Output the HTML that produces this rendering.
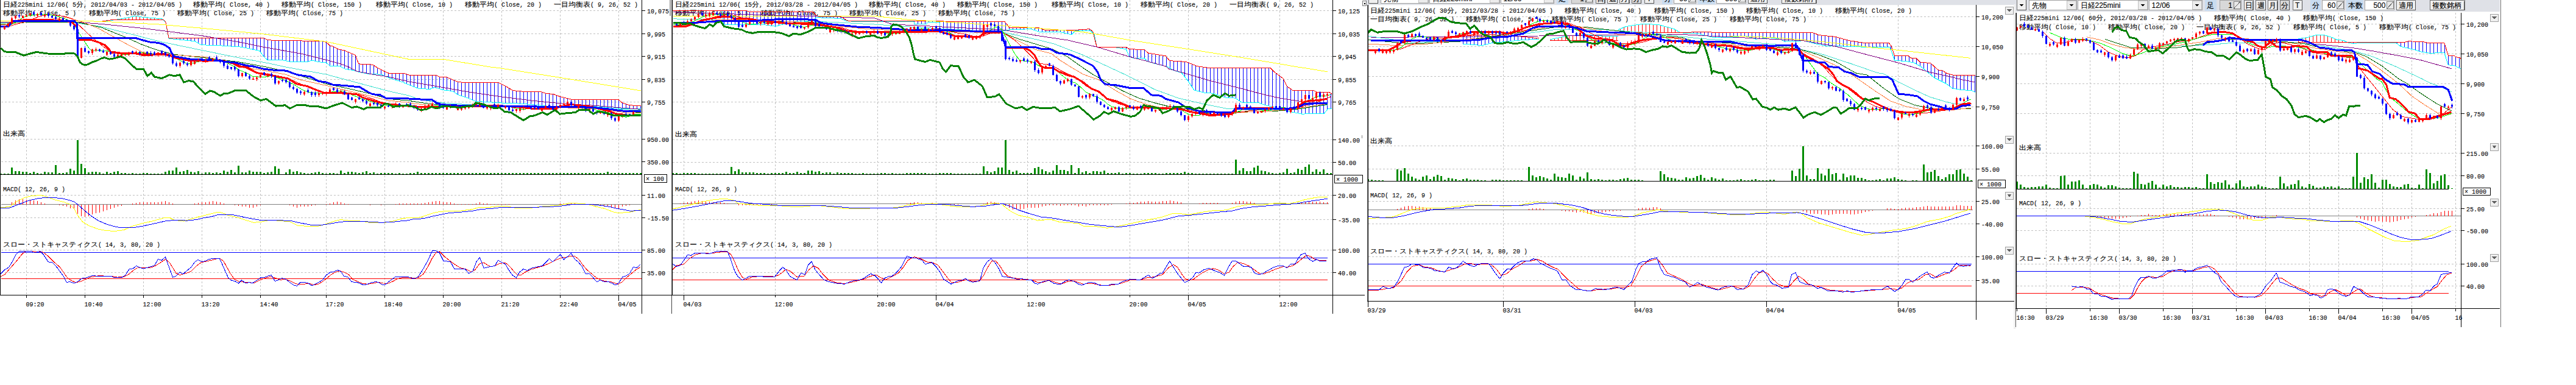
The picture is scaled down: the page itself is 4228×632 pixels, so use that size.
<!DOCTYPE html>
<html><head><meta charset="utf-8"><title>chart</title>
<style>
html,body{margin:0;padding:0;background:#fff;}
body{width:4228px;height:632px;overflow:hidden;font-family:"Liberation Mono",monospace;}
svg{display:block;position:absolute;left:0;top:0}
text{font-family:"Liberation Mono",monospace;font-size:11px;stroke:#000;stroke-width:0.12px;}
text.w{font-family:"Liberation Mono",monospace;font-size:11px;}
</style></head><body>
<svg width="4228" height="632" viewBox="0 0 4228 632" shape-rendering="crispEdges">
<rect x="2241" y="-11" width="1065" height="20" fill="#dfe1e7" />
<line x1="2241" y1="8.5" x2="3306" y2="8.5" stroke="#f8f8f8" stroke-width="1" />
<rect x="2246.5" y="-12" width="15" height="17.5" fill="#f0f0f0" stroke="#707070" stroke-width="1"/>
<line x1="2247.5" y1="5" x2="2261.5" y2="5" stroke="#505050" stroke-width="1" />
<line x1="2261" y1="-11" x2="2261" y2="5.5" stroke="#505050" stroke-width="1" />
<path d="M2250.5 -4.5 h7 l-3.5 4 z" fill="#000"/>
<rect x="2266.5" y="-10.5" width="78" height="16" fill="#fff" stroke="#a0a0a0" stroke-width="1"/>
<rect x="2328.5" y="-9.5" width="15" height="14" fill="#ececec" stroke="#c0c0c0" stroke-width="1"/>
<path d="M2332.5 -4 h7 l-3.5 4 z" fill="#000"/>
<text x="2270.5" y="2" style="font-family:'Liberation Sans',sans-serif;font-size:12px" fill="#000">先物</text>
<rect x="2346.5" y="-10.5" width="115" height="16" fill="#fff" stroke="#a0a0a0" stroke-width="1"/>
<rect x="2445.5" y="-9.5" width="15" height="14" fill="#ececec" stroke="#c0c0c0" stroke-width="1"/>
<path d="M2449.5 -4 h7 l-3.5 4 z" fill="#000"/>
<text x="2350.5" y="2" style="font-family:'Liberation Sans',sans-serif;font-size:12px" fill="#000">日経225mini</text>
<rect x="2463.5" y="-10.5" width="87" height="16" fill="#fff" stroke="#a0a0a0" stroke-width="1"/>
<rect x="2534.5" y="-9.5" width="15" height="14" fill="#ececec" stroke="#c0c0c0" stroke-width="1"/>
<path d="M2538.5 -4 h7 l-3.5 4 z" fill="#000"/>
<text x="2467.5" y="2" style="font-family:'Liberation Sans',sans-serif;font-size:12px" fill="#000">12/06</text>
<rect x="2555" y="-11" width="19" height="18" fill="#c9dcf0" />
<text x="2558" y="1.5" style="font-family:'Liberation Sans',sans-serif;font-size:12px" fill="#000">足</text>
<rect x="2579" y="-10.5" width="35" height="16" fill="#d8d8d8" stroke="#a0a0a0" stroke-width="1"/>
<rect x="2602" y="-8.5" width="11" height="12" fill="#e8e8e8" stroke="#808080" stroke-width="1"/>
<line x1="2602" y1="3.5" x2="2613" y2="-8.5" stroke="#606060" stroke-width="1" />
<text x="2593.3" y="2" style="font-family:'Liberation Sans',sans-serif;font-size:12px" fill="#000">1</text>
<rect x="2619.5" y="-10.5" width="14.5" height="16" fill="#f0f0f0" stroke="#707070" stroke-width="1"/>
<line x1="2620.5" y1="5" x2="2634" y2="5" stroke="#505050" stroke-width="1" />
<line x1="2633.5" y1="-9.5" x2="2633.5" y2="5.5" stroke="#505050" stroke-width="1" />
<text x="2621" y="2" style="font-family:'Liberation Sans',sans-serif;font-size:12px" fill="#000">日</text>
<rect x="2638.5" y="-10.5" width="16" height="16" fill="#f0f0f0" stroke="#707070" stroke-width="1"/>
<line x1="2639.5" y1="5" x2="2654.5" y2="5" stroke="#505050" stroke-width="1" />
<line x1="2654" y1="-9.5" x2="2654" y2="5.5" stroke="#505050" stroke-width="1" />
<text x="2640.5" y="2" style="font-family:'Liberation Sans',sans-serif;font-size:12px" fill="#000">週</text>
<rect x="2658.5" y="-10.5" width="15.5" height="16" fill="#f0f0f0" stroke="#707070" stroke-width="1"/>
<line x1="2659.5" y1="5" x2="2674" y2="5" stroke="#505050" stroke-width="1" />
<line x1="2673.5" y1="-9.5" x2="2673.5" y2="5.5" stroke="#505050" stroke-width="1" />
<text x="2660" y="2" style="font-family:'Liberation Sans',sans-serif;font-size:12px" fill="#000">月</text>
<rect x="2678.5" y="-10.5" width="15" height="16" fill="#d8d8d8" stroke="#707070" stroke-width="1"/>
<line x1="2679.5" y1="5" x2="2693.5" y2="5" stroke="#505050" stroke-width="1" />
<line x1="2693" y1="-9.5" x2="2693" y2="5.5" stroke="#505050" stroke-width="1" />
<text x="2680" y="2" style="font-family:'Liberation Sans',sans-serif;font-size:12px" fill="#000">分</text>
<rect x="2699.5" y="-10.5" width="15" height="16" fill="#f0f0f0" stroke="#707070" stroke-width="1"/>
<line x1="2700.5" y1="5" x2="2714.5" y2="5" stroke="#505050" stroke-width="1" />
<line x1="2714" y1="-9.5" x2="2714" y2="5.5" stroke="#505050" stroke-width="1" />
<text x="2703" y="2" style="font-family:'Liberation Sans',sans-serif;font-size:12px" fill="#000">T</text>
<rect x="2727.5" y="-11" width="17" height="18" fill="#c9dcf0" />
<text x="2730.5" y="1.5" style="font-family:'Liberation Sans',sans-serif;font-size:12px" fill="#000">分</text>
<rect x="2747" y="-10.5" width="36.5" height="16" fill="#fff" stroke="#a0a0a0" stroke-width="1"/>
<rect x="2771.5" y="-8.5" width="11" height="12" fill="#e8e8e8" stroke="#808080" stroke-width="1"/>
<line x1="2771.5" y1="3.5" x2="2782.5" y2="-8.5" stroke="#606060" stroke-width="1" />
<text x="2756.1" y="2" style="font-family:'Liberation Sans',sans-serif;font-size:12px" fill="#000">60</text>
<rect x="2787" y="-11" width="27.5" height="18" fill="#c9dcf0" />
<text x="2790" y="1.5" style="font-family:'Liberation Sans',sans-serif;font-size:12px" fill="#000">本数</text>
<rect x="2817" y="-10.5" width="48.5" height="16" fill="#fff" stroke="#a0a0a0" stroke-width="1"/>
<rect x="2853.5" y="-8.5" width="11" height="12" fill="#e8e8e8" stroke="#808080" stroke-width="1"/>
<line x1="2853.5" y1="3.5" x2="2864.5" y2="-8.5" stroke="#606060" stroke-width="1" />
<text x="2831.4" y="2" style="font-family:'Liberation Sans',sans-serif;font-size:12px" fill="#000">500</text>
<rect x="2869" y="-10.5" width="31.5" height="16" fill="#f0f0f0" stroke="#707070" stroke-width="1"/>
<line x1="2870" y1="5" x2="2900.5" y2="5" stroke="#505050" stroke-width="1" />
<line x1="2900" y1="-9.5" x2="2900" y2="5.5" stroke="#505050" stroke-width="1" />
<text x="2873" y="2" style="font-family:'Liberation Sans',sans-serif;font-size:12px" fill="#000">適用</text>
<rect x="2924" y="-10.5" width="57" height="16" fill="#f0f0f0" stroke="#707070" stroke-width="1"/>
<line x1="2925" y1="5" x2="2981" y2="5" stroke="#505050" stroke-width="1" />
<line x1="2980.5" y1="-9.5" x2="2980.5" y2="5.5" stroke="#505050" stroke-width="1" />
<text x="2928" y="2" style="font-family:'Liberation Sans',sans-serif;font-size:12px" fill="#000">複数銘柄</text>
<rect x="3306" y="0" width="797" height="20" fill="#dfe1e7" />
<line x1="3306" y1="19.5" x2="4103" y2="19.5" stroke="#f8f8f8" stroke-width="1" />
<rect x="3310.5" y="-1" width="15" height="17.5" fill="#f0f0f0" stroke="#707070" stroke-width="1"/>
<line x1="3311.5" y1="16" x2="3325.5" y2="16" stroke="#505050" stroke-width="1" />
<line x1="3325" y1="0" x2="3325" y2="16.5" stroke="#505050" stroke-width="1" />
<path d="M3314.5 6.5 h7 l-3.5 4 z" fill="#000"/>
<rect x="3330.5" y="0.5" width="78" height="16" fill="#fff" stroke="#a0a0a0" stroke-width="1"/>
<rect x="3392.5" y="1.5" width="15" height="14" fill="#ececec" stroke="#c0c0c0" stroke-width="1"/>
<path d="M3396.5 7 h7 l-3.5 4 z" fill="#000"/>
<text x="3334.5" y="13" style="font-family:'Liberation Sans',sans-serif;font-size:12px" fill="#000">先物</text>
<rect x="3410.5" y="0.5" width="115" height="16" fill="#fff" stroke="#a0a0a0" stroke-width="1"/>
<rect x="3509.5" y="1.5" width="15" height="14" fill="#ececec" stroke="#c0c0c0" stroke-width="1"/>
<path d="M3513.5 7 h7 l-3.5 4 z" fill="#000"/>
<text x="3414.5" y="13" style="font-family:'Liberation Sans',sans-serif;font-size:12px" fill="#000">日経225mini</text>
<rect x="3527.5" y="0.5" width="87" height="16" fill="#fff" stroke="#a0a0a0" stroke-width="1"/>
<rect x="3598.5" y="1.5" width="15" height="14" fill="#ececec" stroke="#c0c0c0" stroke-width="1"/>
<path d="M3602.5 7 h7 l-3.5 4 z" fill="#000"/>
<text x="3531.5" y="13" style="font-family:'Liberation Sans',sans-serif;font-size:12px" fill="#000">12/06</text>
<rect x="3619" y="0" width="19" height="18" fill="#c9dcf0" />
<text x="3622" y="12.5" style="font-family:'Liberation Sans',sans-serif;font-size:12px" fill="#000">足</text>
<rect x="3643" y="0.5" width="35" height="16" fill="#d8d8d8" stroke="#a0a0a0" stroke-width="1"/>
<rect x="3666" y="2.5" width="11" height="12" fill="#e8e8e8" stroke="#808080" stroke-width="1"/>
<line x1="3666" y1="14.5" x2="3677" y2="2.5" stroke="#606060" stroke-width="1" />
<text x="3657.3" y="13" style="font-family:'Liberation Sans',sans-serif;font-size:12px" fill="#000">1</text>
<rect x="3683.5" y="0.5" width="14.5" height="16" fill="#f0f0f0" stroke="#707070" stroke-width="1"/>
<line x1="3684.5" y1="16" x2="3698" y2="16" stroke="#505050" stroke-width="1" />
<line x1="3697.5" y1="1.5" x2="3697.5" y2="16.5" stroke="#505050" stroke-width="1" />
<text x="3685" y="13" style="font-family:'Liberation Sans',sans-serif;font-size:12px" fill="#000">日</text>
<rect x="3702.5" y="0.5" width="16" height="16" fill="#f0f0f0" stroke="#707070" stroke-width="1"/>
<line x1="3703.5" y1="16" x2="3718.5" y2="16" stroke="#505050" stroke-width="1" />
<line x1="3718" y1="1.5" x2="3718" y2="16.5" stroke="#505050" stroke-width="1" />
<text x="3704.5" y="13" style="font-family:'Liberation Sans',sans-serif;font-size:12px" fill="#000">週</text>
<rect x="3722.5" y="0.5" width="15.5" height="16" fill="#f0f0f0" stroke="#707070" stroke-width="1"/>
<line x1="3723.5" y1="16" x2="3738" y2="16" stroke="#505050" stroke-width="1" />
<line x1="3737.5" y1="1.5" x2="3737.5" y2="16.5" stroke="#505050" stroke-width="1" />
<text x="3724" y="13" style="font-family:'Liberation Sans',sans-serif;font-size:12px" fill="#000">月</text>
<rect x="3742.5" y="0.5" width="15" height="16" fill="#d8d8d8" stroke="#707070" stroke-width="1"/>
<line x1="3743.5" y1="16" x2="3757.5" y2="16" stroke="#505050" stroke-width="1" />
<line x1="3757" y1="1.5" x2="3757" y2="16.5" stroke="#505050" stroke-width="1" />
<text x="3744" y="13" style="font-family:'Liberation Sans',sans-serif;font-size:12px" fill="#000">分</text>
<rect x="3763.5" y="0.5" width="15" height="16" fill="#f0f0f0" stroke="#707070" stroke-width="1"/>
<line x1="3764.5" y1="16" x2="3778.5" y2="16" stroke="#505050" stroke-width="1" />
<line x1="3778" y1="1.5" x2="3778" y2="16.5" stroke="#505050" stroke-width="1" />
<text x="3767" y="13" style="font-family:'Liberation Sans',sans-serif;font-size:12px" fill="#000">T</text>
<rect x="3791.5" y="0" width="17" height="18" fill="#c9dcf0" />
<text x="3794.5" y="12.5" style="font-family:'Liberation Sans',sans-serif;font-size:12px" fill="#000">分</text>
<rect x="3811" y="0.5" width="36.5" height="16" fill="#fff" stroke="#a0a0a0" stroke-width="1"/>
<rect x="3835.5" y="2.5" width="11" height="12" fill="#e8e8e8" stroke="#808080" stroke-width="1"/>
<line x1="3835.5" y1="14.5" x2="3846.5" y2="2.5" stroke="#606060" stroke-width="1" />
<text x="3820.1" y="13" style="font-family:'Liberation Sans',sans-serif;font-size:12px" fill="#000">60</text>
<rect x="3851" y="0" width="27.5" height="18" fill="#c9dcf0" />
<text x="3854" y="12.5" style="font-family:'Liberation Sans',sans-serif;font-size:12px" fill="#000">本数</text>
<rect x="3881" y="0.5" width="48.5" height="16" fill="#fff" stroke="#a0a0a0" stroke-width="1"/>
<rect x="3917.5" y="2.5" width="11" height="12" fill="#e8e8e8" stroke="#808080" stroke-width="1"/>
<line x1="3917.5" y1="14.5" x2="3928.5" y2="2.5" stroke="#606060" stroke-width="1" />
<text x="3895.4" y="13" style="font-family:'Liberation Sans',sans-serif;font-size:12px" fill="#000">500</text>
<rect x="3933" y="0.5" width="31.5" height="16" fill="#f0f0f0" stroke="#707070" stroke-width="1"/>
<line x1="3934" y1="16" x2="3964.5" y2="16" stroke="#505050" stroke-width="1" />
<line x1="3964" y1="1.5" x2="3964" y2="16.5" stroke="#505050" stroke-width="1" />
<text x="3937" y="13" style="font-family:'Liberation Sans',sans-serif;font-size:12px" fill="#000">適用</text>
<rect x="3988" y="0.5" width="57" height="16" fill="#f0f0f0" stroke="#707070" stroke-width="1"/>
<line x1="3989" y1="16" x2="4045" y2="16" stroke="#505050" stroke-width="1" />
<line x1="4044.5" y1="1.5" x2="4044.5" y2="16.5" stroke="#505050" stroke-width="1" />
<text x="3992" y="13" style="font-family:'Liberation Sans',sans-serif;font-size:12px" fill="#000">複数銘柄</text>
<rect x="3305" y="7" width="3" height="533" fill="#f0f0f0" />
<rect x="2236.5" y="1.5" width="6" height="8" fill="#f0f0f0" stroke="#808080" stroke-width="1"/>
<path d="M2238 4.5 h4 l-2 3 z" fill="#000"/>
<rect x="2234" y="222" width="3" height="5" fill="#d0d0d0" />
<line x1="43.5" y1="0" x2="43.5" y2="484" stroke="#c0c0c0" stroke-width="1" stroke-dasharray="3 3"/>
<line x1="139.5" y1="0" x2="139.5" y2="484" stroke="#c0c0c0" stroke-width="1" stroke-dasharray="3 3"/>
<line x1="235.5" y1="0" x2="235.5" y2="484" stroke="#c0c0c0" stroke-width="1" stroke-dasharray="3 3"/>
<line x1="331.5" y1="0" x2="331.5" y2="484" stroke="#c0c0c0" stroke-width="1" stroke-dasharray="3 3"/>
<line x1="427.5" y1="0" x2="427.5" y2="484" stroke="#c0c0c0" stroke-width="1" stroke-dasharray="3 3"/>
<line x1="535.5" y1="0" x2="535.5" y2="484" stroke="#c0c0c0" stroke-width="1" stroke-dasharray="3 3"/>
<line x1="631.5" y1="0" x2="631.5" y2="484" stroke="#c0c0c0" stroke-width="1" stroke-dasharray="3 3"/>
<line x1="727.5" y1="0" x2="727.5" y2="484" stroke="#c0c0c0" stroke-width="1" stroke-dasharray="3 3"/>
<line x1="823.5" y1="0" x2="823.5" y2="484" stroke="#c0c0c0" stroke-width="1" stroke-dasharray="3 3"/>
<line x1="919.5" y1="0" x2="919.5" y2="484" stroke="#c0c0c0" stroke-width="1" stroke-dasharray="3 3"/>
<line x1="1015.5" y1="0" x2="1015.5" y2="484" stroke="#c0c0c0" stroke-width="1" stroke-dasharray="3 3"/>
<line x1="2" y1="17.5" x2="1053" y2="17.5" stroke="#c0c0c0" stroke-width="1" stroke-dasharray="3 3"/>
<line x1="2" y1="55.5" x2="1053" y2="55.5" stroke="#c0c0c0" stroke-width="1" stroke-dasharray="3 3"/>
<line x1="2" y1="92.5" x2="1053" y2="92.5" stroke="#c0c0c0" stroke-width="1" stroke-dasharray="3 3"/>
<line x1="2" y1="130.5" x2="1053" y2="130.5" stroke="#c0c0c0" stroke-width="1" stroke-dasharray="3 3"/>
<line x1="2" y1="167.5" x2="1053" y2="167.5" stroke="#c0c0c0" stroke-width="1" stroke-dasharray="3 3"/>
<line x1="2" y1="228.5" x2="1053" y2="228.5" stroke="#c0c0c0" stroke-width="1" stroke-dasharray="3 3"/>
<line x1="2" y1="265.5" x2="1053" y2="265.5" stroke="#c0c0c0" stroke-width="1" stroke-dasharray="3 3"/>
<line x1="2" y1="320.5" x2="1053" y2="320.5" stroke="#c0c0c0" stroke-width="1" stroke-dasharray="3 3"/>
<line x1="2" y1="357.5" x2="1053" y2="357.5" stroke="#c0c0c0" stroke-width="1" stroke-dasharray="3 3"/>
<line x1="2" y1="410.5" x2="1053" y2="410.5" stroke="#c0c0c0" stroke-width="1" stroke-dasharray="3 3"/>
<line x1="2" y1="447.5" x2="1053" y2="447.5" stroke="#c0c0c0" stroke-width="1" stroke-dasharray="3 3"/>
<text x="5" y="11.1" textLength="24" lengthAdjust="spacingAndGlyphs" class="w" fill="#000">日経</text>
<text x="29" y="11.1" textLength="96" lengthAdjust="spacingAndGlyphs" class="n" fill="#000" xml:space="preserve">225mini 12/06( 5</text>
<text x="125" y="11.1" textLength="12" lengthAdjust="spacingAndGlyphs" class="w" fill="#000">分</text>
<text x="137" y="11.1" textLength="162" lengthAdjust="spacingAndGlyphs" class="n" fill="#000" xml:space="preserve">, 2012/04/03 - 2012/04/05 )</text>
<text x="317" y="11.1" textLength="48" lengthAdjust="spacingAndGlyphs" class="w" fill="#000">移動平均</text>
<text x="365" y="11.1" textLength="78" lengthAdjust="spacingAndGlyphs" class="n" fill="#000" xml:space="preserve">( Close, 40 )</text>
<text x="462" y="11.1" textLength="48" lengthAdjust="spacingAndGlyphs" class="w" fill="#000">移動平均</text>
<text x="510" y="11.1" textLength="84" lengthAdjust="spacingAndGlyphs" class="n" fill="#000" xml:space="preserve">( Close, 150 )</text>
<text x="617" y="11.1" textLength="48" lengthAdjust="spacingAndGlyphs" class="w" fill="#000">移動平均</text>
<text x="665" y="11.1" textLength="78" lengthAdjust="spacingAndGlyphs" class="n" fill="#000" xml:space="preserve">( Close, 10 )</text>
<text x="763" y="11.1" textLength="48" lengthAdjust="spacingAndGlyphs" class="w" fill="#000">移動平均</text>
<text x="811" y="11.1" textLength="78" lengthAdjust="spacingAndGlyphs" class="n" fill="#000" xml:space="preserve">( Close, 20 )</text>
<text x="909" y="11.1" textLength="60" lengthAdjust="spacingAndGlyphs" class="w" fill="#000">一目均衡表</text>
<text x="969" y="11.1" textLength="78" lengthAdjust="spacingAndGlyphs" class="n" fill="#000" xml:space="preserve">( 9, 26, 52 )</text>
<text x="5" y="24.6" textLength="48" lengthAdjust="spacingAndGlyphs" class="w" fill="#000">移動平均</text>
<text x="53" y="24.6" textLength="72" lengthAdjust="spacingAndGlyphs" class="n" fill="#000" xml:space="preserve">( Close, 5 )</text>
<text x="146" y="24.6" textLength="48" lengthAdjust="spacingAndGlyphs" class="w" fill="#000">移動平均</text>
<text x="194" y="24.6" textLength="78" lengthAdjust="spacingAndGlyphs" class="n" fill="#000" xml:space="preserve">( Close, 75 )</text>
<text x="291" y="24.6" textLength="48" lengthAdjust="spacingAndGlyphs" class="w" fill="#000">移動平均</text>
<text x="339" y="24.6" textLength="78" lengthAdjust="spacingAndGlyphs" class="n" fill="#000" xml:space="preserve">( Close, 25 )</text>
<text x="437" y="24.6" textLength="48" lengthAdjust="spacingAndGlyphs" class="w" fill="#000">移動平均</text>
<text x="485" y="24.6" textLength="78" lengthAdjust="spacingAndGlyphs" class="n" fill="#000" xml:space="preserve">( Close, 75 )</text>
<text x="5" y="223.1" textLength="36" lengthAdjust="spacingAndGlyphs" class="w" fill="#000">出来高</text>
<text x="5" y="314.1" textLength="102" lengthAdjust="spacingAndGlyphs" class="n" fill="#000" xml:space="preserve">MACD( 12, 26, 9 )</text>
<text x="5" y="405.1" textLength="156" lengthAdjust="spacingAndGlyphs" class="w" fill="#000">スロー・ストキャスティクス</text>
<text x="161" y="405.1" textLength="102" lengthAdjust="spacingAndGlyphs" class="n" fill="#000" xml:space="preserve">( 14, 3, 80, 20 )</text>
<line x1="199.5" y1="32.1" x2="199.5" y2="30.7" stroke="#ff0000" stroke-width="1" />
<line x1="205.5" y1="32.1" x2="205.5" y2="29.6" stroke="#ff0000" stroke-width="1" />
<line x1="211.5" y1="32.1" x2="211.5" y2="28.5" stroke="#ff0000" stroke-width="1" />
<line x1="217.5" y1="32.1" x2="217.5" y2="27.2" stroke="#ff0000" stroke-width="1" />
<line x1="223.5" y1="32.1" x2="223.5" y2="26.3" stroke="#ff0000" stroke-width="1" />
<line x1="229.5" y1="32.1" x2="229.5" y2="27.4" stroke="#ff0000" stroke-width="1" />
<line x1="235.5" y1="32.1" x2="235.5" y2="28.3" stroke="#ff0000" stroke-width="1" />
<line x1="241.5" y1="32.1" x2="241.5" y2="28.8" stroke="#ff0000" stroke-width="1" />
<line x1="247.5" y1="32.1" x2="247.5" y2="29.3" stroke="#ff0000" stroke-width="1" />
<line x1="253.5" y1="32.1" x2="253.5" y2="29.8" stroke="#ff0000" stroke-width="1" />
<line x1="259.5" y1="32.1" x2="259.5" y2="30.3" stroke="#ff0000" stroke-width="1" />
<line x1="265.5" y1="32.1" x2="265.5" y2="31" stroke="#ff0000" stroke-width="1" />
<line x1="277.5" y1="62" x2="277.5" y2="63.4" stroke="#0000ff" stroke-width="1" />
<line x1="283.5" y1="62" x2="283.5" y2="64" stroke="#0000ff" stroke-width="1" />
<line x1="289.5" y1="62" x2="289.5" y2="64.6" stroke="#0000ff" stroke-width="1" />
<line x1="295.5" y1="62" x2="295.5" y2="65.2" stroke="#0000ff" stroke-width="1" />
<line x1="301.5" y1="62" x2="301.5" y2="65.8" stroke="#0000ff" stroke-width="1" />
<line x1="307.5" y1="62" x2="307.5" y2="66.5" stroke="#0000ff" stroke-width="1" />
<line x1="313.5" y1="62" x2="313.5" y2="67.1" stroke="#0000ff" stroke-width="1" />
<line x1="319.5" y1="62" x2="319.5" y2="67.7" stroke="#0000ff" stroke-width="1" />
<line x1="325.5" y1="62" x2="325.5" y2="71" stroke="#0000ff" stroke-width="1" />
<line x1="331.5" y1="62" x2="331.5" y2="73.8" stroke="#0000ff" stroke-width="1" />
<line x1="337.5" y1="62" x2="337.5" y2="74" stroke="#0000ff" stroke-width="1" />
<line x1="343.5" y1="62" x2="343.5" y2="74.2" stroke="#0000ff" stroke-width="1" />
<line x1="349.5" y1="62" x2="349.5" y2="74.5" stroke="#0000ff" stroke-width="1" />
<line x1="355.5" y1="62" x2="355.5" y2="74.7" stroke="#0000ff" stroke-width="1" />
<line x1="361.5" y1="62" x2="361.5" y2="74.9" stroke="#0000ff" stroke-width="1" />
<line x1="367.5" y1="62" x2="367.5" y2="75.2" stroke="#0000ff" stroke-width="1" />
<line x1="373.5" y1="62" x2="373.5" y2="75.6" stroke="#0000ff" stroke-width="1" />
<line x1="379.5" y1="62" x2="379.5" y2="76" stroke="#0000ff" stroke-width="1" />
<line x1="385.5" y1="62" x2="385.5" y2="76.4" stroke="#0000ff" stroke-width="1" />
<line x1="391.5" y1="62" x2="391.5" y2="76.8" stroke="#0000ff" stroke-width="1" />
<line x1="397.5" y1="62" x2="397.5" y2="77.5" stroke="#0000ff" stroke-width="1" />
<line x1="403.5" y1="62" x2="403.5" y2="78.7" stroke="#0000ff" stroke-width="1" />
<line x1="409.5" y1="62" x2="409.5" y2="80" stroke="#0000ff" stroke-width="1" />
<line x1="415.5" y1="62" x2="415.5" y2="81.2" stroke="#0000ff" stroke-width="1" />
<line x1="421.5" y1="62" x2="421.5" y2="82.5" stroke="#0000ff" stroke-width="1" />
<line x1="427.5" y1="62" x2="427.5" y2="85.4" stroke="#0000ff" stroke-width="1" />
<line x1="433.5" y1="62.9" x2="433.5" y2="93.4" stroke="#0000ff" stroke-width="1" />
<line x1="439.5" y1="65.9" x2="439.5" y2="98.4" stroke="#0000ff" stroke-width="1" />
<line x1="445.5" y1="66" x2="445.5" y2="98.6" stroke="#0000ff" stroke-width="1" />
<line x1="451.5" y1="66.2" x2="451.5" y2="98.7" stroke="#0000ff" stroke-width="1" />
<line x1="457.5" y1="66.3" x2="457.5" y2="98.8" stroke="#0000ff" stroke-width="1" />
<line x1="463.5" y1="66.4" x2="463.5" y2="99" stroke="#0000ff" stroke-width="1" />
<line x1="469.5" y1="66.5" x2="469.5" y2="99.9" stroke="#0000ff" stroke-width="1" />
<line x1="475.5" y1="66.6" x2="475.5" y2="101" stroke="#0000ff" stroke-width="1" />
<line x1="481.5" y1="66.8" x2="481.5" y2="102" stroke="#0000ff" stroke-width="1" />
<line x1="487.5" y1="66.9" x2="487.5" y2="101.9" stroke="#0000ff" stroke-width="1" />
<line x1="493.5" y1="67" x2="493.5" y2="101.8" stroke="#0000ff" stroke-width="1" />
<line x1="499.5" y1="67.1" x2="499.5" y2="101.7" stroke="#0000ff" stroke-width="1" />
<line x1="505.5" y1="67.2" x2="505.5" y2="101.1" stroke="#0000ff" stroke-width="1" />
<line x1="511.5" y1="67.4" x2="511.5" y2="99.1" stroke="#0000ff" stroke-width="1" />
<line x1="517.5" y1="67.5" x2="517.5" y2="100.5" stroke="#0000ff" stroke-width="1" />
<line x1="523.5" y1="67.6" x2="523.5" y2="101.8" stroke="#0000ff" stroke-width="1" />
<line x1="529.5" y1="67.7" x2="529.5" y2="102.3" stroke="#0000ff" stroke-width="1" />
<line x1="535.5" y1="69.7" x2="535.5" y2="103.3" stroke="#0000ff" stroke-width="1" />
<line x1="541.5" y1="74.7" x2="541.5" y2="107.9" stroke="#0000ff" stroke-width="1" />
<line x1="547.5" y1="76.6" x2="547.5" y2="108" stroke="#0000ff" stroke-width="1" />
<line x1="553.5" y1="80" x2="553.5" y2="108" stroke="#0000ff" stroke-width="1" />
<line x1="559.5" y1="81.7" x2="559.5" y2="109.8" stroke="#0000ff" stroke-width="1" />
<line x1="565.5" y1="82.9" x2="565.5" y2="112.8" stroke="#0000ff" stroke-width="1" />
<line x1="571.5" y1="85.5" x2="571.5" y2="114" stroke="#0000ff" stroke-width="1" />
<line x1="577.5" y1="88.1" x2="577.5" y2="115.2" stroke="#0000ff" stroke-width="1" />
<line x1="583.5" y1="90.8" x2="583.5" y2="116.5" stroke="#0000ff" stroke-width="1" />
<line x1="589.5" y1="105" x2="589.5" y2="118.2" stroke="#0000ff" stroke-width="1" />
<line x1="595.5" y1="105.3" x2="595.5" y2="119.5" stroke="#0000ff" stroke-width="1" />
<line x1="601.5" y1="105.6" x2="601.5" y2="120.8" stroke="#0000ff" stroke-width="1" />
<line x1="607.5" y1="106" x2="607.5" y2="121.3" stroke="#0000ff" stroke-width="1" />
<line x1="613.5" y1="107.2" x2="613.5" y2="121.7" stroke="#0000ff" stroke-width="1" />
<line x1="619.5" y1="111.1" x2="619.5" y2="122" stroke="#0000ff" stroke-width="1" />
<line x1="625.5" y1="114.3" x2="625.5" y2="122.3" stroke="#0000ff" stroke-width="1" />
<line x1="631.5" y1="117.4" x2="631.5" y2="124.9" stroke="#0000ff" stroke-width="1" />
<line x1="637.5" y1="120" x2="637.5" y2="127.3" stroke="#0000ff" stroke-width="1" />
<line x1="643.5" y1="120.4" x2="643.5" y2="129.4" stroke="#0000ff" stroke-width="1" />
<line x1="649.5" y1="120.5" x2="649.5" y2="131.5" stroke="#0000ff" stroke-width="1" />
<line x1="655.5" y1="120.6" x2="655.5" y2="133.2" stroke="#0000ff" stroke-width="1" />
<line x1="661.5" y1="120.8" x2="661.5" y2="134.9" stroke="#0000ff" stroke-width="1" />
<line x1="667.5" y1="121.9" x2="667.5" y2="137.8" stroke="#0000ff" stroke-width="1" />
<line x1="673.5" y1="123.4" x2="673.5" y2="140.2" stroke="#0000ff" stroke-width="1" />
<line x1="679.5" y1="123.4" x2="679.5" y2="142.5" stroke="#0000ff" stroke-width="1" />
<line x1="685.5" y1="123.4" x2="685.5" y2="144.8" stroke="#0000ff" stroke-width="1" />
<line x1="691.5" y1="123.4" x2="691.5" y2="145.7" stroke="#0000ff" stroke-width="1" />
<line x1="697.5" y1="123.4" x2="697.5" y2="145.9" stroke="#0000ff" stroke-width="1" />
<line x1="703.5" y1="123.4" x2="703.5" y2="146.2" stroke="#0000ff" stroke-width="1" />
<line x1="709.5" y1="123.4" x2="709.5" y2="144.8" stroke="#0000ff" stroke-width="1" />
<line x1="715.5" y1="123.4" x2="715.5" y2="144.1" stroke="#0000ff" stroke-width="1" />
<line x1="721.5" y1="126" x2="721.5" y2="145.8" stroke="#0000ff" stroke-width="1" />
<line x1="727.5" y1="126" x2="727.5" y2="147.6" stroke="#0000ff" stroke-width="1" />
<line x1="733.5" y1="126.8" x2="733.5" y2="148.6" stroke="#0000ff" stroke-width="1" />
<line x1="739.5" y1="129.4" x2="739.5" y2="149.2" stroke="#0000ff" stroke-width="1" />
<line x1="745.5" y1="131.9" x2="745.5" y2="151.5" stroke="#0000ff" stroke-width="1" />
<line x1="751.5" y1="134.1" x2="751.5" y2="155.3" stroke="#0000ff" stroke-width="1" />
<line x1="757.5" y1="135.1" x2="757.5" y2="157.6" stroke="#0000ff" stroke-width="1" />
<line x1="763.5" y1="135.1" x2="763.5" y2="159.6" stroke="#0000ff" stroke-width="1" />
<line x1="769.5" y1="135.1" x2="769.5" y2="161.7" stroke="#0000ff" stroke-width="1" />
<line x1="775.5" y1="135.1" x2="775.5" y2="164.1" stroke="#0000ff" stroke-width="1" />
<line x1="781.5" y1="135.1" x2="781.5" y2="166.3" stroke="#0000ff" stroke-width="1" />
<line x1="787.5" y1="135.1" x2="787.5" y2="166.7" stroke="#0000ff" stroke-width="1" />
<line x1="793.5" y1="135.1" x2="793.5" y2="167.1" stroke="#0000ff" stroke-width="1" />
<line x1="799.5" y1="135.1" x2="799.5" y2="167.5" stroke="#0000ff" stroke-width="1" />
<line x1="805.5" y1="135.1" x2="805.5" y2="167.9" stroke="#0000ff" stroke-width="1" />
<line x1="811.5" y1="135.1" x2="811.5" y2="168.3" stroke="#0000ff" stroke-width="1" />
<line x1="817.5" y1="135.1" x2="817.5" y2="168.7" stroke="#0000ff" stroke-width="1" />
<line x1="823.5" y1="138.1" x2="823.5" y2="169" stroke="#0000ff" stroke-width="1" />
<line x1="829.5" y1="141.3" x2="829.5" y2="169.2" stroke="#0000ff" stroke-width="1" />
<line x1="835.5" y1="144.9" x2="835.5" y2="169.4" stroke="#0000ff" stroke-width="1" />
<line x1="841.5" y1="148.2" x2="841.5" y2="169.6" stroke="#0000ff" stroke-width="1" />
<line x1="847.5" y1="149.3" x2="847.5" y2="169.8" stroke="#0000ff" stroke-width="1" />
<line x1="853.5" y1="150" x2="853.5" y2="170.2" stroke="#0000ff" stroke-width="1" />
<line x1="859.5" y1="150.1" x2="859.5" y2="170.6" stroke="#0000ff" stroke-width="1" />
<line x1="865.5" y1="150.2" x2="865.5" y2="171.1" stroke="#0000ff" stroke-width="1" />
<line x1="871.5" y1="150.4" x2="871.5" y2="171.5" stroke="#0000ff" stroke-width="1" />
<line x1="877.5" y1="150.5" x2="877.5" y2="172.1" stroke="#0000ff" stroke-width="1" />
<line x1="883.5" y1="150.6" x2="883.5" y2="172.7" stroke="#0000ff" stroke-width="1" />
<line x1="889.5" y1="151.3" x2="889.5" y2="173.3" stroke="#0000ff" stroke-width="1" />
<line x1="895.5" y1="153.3" x2="895.5" y2="173.9" stroke="#0000ff" stroke-width="1" />
<line x1="901.5" y1="153.9" x2="901.5" y2="174.3" stroke="#0000ff" stroke-width="1" />
<line x1="907.5" y1="154.5" x2="907.5" y2="174.6" stroke="#0000ff" stroke-width="1" />
<line x1="913.5" y1="156.5" x2="913.5" y2="174.9" stroke="#0000ff" stroke-width="1" />
<line x1="919.5" y1="158.7" x2="919.5" y2="175.2" stroke="#0000ff" stroke-width="1" />
<line x1="925.5" y1="160.2" x2="925.5" y2="175.4" stroke="#0000ff" stroke-width="1" />
<line x1="931.5" y1="161.7" x2="931.5" y2="175.1" stroke="#0000ff" stroke-width="1" />
<line x1="937.5" y1="163.2" x2="937.5" y2="174.8" stroke="#0000ff" stroke-width="1" />
<line x1="943.5" y1="163.7" x2="943.5" y2="174.5" stroke="#0000ff" stroke-width="1" />
<line x1="949.5" y1="163.7" x2="949.5" y2="174.2" stroke="#0000ff" stroke-width="1" />
<line x1="955.5" y1="163.7" x2="955.5" y2="174.3" stroke="#0000ff" stroke-width="1" />
<line x1="961.5" y1="163.7" x2="961.5" y2="174.5" stroke="#0000ff" stroke-width="1" />
<line x1="967.5" y1="163.7" x2="967.5" y2="174.6" stroke="#0000ff" stroke-width="1" />
<line x1="973.5" y1="163.7" x2="973.5" y2="174.8" stroke="#0000ff" stroke-width="1" />
<line x1="979.5" y1="163.7" x2="979.5" y2="175.2" stroke="#0000ff" stroke-width="1" />
<line x1="985.5" y1="163.7" x2="985.5" y2="175.6" stroke="#0000ff" stroke-width="1" />
<line x1="991.5" y1="163.7" x2="991.5" y2="176.1" stroke="#0000ff" stroke-width="1" />
<line x1="997.5" y1="163.7" x2="997.5" y2="176.6" stroke="#0000ff" stroke-width="1" />
<line x1="1003.5" y1="163.7" x2="1003.5" y2="177.1" stroke="#0000ff" stroke-width="1" />
<line x1="1009.5" y1="163.7" x2="1009.5" y2="177.6" stroke="#0000ff" stroke-width="1" />
<line x1="1015.5" y1="164" x2="1015.5" y2="178" stroke="#0000ff" stroke-width="1" />
<line x1="1021.5" y1="168.8" x2="1021.5" y2="178" stroke="#0000ff" stroke-width="1" />
<line x1="1027.5" y1="170.9" x2="1027.5" y2="178" stroke="#0000ff" stroke-width="1" />
<line x1="1033.5" y1="172.8" x2="1033.5" y2="178" stroke="#0000ff" stroke-width="1" />
<line x1="1039.5" y1="173.1" x2="1039.5" y2="178" stroke="#0000ff" stroke-width="1" />
<line x1="1045.5" y1="173.3" x2="1045.5" y2="178" stroke="#0000ff" stroke-width="1" />
<line x1="1051.5" y1="173.6" x2="1051.5" y2="178" stroke="#0000ff" stroke-width="1" />
<polyline points="166.4,35.2 187.3,32.9 213.3,28.2 222.4,26.1 234.1,28.2 265.3,30.8 271.8,36 277,63.3 319.9,67.7 330.3,73.7 364.1,75 395.3,77.1 400,78 426,83.4 433.8,93.8 439,98.4 465,99 480.5,102 504,101.6 511.7,99 522,101.6 535,102.9 541.6,108 556,108 566,113 582,116 587,117.7 602.6,121 615.6,121.8 626,122.3 633.8,126 649,131.4 662,135 664.1,136.4 677.1,141.6 687.5,145.5 705.7,146.3 712.2,143.7 716.1,144.2 729.1,148.1 742.1,149.4 752.5,155.9 768.1,161.1 781.1,166.3 820.1,168.9 846.1,169.7 872.1,171.5 898.1,174.1 924.1,175.4 950.2,174.1 976.2,174.9 1015.2,178 1051.6,178" fill="none" stroke="#00ffff" stroke-width="1" />
<polyline points="166.4,35.2 187.3,32.1 267.9,32.1 271.8,36 274.4,49 277,62 332.9,62 431.7,62 439.5,65.9 530.6,67.7 535.8,69.8 541.8,75 547,76.3 554.8,80.7 565.2,82.8 583.4,90.6 588.6,104.9 612.1,106.2 617.3,109.9 630.3,116.9 638.1,120.3 664.1,120.8 671.9,123.4 716.1,123.4 721.3,126 731.7,126 749.9,133.8 757.7,135.1 817.5,135.1 827.9,140.3 840.9,148.1 851.3,149.9 887.7,150.7 895.5,153.3 908.5,154.6 918.9,158.5 939.8,163.7 1015.2,163.7 1021.7,168.9 1033.4,172.8 1051.6,173.6" fill="none" stroke="#ff0000" stroke-width="1" />
<polyline points="0,34.7 78,33.9 166.4,35.2 260.1,39.9 332.9,46.4 429.1,55.5 535.8,68.5 670,97.1 726.5,97.1 804.5,109.9 820.1,111.7 918.9,127.3 1015.2,142.9 1051.6,148.9" fill="none" stroke="#ffff00" stroke-width="1" />
<polyline points="0,36 122.2,36 166.4,39.4 234.1,46.4 275.7,51.6 332.9,58.9 390.1,68.5 431.7,77.1 494.1,88 535.8,98.4 559.2,104.9 572.2,109.9 585.2,116.9 611.2,122.1 637.2,126 670,133.8 716.1,141.6 768.1,150.7 820.1,158.5 872.1,165 924.1,170.2 976.2,173.3 1015.2,176.7 1051.6,179.3" fill="none" stroke="#800080" stroke-width="1" />
<polyline points="0,37.3 114.4,36 166.4,43.8 208.1,54.2 260.1,67.7 332.9,82.8 390.1,94.5 442.1,104.1 468.1,109.9 535.2,122.1 598.2,139 637.2,149.4 670,156.7 690.1,163.7 716.1,167.6 742.1,170.2 794.1,172.8 924.1,176.7 1051.6,180.6" fill="none" stroke="#40e0d0" stroke-width="1" />
<polyline points="0,39.9 52,36 124.8,36 166.4,45.1 208.1,62 234.1,73.7 260.1,82.8 286.1,89.3 332.9,94.5 390.1,101.5 436.9,109.9 468.1,116.9 494.1,124.7 535.2,137.7 572.2,145.5 611.2,154.6 637.2,162.4 670,165 677.1,166.3 703.1,170.2 742.1,173.6 820.1,174.1 924.1,175.9 989.2,178 1028.2,183.2 1051.6,184.5" fill="none" stroke="#006400" stroke-width="1" />
<polyline points="0,41.2 52,34.7 109.2,28.7 135.2,36 161.2,46.4 182.1,58.1 208.1,72.4 234.1,85.4 249.7,88 332.9,93.2 377.1,101 390.1,109.9 426.5,114.3 468.1,122.1 494.1,131.2 535.2,140.3 572.2,149.4 611.2,158.5 637.2,165 670,168.1 677.1,169.7 703.1,172.8 742.1,174.6 820.1,174.6 924.1,176.7 989.2,179.3 1028.2,185.3 1051.6,185.8" fill="none" stroke="#ff8040" stroke-width="1" />
<polyline points="1.5,43.8 7.5,43.8 13.5,43.3 19.5,41.8 25.5,40.1 31.5,38.3 37.5,36.5 43.5,34.6 49.5,32.6 55.5,30.5 61.5,28.3 67.5,26.3 73.5,24.9 79.5,24.5 85.5,24.7 91.5,25 97.5,25.6 103.5,26.6 109.5,27.8 115.5,29.7 121.5,32.3 127.5,39.5 133.5,45 139.5,50.6 145.5,56.4 151.5,61.5 157.5,66.4 163.5,71.5 169.5,76.4 175.5,80.9 181.5,84.8 187.5,84.5 193.5,85.6 199.5,86.3 205.5,86.5 211.5,87.1 217.5,87.6 223.5,87.7 229.5,87.9 235.5,88.2 241.5,88.3 247.5,88.2 253.5,88.1 259.5,87.9 265.5,87.8 271.5,88.1 277.5,88.9 283.5,90.5 289.5,92.5 295.5,94 301.5,95.4 307.5,97 313.5,98.2 319.5,99.3 325.5,100.3 331.5,101 337.5,101.4 343.5,100.9 349.5,100 355.5,99.7 361.5,99.4 367.5,99.6 373.5,100.7 379.5,102.1 385.5,103.8 391.5,106.6 397.5,109 403.5,111.6 409.5,114.6 415.5,117.7 421.5,120.2 427.5,121.7 433.5,123 439.5,124 445.5,125.1 451.5,126.1 457.5,127.4 463.5,128.3 469.5,128.9 475.5,130.2 481.5,132.3 487.5,135.2 493.5,137.9 499.5,140.6 505.5,143.4 511.5,145.2 517.5,147.3 523.5,149.4 529.5,151.2 535.5,151.9 541.5,152 547.5,151.6 553.5,151.5 559.5,151.3 565.5,151.6 571.5,152.3 577.5,153.1 583.5,154 589.5,154.9 595.5,156.6 601.5,158.9 607.5,161 613.5,163 619.5,165.4 625.5,167.5 631.5,168.8 637.5,170 643.5,171 649.5,171.9 655.5,172.7 661.5,172.9 667.5,173.3 673.5,173.7 679.5,174.1 685.5,174.5 691.5,174.6 697.5,174.7 703.5,174.8 709.5,174.8 715.5,174.6 721.5,174.8 727.5,175 733.5,175.1 739.5,175.1 745.5,174.6 751.5,174.5 757.5,174.6 763.5,174.9 769.5,175.2 775.5,175.4 781.5,174.7 787.5,174.3 793.5,174.3 799.5,174.1 805.5,174 811.5,173.9 817.5,173.4 823.5,173.2 829.5,173.3 835.5,174.1 841.5,175.2 847.5,176 853.5,176.3 859.5,176.6 865.5,176.8 871.5,177.2 877.5,177.9 883.5,178.2 889.5,178.5 895.5,178 901.5,177.4 907.5,177.5 913.5,177.3 919.5,176.7 925.5,176.1 931.5,175.1 937.5,174.4 943.5,174.1 949.5,173.6 955.5,173.9 961.5,174.3 967.5,174.1 973.5,174.8 979.5,176.3 985.5,177.5 991.5,179.3 997.5,180.6 1003.5,182.7 1009.5,185.2 1015.5,186.5 1021.5,187.1 1027.5,188.4 1033.5,188.9 1039.5,188.7 1045.5,189.2 1051.5,189.4" fill="none" stroke="#ff0000" stroke-width="1" />
<polyline points="1.5,43.8 7.5,43.7 13.5,42.8 19.5,39.8 25.5,36.4 31.5,32.9 37.5,29.3 43.5,26.5 49.5,25.4 55.5,24.6 61.5,23.7 67.5,23.3 73.5,23.2 79.5,23.7 85.5,24.8 91.5,26.3 97.5,28 103.5,29.9 109.5,31.9 115.5,34.5 121.5,38.2 127.5,51 133.5,60 139.5,69.4 145.5,78.2 151.5,84.7 157.5,81.9 163.5,83 169.5,83.5 175.5,83.5 181.5,85 187.5,87 193.5,88.2 199.5,89.1 205.5,89.5 211.5,89.2 217.5,88.1 223.5,87.2 229.5,86.8 235.5,86.9 241.5,87.4 247.5,88.3 253.5,88.9 259.5,89 265.5,88.7 271.5,88.9 277.5,89.5 283.5,92.1 289.5,96.1 295.5,99.2 301.5,102 307.5,104.5 313.5,104.2 319.5,102.5 325.5,101.3 331.5,100 337.5,98.3 343.5,97.7 349.5,97.6 355.5,98 361.5,98.7 367.5,101 373.5,103.8 379.5,106.7 385.5,109.5 391.5,114.6 397.5,116.9 403.5,119.4 409.5,122.4 415.5,125.8 421.5,125.8 427.5,126.4 433.5,126.5 439.5,125.5 445.5,124.4 451.5,126.5 457.5,128.5 463.5,130 469.5,132.2 475.5,135.9 481.5,138.1 487.5,141.9 493.5,145.7 499.5,149 505.5,150.8 511.5,152.4 517.5,152.7 523.5,153 529.5,153.4 535.5,152.9 541.5,151.6 547.5,150.4 553.5,149.9 559.5,149.1 565.5,150.3 571.5,153.1 577.5,155.8 583.5,158 589.5,160.7 595.5,162.8 601.5,164.7 607.5,166.3 613.5,168.1 619.5,170.1 625.5,172.2 631.5,173 637.5,173.7 643.5,173.9 649.5,173.7 655.5,173.2 661.5,172.9 667.5,173 673.5,173.6 679.5,174.5 685.5,175.8 691.5,176.3 697.5,176.5 703.5,176.1 709.5,175.2 715.5,173.4 721.5,173.4 727.5,173.5 733.5,174.1 739.5,175 745.5,175.9 751.5,175.5 757.5,175.8 763.5,175.7 769.5,175.4 775.5,174.8 781.5,173.9 787.5,172.9 793.5,172.8 799.5,172.8 805.5,173.2 811.5,173.9 817.5,173.9 823.5,173.6 829.5,173.8 835.5,174.9 841.5,176.6 847.5,178.1 853.5,178.9 859.5,179.4 865.5,178.7 871.5,177.9 877.5,177.6 883.5,177.5 889.5,177.6 895.5,177.3 901.5,176.9 907.5,177.4 913.5,177 919.5,175.9 925.5,174.8 931.5,173.3 937.5,171.4 943.5,171.1 949.5,171.4 955.5,172.9 961.5,175.4 967.5,176.7 973.5,178.6 979.5,181.2 985.5,182.1 991.5,183.2 997.5,184.5 1003.5,186.8 1009.5,189.2 1015.5,190.9 1021.5,191.1 1027.5,192.3 1033.5,190.9 1039.5,188.2 1045.5,187.5 1051.5,187.7" fill="none" stroke="#00ff00" stroke-width="1" />
<polyline points="0,43.8 10.4,43.3 15.6,38.6 23.4,34.7 39,32.9 65,32.1 85.8,32.9 104,33.9 117,36 126.1,43.8 127.4,65.1 150.8,65.9 161.2,69.3 171.7,73.7 179.5,81.5 182.1,86.7 223.7,88 234.1,90.6 270.5,89.3 280.9,91.9 286.1,94.5 312.1,99.7 364.1,99.7 382.3,103.9 392.7,109.1 405.7,110.4 421.3,119.5 442.1,122.9 457.7,126 473.3,129.1 486.3,137.7 504.6,141.6 520.2,148.1 530.6,152 559.2,152.8 585.2,154.6 595.6,160.3 611.2,165 624.2,168.9 642.4,171.5 670,174.1 690.1,175.4 716.1,175.9 742.1,174.1 794.1,174.1 820.1,173.6 846.1,175.4 872.1,178 911.1,178 918.9,175.4 937.2,171.5 963.2,174.1 981.4,178 1002.2,183.2 1015.2,188.4 1028.2,189.7 1051.6,189.7" fill="none" stroke="#ff0000" stroke-width="3" />
<polyline points="0,43.3 14.3,43.3 20.8,34.2 122.2,34.2 126.1,38.6 126.4,62 221.1,62 234.1,65.9 247.1,69.3 260.1,70.3 270.5,73.7 278.3,78.9 282.2,88 286.1,92.7 312.1,97.1 364.1,99.7 366.7,101.3 384.9,102.6 405.7,107.8 416.1,109.1 431.7,113 452.5,115.6 470.7,116.1 478.5,119.5 488.9,122.9 509.8,126 522.8,133.3 535.8,135.1 546.2,139 572.2,141.1 590.4,142.9 603.4,150.7 611.2,154.6 624.2,155.9 634.6,161.9 670,161.9 679.7,162.9 708.3,163.2 716.1,168.9 723.9,171.5 742.1,172.8 794.1,174.1 918.9,175.4 950.2,175.4 976.2,176.7 1002.2,179.3 1017.8,181.9 1051.6,182.7" fill="none" stroke="#0000ff" stroke-width="3" />
<line x1="7.5" y1="41.7" x2="7.5" y2="49.4" stroke="#ff0000" stroke-width="1" />
<rect x="6" y="43.3" width="3" height="4.3" fill="#ff0000" />
<line x1="13.5" y1="38.3" x2="13.5" y2="45.1" stroke="#ff0000" stroke-width="1" />
<rect x="12" y="39.2" width="3" height="4.1" fill="#ff0000" />
<line x1="19.5" y1="27.1" x2="19.5" y2="40" stroke="#ff0000" stroke-width="1" />
<rect x="18" y="29.6" width="3" height="9.6" fill="#ff0000" />
<line x1="25.5" y1="25.2" x2="25.5" y2="32.1" stroke="#ff0000" stroke-width="1" />
<rect x="24" y="25.9" width="3" height="3.7" fill="#ff0000" />
<line x1="31.5" y1="21.7" x2="31.5" y2="29.7" stroke="#0000ff" stroke-width="1" />
<rect x="30" y="24.7" width="3" height="2.1" fill="#0000ff" />
<line x1="37.5" y1="25.3" x2="37.5" y2="30.3" stroke="#ff0000" stroke-width="1" />
<rect x="36" y="26.2" width="3" height="3.5" fill="#ff0000" />
<line x1="43.5" y1="23.9" x2="43.5" y2="28.1" stroke="#ff0000" stroke-width="1" />
<rect x="42" y="24.9" width="3" height="2.1" fill="#ff0000" />
<line x1="49.5" y1="20.5" x2="49.5" y2="26.5" stroke="#ff0000" stroke-width="1" />
<rect x="48" y="22.1" width="3" height="2.7" fill="#ff0000" />
<line x1="55.5" y1="18.2" x2="55.5" y2="25.4" stroke="#0000ff" stroke-width="1" />
<rect x="54" y="20.3" width="3" height="3.3" fill="#0000ff" />
<line x1="61.5" y1="21.4" x2="61.5" y2="28.7" stroke="#ff0000" stroke-width="1" />
<rect x="60" y="22.6" width="3" height="3.1" fill="#ff0000" />
<line x1="67.5" y1="18.6" x2="67.5" y2="26.2" stroke="#0000ff" stroke-width="1" />
<rect x="66" y="20.8" width="3" height="4.1" fill="#0000ff" />
<line x1="73.5" y1="23.1" x2="73.5" y2="28.9" stroke="#ff0000" stroke-width="1" />
<rect x="72" y="23.8" width="3" height="2.7" fill="#ff0000" />
<line x1="79.5" y1="20.1" x2="79.5" y2="28.6" stroke="#0000ff" stroke-width="1" />
<rect x="78" y="21.6" width="3" height="4.1" fill="#0000ff" />
<line x1="85.5" y1="25.2" x2="85.5" y2="30" stroke="#0000ff" stroke-width="1" />
<rect x="84" y="25.7" width="3" height="3.2" fill="#0000ff" />
<line x1="91.5" y1="24.9" x2="91.5" y2="32.5" stroke="#0000ff" stroke-width="1" />
<rect x="90" y="27.8" width="3" height="3.2" fill="#0000ff" />
<line x1="97.5" y1="28" x2="97.5" y2="35.2" stroke="#ff0000" stroke-width="1" />
<rect x="96" y="30.5" width="3" height="3.6" fill="#ff0000" />
<line x1="103.5" y1="26.9" x2="103.5" y2="35" stroke="#0000ff" stroke-width="1" />
<rect x="102" y="29.8" width="3" height="2.8" fill="#0000ff" />
<line x1="109.5" y1="31.6" x2="109.5" y2="35.6" stroke="#0000ff" stroke-width="1" />
<rect x="108" y="32.4" width="3" height="2.6" fill="#0000ff" />
<line x1="115.5" y1="34.1" x2="115.5" y2="43.9" stroke="#0000ff" stroke-width="1" />
<rect x="114" y="35" width="3" height="7" fill="#0000ff" />
<line x1="121.5" y1="41" x2="121.5" y2="50.3" stroke="#0000ff" stroke-width="1" />
<rect x="120" y="42" width="3" height="6" fill="#0000ff" />
<line x1="127.5" y1="45.9" x2="127.5" y2="95.3" stroke="#0000ff" stroke-width="1" />
<rect x="126" y="48" width="3" height="46.5" fill="#0000ff" />
<line x1="133.5" y1="77.9" x2="133.5" y2="95.6" stroke="#ff0000" stroke-width="1" />
<rect x="132" y="78.9" width="3" height="15.6" fill="#ff0000" />
<line x1="139.5" y1="76.4" x2="139.5" y2="85.7" stroke="#0000ff" stroke-width="1" />
<rect x="138" y="78.9" width="3" height="5.6" fill="#0000ff" />
<line x1="145.5" y1="82.6" x2="145.5" y2="89.2" stroke="#0000ff" stroke-width="1" />
<rect x="144" y="84.1" width="3" height="2.5" fill="#0000ff" />
<line x1="151.5" y1="80.1" x2="151.5" y2="89.6" stroke="#ff0000" stroke-width="1" />
<rect x="150" y="80.8" width="3" height="5.8" fill="#ff0000" />
<line x1="157.5" y1="78.3" x2="157.5" y2="84.7" stroke="#ff0000" stroke-width="1" />
<rect x="156" y="80.7" width="3" height="2.6" fill="#ff0000" />
<line x1="163.5" y1="80" x2="163.5" y2="84.8" stroke="#0000ff" stroke-width="1" />
<rect x="162" y="80.7" width="3" height="3.4" fill="#0000ff" />
<line x1="169.5" y1="81.1" x2="169.5" y2="87.1" stroke="#0000ff" stroke-width="1" />
<rect x="168" y="83.1" width="3" height="2.6" fill="#0000ff" />
<line x1="175.5" y1="83.6" x2="175.5" y2="91.6" stroke="#ff0000" stroke-width="1" />
<rect x="174" y="85.3" width="3" height="4.4" fill="#ff0000" />
<line x1="181.5" y1="84.3" x2="181.5" y2="89.9" stroke="#0000ff" stroke-width="1" />
<rect x="180" y="85.3" width="3" height="3.7" fill="#0000ff" />
<line x1="187.5" y1="86.4" x2="187.5" y2="94.3" stroke="#0000ff" stroke-width="1" />
<rect x="186" y="89" width="3" height="4.2" fill="#0000ff" />
<line x1="193.5" y1="87.3" x2="193.5" y2="96" stroke="#ff0000" stroke-width="1" />
<rect x="192" y="89.7" width="3" height="3.5" fill="#ff0000" />
<line x1="199.5" y1="85.8" x2="199.5" y2="94.9" stroke="#ff0000" stroke-width="1" />
<rect x="198" y="88.5" width="3" height="4.4" fill="#ff0000" />
<line x1="205.5" y1="86.6" x2="205.5" y2="92.4" stroke="#ff0000" stroke-width="1" />
<rect x="204" y="87.2" width="3" height="2.3" fill="#ff0000" />
<line x1="211.5" y1="84.7" x2="211.5" y2="92.1" stroke="#ff0000" stroke-width="1" />
<rect x="210" y="85.8" width="3" height="3.8" fill="#ff0000" />
<line x1="217.5" y1="82.8" x2="217.5" y2="88.8" stroke="#0000ff" stroke-width="1" />
<rect x="216" y="83.8" width="3" height="2.7" fill="#0000ff" />
<line x1="223.5" y1="82.9" x2="223.5" y2="90" stroke="#ff0000" stroke-width="1" />
<rect x="222" y="84.8" width="3" height="2.6" fill="#ff0000" />
<line x1="229.5" y1="83.6" x2="229.5" y2="90.5" stroke="#0000ff" stroke-width="1" />
<rect x="228" y="84.8" width="3" height="2.9" fill="#0000ff" />
<line x1="235.5" y1="85.9" x2="235.5" y2="90.8" stroke="#ff0000" stroke-width="1" />
<rect x="234" y="87.1" width="3" height="2" fill="#ff0000" />
<line x1="241.5" y1="84" x2="241.5" y2="89.8" stroke="#0000ff" stroke-width="1" />
<rect x="240" y="85.4" width="3" height="2.4" fill="#0000ff" />
<line x1="247.5" y1="83.7" x2="247.5" y2="92.3" stroke="#0000ff" stroke-width="1" />
<rect x="246" y="86.5" width="3" height="2.9" fill="#0000ff" />
<line x1="253.5" y1="84.2" x2="253.5" y2="90.7" stroke="#0000ff" stroke-width="1" />
<rect x="252" y="86.1" width="3" height="3.7" fill="#0000ff" />
<line x1="259.5" y1="85.6" x2="259.5" y2="92.6" stroke="#ff0000" stroke-width="1" />
<rect x="258" y="86.2" width="3" height="3.7" fill="#ff0000" />
<line x1="265.5" y1="82.5" x2="265.5" y2="89.6" stroke="#0000ff" stroke-width="1" />
<rect x="264" y="83.1" width="3" height="4.4" fill="#0000ff" />
<line x1="271.5" y1="84.8" x2="271.5" y2="92.9" stroke="#0000ff" stroke-width="1" />
<rect x="270" y="86.1" width="3" height="3.8" fill="#0000ff" />
<line x1="277.5" y1="88" x2="277.5" y2="94.9" stroke="#0000ff" stroke-width="1" />
<rect x="276" y="89.9" width="3" height="2.7" fill="#0000ff" />
<line x1="283.5" y1="90.2" x2="283.5" y2="105.9" stroke="#0000ff" stroke-width="1" />
<rect x="282" y="92.6" width="3" height="11" fill="#0000ff" />
<line x1="289.5" y1="100.8" x2="289.5" y2="109.5" stroke="#0000ff" stroke-width="1" />
<rect x="288" y="103.6" width="3" height="4.5" fill="#0000ff" />
<line x1="295.5" y1="100.5" x2="295.5" y2="110.8" stroke="#ff0000" stroke-width="1" />
<rect x="294" y="103.3" width="3" height="4.9" fill="#ff0000" />
<line x1="301.5" y1="97" x2="301.5" y2="105.5" stroke="#0000ff" stroke-width="1" />
<rect x="300" y="99.6" width="3" height="4" fill="#0000ff" />
<line x1="307.5" y1="102.1" x2="307.5" y2="108.6" stroke="#0000ff" stroke-width="1" />
<rect x="306" y="103.6" width="3" height="3" fill="#0000ff" />
<line x1="313.5" y1="100.5" x2="313.5" y2="108.7" stroke="#ff0000" stroke-width="1" />
<rect x="312" y="101.2" width="3" height="5.5" fill="#ff0000" />
<line x1="319.5" y1="98" x2="319.5" y2="106" stroke="#ff0000" stroke-width="1" />
<rect x="318" y="100.4" width="3" height="4.2" fill="#ff0000" />
<line x1="325.5" y1="95.7" x2="325.5" y2="102" stroke="#ff0000" stroke-width="1" />
<rect x="324" y="97.7" width="3" height="2.7" fill="#ff0000" />
<line x1="331.5" y1="93.7" x2="331.5" y2="98.9" stroke="#0000ff" stroke-width="1" />
<rect x="330" y="96.1" width="3" height="2.2" fill="#0000ff" />
<line x1="337.5" y1="96.8" x2="337.5" y2="103.4" stroke="#ff0000" stroke-width="1" />
<rect x="336" y="97.9" width="3" height="3.2" fill="#ff0000" />
<line x1="343.5" y1="91.6" x2="343.5" y2="99.1" stroke="#0000ff" stroke-width="1" />
<rect x="342" y="94.4" width="3" height="3.5" fill="#0000ff" />
<line x1="349.5" y1="94.6" x2="349.5" y2="100.5" stroke="#ff0000" stroke-width="1" />
<rect x="348" y="96.8" width="3" height="2.8" fill="#ff0000" />
<line x1="355.5" y1="91.4" x2="355.5" y2="99.4" stroke="#0000ff" stroke-width="1" />
<rect x="354" y="93.5" width="3" height="4.3" fill="#0000ff" />
<line x1="361.5" y1="96.5" x2="361.5" y2="104.3" stroke="#0000ff" stroke-width="1" />
<rect x="360" y="97.8" width="3" height="4.3" fill="#0000ff" />
<line x1="367.5" y1="100.5" x2="367.5" y2="110.7" stroke="#0000ff" stroke-width="1" />
<rect x="366" y="102.1" width="3" height="6" fill="#0000ff" />
<line x1="373.5" y1="105.4" x2="373.5" y2="114.4" stroke="#0000ff" stroke-width="1" />
<rect x="372" y="108.1" width="3" height="4.8" fill="#0000ff" />
<line x1="379.5" y1="109.6" x2="379.5" y2="115" stroke="#0000ff" stroke-width="1" />
<rect x="378" y="110.4" width="3" height="2.8" fill="#0000ff" />
<line x1="385.5" y1="107.8" x2="385.5" y2="117.1" stroke="#0000ff" stroke-width="1" />
<rect x="384" y="110.1" width="3" height="4.1" fill="#0000ff" />
<line x1="391.5" y1="113.3" x2="391.5" y2="126.8" stroke="#0000ff" stroke-width="1" />
<rect x="390" y="114.2" width="3" height="11" fill="#0000ff" />
<line x1="397.5" y1="119.1" x2="397.5" y2="126.8" stroke="#ff0000" stroke-width="1" />
<rect x="396" y="120.1" width="3" height="5.1" fill="#ff0000" />
<line x1="403.5" y1="118.4" x2="403.5" y2="125.9" stroke="#0000ff" stroke-width="1" />
<rect x="402" y="120.1" width="3" height="4.4" fill="#0000ff" />
<line x1="409.5" y1="121.6" x2="409.5" y2="130.7" stroke="#0000ff" stroke-width="1" />
<rect x="408" y="124.6" width="3" height="4.5" fill="#0000ff" />
<line x1="415.5" y1="125.8" x2="415.5" y2="131.2" stroke="#ff0000" stroke-width="1" />
<rect x="414" y="128.5" width="3" height="2.1" fill="#ff0000" />
<line x1="421.5" y1="125.3" x2="421.5" y2="132.5" stroke="#ff0000" stroke-width="1" />
<rect x="420" y="126.6" width="3" height="3.4" fill="#ff0000" />
<line x1="427.5" y1="121.7" x2="427.5" y2="128.3" stroke="#ff0000" stroke-width="1" />
<rect x="426" y="122.5" width="3" height="4.1" fill="#ff0000" />
<line x1="433.5" y1="118" x2="433.5" y2="124" stroke="#0000ff" stroke-width="1" />
<rect x="432" y="119.1" width="3" height="4.1" fill="#0000ff" />
<line x1="439.5" y1="119.8" x2="439.5" y2="127.1" stroke="#ff0000" stroke-width="1" />
<rect x="438" y="121.4" width="3" height="3.6" fill="#ff0000" />
<line x1="445.5" y1="118.9" x2="445.5" y2="127.8" stroke="#0000ff" stroke-width="1" />
<rect x="444" y="121.4" width="3" height="3.5" fill="#0000ff" />
<line x1="451.5" y1="123.9" x2="451.5" y2="138.7" stroke="#0000ff" stroke-width="1" />
<rect x="450" y="124.9" width="3" height="12.1" fill="#0000ff" />
<line x1="457.5" y1="132.4" x2="457.5" y2="138.7" stroke="#ff0000" stroke-width="1" />
<rect x="456" y="132.9" width="3" height="4.1" fill="#ff0000" />
<line x1="463.5" y1="129.6" x2="463.5" y2="134.6" stroke="#0000ff" stroke-width="1" />
<rect x="462" y="130.8" width="3" height="2.4" fill="#0000ff" />
<line x1="469.5" y1="129.2" x2="469.5" y2="136.9" stroke="#0000ff" stroke-width="1" />
<rect x="468" y="131.2" width="3" height="3.3" fill="#0000ff" />
<line x1="475.5" y1="132.1" x2="475.5" y2="145.4" stroke="#0000ff" stroke-width="1" />
<rect x="474" y="134.5" width="3" height="8.1" fill="#0000ff" />
<line x1="481.5" y1="139.8" x2="481.5" y2="148.2" stroke="#0000ff" stroke-width="1" />
<rect x="480" y="142.6" width="3" height="3.2" fill="#0000ff" />
<line x1="487.5" y1="144.2" x2="487.5" y2="153.6" stroke="#0000ff" stroke-width="1" />
<rect x="486" y="145.8" width="3" height="5.7" fill="#0000ff" />
<line x1="493.5" y1="148.3" x2="493.5" y2="155.9" stroke="#0000ff" stroke-width="1" />
<rect x="492" y="150.3" width="3" height="2.9" fill="#0000ff" />
<line x1="499.5" y1="149.3" x2="499.5" y2="157.4" stroke="#ff0000" stroke-width="1" />
<rect x="498" y="150.9" width="3" height="4.4" fill="#ff0000" />
<line x1="505.5" y1="144.9" x2="505.5" y2="153.4" stroke="#0000ff" stroke-width="1" />
<rect x="504" y="147.5" width="3" height="3.8" fill="#0000ff" />
<line x1="511.5" y1="150.3" x2="511.5" y2="158.5" stroke="#0000ff" stroke-width="1" />
<rect x="510" y="151.3" width="3" height="4.5" fill="#0000ff" />
<line x1="517.5" y1="149.8" x2="517.5" y2="158.5" stroke="#0000ff" stroke-width="1" />
<rect x="516" y="151.6" width="3" height="4.4" fill="#0000ff" />
<line x1="523.5" y1="149.9" x2="523.5" y2="158.7" stroke="#ff0000" stroke-width="1" />
<rect x="522" y="152.7" width="3" height="3.4" fill="#ff0000" />
<line x1="529.5" y1="149.8" x2="529.5" y2="155.5" stroke="#ff0000" stroke-width="1" />
<rect x="528" y="151.4" width="3" height="2.2" fill="#ff0000" />
<line x1="535.5" y1="150.1" x2="535.5" y2="156.5" stroke="#ff0000" stroke-width="1" />
<rect x="534" y="150.7" width="3" height="3.2" fill="#ff0000" />
<line x1="541.5" y1="144.3" x2="541.5" y2="151.6" stroke="#ff0000" stroke-width="1" />
<rect x="540" y="146.8" width="3" height="3.9" fill="#ff0000" />
<line x1="547.5" y1="143.6" x2="547.5" y2="149.2" stroke="#0000ff" stroke-width="1" />
<rect x="546" y="144.4" width="3" height="4" fill="#0000ff" />
<line x1="553.5" y1="144.2" x2="553.5" y2="152.9" stroke="#0000ff" stroke-width="1" />
<rect x="552" y="146.8" width="3" height="3.8" fill="#0000ff" />
<line x1="559.5" y1="146.8" x2="559.5" y2="153.6" stroke="#ff0000" stroke-width="1" />
<rect x="558" y="149.6" width="3" height="3.2" fill="#ff0000" />
<line x1="565.5" y1="147.8" x2="565.5" y2="156" stroke="#0000ff" stroke-width="1" />
<rect x="564" y="149.6" width="3" height="5.2" fill="#0000ff" />
<line x1="571.5" y1="152.7" x2="571.5" y2="164.4" stroke="#0000ff" stroke-width="1" />
<rect x="570" y="154.8" width="3" height="7.8" fill="#0000ff" />
<line x1="577.5" y1="158.8" x2="577.5" y2="165" stroke="#0000ff" stroke-width="1" />
<rect x="576" y="160.1" width="3" height="3.4" fill="#0000ff" />
<line x1="583.5" y1="162" x2="583.5" y2="169.9" stroke="#ff0000" stroke-width="1" />
<rect x="582" y="163" width="3" height="4.3" fill="#ff0000" />
<line x1="589.5" y1="157.8" x2="589.5" y2="164" stroke="#0000ff" stroke-width="1" />
<rect x="588" y="159.7" width="3" height="3.3" fill="#0000ff" />
<line x1="595.5" y1="161.2" x2="595.5" y2="168.4" stroke="#0000ff" stroke-width="1" />
<rect x="594" y="163" width="3" height="3.4" fill="#0000ff" />
<line x1="601.5" y1="163.4" x2="601.5" y2="171.8" stroke="#0000ff" stroke-width="1" />
<rect x="600" y="166.4" width="3" height="3.6" fill="#0000ff" />
<line x1="607.5" y1="168" x2="607.5" y2="175.7" stroke="#ff0000" stroke-width="1" />
<rect x="606" y="169.9" width="3" height="4" fill="#ff0000" />
<line x1="613.5" y1="167.4" x2="613.5" y2="172.9" stroke="#0000ff" stroke-width="1" />
<rect x="612" y="169.2" width="3" height="2.2" fill="#0000ff" />
<line x1="619.5" y1="167.7" x2="619.5" y2="174.9" stroke="#0000ff" stroke-width="1" />
<rect x="618" y="168.9" width="3" height="4.3" fill="#0000ff" />
<line x1="625.5" y1="169.8" x2="625.5" y2="178.2" stroke="#0000ff" stroke-width="1" />
<rect x="624" y="172.4" width="3" height="3.1" fill="#0000ff" />
<line x1="631.5" y1="174.4" x2="631.5" y2="180.2" stroke="#ff0000" stroke-width="1" />
<rect x="630" y="175.3" width="3" height="2.8" fill="#ff0000" />
<line x1="637.5" y1="170.6" x2="637.5" y2="175.9" stroke="#0000ff" stroke-width="1" />
<rect x="636" y="173" width="3" height="2.3" fill="#0000ff" />
<line x1="643.5" y1="169.6" x2="643.5" y2="177.6" stroke="#ff0000" stroke-width="1" />
<rect x="642" y="170.6" width="3" height="4.7" fill="#ff0000" />
<line x1="649.5" y1="168.2" x2="649.5" y2="173.9" stroke="#ff0000" stroke-width="1" />
<rect x="648" y="170.2" width="3" height="2.9" fill="#ff0000" />
<line x1="655.5" y1="169.4" x2="655.5" y2="176.6" stroke="#0000ff" stroke-width="1" />
<rect x="654" y="170.2" width="3" height="4.6" fill="#0000ff" />
<line x1="661.5" y1="171.5" x2="661.5" y2="177.4" stroke="#ff0000" stroke-width="1" />
<rect x="660" y="173.3" width="3" height="2.5" fill="#ff0000" />
<line x1="667.5" y1="168.9" x2="667.5" y2="174.6" stroke="#0000ff" stroke-width="1" />
<rect x="666" y="170.7" width="3" height="3" fill="#0000ff" />
<line x1="673.5" y1="168.1" x2="673.5" y2="175.6" stroke="#0000ff" stroke-width="1" />
<rect x="672" y="170.2" width="3" height="3.6" fill="#0000ff" />
<line x1="679.5" y1="171.8" x2="679.5" y2="179.2" stroke="#0000ff" stroke-width="1" />
<rect x="678" y="173.8" width="3" height="2.7" fill="#0000ff" />
<line x1="685.5" y1="174.2" x2="685.5" y2="182.2" stroke="#0000ff" stroke-width="1" />
<rect x="684" y="176.5" width="3" height="3.1" fill="#0000ff" />
<line x1="691.5" y1="176.7" x2="691.5" y2="183.6" stroke="#ff0000" stroke-width="1" />
<rect x="690" y="178" width="3" height="2.8" fill="#ff0000" />
<line x1="697.5" y1="171.1" x2="697.5" y2="180.7" stroke="#ff0000" stroke-width="1" />
<rect x="696" y="174.1" width="3" height="3.9" fill="#ff0000" />
<line x1="703.5" y1="169.5" x2="703.5" y2="175.5" stroke="#ff0000" stroke-width="1" />
<rect x="702" y="171.8" width="3" height="2.6" fill="#ff0000" />
<line x1="709.5" y1="167.9" x2="709.5" y2="176" stroke="#ff0000" stroke-width="1" />
<rect x="708" y="169.5" width="3" height="4.1" fill="#ff0000" />
<line x1="715.5" y1="165" x2="715.5" y2="170.8" stroke="#0000ff" stroke-width="1" />
<rect x="714" y="167.2" width="3" height="3" fill="#0000ff" />
<line x1="721.5" y1="168" x2="721.5" y2="178.5" stroke="#0000ff" stroke-width="1" />
<rect x="720" y="170.3" width="3" height="5.5" fill="#0000ff" />
<line x1="727.5" y1="172.9" x2="727.5" y2="179.4" stroke="#0000ff" stroke-width="1" />
<rect x="726" y="174.7" width="3" height="2.3" fill="#0000ff" />
<line x1="733.5" y1="175" x2="733.5" y2="180.3" stroke="#ff0000" stroke-width="1" />
<rect x="732" y="175.9" width="3" height="3.7" fill="#ff0000" />
<line x1="739.5" y1="172.3" x2="739.5" y2="178" stroke="#ff0000" stroke-width="1" />
<rect x="738" y="174.2" width="3" height="2.1" fill="#ff0000" />
<line x1="745.5" y1="172.8" x2="745.5" y2="177.2" stroke="#0000ff" stroke-width="1" />
<rect x="744" y="173.8" width="3" height="2.4" fill="#0000ff" />
<line x1="751.5" y1="173.2" x2="751.5" y2="181.2" stroke="#ff0000" stroke-width="1" />
<rect x="750" y="176" width="3" height="4.5" fill="#ff0000" />
<line x1="757.5" y1="173.6" x2="757.5" y2="182.1" stroke="#ff0000" stroke-width="1" />
<rect x="756" y="175.3" width="3" height="4.4" fill="#ff0000" />
<line x1="763.5" y1="173.1" x2="763.5" y2="179.7" stroke="#ff0000" stroke-width="1" />
<rect x="762" y="174.9" width="3" height="3.2" fill="#ff0000" />
<line x1="769.5" y1="172.2" x2="769.5" y2="179.1" stroke="#ff0000" stroke-width="1" />
<rect x="768" y="174.5" width="3" height="2" fill="#ff0000" />
<line x1="775.5" y1="170.3" x2="775.5" y2="176.8" stroke="#ff0000" stroke-width="1" />
<rect x="774" y="171.9" width="3" height="2.6" fill="#ff0000" />
<line x1="781.5" y1="169.1" x2="781.5" y2="174.2" stroke="#ff0000" stroke-width="1" />
<rect x="780" y="170" width="3" height="2.5" fill="#ff0000" />
<line x1="787.5" y1="167.4" x2="787.5" y2="176.4" stroke="#ff0000" stroke-width="1" />
<rect x="786" y="169.9" width="3" height="4.2" fill="#ff0000" />
<line x1="793.5" y1="167.9" x2="793.5" y2="178.1" stroke="#0000ff" stroke-width="1" />
<rect x="792" y="169.9" width="3" height="6.6" fill="#0000ff" />
<line x1="799.5" y1="171.5" x2="799.5" y2="180.2" stroke="#ff0000" stroke-width="1" />
<rect x="798" y="174.5" width="3" height="3.3" fill="#ff0000" />
<line x1="805.5" y1="171.8" x2="805.5" y2="180.8" stroke="#ff0000" stroke-width="1" />
<rect x="804" y="174.1" width="3" height="4.3" fill="#ff0000" />
<line x1="811.5" y1="168.6" x2="811.5" y2="177.1" stroke="#0000ff" stroke-width="1" />
<rect x="810" y="171.3" width="3" height="3" fill="#0000ff" />
<line x1="817.5" y1="169.7" x2="817.5" y2="177.6" stroke="#ff0000" stroke-width="1" />
<rect x="816" y="172.1" width="3" height="3.9" fill="#ff0000" />
<line x1="823.5" y1="171.5" x2="823.5" y2="176.2" stroke="#0000ff" stroke-width="1" />
<rect x="822" y="172.1" width="3" height="2.7" fill="#0000ff" />
<line x1="829.5" y1="173.4" x2="829.5" y2="178.9" stroke="#ff0000" stroke-width="1" />
<rect x="828" y="174.8" width="3" height="2" fill="#ff0000" />
<line x1="835.5" y1="173.7" x2="835.5" y2="183.7" stroke="#0000ff" stroke-width="1" />
<rect x="834" y="174.8" width="3" height="6" fill="#0000ff" />
<line x1="841.5" y1="177.4" x2="841.5" y2="184.4" stroke="#0000ff" stroke-width="1" />
<rect x="840" y="179.6" width="3" height="2.8" fill="#0000ff" />
<line x1="847.5" y1="177.9" x2="847.5" y2="185.4" stroke="#ff0000" stroke-width="1" />
<rect x="846" y="179.4" width="3" height="3" fill="#ff0000" />
<line x1="853.5" y1="176.1" x2="853.5" y2="185.2" stroke="#ff0000" stroke-width="1" />
<rect x="852" y="178.5" width="3" height="3.8" fill="#ff0000" />
<line x1="859.5" y1="173.9" x2="859.5" y2="180.8" stroke="#ff0000" stroke-width="1" />
<rect x="858" y="175.9" width="3" height="2.5" fill="#ff0000" />
<line x1="865.5" y1="172.3" x2="865.5" y2="176.9" stroke="#0000ff" stroke-width="1" />
<rect x="864" y="173" width="3" height="3" fill="#0000ff" />
<line x1="871.5" y1="174.2" x2="871.5" y2="180.4" stroke="#0000ff" stroke-width="1" />
<rect x="870" y="175.4" width="3" height="2.2" fill="#0000ff" />
<line x1="877.5" y1="172" x2="877.5" y2="180.1" stroke="#0000ff" stroke-width="1" />
<rect x="876" y="174.9" width="3" height="3.3" fill="#0000ff" />
<line x1="883.5" y1="173" x2="883.5" y2="179.8" stroke="#0000ff" stroke-width="1" />
<rect x="882" y="175.5" width="3" height="3.6" fill="#0000ff" />
<line x1="889.5" y1="177.2" x2="889.5" y2="184.5" stroke="#ff0000" stroke-width="1" />
<rect x="888" y="177.8" width="3" height="3.9" fill="#ff0000" />
<line x1="895.5" y1="172.7" x2="895.5" y2="178.7" stroke="#ff0000" stroke-width="1" />
<rect x="894" y="174.3" width="3" height="3.5" fill="#ff0000" />
<line x1="901.5" y1="171.8" x2="901.5" y2="178.8" stroke="#0000ff" stroke-width="1" />
<rect x="900" y="172.4" width="3" height="3.5" fill="#0000ff" />
<line x1="907.5" y1="174.1" x2="907.5" y2="182.4" stroke="#0000ff" stroke-width="1" />
<rect x="906" y="175.9" width="3" height="4.4" fill="#0000ff" />
<line x1="913.5" y1="174" x2="913.5" y2="182.5" stroke="#ff0000" stroke-width="1" />
<rect x="912" y="175.2" width="3" height="5.2" fill="#ff0000" />
<line x1="919.5" y1="170.7" x2="919.5" y2="177.5" stroke="#ff0000" stroke-width="1" />
<rect x="918" y="171.9" width="3" height="3.3" fill="#ff0000" />
<line x1="925.5" y1="168.5" x2="925.5" y2="172.3" stroke="#ff0000" stroke-width="1" />
<rect x="924" y="169.6" width="3" height="2" fill="#ff0000" />
<line x1="931.5" y1="164.7" x2="931.5" y2="171.1" stroke="#ff0000" stroke-width="1" />
<rect x="930" y="167.1" width="3" height="2.5" fill="#ff0000" />
<line x1="937.5" y1="164.7" x2="937.5" y2="173.3" stroke="#0000ff" stroke-width="1" />
<rect x="936" y="167.1" width="3" height="5.6" fill="#0000ff" />
<line x1="943.5" y1="169.8" x2="943.5" y2="176.3" stroke="#0000ff" stroke-width="1" />
<rect x="942" y="172.7" width="3" height="2.9" fill="#0000ff" />
<line x1="949.5" y1="172.5" x2="949.5" y2="180.2" stroke="#ff0000" stroke-width="1" />
<rect x="948" y="174.1" width="3" height="3.1" fill="#ff0000" />
<line x1="955.5" y1="172.3" x2="955.5" y2="180.1" stroke="#0000ff" stroke-width="1" />
<rect x="954" y="174.1" width="3" height="3.1" fill="#0000ff" />
<line x1="961.5" y1="175.6" x2="961.5" y2="184.2" stroke="#0000ff" stroke-width="1" />
<rect x="960" y="177.3" width="3" height="4" fill="#0000ff" />
<line x1="967.5" y1="178.4" x2="967.5" y2="184.8" stroke="#ff0000" stroke-width="1" />
<rect x="966" y="179.2" width="3" height="3.5" fill="#ff0000" />
<line x1="973.5" y1="178.2" x2="973.5" y2="183.7" stroke="#0000ff" stroke-width="1" />
<rect x="972" y="179.2" width="3" height="3.8" fill="#0000ff" />
<line x1="979.5" y1="182.2" x2="979.5" y2="187.5" stroke="#0000ff" stroke-width="1" />
<rect x="978" y="183" width="3" height="2.9" fill="#0000ff" />
<line x1="985.5" y1="181.6" x2="985.5" y2="187.1" stroke="#ff0000" stroke-width="1" />
<rect x="984" y="183.3" width="3" height="2.6" fill="#ff0000" />
<line x1="991.5" y1="181.7" x2="991.5" y2="188.9" stroke="#0000ff" stroke-width="1" />
<rect x="990" y="183.3" width="3" height="3.2" fill="#0000ff" />
<line x1="997.5" y1="181.8" x2="997.5" y2="191.5" stroke="#ff0000" stroke-width="1" />
<rect x="996" y="184.6" width="3" height="4.5" fill="#ff0000" />
<line x1="1003.5" y1="183.9" x2="1003.5" y2="196.8" stroke="#0000ff" stroke-width="1" />
<rect x="1002" y="184.6" width="3" height="9.5" fill="#0000ff" />
<line x1="1009.5" y1="192" x2="1009.5" y2="199.8" stroke="#0000ff" stroke-width="1" />
<rect x="1008" y="194.1" width="3" height="4.3" fill="#0000ff" />
<line x1="1015.5" y1="188.3" x2="1015.5" y2="200.3" stroke="#ff0000" stroke-width="1" />
<rect x="1014" y="190.5" width="3" height="7.9" fill="#ff0000" />
<line x1="1021.5" y1="185.5" x2="1021.5" y2="192.9" stroke="#ff0000" stroke-width="1" />
<rect x="1020" y="187.5" width="3" height="3" fill="#ff0000" />
<line x1="1027.5" y1="183.9" x2="1027.5" y2="192.2" stroke="#0000ff" stroke-width="1" />
<rect x="1026" y="186.8" width="3" height="2.6" fill="#0000ff" />
<line x1="1033.5" y1="186.8" x2="1033.5" y2="190.7" stroke="#0000ff" stroke-width="1" />
<rect x="1032" y="187.4" width="3" height="2.1" fill="#0000ff" />
<line x1="1039.5" y1="181.5" x2="1039.5" y2="190.3" stroke="#ff0000" stroke-width="1" />
<rect x="1038" y="183.6" width="3" height="5.9" fill="#ff0000" />
<polyline points="1.3,78.9 7.8,84.9 26,85.9 39,91.1 49.4,88 59.8,85.4 78,88 98.8,88.5 114.4,87.5 122.2,88 127.4,93.2 131.3,102.3 135.2,105.7 141.7,106.7 150.8,102.3 158.6,99.7 166.4,95.8 171.7,94.5 179.5,97.1 187.3,95.8 197.7,92.7 205.5,95.8 210.7,101 215.9,106.2 219.8,109.9 223.7,113 235.4,113 241.9,124.7 248.4,119.5 253.6,126 265.3,128.6 278.3,122.9 286.1,124.7 295.2,122.9 301.7,135.1 309.5,132.5 317.3,133.8 327.7,145.5 336.8,154.6 344.6,148.9 351.1,150.7 361.5,157.2 368,153.3 374.5,153.3 384.9,148.9 395.3,148.9 403.1,148.1 416.1,158.5 427.8,165 436.9,162.4 452.5,174.1 468.1,172.8 475.9,178 486.3,172.8 499.3,172.3 507.2,174.1 520.2,174.1 535.2,178 548.8,172.8 561.8,168.9 577.4,176.7 585.2,174.9 596.9,179.3 603.4,176.2 624.2,176.2 632,170.2 639.8,171.5 645,175.4 655.4,174.1 670,172.8 671.9,174.1 679.7,175.4 690.1,180.6 700.5,179.3 708.3,175.4 716.1,178 729.1,174.1 755.1,176.7 768.1,174.1 775.9,174.1 781.1,168.9 794.1,171.5 804.5,175.4 812.3,178 820.1,176.7 827.9,183.2 838.3,184.5 848.7,191 859.1,197.5 869.5,191 877.3,189.7 890.3,184.5 898.1,188.4 911.1,180.6 918.9,187.1 929.3,185.8 945,184.5 950.2,180.6 965.8,180.6 973.6,187.1 981.4,183.2 991.8,184.5 999.6,187.1 1007.4,189.7 1051.6,189.7" fill="none" stroke="#008000" stroke-width="3" />
<rect x="0" y="285" width="3" height="1" fill="#008c00" />
<rect x="6" y="285" width="3" height="1" fill="#008c00" />
<rect x="12" y="285" width="3" height="1" fill="#008c00" />
<rect x="18" y="275.3" width="3" height="10.7" fill="#008c00" />
<rect x="24" y="281.1" width="3" height="4.9" fill="#008c00" />
<rect x="30" y="281.1" width="3" height="4.9" fill="#008c00" />
<rect x="36" y="282.4" width="3" height="3.6" fill="#008c00" />
<rect x="42" y="282.4" width="3" height="3.6" fill="#008c00" />
<rect x="48" y="284.2" width="3" height="1.8" fill="#008c00" />
<rect x="54" y="282.4" width="3" height="3.6" fill="#008c00" />
<rect x="60" y="284.2" width="3" height="1.8" fill="#008c00" />
<rect x="66" y="285" width="3" height="1" fill="#008c00" />
<rect x="72" y="282.4" width="3" height="3.6" fill="#008c00" />
<rect x="78" y="283.1" width="3" height="2.9" fill="#008c00" />
<rect x="84" y="283.1" width="3" height="2.9" fill="#008c00" />
<rect x="90" y="271.2" width="3" height="14.8" fill="#008c00" />
<rect x="96" y="284.2" width="3" height="1.8" fill="#008c00" />
<rect x="102" y="284.2" width="3" height="1.8" fill="#008c00" />
<rect x="108" y="283.1" width="3" height="2.9" fill="#008c00" />
<rect x="114" y="277.2" width="3" height="8.8" fill="#008c00" />
<rect x="120" y="280.3" width="3" height="5.7" fill="#008c00" />
<rect x="126" y="230.3" width="3" height="55.7" fill="#008c00" />
<rect x="132" y="268.6" width="3" height="17.4" fill="#008c00" />
<rect x="138" y="276.4" width="3" height="9.6" fill="#008c00" />
<rect x="144" y="283.1" width="3" height="2.9" fill="#008c00" />
<rect x="150" y="281.6" width="3" height="4.4" fill="#008c00" />
<rect x="156" y="281.6" width="3" height="4.4" fill="#008c00" />
<rect x="162" y="283.1" width="3" height="2.9" fill="#008c00" />
<rect x="168" y="285" width="3" height="1" fill="#008c00" />
<rect x="174" y="282.4" width="3" height="3.6" fill="#008c00" />
<rect x="180" y="284.2" width="3" height="1.8" fill="#008c00" />
<rect x="186" y="282.4" width="3" height="3.6" fill="#008c00" />
<rect x="192" y="281.3" width="3" height="4.7" fill="#008c00" />
<rect x="198" y="284.2" width="3" height="1.8" fill="#008c00" />
<rect x="204" y="284.2" width="3" height="1.8" fill="#008c00" />
<rect x="210" y="285.2" width="3" height="0.8" fill="#008c00" />
<rect x="216" y="284.2" width="3" height="1.8" fill="#008c00" />
<rect x="222" y="285.2" width="3" height="0.8" fill="#008c00" />
<rect x="228" y="285.2" width="3" height="0.8" fill="#008c00" />
<rect x="234" y="284.2" width="3" height="1.8" fill="#008c00" />
<rect x="240" y="284.2" width="3" height="1.8" fill="#008c00" />
<rect x="246" y="285.2" width="3" height="0.8" fill="#008c00" />
<rect x="252" y="285.2" width="3" height="0.8" fill="#008c00" />
<rect x="258" y="285.2" width="3" height="0.8" fill="#008c00" />
<rect x="264" y="285.2" width="3" height="0.8" fill="#008c00" />
<rect x="270" y="281.6" width="3" height="4.4" fill="#008c00" />
<rect x="276" y="280.3" width="3" height="5.7" fill="#008c00" />
<rect x="282" y="280.3" width="3" height="5.7" fill="#008c00" />
<rect x="288" y="275.3" width="3" height="10.7" fill="#008c00" />
<rect x="294" y="282.4" width="3" height="3.6" fill="#008c00" />
<rect x="300" y="281.3" width="3" height="4.7" fill="#008c00" />
<rect x="306" y="279.2" width="3" height="6.8" fill="#008c00" />
<rect x="312" y="282.4" width="3" height="3.6" fill="#008c00" />
<rect x="318" y="283.1" width="3" height="2.9" fill="#008c00" />
<rect x="324" y="281.3" width="3" height="4.7" fill="#008c00" />
<rect x="330" y="285.2" width="3" height="0.8" fill="#008c00" />
<rect x="336" y="283.1" width="3" height="2.9" fill="#008c00" />
<rect x="342" y="283.1" width="3" height="2.9" fill="#008c00" />
<rect x="348" y="284.2" width="3" height="1.8" fill="#008c00" />
<rect x="354" y="283.1" width="3" height="2.9" fill="#008c00" />
<rect x="360" y="284.2" width="3" height="1.8" fill="#008c00" />
<rect x="366" y="280.3" width="3" height="5.7" fill="#008c00" />
<rect x="372" y="282.4" width="3" height="3.6" fill="#008c00" />
<rect x="378" y="279.2" width="3" height="6.8" fill="#008c00" />
<rect x="384" y="283.1" width="3" height="2.9" fill="#008c00" />
<rect x="390" y="272.2" width="3" height="13.8" fill="#008c00" />
<rect x="396" y="283.1" width="3" height="2.9" fill="#008c00" />
<rect x="402" y="283.1" width="3" height="2.9" fill="#008c00" />
<rect x="408" y="280.3" width="3" height="5.7" fill="#008c00" />
<rect x="414" y="282.4" width="3" height="3.6" fill="#008c00" />
<rect x="420" y="282.4" width="3" height="3.6" fill="#008c00" />
<rect x="426" y="282.4" width="3" height="3.6" fill="#008c00" />
<rect x="432" y="284.2" width="3" height="1.8" fill="#008c00" />
<rect x="438" y="283.1" width="3" height="2.9" fill="#008c00" />
<rect x="444" y="282.1" width="3" height="3.9" fill="#008c00" />
<rect x="450" y="273.3" width="3" height="12.7" fill="#008c00" />
<rect x="456" y="277.2" width="3" height="8.8" fill="#008c00" />
<rect x="462" y="285.7" width="3" height="0.3" fill="#008c00" />
<rect x="468" y="283.1" width="3" height="2.9" fill="#008c00" />
<rect x="474" y="278.2" width="3" height="7.8" fill="#008c00" />
<rect x="480" y="282.1" width="3" height="3.9" fill="#008c00" />
<rect x="486" y="281.3" width="3" height="4.7" fill="#008c00" />
<rect x="492" y="283.1" width="3" height="2.9" fill="#008c00" />
<rect x="498" y="284.2" width="3" height="1.8" fill="#008c00" />
<rect x="504" y="285.2" width="3" height="0.8" fill="#008c00" />
<rect x="510" y="284.2" width="3" height="1.8" fill="#008c00" />
<rect x="516" y="283.1" width="3" height="2.9" fill="#008c00" />
<rect x="522" y="282.1" width="3" height="3.9" fill="#008c00" />
<rect x="528" y="284.2" width="3" height="1.8" fill="#008c00" />
<rect x="534" y="285.2" width="3" height="0.8" fill="#008c00" />
<rect x="540" y="284.2" width="3" height="1.8" fill="#008c00" />
<rect x="546" y="284.2" width="3" height="1.8" fill="#008c00" />
<rect x="552" y="285.2" width="3" height="0.8" fill="#008c00" />
<rect x="558" y="280.3" width="3" height="5.7" fill="#008c00" />
<rect x="564" y="284.2" width="3" height="1.8" fill="#008c00" />
<rect x="570" y="282.1" width="3" height="3.9" fill="#008c00" />
<rect x="576" y="282.1" width="3" height="3.9" fill="#008c00" />
<rect x="582" y="283.1" width="3" height="2.9" fill="#008c00" />
<rect x="588" y="284.2" width="3" height="1.8" fill="#008c00" />
<rect x="594" y="283.1" width="3" height="2.9" fill="#008c00" />
<rect x="600" y="281.3" width="3" height="4.7" fill="#008c00" />
<rect x="606" y="284.2" width="3" height="1.8" fill="#008c00" />
<rect x="612" y="283.1" width="3" height="2.9" fill="#008c00" />
<rect x="618" y="285.2" width="3" height="0.8" fill="#008c00" />
<rect x="624" y="284.2" width="3" height="1.8" fill="#008c00" />
<rect x="630" y="284.2" width="3" height="1.8" fill="#008c00" />
<rect x="636" y="284.2" width="3" height="1.8" fill="#008c00" />
<rect x="642" y="284.2" width="3" height="1.8" fill="#008c00" />
<rect x="648" y="285.2" width="3" height="0.8" fill="#008c00" />
<rect x="654" y="284.2" width="3" height="1.8" fill="#008c00" />
<rect x="660" y="285.2" width="3" height="0.8" fill="#008c00" />
<rect x="666" y="285.2" width="3" height="0.8" fill="#008c00" />
<rect x="672" y="284.4" width="3" height="1.6" fill="#008c00" />
<rect x="678" y="284.4" width="3" height="1.6" fill="#008c00" />
<rect x="684" y="282.1" width="3" height="3.9" fill="#008c00" />
<rect x="690" y="284.4" width="3" height="1.6" fill="#008c00" />
<rect x="696" y="284.4" width="3" height="1.6" fill="#008c00" />
<rect x="702" y="284.4" width="3" height="1.6" fill="#008c00" />
<rect x="708" y="284.4" width="3" height="1.6" fill="#008c00" />
<rect x="714" y="284.4" width="3" height="1.6" fill="#008c00" />
<rect x="720" y="284.4" width="3" height="1.6" fill="#008c00" />
<rect x="726" y="284.4" width="3" height="1.6" fill="#008c00" />
<rect x="732" y="284.4" width="3" height="1.6" fill="#008c00" />
<rect x="738" y="284.4" width="3" height="1.6" fill="#008c00" />
<rect x="744" y="284.4" width="3" height="1.6" fill="#008c00" />
<rect x="750" y="284.4" width="3" height="1.6" fill="#008c00" />
<rect x="756" y="284.4" width="3" height="1.6" fill="#008c00" />
<rect x="762" y="284.4" width="3" height="1.6" fill="#008c00" />
<rect x="768" y="284.4" width="3" height="1.6" fill="#008c00" />
<rect x="774" y="284.4" width="3" height="1.6" fill="#008c00" />
<rect x="780" y="284.4" width="3" height="1.6" fill="#008c00" />
<rect x="786" y="284.4" width="3" height="1.6" fill="#008c00" />
<rect x="792" y="284.4" width="3" height="1.6" fill="#008c00" />
<rect x="798" y="284.4" width="3" height="1.6" fill="#008c00" />
<rect x="804" y="284.4" width="3" height="1.6" fill="#008c00" />
<rect x="810" y="284.2" width="3" height="1.8" fill="#008c00" />
<rect x="816" y="284.4" width="3" height="1.6" fill="#008c00" />
<rect x="822" y="284.4" width="3" height="1.6" fill="#008c00" />
<rect x="828" y="284.2" width="3" height="1.8" fill="#008c00" />
<rect x="834" y="284.2" width="3" height="1.8" fill="#008c00" />
<rect x="840" y="284.4" width="3" height="1.6" fill="#008c00" />
<rect x="846" y="284.4" width="3" height="1.6" fill="#008c00" />
<rect x="852" y="284.4" width="3" height="1.6" fill="#008c00" />
<rect x="858" y="284.4" width="3" height="1.6" fill="#008c00" />
<rect x="864" y="284.4" width="3" height="1.6" fill="#008c00" />
<rect x="870" y="284.4" width="3" height="1.6" fill="#008c00" />
<rect x="876" y="284.4" width="3" height="1.6" fill="#008c00" />
<rect x="882" y="284.4" width="3" height="1.6" fill="#008c00" />
<rect x="888" y="284.4" width="3" height="1.6" fill="#008c00" />
<rect x="894" y="284.4" width="3" height="1.6" fill="#008c00" />
<rect x="900" y="284.4" width="3" height="1.6" fill="#008c00" />
<rect x="906" y="284.2" width="3" height="1.8" fill="#008c00" />
<rect x="912" y="284.4" width="3" height="1.6" fill="#008c00" />
<rect x="918" y="283.9" width="3" height="2.1" fill="#008c00" />
<rect x="924" y="283.9" width="3" height="2.1" fill="#008c00" />
<rect x="930" y="284.4" width="3" height="1.6" fill="#008c00" />
<rect x="936" y="284.2" width="3" height="1.8" fill="#008c00" />
<rect x="942" y="284.4" width="3" height="1.6" fill="#008c00" />
<rect x="948" y="284.4" width="3" height="1.6" fill="#008c00" />
<rect x="954" y="284.2" width="3" height="1.8" fill="#008c00" />
<rect x="960" y="284.4" width="3" height="1.6" fill="#008c00" />
<rect x="966" y="284.2" width="3" height="1.8" fill="#008c00" />
<rect x="972" y="284.2" width="3" height="1.8" fill="#008c00" />
<rect x="978" y="284.2" width="3" height="1.8" fill="#008c00" />
<rect x="984" y="284.4" width="3" height="1.6" fill="#008c00" />
<rect x="990" y="284.4" width="3" height="1.6" fill="#008c00" />
<rect x="996" y="281.6" width="3" height="4.4" fill="#008c00" />
<rect x="1002" y="284.2" width="3" height="1.8" fill="#008c00" />
<rect x="1008" y="284.2" width="3" height="1.8" fill="#008c00" />
<rect x="1014" y="284.2" width="3" height="1.8" fill="#008c00" />
<rect x="1020" y="284.4" width="3" height="1.6" fill="#008c00" />
<rect x="1026" y="284.4" width="3" height="1.6" fill="#008c00" />
<rect x="1032" y="284.4" width="3" height="1.6" fill="#008c00" />
<rect x="1038" y="284.4" width="3" height="1.6" fill="#008c00" />
<rect x="1044" y="284.4" width="3" height="1.6" fill="#008c00" />
<rect x="1050" y="284.4" width="3" height="1.6" fill="#008c00" />
<line x1="0" y1="286.5" x2="1053" y2="286.5" stroke="#000" stroke-width="1" />
<line x1="2" y1="335.5" x2="1053" y2="335.5" stroke="#808080" stroke-width="1" />
<line x1="19.5" y1="335.5" x2="19.5" y2="331.6" stroke="#ff0000" stroke-width="1" />
<line x1="25.5" y1="335.5" x2="25.5" y2="329" stroke="#ff0000" stroke-width="1" />
<line x1="31.5" y1="335.5" x2="31.5" y2="326.9" stroke="#ff0000" stroke-width="1" />
<line x1="37.5" y1="335.5" x2="37.5" y2="326.9" stroke="#ff0000" stroke-width="1" />
<line x1="43.5" y1="335.5" x2="43.5" y2="327.7" stroke="#ff0000" stroke-width="1" />
<line x1="49.5" y1="335.5" x2="49.5" y2="328.5" stroke="#ff0000" stroke-width="1" />
<line x1="55.5" y1="335.5" x2="55.5" y2="329" stroke="#ff0000" stroke-width="1" />
<line x1="61.5" y1="335.5" x2="61.5" y2="330.3" stroke="#ff0000" stroke-width="1" />
<line x1="67.5" y1="335.5" x2="67.5" y2="331.6" stroke="#ff0000" stroke-width="1" />
<line x1="73.5" y1="335.5" x2="73.5" y2="333.7" stroke="#ff0000" stroke-width="1" />
<line x1="91.5" y1="335.5" x2="91.5" y2="336.3" stroke="#ff0000" stroke-width="1" />
<line x1="97.5" y1="335.5" x2="97.5" y2="337.3" stroke="#ff0000" stroke-width="1" />
<line x1="103.5" y1="335.5" x2="103.5" y2="338.1" stroke="#ff0000" stroke-width="1" />
<line x1="109.5" y1="335.5" x2="109.5" y2="339.4" stroke="#ff0000" stroke-width="1" />
<line x1="115.5" y1="335.5" x2="115.5" y2="341.5" stroke="#ff0000" stroke-width="1" />
<line x1="121.5" y1="335.5" x2="121.5" y2="342.5" stroke="#ff0000" stroke-width="1" />
<line x1="127.5" y1="335.5" x2="127.5" y2="351.1" stroke="#ff0000" stroke-width="1" />
<line x1="133.5" y1="335.5" x2="133.5" y2="354.5" stroke="#ff0000" stroke-width="1" />
<line x1="139.5" y1="335.5" x2="139.5" y2="355.5" stroke="#ff0000" stroke-width="1" />
<line x1="145.5" y1="335.5" x2="145.5" y2="354.5" stroke="#ff0000" stroke-width="1" />
<line x1="151.5" y1="335.5" x2="151.5" y2="351.9" stroke="#ff0000" stroke-width="1" />
<line x1="157.5" y1="335.5" x2="157.5" y2="350.3" stroke="#ff0000" stroke-width="1" />
<line x1="163.5" y1="335.5" x2="163.5" y2="348.5" stroke="#ff0000" stroke-width="1" />
<line x1="169.5" y1="335.5" x2="169.5" y2="346.7" stroke="#ff0000" stroke-width="1" />
<line x1="175.5" y1="335.5" x2="175.5" y2="344.6" stroke="#ff0000" stroke-width="1" />
<line x1="181.5" y1="335.5" x2="181.5" y2="342.5" stroke="#ff0000" stroke-width="1" />
<line x1="187.5" y1="335.5" x2="187.5" y2="340.7" stroke="#ff0000" stroke-width="1" />
<line x1="193.5" y1="335.5" x2="193.5" y2="339.4" stroke="#ff0000" stroke-width="1" />
<line x1="199.5" y1="335.5" x2="199.5" y2="338.1" stroke="#ff0000" stroke-width="1" />
<line x1="205.5" y1="335.5" x2="205.5" y2="336.3" stroke="#ff0000" stroke-width="1" />
<line x1="217.5" y1="335.5" x2="217.5" y2="334.2" stroke="#ff0000" stroke-width="1" />
<line x1="223.5" y1="335.5" x2="223.5" y2="332.9" stroke="#ff0000" stroke-width="1" />
<line x1="229.5" y1="335.5" x2="229.5" y2="332.4" stroke="#ff0000" stroke-width="1" />
<line x1="235.5" y1="335.5" x2="235.5" y2="332.1" stroke="#ff0000" stroke-width="1" />
<line x1="241.5" y1="335.5" x2="241.5" y2="331.6" stroke="#ff0000" stroke-width="1" />
<line x1="247.5" y1="335.5" x2="247.5" y2="331.6" stroke="#ff0000" stroke-width="1" />
<line x1="253.5" y1="335.5" x2="253.5" y2="331.6" stroke="#ff0000" stroke-width="1" />
<line x1="259.5" y1="335.5" x2="259.5" y2="331.6" stroke="#ff0000" stroke-width="1" />
<line x1="265.5" y1="335.5" x2="265.5" y2="331.1" stroke="#ff0000" stroke-width="1" />
<line x1="271.5" y1="335.5" x2="271.5" y2="330" stroke="#ff0000" stroke-width="1" />
<line x1="277.5" y1="335.5" x2="277.5" y2="331.6" stroke="#ff0000" stroke-width="1" />
<line x1="283.5" y1="335.5" x2="283.5" y2="334.2" stroke="#ff0000" stroke-width="1" />
<line x1="319.5" y1="335.5" x2="319.5" y2="333.7" stroke="#ff0000" stroke-width="1" />
<line x1="325.5" y1="335.5" x2="325.5" y2="332.9" stroke="#ff0000" stroke-width="1" />
<line x1="331.5" y1="335.5" x2="331.5" y2="332.4" stroke="#ff0000" stroke-width="1" />
<line x1="337.5" y1="335.5" x2="337.5" y2="331.6" stroke="#ff0000" stroke-width="1" />
<line x1="343.5" y1="335.5" x2="343.5" y2="331.1" stroke="#ff0000" stroke-width="1" />
<line x1="349.5" y1="335.5" x2="349.5" y2="330.3" stroke="#ff0000" stroke-width="1" />
<line x1="355.5" y1="335.5" x2="355.5" y2="331.1" stroke="#ff0000" stroke-width="1" />
<line x1="361.5" y1="335.5" x2="361.5" y2="332.4" stroke="#ff0000" stroke-width="1" />
<line x1="367.5" y1="335.5" x2="367.5" y2="334.2" stroke="#ff0000" stroke-width="1" />
<line x1="379.5" y1="335.5" x2="379.5" y2="336.3" stroke="#ff0000" stroke-width="1" />
<line x1="385.5" y1="335.5" x2="385.5" y2="336.8" stroke="#ff0000" stroke-width="1" />
<line x1="391.5" y1="335.5" x2="391.5" y2="338.1" stroke="#ff0000" stroke-width="1" />
<line x1="397.5" y1="335.5" x2="397.5" y2="338.9" stroke="#ff0000" stroke-width="1" />
<line x1="403.5" y1="335.5" x2="403.5" y2="339.4" stroke="#ff0000" stroke-width="1" />
<line x1="409.5" y1="335.5" x2="409.5" y2="340.7" stroke="#ff0000" stroke-width="1" />
<line x1="415.5" y1="335.5" x2="415.5" y2="340.7" stroke="#ff0000" stroke-width="1" />
<line x1="421.5" y1="335.5" x2="421.5" y2="338.9" stroke="#ff0000" stroke-width="1" />
<line x1="427.5" y1="335.5" x2="427.5" y2="337.3" stroke="#ff0000" stroke-width="1" />
<line x1="433.5" y1="335.5" x2="433.5" y2="336.3" stroke="#ff0000" stroke-width="1" />
<line x1="475.5" y1="335.5" x2="475.5" y2="336.8" stroke="#ff0000" stroke-width="1" />
<line x1="481.5" y1="335.5" x2="481.5" y2="338.9" stroke="#ff0000" stroke-width="1" />
<line x1="487.5" y1="335.5" x2="487.5" y2="340.7" stroke="#ff0000" stroke-width="1" />
<line x1="493.5" y1="335.5" x2="493.5" y2="339.4" stroke="#ff0000" stroke-width="1" />
<line x1="499.5" y1="335.5" x2="499.5" y2="338.9" stroke="#ff0000" stroke-width="1" />
<line x1="505.5" y1="335.5" x2="505.5" y2="338.9" stroke="#ff0000" stroke-width="1" />
<line x1="511.5" y1="335.5" x2="511.5" y2="338.1" stroke="#ff0000" stroke-width="1" />
<line x1="517.5" y1="335.5" x2="517.5" y2="336.8" stroke="#ff0000" stroke-width="1" />
<line x1="535.5" y1="335.5" x2="535.5" y2="334.7" stroke="#ff0000" stroke-width="1" />
<line x1="541.5" y1="335.5" x2="541.5" y2="333.7" stroke="#ff0000" stroke-width="1" />
<line x1="547.5" y1="335.5" x2="547.5" y2="332.4" stroke="#ff0000" stroke-width="1" />
<line x1="553.5" y1="335.5" x2="553.5" y2="331.1" stroke="#ff0000" stroke-width="1" />
<line x1="559.5" y1="335.5" x2="559.5" y2="332.4" stroke="#ff0000" stroke-width="1" />
<line x1="565.5" y1="335.5" x2="565.5" y2="333.7" stroke="#ff0000" stroke-width="1" />
<line x1="571.5" y1="335.5" x2="571.5" y2="334.7" stroke="#ff0000" stroke-width="1" />
<line x1="601.5" y1="335.5" x2="601.5" y2="336.3" stroke="#ff0000" stroke-width="1" />
<line x1="607.5" y1="335.5" x2="607.5" y2="336.8" stroke="#ff0000" stroke-width="1" />
<line x1="625.5" y1="335.5" x2="625.5" y2="336.8" stroke="#ff0000" stroke-width="1" />
<line x1="649.5" y1="335.5" x2="649.5" y2="334.7" stroke="#ff0000" stroke-width="1" />
<line x1="655.5" y1="335.5" x2="655.5" y2="333.7" stroke="#ff0000" stroke-width="1" />
<line x1="661.5" y1="335.5" x2="661.5" y2="333.7" stroke="#ff0000" stroke-width="1" />
<line x1="667.5" y1="335.5" x2="667.5" y2="333.7" stroke="#ff0000" stroke-width="1" />
<line x1="673.5" y1="335.5" x2="673.5" y2="333.7" stroke="#ff0000" stroke-width="1" />
<line x1="679.5" y1="335.5" x2="679.5" y2="333.7" stroke="#ff0000" stroke-width="1" />
<line x1="685.5" y1="335.5" x2="685.5" y2="333.7" stroke="#ff0000" stroke-width="1" />
<line x1="691.5" y1="335.5" x2="691.5" y2="333.7" stroke="#ff0000" stroke-width="1" />
<line x1="697.5" y1="335.5" x2="697.5" y2="332.9" stroke="#ff0000" stroke-width="1" />
<line x1="703.5" y1="335.5" x2="703.5" y2="332.4" stroke="#ff0000" stroke-width="1" />
<line x1="709.5" y1="335.5" x2="709.5" y2="331.1" stroke="#ff0000" stroke-width="1" />
<line x1="715.5" y1="335.5" x2="715.5" y2="329.8" stroke="#ff0000" stroke-width="1" />
<line x1="721.5" y1="335.5" x2="721.5" y2="329.8" stroke="#ff0000" stroke-width="1" />
<line x1="727.5" y1="335.5" x2="727.5" y2="332.4" stroke="#ff0000" stroke-width="1" />
<line x1="733.5" y1="335.5" x2="733.5" y2="332.4" stroke="#ff0000" stroke-width="1" />
<line x1="739.5" y1="335.5" x2="739.5" y2="332.4" stroke="#ff0000" stroke-width="1" />
<line x1="745.5" y1="335.5" x2="745.5" y2="333.7" stroke="#ff0000" stroke-width="1" />
<line x1="751.5" y1="335.5" x2="751.5" y2="334.7" stroke="#ff0000" stroke-width="1" />
<line x1="757.5" y1="335.5" x2="757.5" y2="334.7" stroke="#ff0000" stroke-width="1" />
<line x1="763.5" y1="335.5" x2="763.5" y2="334.7" stroke="#ff0000" stroke-width="1" />
<line x1="769.5" y1="335.5" x2="769.5" y2="334.7" stroke="#ff0000" stroke-width="1" />
<line x1="775.5" y1="335.5" x2="775.5" y2="334.7" stroke="#ff0000" stroke-width="1" />
<line x1="781.5" y1="335.5" x2="781.5" y2="333.7" stroke="#ff0000" stroke-width="1" />
<line x1="787.5" y1="335.5" x2="787.5" y2="332.4" stroke="#ff0000" stroke-width="1" />
<line x1="793.5" y1="335.5" x2="793.5" y2="333.7" stroke="#ff0000" stroke-width="1" />
<line x1="799.5" y1="335.5" x2="799.5" y2="333.7" stroke="#ff0000" stroke-width="1" />
<line x1="805.5" y1="335.5" x2="805.5" y2="334.7" stroke="#ff0000" stroke-width="1" />
<line x1="811.5" y1="335.5" x2="811.5" y2="334.7" stroke="#ff0000" stroke-width="1" />
<line x1="817.5" y1="335.5" x2="817.5" y2="334.7" stroke="#ff0000" stroke-width="1" />
<line x1="823.5" y1="335.5" x2="823.5" y2="334.7" stroke="#ff0000" stroke-width="1" />
<line x1="829.5" y1="335.5" x2="829.5" y2="334.7" stroke="#ff0000" stroke-width="1" />
<line x1="835.5" y1="335.5" x2="835.5" y2="334.7" stroke="#ff0000" stroke-width="1" />
<line x1="919.5" y1="335.5" x2="919.5" y2="334.2" stroke="#ff0000" stroke-width="1" />
<line x1="925.5" y1="335.5" x2="925.5" y2="334.2" stroke="#ff0000" stroke-width="1" />
<line x1="931.5" y1="335.5" x2="931.5" y2="333.7" stroke="#ff0000" stroke-width="1" />
<line x1="937.5" y1="335.5" x2="937.5" y2="333.7" stroke="#ff0000" stroke-width="1" />
<line x1="943.5" y1="335.5" x2="943.5" y2="334.2" stroke="#ff0000" stroke-width="1" />
<line x1="973.5" y1="335.5" x2="973.5" y2="336.8" stroke="#ff0000" stroke-width="1" />
<line x1="979.5" y1="335.5" x2="979.5" y2="337.3" stroke="#ff0000" stroke-width="1" />
<line x1="985.5" y1="335.5" x2="985.5" y2="338.1" stroke="#ff0000" stroke-width="1" />
<line x1="991.5" y1="335.5" x2="991.5" y2="338.9" stroke="#ff0000" stroke-width="1" />
<line x1="997.5" y1="335.5" x2="997.5" y2="339.4" stroke="#ff0000" stroke-width="1" />
<line x1="1003.5" y1="335.5" x2="1003.5" y2="339.9" stroke="#ff0000" stroke-width="1" />
<line x1="1009.5" y1="335.5" x2="1009.5" y2="340.7" stroke="#ff0000" stroke-width="1" />
<line x1="1015.5" y1="335.5" x2="1015.5" y2="341.5" stroke="#ff0000" stroke-width="1" />
<line x1="1021.5" y1="335.5" x2="1021.5" y2="338.9" stroke="#ff0000" stroke-width="1" />
<line x1="1027.5" y1="335.5" x2="1027.5" y2="338.1" stroke="#ff0000" stroke-width="1" />
<line x1="1033.5" y1="335.5" x2="1033.5" y2="336.8" stroke="#ff0000" stroke-width="1" />
<polyline points="0,340.5 15.6,339.7 26,331.4 39,324.9 52,321.5 67.6,320.5 78,323.6 91,328.3 104,331.4 114.4,335.3 122.2,343.1 127.4,353.5 135.2,363.9 145.6,370.4 161.2,376.1 171.7,378.2 187.3,379.5 202.9,377.7 215.9,371.7 234.1,366.5 249.7,363.1 270.5,357.4 278.3,357.4 286.1,361.3 301.7,363.1 312.1,360 325.1,356.1 343.3,351.7 356.3,348.3 364.1,349.1 374.5,353.5 390.1,356.9 405.7,362.1 416.1,365.2 426.5,364.7 442.1,361.3 455.1,362.1 475.9,363.9 488.9,370.4 509.8,371.7 520.2,371.7 535.2,367.8 548.8,363.1 559.2,360.5 572.2,362.1 593,363.1 606,365.2 629.4,365.7 645,363.1 660.6,358.7 670,357.4 679.7,357.4 690.1,356.9 703.1,352.2 716.1,348.3 731.7,346.5 755.1,346.2 773.3,343.9 786.3,340.5 801.9,340.5 814.9,338.7 830.5,338.4 846.1,341.3 872.1,341.3 892.9,338.7 916.3,337.1 924.1,335.8 934.6,333.5 947.6,334 965.2,335.3 976.2,338.7 991.8,342.3 1007.4,348.3 1015.2,349.6 1033.4,348.3 1043.8,345.7 1051.6,344.4" fill="none" stroke="#ffff00" stroke-width="1" />
<polyline points="0,341.8 15.6,341.3 31.2,335.3 46.8,329.3 62.4,325.7 75.4,324.4 88.4,324.4 101.4,325.7 114.4,328.8 122.2,331.4 130,337.9 140.4,347 150.8,355.3 161.2,362.1 174.3,367.8 187.3,371.7 197.7,373.8 218.5,373.8 234.1,371.2 249.7,367.8 270.5,363.1 286.1,361.3 306.9,362.1 322.5,360.5 338.1,356.9 348.5,355.3 358.9,352.2 379.7,352.2 395.3,355.3 410.9,358.7 426.5,361.3 442.1,361.8 475.9,362.1 488.9,365.2 509.8,369.1 522.8,369.9 535.2,368.3 554,365.2 569.6,363.1 593,363.1 608.6,364.4 624.2,365.2 642.4,364.7 660.6,362.6 670,361.8 677.1,360 695.3,358.7 710.9,354.8 726.5,351.7 736.9,349.6 755.1,348.3 775.9,346.2 788.9,343.6 807.1,342.3 822.7,340.5 846.1,340.5 872.1,340.5 892.9,339.7 916.3,338.7 929.3,337.1 937.2,335.8 950.2,335.3 968.4,335.3 984,337.1 999.6,339.2 1010,341.8 1025.6,344.4 1033.4,346.2 1051.6,345.7" fill="none" stroke="#0000ff" stroke-width="1" />
<line x1="2" y1="414.5" x2="1053" y2="414.5" stroke="#0000ff" stroke-width="1" />
<line x1="2" y1="457.5" x2="1053" y2="457.5" stroke="#ff0000" stroke-width="1" />
<polyline points="0,454.6 7.8,450.7 15.6,441.6 26,429.9 36.4,416.9 41.6,413 52,412.5 59.8,413.5 68.9,413 78,419.5 88.4,429.9 98.8,439 106.6,450.7 111.8,457.2 118.3,461.1 124.8,463.7 132.6,461.9 140.4,458.5 148.2,455.1 161.2,452.8 182.1,453.3 192.5,455.1 202.9,454.6 210.7,450.7 218.5,444.2 226.3,439 234.1,439.5 247.1,439.5 254.9,436.4 265.3,429.9 271.8,425.5 278.3,431.2 284.8,441.6 288.7,448.1 295.2,451.5 301.7,449.4 308.2,447.6 313.4,445.5 322.5,436.4 330.3,430.7 340.7,428.6 348.5,426.8 356.3,424.7 361.5,424.7 366.7,428.6 371.9,437.7 378.4,449.4 384.9,458.5 392.7,462.4 400.5,463.2 408.3,463.2 416.1,465 426.5,459.8 436.9,455.9 445.3,454.1 452.5,456.7 460.3,459.3 468.1,458.5 475.9,461.1 483.7,465 491.5,467.1 499.3,466.3 507.2,465 515,467.6 522.8,466.3 529.3,462.4 535.8,457.2 543.6,450.7 551.4,446.3 557.9,444.7 564.4,446.8 572.2,450.7 578.7,458.5 587.8,462.4 595.6,465.5 603.4,466.3 611.2,465.5 620.3,463.2 629.4,465 635.9,465.5 643.7,462.4 652.8,457.7 661.9,455.1 670,455.1 679.7,456.7 687.5,455.1 695.3,449.4 703.1,436.4 709.6,423.4 716.1,414.3 721.3,413 729.1,420.8 742.1,431.2 755.1,439.5 765.5,442.1 773.3,446.3 779.8,442.9 787.6,432.5 794.1,431.2 804.5,437.7 812.3,436.4 820.1,432.5 829.2,431.2 835.7,436.4 843.5,445.5 850,452 855.2,451.5 861.7,446.8 872.1,442.1 882.5,439 890.3,436.9 898.1,433.8 905.9,429.9 913.7,426 921.5,423.4 929.3,422.1 937.2,420.3 943.7,420.8 950.2,426 956.7,435.1 963.2,442.9 971,449.4 978.8,455.9 986.6,459.8 994.4,461.9 1002.2,462.4 1010,465 1015.2,466.3 1021.7,462.4 1028.2,455.9 1036,449.4 1043.8,442.9 1051.1,438.5" fill="none" stroke="#ff0000" stroke-width="1" />
<polyline points="0,450.7 7.8,442.9 14.3,439 20.8,428.6 26,418.2 31.2,412.5 52,412.5 55.9,415.1 66.3,412.5 71.5,418.2 79.3,429.9 85.8,430.7 93.6,439 104,453.3 109.2,463.7 114.4,462.4 122.2,465 127.4,462.4 133.9,457.2 141.7,455.9 150.8,452.8 166.4,453.3 182.1,453.3 187.3,455.4 200.3,455.1 205.5,452 212,442.1 218.5,440.8 223.7,436.4 228.9,439 235.4,441.1 244.5,438.5 253.6,435.9 259.3,425.5 265.3,427.3 271.3,421.6 275.7,433.8 283.5,455.1 288.7,453.3 295.2,446.8 300.4,449.9 306.9,444.2 313.4,439 319.9,429.9 325.1,426.5 331.6,429.9 338.1,428.1 343.3,425.5 349.8,424.2 360.2,424.7 364.1,432.5 369.3,444.2 374.5,455.9 379.7,460.3 386.2,461.9 391.4,465 396.6,459.8 403.1,465 408.3,463.7 414.8,464.5 421.3,460.3 427.8,455.9 433,455.9 439.5,453.3 445.3,451.5 451.2,461.6 457.7,459.3 462.9,456.7 469.4,458.5 475.9,463.7 482.4,468.1 487.6,469.4 492.8,463.7 499.3,463.2 505.9,465 511.8,468.9 517.6,466.3 522.8,463.7 529.3,459.8 535.2,452 542.3,446.8 547.5,446.3 554,443.4 559.2,445.5 564.4,453.3 570.9,454.6 577.4,462.9 585.2,463.2 590.4,465 596.9,468.1 603.4,466.3 609.9,463.7 617.7,462.4 622.9,464.5 626.8,467.1 632,467.1 639.8,461.1 648.9,454.6 660.6,454.1 670,454.6 679.7,457.7 686.2,454.6 695.3,440.3 703.1,426 709.6,411.7 714.8,411.2 721.3,415.1 727.8,428.1 739.5,429.9 745.5,441.1 762.9,441.1 769.4,448.9 775.9,445.5 782.4,428.6 787.6,422.9 794.1,440.3 800.6,438.5 812.3,436.4 817.5,427.3 824,431.2 829.2,433.3 835.7,444.2 840.9,451.5 847.4,455.9 852.6,446.8 859.1,441.6 865.6,444.2 872.1,440.3 883.8,437.7 890.3,436.4 895.5,431.2 901.5,424.7 907.2,429.9 913.7,423.4 919.7,417.7 925.4,426 932,420.8 937.2,415.6 943.7,426 948.9,429.9 955.4,437.7 961.3,449.4 967.1,448.9 973.6,455.9 979.5,462.9 985.3,459.8 991.8,462.4 998.3,462.4 1004.8,465 1010,468.1 1015.2,465 1021.7,454.6 1026.9,453.3 1033.4,448.9 1039.4,438.5 1045.1,439.5 1051.1,434.3" fill="none" stroke="#0000ff" stroke-width="1" />
<rect x="0" y="0" width="1" height="485" fill="#000" />
<line x1="0" y1="484.5" x2="1102" y2="484.5" stroke="#000" stroke-width="1" />
<line x1="1053.5" y1="0" x2="1053.5" y2="515" stroke="#000" stroke-width="1" />
<line x1="43.5" y1="485" x2="43.5" y2="489" stroke="#000" stroke-width="1" />
<line x1="139.5" y1="485" x2="139.5" y2="489" stroke="#000" stroke-width="1" />
<line x1="235.5" y1="485" x2="235.5" y2="489" stroke="#000" stroke-width="1" />
<line x1="331.5" y1="485" x2="331.5" y2="489" stroke="#000" stroke-width="1" />
<line x1="427.5" y1="485" x2="427.5" y2="489" stroke="#000" stroke-width="1" />
<line x1="535.5" y1="485" x2="535.5" y2="489" stroke="#000" stroke-width="1" />
<line x1="631.5" y1="485" x2="631.5" y2="489" stroke="#000" stroke-width="1" />
<line x1="727.5" y1="485" x2="727.5" y2="489" stroke="#000" stroke-width="1" />
<line x1="823.5" y1="485" x2="823.5" y2="489" stroke="#000" stroke-width="1" />
<line x1="919.5" y1="485" x2="919.5" y2="489" stroke="#000" stroke-width="1" />
<line x1="1015.5" y1="485" x2="1015.5" y2="494" stroke="#000" stroke-width="1" />
<text x="42.5" y="503.1" textLength="30" lengthAdjust="spacingAndGlyphs" class="n" fill="#000" xml:space="preserve">09:20</text>
<text x="138.5" y="503.1" textLength="30" lengthAdjust="spacingAndGlyphs" class="n" fill="#000" xml:space="preserve">10:40</text>
<text x="234.5" y="503.1" textLength="30" lengthAdjust="spacingAndGlyphs" class="n" fill="#000" xml:space="preserve">12:00</text>
<text x="330.5" y="503.1" textLength="30" lengthAdjust="spacingAndGlyphs" class="n" fill="#000" xml:space="preserve">13:20</text>
<text x="426.5" y="503.1" textLength="30" lengthAdjust="spacingAndGlyphs" class="n" fill="#000" xml:space="preserve">14:40</text>
<text x="534.5" y="503.1" textLength="30" lengthAdjust="spacingAndGlyphs" class="n" fill="#000" xml:space="preserve">17:20</text>
<text x="630.5" y="503.1" textLength="30" lengthAdjust="spacingAndGlyphs" class="n" fill="#000" xml:space="preserve">18:40</text>
<text x="726.5" y="503.1" textLength="30" lengthAdjust="spacingAndGlyphs" class="n" fill="#000" xml:space="preserve">20:00</text>
<text x="822.5" y="503.1" textLength="30" lengthAdjust="spacingAndGlyphs" class="n" fill="#000" xml:space="preserve">21:20</text>
<text x="918.5" y="503.1" textLength="30" lengthAdjust="spacingAndGlyphs" class="n" fill="#000" xml:space="preserve">22:40</text>
<text x="1014.5" y="503.1" textLength="30" lengthAdjust="spacingAndGlyphs" class="n" fill="#000" xml:space="preserve">04/05</text>
<line x1="1054" y1="17.5" x2="1059" y2="17.5" stroke="#000" stroke-width="1" />
<text x="1062" y="21.7" textLength="36" lengthAdjust="spacingAndGlyphs" class="n" fill="#000" xml:space="preserve">10,075</text>
<line x1="1054" y1="55.5" x2="1059" y2="55.5" stroke="#000" stroke-width="1" />
<text x="1062" y="59.7" textLength="30" lengthAdjust="spacingAndGlyphs" class="n" fill="#000" xml:space="preserve">9,995</text>
<line x1="1054" y1="92.5" x2="1059" y2="92.5" stroke="#000" stroke-width="1" />
<text x="1062" y="96.7" textLength="30" lengthAdjust="spacingAndGlyphs" class="n" fill="#000" xml:space="preserve">9,915</text>
<line x1="1054" y1="130.5" x2="1059" y2="130.5" stroke="#000" stroke-width="1" />
<text x="1062" y="134.7" textLength="30" lengthAdjust="spacingAndGlyphs" class="n" fill="#000" xml:space="preserve">9,835</text>
<line x1="1054" y1="167.5" x2="1059" y2="167.5" stroke="#000" stroke-width="1" />
<text x="1062" y="171.7" textLength="30" lengthAdjust="spacingAndGlyphs" class="n" fill="#000" xml:space="preserve">9,755</text>
<line x1="1054" y1="228.5" x2="1059" y2="228.5" stroke="#000" stroke-width="1" />
<text x="1062" y="232.7" textLength="36" lengthAdjust="spacingAndGlyphs" class="n" fill="#000" xml:space="preserve">950.00</text>
<line x1="1054" y1="265.5" x2="1059" y2="265.5" stroke="#000" stroke-width="1" />
<text x="1062" y="269.7" textLength="36" lengthAdjust="spacingAndGlyphs" class="n" fill="#000" xml:space="preserve">350.00</text>
<line x1="1054" y1="320.5" x2="1059" y2="320.5" stroke="#000" stroke-width="1" />
<text x="1062" y="324.7" textLength="30" lengthAdjust="spacingAndGlyphs" class="n" fill="#000" xml:space="preserve">11.00</text>
<line x1="1054" y1="357.5" x2="1059" y2="357.5" stroke="#000" stroke-width="1" />
<text x="1062" y="361.7" textLength="36" lengthAdjust="spacingAndGlyphs" class="n" fill="#000" xml:space="preserve">-15.50</text>
<line x1="1054" y1="410.5" x2="1059" y2="410.5" stroke="#000" stroke-width="1" />
<text x="1062" y="414.7" textLength="30" lengthAdjust="spacingAndGlyphs" class="n" fill="#000" xml:space="preserve">85.00</text>
<line x1="1054" y1="447.5" x2="1059" y2="447.5" stroke="#000" stroke-width="1" />
<text x="1062" y="451.7" textLength="30" lengthAdjust="spacingAndGlyphs" class="n" fill="#000" xml:space="preserve">35.00</text>
<rect x="1057.5" y="286.5" width="37" height="13" fill="#fff" stroke="#000" stroke-width="1"/>
<text x="1060" y="296.6" textLength="30" lengthAdjust="spacingAndGlyphs" class="n" fill="#000" xml:space="preserve">× 100</text>
<line x1="1122.5" y1="0" x2="1122.5" y2="484" stroke="#c0c0c0" stroke-width="1" stroke-dasharray="3 3"/>
<line x1="1272.5" y1="0" x2="1272.5" y2="484" stroke="#c0c0c0" stroke-width="1" stroke-dasharray="3 3"/>
<line x1="1440.5" y1="0" x2="1440.5" y2="484" stroke="#c0c0c0" stroke-width="1" stroke-dasharray="3 3"/>
<line x1="1536.5" y1="0" x2="1536.5" y2="484" stroke="#c0c0c0" stroke-width="1" stroke-dasharray="3 3"/>
<line x1="1686.5" y1="0" x2="1686.5" y2="484" stroke="#c0c0c0" stroke-width="1" stroke-dasharray="3 3"/>
<line x1="1854.5" y1="0" x2="1854.5" y2="484" stroke="#c0c0c0" stroke-width="1" stroke-dasharray="3 3"/>
<line x1="1950.5" y1="0" x2="1950.5" y2="484" stroke="#c0c0c0" stroke-width="1" stroke-dasharray="3 3"/>
<line x1="2100.5" y1="0" x2="2100.5" y2="484" stroke="#c0c0c0" stroke-width="1" stroke-dasharray="3 3"/>
<line x1="1104" y1="17.5" x2="2187" y2="17.5" stroke="#c0c0c0" stroke-width="1" stroke-dasharray="3 3"/>
<line x1="1104" y1="55.5" x2="2187" y2="55.5" stroke="#c0c0c0" stroke-width="1" stroke-dasharray="3 3"/>
<line x1="1104" y1="92.5" x2="2187" y2="92.5" stroke="#c0c0c0" stroke-width="1" stroke-dasharray="3 3"/>
<line x1="1104" y1="130.5" x2="2187" y2="130.5" stroke="#c0c0c0" stroke-width="1" stroke-dasharray="3 3"/>
<line x1="1104" y1="167.5" x2="2187" y2="167.5" stroke="#c0c0c0" stroke-width="1" stroke-dasharray="3 3"/>
<line x1="1104" y1="229.5" x2="2187" y2="229.5" stroke="#c0c0c0" stroke-width="1" stroke-dasharray="3 3"/>
<line x1="1104" y1="266.5" x2="2187" y2="266.5" stroke="#c0c0c0" stroke-width="1" stroke-dasharray="3 3"/>
<line x1="1104" y1="320.5" x2="2187" y2="320.5" stroke="#c0c0c0" stroke-width="1" stroke-dasharray="3 3"/>
<line x1="1104" y1="360.5" x2="2187" y2="360.5" stroke="#c0c0c0" stroke-width="1" stroke-dasharray="3 3"/>
<line x1="1104" y1="410.5" x2="2187" y2="410.5" stroke="#c0c0c0" stroke-width="1" stroke-dasharray="3 3"/>
<line x1="1104" y1="447.5" x2="2187" y2="447.5" stroke="#c0c0c0" stroke-width="1" stroke-dasharray="3 3"/>
<text x="1108" y="11.1" textLength="24" lengthAdjust="spacingAndGlyphs" class="w" fill="#000">日経</text>
<text x="1132" y="11.1" textLength="102" lengthAdjust="spacingAndGlyphs" class="n" fill="#000" xml:space="preserve">225mini 12/06( 15</text>
<text x="1234" y="11.1" textLength="12" lengthAdjust="spacingAndGlyphs" class="w" fill="#000">分</text>
<text x="1246" y="11.1" textLength="162" lengthAdjust="spacingAndGlyphs" class="n" fill="#000" xml:space="preserve">, 2012/03/28 - 2012/04/05 )</text>
<text x="1426" y="11.1" textLength="48" lengthAdjust="spacingAndGlyphs" class="w" fill="#000">移動平均</text>
<text x="1474" y="11.1" textLength="78" lengthAdjust="spacingAndGlyphs" class="n" fill="#000" xml:space="preserve">( Close, 40 )</text>
<text x="1571" y="11.1" textLength="48" lengthAdjust="spacingAndGlyphs" class="w" fill="#000">移動平均</text>
<text x="1619" y="11.1" textLength="84" lengthAdjust="spacingAndGlyphs" class="n" fill="#000" xml:space="preserve">( Close, 150 )</text>
<text x="1726" y="11.1" textLength="48" lengthAdjust="spacingAndGlyphs" class="w" fill="#000">移動平均</text>
<text x="1774" y="11.1" textLength="78" lengthAdjust="spacingAndGlyphs" class="n" fill="#000" xml:space="preserve">( Close, 10 )</text>
<text x="1872" y="11.1" textLength="48" lengthAdjust="spacingAndGlyphs" class="w" fill="#000">移動平均</text>
<text x="1920" y="11.1" textLength="78" lengthAdjust="spacingAndGlyphs" class="n" fill="#000" xml:space="preserve">( Close, 20 )</text>
<text x="2018" y="11.1" textLength="60" lengthAdjust="spacingAndGlyphs" class="w" fill="#000">一目均衡表</text>
<text x="2078" y="11.1" textLength="78" lengthAdjust="spacingAndGlyphs" class="n" fill="#000" xml:space="preserve">( 9, 26, 52 )</text>
<text x="1108" y="24.6" textLength="48" lengthAdjust="spacingAndGlyphs" class="w" fill="#000">移動平均</text>
<text x="1156" y="24.6" textLength="72" lengthAdjust="spacingAndGlyphs" class="n" fill="#000" xml:space="preserve">( Close, 5 )</text>
<text x="1249" y="24.6" textLength="48" lengthAdjust="spacingAndGlyphs" class="w" fill="#000">移動平均</text>
<text x="1297" y="24.6" textLength="78" lengthAdjust="spacingAndGlyphs" class="n" fill="#000" xml:space="preserve">( Close, 75 )</text>
<text x="1394" y="24.6" textLength="48" lengthAdjust="spacingAndGlyphs" class="w" fill="#000">移動平均</text>
<text x="1442" y="24.6" textLength="78" lengthAdjust="spacingAndGlyphs" class="n" fill="#000" xml:space="preserve">( Close, 25 )</text>
<text x="1540" y="24.6" textLength="48" lengthAdjust="spacingAndGlyphs" class="w" fill="#000">移動平均</text>
<text x="1588" y="24.6" textLength="78" lengthAdjust="spacingAndGlyphs" class="n" fill="#000" xml:space="preserve">( Close, 75 )</text>
<text x="1108" y="223.6" textLength="36" lengthAdjust="spacingAndGlyphs" class="w" fill="#000">出来高</text>
<text x="1108" y="314.1" textLength="102" lengthAdjust="spacingAndGlyphs" class="n" fill="#000" xml:space="preserve">MACD( 12, 26, 9 )</text>
<text x="1108" y="405.1" textLength="156" lengthAdjust="spacingAndGlyphs" class="w" fill="#000">スロー・ストキャスティクス</text>
<text x="1264" y="405.1" textLength="102" lengthAdjust="spacingAndGlyphs" class="n" fill="#000" xml:space="preserve">( 14, 3, 80, 20 )</text>
<line x1="1188.5" y1="17.5" x2="1188.5" y2="40" stroke="#0000ff" stroke-width="1" />
<line x1="1194.5" y1="17.5" x2="1194.5" y2="40" stroke="#0000ff" stroke-width="1" />
<line x1="1200.5" y1="17.5" x2="1200.5" y2="40" stroke="#0000ff" stroke-width="1" />
<line x1="1206.5" y1="17.5" x2="1206.5" y2="40" stroke="#0000ff" stroke-width="1" />
<line x1="1212.5" y1="17.5" x2="1212.5" y2="40" stroke="#0000ff" stroke-width="1" />
<line x1="1218.5" y1="17.5" x2="1218.5" y2="40" stroke="#0000ff" stroke-width="1" />
<line x1="1224.5" y1="17.6" x2="1224.5" y2="40" stroke="#0000ff" stroke-width="1" />
<line x1="1230.5" y1="19.2" x2="1230.5" y2="40" stroke="#0000ff" stroke-width="1" />
<line x1="1236.5" y1="19.2" x2="1236.5" y2="40" stroke="#0000ff" stroke-width="1" />
<line x1="1242.5" y1="19.2" x2="1242.5" y2="40" stroke="#0000ff" stroke-width="1" />
<line x1="1248.5" y1="19.3" x2="1248.5" y2="40" stroke="#0000ff" stroke-width="1" />
<line x1="1254.5" y1="19.3" x2="1254.5" y2="40.7" stroke="#0000ff" stroke-width="1" />
<line x1="1260.5" y1="19.3" x2="1260.5" y2="41.5" stroke="#0000ff" stroke-width="1" />
<line x1="1266.5" y1="19.3" x2="1266.5" y2="42.4" stroke="#0000ff" stroke-width="1" />
<line x1="1272.5" y1="19.3" x2="1272.5" y2="43.2" stroke="#0000ff" stroke-width="1" />
<line x1="1278.5" y1="19.3" x2="1278.5" y2="41.7" stroke="#0000ff" stroke-width="1" />
<line x1="1284.5" y1="19.4" x2="1284.5" y2="40.1" stroke="#0000ff" stroke-width="1" />
<line x1="1290.5" y1="19.4" x2="1290.5" y2="39.7" stroke="#0000ff" stroke-width="1" />
<line x1="1296.5" y1="19.4" x2="1296.5" y2="39.3" stroke="#0000ff" stroke-width="1" />
<line x1="1302.5" y1="19.4" x2="1302.5" y2="39" stroke="#0000ff" stroke-width="1" />
<line x1="1308.5" y1="19.4" x2="1308.5" y2="38.6" stroke="#0000ff" stroke-width="1" />
<line x1="1314.5" y1="19.4" x2="1314.5" y2="37.4" stroke="#0000ff" stroke-width="1" />
<line x1="1320.5" y1="19.5" x2="1320.5" y2="36.2" stroke="#0000ff" stroke-width="1" />
<line x1="1326.5" y1="19.5" x2="1326.5" y2="35" stroke="#0000ff" stroke-width="1" />
<line x1="1332.5" y1="19.5" x2="1332.5" y2="33.8" stroke="#0000ff" stroke-width="1" />
<line x1="1338.5" y1="24.2" x2="1338.5" y2="30" stroke="#0000ff" stroke-width="1" />
<line x1="1344.5" y1="26.5" x2="1344.5" y2="28.7" stroke="#0000ff" stroke-width="1" />
<line x1="1350.5" y1="26.6" x2="1350.5" y2="29.3" stroke="#0000ff" stroke-width="1" />
<line x1="1356.5" y1="26.6" x2="1356.5" y2="29.7" stroke="#0000ff" stroke-width="1" />
<line x1="1362.5" y1="26.7" x2="1362.5" y2="29.8" stroke="#0000ff" stroke-width="1" />
<line x1="1368.5" y1="26.8" x2="1368.5" y2="30" stroke="#0000ff" stroke-width="1" />
<line x1="1374.5" y1="26.9" x2="1374.5" y2="30.2" stroke="#0000ff" stroke-width="1" />
<line x1="1380.5" y1="27.6" x2="1380.5" y2="30.7" stroke="#0000ff" stroke-width="1" />
<line x1="1386.5" y1="31.3" x2="1386.5" y2="33.3" stroke="#0000ff" stroke-width="1" />
<line x1="1500.5" y1="34.9" x2="1500.5" y2="39.1" stroke="#0000ff" stroke-width="1" />
<line x1="1506.5" y1="34.9" x2="1506.5" y2="39.1" stroke="#0000ff" stroke-width="1" />
<line x1="1512.5" y1="34.9" x2="1512.5" y2="39.1" stroke="#0000ff" stroke-width="1" />
<line x1="1518.5" y1="35" x2="1518.5" y2="39.1" stroke="#0000ff" stroke-width="1" />
<line x1="1524.5" y1="35" x2="1524.5" y2="36.1" stroke="#0000ff" stroke-width="1" />
<line x1="1530.5" y1="35" x2="1530.5" y2="36.2" stroke="#0000ff" stroke-width="1" />
<line x1="1536.5" y1="35" x2="1536.5" y2="36.4" stroke="#0000ff" stroke-width="1" />
<line x1="1542.5" y1="35" x2="1542.5" y2="42.8" stroke="#0000ff" stroke-width="1" />
<line x1="1548.5" y1="35" x2="1548.5" y2="49.1" stroke="#0000ff" stroke-width="1" />
<line x1="1554.5" y1="35" x2="1554.5" y2="49.3" stroke="#0000ff" stroke-width="1" />
<line x1="1560.5" y1="35" x2="1560.5" y2="49.5" stroke="#0000ff" stroke-width="1" />
<line x1="1566.5" y1="35.1" x2="1566.5" y2="49.6" stroke="#0000ff" stroke-width="1" />
<line x1="1572.5" y1="35.1" x2="1572.5" y2="49.8" stroke="#0000ff" stroke-width="1" />
<line x1="1578.5" y1="35.1" x2="1578.5" y2="49.9" stroke="#0000ff" stroke-width="1" />
<line x1="1584.5" y1="35.1" x2="1584.5" y2="50.1" stroke="#0000ff" stroke-width="1" />
<line x1="1590.5" y1="35.1" x2="1590.5" y2="50.2" stroke="#0000ff" stroke-width="1" />
<line x1="1596.5" y1="35.1" x2="1596.5" y2="50.4" stroke="#0000ff" stroke-width="1" />
<line x1="1602.5" y1="35.1" x2="1602.5" y2="50.5" stroke="#0000ff" stroke-width="1" />
<line x1="1608.5" y1="35.1" x2="1608.5" y2="50.7" stroke="#0000ff" stroke-width="1" />
<line x1="1614.5" y1="35.2" x2="1614.5" y2="50.8" stroke="#0000ff" stroke-width="1" />
<line x1="1620.5" y1="35.2" x2="1620.5" y2="51" stroke="#0000ff" stroke-width="1" />
<line x1="1626.5" y1="35.2" x2="1626.5" y2="51.2" stroke="#0000ff" stroke-width="1" />
<line x1="1632.5" y1="35.2" x2="1632.5" y2="51.3" stroke="#0000ff" stroke-width="1" />
<line x1="1638.5" y1="35.2" x2="1638.5" y2="51.5" stroke="#0000ff" stroke-width="1" />
<line x1="1644.5" y1="35.2" x2="1644.5" y2="51.4" stroke="#0000ff" stroke-width="1" />
<line x1="1650.5" y1="37.4" x2="1650.5" y2="50.1" stroke="#0000ff" stroke-width="1" />
<line x1="1656.5" y1="45" x2="1656.5" y2="49" stroke="#0000ff" stroke-width="1" />
<line x1="1662.5" y1="45.2" x2="1662.5" y2="48.8" stroke="#0000ff" stroke-width="1" />
<line x1="1668.5" y1="45.3" x2="1668.5" y2="48.6" stroke="#0000ff" stroke-width="1" />
<line x1="1674.5" y1="45.4" x2="1674.5" y2="48.3" stroke="#0000ff" stroke-width="1" />
<line x1="1680.5" y1="45.5" x2="1680.5" y2="48.1" stroke="#0000ff" stroke-width="1" />
<line x1="1686.5" y1="45.6" x2="1686.5" y2="47.9" stroke="#0000ff" stroke-width="1" />
<line x1="1692.5" y1="45.7" x2="1692.5" y2="47.8" stroke="#0000ff" stroke-width="1" />
<line x1="1698.5" y1="45.8" x2="1698.5" y2="49.8" stroke="#0000ff" stroke-width="1" />
<line x1="1704.5" y1="45.9" x2="1704.5" y2="51.8" stroke="#0000ff" stroke-width="1" />
<line x1="1710.5" y1="47.7" x2="1710.5" y2="52.9" stroke="#0000ff" stroke-width="1" />
<line x1="1716.5" y1="49" x2="1716.5" y2="52.9" stroke="#0000ff" stroke-width="1" />
<line x1="1722.5" y1="49" x2="1722.5" y2="52.9" stroke="#0000ff" stroke-width="1" />
<line x1="1728.5" y1="49" x2="1728.5" y2="52.9" stroke="#0000ff" stroke-width="1" />
<line x1="1734.5" y1="49" x2="1734.5" y2="52.9" stroke="#0000ff" stroke-width="1" />
<line x1="1740.5" y1="49" x2="1740.5" y2="52.9" stroke="#0000ff" stroke-width="1" />
<line x1="1746.5" y1="49" x2="1746.5" y2="54" stroke="#0000ff" stroke-width="1" />
<line x1="1752.5" y1="49" x2="1752.5" y2="55.4" stroke="#0000ff" stroke-width="1" />
<line x1="1758.5" y1="49" x2="1758.5" y2="56.8" stroke="#0000ff" stroke-width="1" />
<line x1="1764.5" y1="49" x2="1764.5" y2="50.9" stroke="#0000ff" stroke-width="1" />
<line x1="1770.5" y1="49" x2="1770.5" y2="50.3" stroke="#0000ff" stroke-width="1" />
<line x1="1776.5" y1="48.6" x2="1776.5" y2="50.3" stroke="#0000ff" stroke-width="1" />
<line x1="1782.5" y1="48.1" x2="1782.5" y2="50.3" stroke="#0000ff" stroke-width="1" />
<line x1="1788.5" y1="47.7" x2="1788.5" y2="50.3" stroke="#0000ff" stroke-width="1" />
<line x1="1836.5" y1="77.1" x2="1836.5" y2="78.7" stroke="#0000ff" stroke-width="1" />
<line x1="1842.5" y1="77.1" x2="1842.5" y2="79.7" stroke="#0000ff" stroke-width="1" />
<line x1="1848.5" y1="77.3" x2="1848.5" y2="81.3" stroke="#0000ff" stroke-width="1" />
<line x1="1854.5" y1="80.8" x2="1854.5" y2="93.6" stroke="#0000ff" stroke-width="1" />
<line x1="1860.5" y1="81" x2="1860.5" y2="95.6" stroke="#0000ff" stroke-width="1" />
<line x1="1866.5" y1="81.2" x2="1866.5" y2="95.8" stroke="#0000ff" stroke-width="1" />
<line x1="1872.5" y1="81.3" x2="1872.5" y2="95.8" stroke="#0000ff" stroke-width="1" />
<line x1="1878.5" y1="81.8" x2="1878.5" y2="96.1" stroke="#0000ff" stroke-width="1" />
<line x1="1884.5" y1="87.1" x2="1884.5" y2="101.4" stroke="#0000ff" stroke-width="1" />
<line x1="1890.5" y1="88.2" x2="1890.5" y2="103" stroke="#0000ff" stroke-width="1" />
<line x1="1896.5" y1="89.2" x2="1896.5" y2="104.6" stroke="#0000ff" stroke-width="1" />
<line x1="1902.5" y1="90.2" x2="1902.5" y2="106.1" stroke="#0000ff" stroke-width="1" />
<line x1="1908.5" y1="91.1" x2="1908.5" y2="107.6" stroke="#0000ff" stroke-width="1" />
<line x1="1914.5" y1="93.4" x2="1914.5" y2="109" stroke="#0000ff" stroke-width="1" />
<line x1="1920.5" y1="99.8" x2="1920.5" y2="112" stroke="#0000ff" stroke-width="1" />
<line x1="1926.5" y1="100.2" x2="1926.5" y2="115.7" stroke="#0000ff" stroke-width="1" />
<line x1="1932.5" y1="100.6" x2="1932.5" y2="117.5" stroke="#0000ff" stroke-width="1" />
<line x1="1938.5" y1="101" x2="1938.5" y2="119.3" stroke="#0000ff" stroke-width="1" />
<line x1="1944.5" y1="101.4" x2="1944.5" y2="126" stroke="#0000ff" stroke-width="1" />
<line x1="1950.5" y1="102.9" x2="1950.5" y2="133.7" stroke="#0000ff" stroke-width="1" />
<line x1="1956.5" y1="105.3" x2="1956.5" y2="142.7" stroke="#0000ff" stroke-width="1" />
<line x1="1962.5" y1="107.7" x2="1962.5" y2="148.7" stroke="#0000ff" stroke-width="1" />
<line x1="1968.5" y1="109.3" x2="1968.5" y2="150.2" stroke="#0000ff" stroke-width="1" />
<line x1="1974.5" y1="110.1" x2="1974.5" y2="151.7" stroke="#0000ff" stroke-width="1" />
<line x1="1980.5" y1="110.9" x2="1980.5" y2="152.4" stroke="#0000ff" stroke-width="1" />
<line x1="1986.5" y1="111.7" x2="1986.5" y2="152.9" stroke="#0000ff" stroke-width="1" />
<line x1="1992.5" y1="111.7" x2="1992.5" y2="153.7" stroke="#0000ff" stroke-width="1" />
<line x1="1998.5" y1="111.7" x2="1998.5" y2="155.7" stroke="#0000ff" stroke-width="1" />
<line x1="2004.5" y1="111.7" x2="2004.5" y2="157.8" stroke="#0000ff" stroke-width="1" />
<line x1="2010.5" y1="111.7" x2="2010.5" y2="159.8" stroke="#0000ff" stroke-width="1" />
<line x1="2016.5" y1="111.7" x2="2016.5" y2="160.6" stroke="#0000ff" stroke-width="1" />
<line x1="2022.5" y1="111.7" x2="2022.5" y2="160.9" stroke="#0000ff" stroke-width="1" />
<line x1="2028.5" y1="111.7" x2="2028.5" y2="161.6" stroke="#0000ff" stroke-width="1" />
<line x1="2034.5" y1="111.7" x2="2034.5" y2="165.7" stroke="#0000ff" stroke-width="1" />
<line x1="2040.5" y1="111.7" x2="2040.5" y2="168.1" stroke="#0000ff" stroke-width="1" />
<line x1="2046.5" y1="111.7" x2="2046.5" y2="168.1" stroke="#0000ff" stroke-width="1" />
<line x1="2052.5" y1="111.7" x2="2052.5" y2="168.1" stroke="#0000ff" stroke-width="1" />
<line x1="2058.5" y1="111.7" x2="2058.5" y2="168.1" stroke="#0000ff" stroke-width="1" />
<line x1="2064.5" y1="111.7" x2="2064.5" y2="168.3" stroke="#0000ff" stroke-width="1" />
<line x1="2070.5" y1="111.7" x2="2070.5" y2="170.4" stroke="#0000ff" stroke-width="1" />
<line x1="2076.5" y1="111.7" x2="2076.5" y2="172.6" stroke="#0000ff" stroke-width="1" />
<line x1="2082.5" y1="111.7" x2="2082.5" y2="174" stroke="#0000ff" stroke-width="1" />
<line x1="2088.5" y1="115.2" x2="2088.5" y2="175.3" stroke="#0000ff" stroke-width="1" />
<line x1="2094.5" y1="120.2" x2="2094.5" y2="176.7" stroke="#0000ff" stroke-width="1" />
<line x1="2100.5" y1="124.7" x2="2100.5" y2="178" stroke="#0000ff" stroke-width="1" />
<line x1="2106.5" y1="130.1" x2="2106.5" y2="180" stroke="#0000ff" stroke-width="1" />
<line x1="2112.5" y1="141.8" x2="2112.5" y2="182" stroke="#0000ff" stroke-width="1" />
<line x1="2118.5" y1="146.1" x2="2118.5" y2="183.7" stroke="#0000ff" stroke-width="1" />
<line x1="2124.5" y1="148.1" x2="2124.5" y2="184.8" stroke="#0000ff" stroke-width="1" />
<line x1="2130.5" y1="148.1" x2="2130.5" y2="185.9" stroke="#0000ff" stroke-width="1" />
<line x1="2136.5" y1="148.1" x2="2136.5" y2="187" stroke="#0000ff" stroke-width="1" />
<line x1="2142.5" y1="148.1" x2="2142.5" y2="187" stroke="#0000ff" stroke-width="1" />
<line x1="2148.5" y1="148.1" x2="2148.5" y2="186.9" stroke="#0000ff" stroke-width="1" />
<line x1="2154.5" y1="148.1" x2="2154.5" y2="186.8" stroke="#0000ff" stroke-width="1" />
<line x1="2160.5" y1="150.7" x2="2160.5" y2="186.6" stroke="#0000ff" stroke-width="1" />
<line x1="2166.5" y1="151.2" x2="2166.5" y2="186.5" stroke="#0000ff" stroke-width="1" />
<line x1="2172.5" y1="151.2" x2="2172.5" y2="186.4" stroke="#0000ff" stroke-width="1" />
<line x1="2178.5" y1="151.2" x2="2178.5" y2="179.8" stroke="#0000ff" stroke-width="1" />
<line x1="2184.5" y1="153.4" x2="2184.5" y2="178" stroke="#0000ff" stroke-width="1" />
<polyline points="1104,17.5 1185,17.5 1188,40 1249.5,40 1273,43.3 1284.7,40 1308,38.7 1334,33.5 1340.6,28.3 1353.6,29.6 1379.6,30.3 1390,34.8 1394,35 1500,35.5 1500.5,39.1 1521,39.1 1522,36 1542,36.5 1543,49 1643.6,51.6 1655.8,49 1692.2,47.7 1707.8,52.9 1741.7,52.9 1758.6,56.8 1765.1,50.3 1789.8,50.3 1796.3,56.8 1800.2,77.1 1830.1,77.6 1848.3,80.7 1853.5,93.2 1861.3,95.8 1878.2,95.8 1884.7,101.5 1913.3,108.8 1915.9,109.1 1926.3,115.6 1939.3,119.5 1949.7,132.5 1960.1,148.1 1975.7,152 1991.3,153.3 2012.1,160.3 2027.7,161.1 2038.1,168.1 2064.1,168.1 2077.2,172.8 2100.6,178 2116.2,183.2 2137,187.1 2173.4,186.3 2179.9,178 2186.4,178" fill="none" stroke="#00ffff" stroke-width="1" />
<polyline points="1104,17.5 1224,17.5 1230,19.2 1334,19.5 1340.6,26.4 1379.6,27 1390,33.5 1394,34.7 1648.8,35.2 1656.6,45.1 1706,45.9 1713.8,49 1770,49 1788.5,47.7 1793.7,51.6 1800.2,77.1 1848.3,77.1 1853.5,80.7 1878.2,81.5 1884.7,87.2 1913.3,91.9 1919.8,99.7 1947.1,101.5 1965.3,108.8 1986.1,111.7 2085,111.7 2090.2,116.9 2105.8,128.6 2112.3,141.6 2121.4,148.1 2155.2,148.1 2161.7,151.2 2181.2,151.2 2186.4,154.6" fill="none" stroke="#ff0000" stroke-width="1" />
<polyline points="1105.2,27 1338,26.4 1435,26.4 1490.1,32.1 1654,42.5 1770,51.6 1796.3,55.5 1854.3,65.9 1951,80.7 2038.1,94.5 2100.6,104.9 2129.2,109.9 2142.2,111.7 2178.6,117.7" fill="none" stroke="#ffff00" stroke-width="1" />
<polyline points="1105.2,19.9 1230,23.8 1435,29.6 1464.1,39.9 1646.2,49 1700,58.1 1752.1,65.9 1800.2,77.1 1854.3,93.2 1884.7,101 1913.3,108.8 1918.5,113 1951,122.1 1986.1,132.5 2038.1,145.5 2077.2,155.9 2100.6,161.1 2142.2,167.6 2178.6,170.2" fill="none" stroke="#800080" stroke-width="1" />
<polyline points="1105.2,30.9 1178,32.2 1256,35.5 1334.1,34.8 1435,40 1490.1,43.8 1646.2,52.9 1700,64.6 1731.2,72.4 1778.1,90.6 1819.7,109.9 1854.3,126 1895.1,146.8 1934.1,161.1 1973.1,170.2 2012.1,178 2051.1,180.6 2090.2,181.1 2129.2,178 2178.6,172.3" fill="none" stroke="#40e0d0" stroke-width="1" />
<polyline points="1105.2,42.6 1139,38.7 1178,33.5 1256,34.8 1334.1,36.8 1386.1,42.6 1435,46.5 1490.1,49 1646.2,54.2 1674,64.6 1726,80.2 1752.1,93.2 1775.5,109.9 1793.7,122.1 1817.1,135.1 1843.1,149.4 1869.1,161.1 1895.1,168.9 1921.1,175.4 1960.1,180.6 1999.1,183.7 2038.1,183.7 2090.2,182.7 2129.2,179.3 2178.6,171.5" fill="none" stroke="#006400" stroke-width="1" />
<polyline points="1105.2,43.9 1139,39.4 1178,32.2 1256,33.5 1334.1,37.4 1386.1,43.9 1435,48.5 1490.1,50.3 1646.2,54.2 1674,68.5 1700,81.5 1726,88 1739.1,98.4 1757.3,109.9 1778.1,122.1 1804.1,131.2 1830.1,148.1 1856.1,162.4 1882.1,171.5 1908.1,177.5 1947.1,180.6 1986.1,183.7 2038.1,184.5 2090.2,181.9 2129.2,178 2178.6,170.2" fill="none" stroke="#ff8040" stroke-width="1" />
<polyline points="1104.5,40 1110.5,40 1116.5,40 1122.5,39.8 1128.5,39.3 1134.5,38.4 1140.5,37.1 1146.5,35.6 1152.5,33.9 1158.5,32.2 1164.5,30.5 1170.5,28.7 1176.5,27.2 1182.5,25.8 1188.5,24.6 1194.5,24.1 1200.5,24.4 1206.5,25.7 1212.5,27.7 1218.5,29.7 1224.5,31.3 1230.5,32.7 1236.5,34 1242.5,35.4 1248.5,36.8 1254.5,37.9 1260.5,38.5 1266.5,38.4 1272.5,37.6 1278.5,37.1 1284.5,36.9 1290.5,37.4 1296.5,38 1302.5,38.5 1308.5,39.4 1314.5,40.1 1320.5,40.9 1326.5,41 1332.5,40.8 1338.5,41.5 1344.5,42.3 1350.5,42.8 1356.5,43.3 1362.5,43.7 1368.5,43.9 1374.5,44.5 1380.5,45.2 1386.5,46.8 1392.5,48.9 1398.5,50 1404.5,50.9 1410.5,51.5 1416.5,52 1422.5,52.4 1428.5,52.9 1434.5,53.1 1440.5,53.3 1446.5,53.6 1452.5,53.7 1458.5,53.8 1464.5,53.7 1470.5,53.7 1476.5,53.7 1482.5,53.6 1488.5,53.2 1494.5,52.5 1500.5,51.4 1506.5,50.7 1512.5,50 1518.5,49.5 1524.5,49 1530.5,48.4 1536.5,47.7 1542.5,47.8 1548.5,48.6 1554.5,49.9 1560.5,51.8 1566.5,53.2 1572.5,54.3 1578.5,55.2 1584.5,56.3 1590.5,57.7 1596.5,59.2 1602.5,60 1608.5,60.1 1614.5,58.5 1620.5,56.4 1626.5,54.3 1632.5,52.6 1638.5,52 1644.5,52.6 1650.5,56.3 1656.5,60.1 1662.5,64 1668.5,68.5 1674.5,74.2 1680.5,80.2 1686.5,86.2 1692.5,92 1698.5,98.3 1704.5,103.7 1710.5,104.8 1716.5,105.6 1722.5,106.4 1728.5,108.4 1734.5,111.8 1740.5,115.5 1746.5,118.5 1752.5,121.5 1758.5,123.8 1764.5,125.9 1770.5,130.9 1776.5,136.1 1782.5,141.2 1788.5,144.3 1794.5,146.7 1800.5,149.8 1806.5,154 1812.5,158.5 1818.5,162.7 1824.5,166.2 1830.5,167.9 1836.5,170.4 1842.5,172.2 1848.5,174.3 1854.5,176.1 1860.5,177.1 1866.5,177.5 1872.5,177.7 1878.5,177.2 1884.5,177.1 1890.5,177.8 1896.5,177.6 1902.5,177.8 1908.5,178.1 1914.5,178 1920.5,177.6 1926.5,177.7 1932.5,178.3 1938.5,179.6 1944.5,181.7 1950.5,182.4 1956.5,183.1 1962.5,183.8 1968.5,184.6 1974.5,185.4 1980.5,186.4 1986.5,187.2 1992.5,187.4 1998.5,187.3 2004.5,186.6 2010.5,186.6 2016.5,186.4 2022.5,186.4 2028.5,185 2034.5,184.3 2040.5,183.5 2046.5,182.5 2052.5,181.5 2058.5,181.4 2064.5,180.9 2070.5,180 2076.5,179.3 2082.5,178.5 2088.5,178.9 2094.5,178.8 2100.5,178.8 2106.5,179 2112.5,179.6 2118.5,178.9 2124.5,178.3 2130.5,177 2136.5,175.4 2142.5,173.2 2148.5,171.7 2154.5,170.3 2160.5,167.9 2166.5,166 2172.5,163.3 2178.5,160.9 2184.5,158.6" fill="none" stroke="#ff0000" stroke-width="1" />
<polyline points="1104.5,40 1110.5,40 1116.5,40 1122.5,39.7 1128.5,38.6 1134.5,36.8 1140.5,34.2 1146.5,31.1 1152.5,28.2 1158.5,25.8 1164.5,24.1 1170.5,23.1 1176.5,23.2 1182.5,23.4 1188.5,23.4 1194.5,24.1 1200.5,25.8 1206.5,28.2 1212.5,32.1 1218.5,36 1224.5,38.5 1230.5,39.7 1236.5,39.7 1242.5,38.7 1248.5,37.6 1254.5,37.3 1260.5,37.3 1266.5,37 1272.5,36.6 1278.5,36.5 1284.5,36.5 1290.5,37.5 1296.5,39.1 1302.5,40.4 1308.5,42.2 1314.5,43.8 1320.5,44.3 1326.5,43 1332.5,41.1 1338.5,40.8 1344.5,40.8 1350.5,41.3 1356.5,43.5 1362.5,46.3 1368.5,47 1374.5,48.2 1380.5,49.1 1386.5,50 1392.5,51.6 1398.5,52.9 1404.5,53.6 1410.5,53.9 1416.5,53.9 1422.5,53.2 1428.5,52.8 1434.5,52.6 1440.5,52.7 1446.5,53.2 1452.5,54.1 1458.5,54.8 1464.5,54.9 1470.5,54.7 1476.5,54.2 1482.5,53 1488.5,51.6 1494.5,50.2 1500.5,48.2 1506.5,47.3 1512.5,47 1518.5,47.4 1524.5,47.9 1530.5,48.6 1536.5,48.2 1542.5,48.6 1548.5,49.9 1554.5,51.9 1560.5,55 1566.5,58.1 1572.5,59.9 1578.5,60.4 1584.5,60.7 1590.5,60.4 1596.5,60.2 1602.5,60.2 1608.5,59.8 1614.5,56.4 1620.5,52.4 1626.5,48.5 1632.5,45 1638.5,44.2 1644.5,48.8 1650.5,60.3 1656.5,71.8 1662.5,83 1668.5,92.8 1674.5,99.7 1680.5,100 1686.5,100.6 1692.5,100.9 1698.5,103.7 1704.5,107.7 1710.5,109.5 1716.5,110.5 1722.5,111.8 1728.5,113.2 1734.5,116 1740.5,121.5 1746.5,126.5 1752.5,131.2 1758.5,134.4 1764.5,135.8 1770.5,140.4 1776.5,145.7 1782.5,151.2 1788.5,154.2 1794.5,157.5 1800.5,159.2 1806.5,162.2 1812.5,165.8 1818.5,171.2 1824.5,174.8 1830.5,176.6 1836.5,178.6 1842.5,178.5 1848.5,177.4 1854.5,177.4 1860.5,177.7 1866.5,176.3 1872.5,176.8 1878.5,177 1884.5,176.8 1890.5,177.9 1896.5,178.8 1902.5,178.8 1908.5,179.2 1914.5,179.2 1920.5,177.4 1926.5,176.7 1932.5,177.9 1938.5,180 1944.5,184.2 1950.5,187.5 1956.5,189.5 1962.5,189.8 1968.5,189.2 1974.5,186.7 1980.5,185.4 1986.5,184.8 1992.5,185.1 1998.5,185.4 2004.5,186.6 2010.5,187.9 2016.5,188 2022.5,187.6 2028.5,184.6 2034.5,182.1 2040.5,179.1 2046.5,177 2052.5,175.4 2058.5,178.2 2064.5,179.6 2070.5,180.9 2076.5,181.6 2082.5,181.6 2088.5,179.6 2094.5,177.9 2100.5,176.8 2106.5,176.3 2112.5,177.7 2118.5,178.3 2124.5,178.8 2130.5,177.1 2136.5,174.5 2142.5,168.8 2148.5,165.1 2154.5,161.8 2160.5,158.7 2166.5,157.6 2172.5,157.8 2178.5,156.7 2184.5,155.5" fill="none" stroke="#00ff00" stroke-width="1" />
<polyline points="1105.2,43.9 1126,43.3 1139,38.7 1152,33.5 1171.5,29.6 1191,27 1198.8,27 1204,30.3 1230,30.9 1243,33.5 1295.1,38.7 1334.1,38.7 1373.1,45.2 1392.6,51.7 1435,53 1477.1,52.9 1542.1,51.6 1568.1,59.4 1607.2,60.7 1615,54.2 1643.6,52.9 1646.2,62 1651.4,78.1 1680,78.1 1690.4,82.8 1698.2,90.6 1703.4,101 1708.6,108.8 1715.6,111.7 1728.6,111.7 1736.4,116.9 1752.1,123.4 1762.5,126 1778.1,135.1 1791.1,145.5 1804.1,150.7 1817.1,162.4 1832.7,166.3 1848.3,172.8 1856.1,176.7 1892.5,176.7 1918.5,178 1939.3,179.3 1952.3,183.2 1975.7,187.1 1986.1,189.7 2022.5,187.1 2027.7,177.5 2064.1,177.5 2090.2,178 2116.2,179.3 2129.2,175.4 2142.2,166.3 2157.8,165 2178.6,162.4" fill="none" stroke="#ff0000" stroke-width="3" />
<polyline points="1105.2,37.4 1139,37.4 1185.8,34.2 1243,34.2 1256,32.2 1302.9,31.6 1338,32.2 1347.1,37.4 1360.1,39.4 1386.1,42 1412.1,44.6 1435,45.2 1490.1,49 1542.1,49 1594.1,51.1 1643.6,51.1 1644.9,56.8 1650.1,76.3 1650.3,77.1 1698.2,77.1 1708.6,80.2 1724.2,80.7 1734.6,86.7 1755.4,89.3 1770,95.8 1783.3,102.6 1793.7,107.8 1801.5,118.2 1806.7,131.2 1814.5,138.5 1830.1,139.5 1853.5,144.2 1876.9,144.7 1889.9,155.9 1905.5,157.2 1913.3,162.4 1934.1,168.1 1947.1,176.7 1960.1,180.6 1975.7,183.7 2022.5,184.5 2027.7,178 2116.2,178 2131.8,175.4 2142.2,170.2 2178.6,169.7" fill="none" stroke="#0000ff" stroke-width="3" />
<line x1="1110.5" y1="36.4" x2="1110.5" y2="42.4" stroke="#0000ff" stroke-width="1" />
<rect x="1109" y="39.4" width="3" height="2.1" fill="#0000ff" />
<line x1="1116.5" y1="36.5" x2="1116.5" y2="42.8" stroke="#ff0000" stroke-width="1" />
<rect x="1115" y="38.6" width="3" height="2.9" fill="#ff0000" />
<line x1="1122.5" y1="34.2" x2="1122.5" y2="41" stroke="#0000ff" stroke-width="1" />
<rect x="1121" y="37.1" width="3" height="2.6" fill="#0000ff" />
<line x1="1128.5" y1="32.4" x2="1128.5" y2="41.9" stroke="#ff0000" stroke-width="1" />
<rect x="1127" y="35.2" width="3" height="4.5" fill="#ff0000" />
<line x1="1134.5" y1="30" x2="1134.5" y2="35.8" stroke="#ff0000" stroke-width="1" />
<rect x="1133" y="32.2" width="3" height="3" fill="#ff0000" />
<line x1="1140.5" y1="26.2" x2="1140.5" y2="33.5" stroke="#ff0000" stroke-width="1" />
<rect x="1139" y="28.1" width="3" height="4.1" fill="#ff0000" />
<line x1="1146.5" y1="20.9" x2="1146.5" y2="30.1" stroke="#ff0000" stroke-width="1" />
<rect x="1145" y="23.5" width="3" height="4.6" fill="#ff0000" />
<line x1="1152.5" y1="18.3" x2="1152.5" y2="27" stroke="#0000ff" stroke-width="1" />
<rect x="1151" y="21.2" width="3" height="3.9" fill="#0000ff" />
<line x1="1158.5" y1="22.6" x2="1158.5" y2="30.2" stroke="#ff0000" stroke-width="1" />
<rect x="1157" y="23.7" width="3" height="3.5" fill="#ff0000" />
<line x1="1164.5" y1="19" x2="1164.5" y2="27.9" stroke="#ff0000" stroke-width="1" />
<rect x="1163" y="21.8" width="3" height="4" fill="#ff0000" />
<line x1="1170.5" y1="18.6" x2="1170.5" y2="25.8" stroke="#ff0000" stroke-width="1" />
<rect x="1169" y="20.8" width="3" height="4.1" fill="#ff0000" />
<line x1="1176.5" y1="19" x2="1176.5" y2="24.1" stroke="#0000ff" stroke-width="1" />
<rect x="1175" y="20.8" width="3" height="2.7" fill="#0000ff" />
<line x1="1182.5" y1="20.9" x2="1182.5" y2="27.5" stroke="#0000ff" stroke-width="1" />
<rect x="1181" y="22.7" width="3" height="3.3" fill="#0000ff" />
<line x1="1188.5" y1="22.4" x2="1188.5" y2="29.4" stroke="#ff0000" stroke-width="1" />
<rect x="1187" y="23.6" width="3" height="4.3" fill="#ff0000" />
<line x1="1194.5" y1="21.2" x2="1194.5" y2="27.8" stroke="#0000ff" stroke-width="1" />
<rect x="1193" y="23.2" width="3" height="2.7" fill="#0000ff" />
<line x1="1200.5" y1="23.8" x2="1200.5" y2="32" stroke="#0000ff" stroke-width="1" />
<rect x="1199" y="26" width="3" height="4.2" fill="#0000ff" />
<line x1="1206.5" y1="27.2" x2="1206.5" y2="37.3" stroke="#0000ff" stroke-width="1" />
<rect x="1205" y="30.2" width="3" height="5.8" fill="#0000ff" />
<line x1="1212.5" y1="34.4" x2="1212.5" y2="46.5" stroke="#0000ff" stroke-width="1" />
<rect x="1211" y="35.9" width="3" height="7.7" fill="#0000ff" />
<line x1="1218.5" y1="39.2" x2="1218.5" y2="44.7" stroke="#0000ff" stroke-width="1" />
<rect x="1217" y="40.7" width="3" height="3.3" fill="#0000ff" />
<line x1="1224.5" y1="38.9" x2="1224.5" y2="45.8" stroke="#ff0000" stroke-width="1" />
<rect x="1223" y="39.8" width="3" height="4.1" fill="#ff0000" />
<line x1="1230.5" y1="34.4" x2="1230.5" y2="41.2" stroke="#ff0000" stroke-width="1" />
<rect x="1229" y="35.7" width="3" height="4.1" fill="#ff0000" />
<line x1="1236.5" y1="32.5" x2="1236.5" y2="38.9" stroke="#0000ff" stroke-width="1" />
<rect x="1235" y="34.3" width="3" height="2.1" fill="#0000ff" />
<line x1="1242.5" y1="35.4" x2="1242.5" y2="41.3" stroke="#0000ff" stroke-width="1" />
<rect x="1241" y="36.4" width="3" height="2.7" fill="#0000ff" />
<line x1="1248.5" y1="34.4" x2="1248.5" y2="41.6" stroke="#ff0000" stroke-width="1" />
<rect x="1247" y="35.9" width="3" height="3.1" fill="#ff0000" />
<line x1="1254.5" y1="32.4" x2="1254.5" y2="39.9" stroke="#0000ff" stroke-width="1" />
<rect x="1253" y="35" width="3" height="3.2" fill="#0000ff" />
<line x1="1260.5" y1="33.3" x2="1260.5" y2="42.1" stroke="#ff0000" stroke-width="1" />
<rect x="1259" y="36.3" width="3" height="3.5" fill="#ff0000" />
<line x1="1266.5" y1="33.9" x2="1266.5" y2="41.2" stroke="#ff0000" stroke-width="1" />
<rect x="1265" y="36" width="3" height="3.8" fill="#ff0000" />
<line x1="1272.5" y1="31.5" x2="1272.5" y2="40.5" stroke="#0000ff" stroke-width="1" />
<rect x="1271" y="33.6" width="3" height="4" fill="#0000ff" />
<line x1="1278.5" y1="33.1" x2="1278.5" y2="39.8" stroke="#ff0000" stroke-width="1" />
<rect x="1277" y="35.2" width="3" height="3.3" fill="#ff0000" />
<line x1="1284.5" y1="30.4" x2="1284.5" y2="36.9" stroke="#0000ff" stroke-width="1" />
<rect x="1283" y="32" width="3" height="3.7" fill="#0000ff" />
<line x1="1290.5" y1="32.8" x2="1290.5" y2="41.2" stroke="#0000ff" stroke-width="1" />
<rect x="1289" y="35.7" width="3" height="4.1" fill="#0000ff" />
<line x1="1296.5" y1="38.8" x2="1296.5" y2="43.8" stroke="#0000ff" stroke-width="1" />
<rect x="1295" y="39.8" width="3" height="2.8" fill="#0000ff" />
<line x1="1302.5" y1="40.9" x2="1302.5" y2="45.3" stroke="#0000ff" stroke-width="1" />
<rect x="1301" y="42.1" width="3" height="2.5" fill="#0000ff" />
<line x1="1308.5" y1="41.8" x2="1308.5" y2="48" stroke="#0000ff" stroke-width="1" />
<rect x="1307" y="43.2" width="3" height="2.5" fill="#0000ff" />
<line x1="1314.5" y1="41.3" x2="1314.5" y2="47.4" stroke="#0000ff" stroke-width="1" />
<rect x="1313" y="41.8" width="3" height="4.1" fill="#0000ff" />
<line x1="1320.5" y1="43.9" x2="1320.5" y2="48.7" stroke="#ff0000" stroke-width="1" />
<rect x="1319" y="44.9" width="3" height="2.1" fill="#ff0000" />
<line x1="1326.5" y1="34.5" x2="1326.5" y2="47.2" stroke="#ff0000" stroke-width="1" />
<rect x="1325" y="36.9" width="3" height="8.1" fill="#ff0000" />
<line x1="1332.5" y1="32.9" x2="1332.5" y2="38" stroke="#ff0000" stroke-width="1" />
<rect x="1331" y="34.1" width="3" height="2.8" fill="#ff0000" />
<line x1="1338.5" y1="33.4" x2="1338.5" y2="45.4" stroke="#0000ff" stroke-width="1" />
<rect x="1337" y="34.1" width="3" height="9.1" fill="#0000ff" />
<line x1="1344.5" y1="37.1" x2="1344.5" y2="44.1" stroke="#0000ff" stroke-width="1" />
<rect x="1343" y="39.2" width="3" height="4.2" fill="#0000ff" />
<line x1="1350.5" y1="41.5" x2="1350.5" y2="47.2" stroke="#0000ff" stroke-width="1" />
<rect x="1349" y="43.5" width="3" height="3.1" fill="#0000ff" />
<line x1="1356.5" y1="43.9" x2="1356.5" y2="48.9" stroke="#0000ff" stroke-width="1" />
<rect x="1355" y="46.3" width="3" height="2.1" fill="#0000ff" />
<line x1="1362.5" y1="45.6" x2="1362.5" y2="53.8" stroke="#ff0000" stroke-width="1" />
<rect x="1361" y="48.2" width="3" height="4.5" fill="#ff0000" />
<line x1="1368.5" y1="46.6" x2="1368.5" y2="52.9" stroke="#ff0000" stroke-width="1" />
<rect x="1367" y="47.9" width="3" height="2.3" fill="#ff0000" />
<line x1="1374.5" y1="47.4" x2="1374.5" y2="52.9" stroke="#0000ff" stroke-width="1" />
<rect x="1373" y="47.9" width="3" height="3.5" fill="#0000ff" />
<line x1="1380.5" y1="46.6" x2="1380.5" y2="54.3" stroke="#0000ff" stroke-width="1" />
<rect x="1379" y="49.2" width="3" height="2.4" fill="#0000ff" />
<line x1="1386.5" y1="47.6" x2="1386.5" y2="54.9" stroke="#0000ff" stroke-width="1" />
<rect x="1385" y="50.2" width="3" height="2.9" fill="#0000ff" />
<line x1="1392.5" y1="51" x2="1392.5" y2="57.2" stroke="#0000ff" stroke-width="1" />
<rect x="1391" y="51.9" width="3" height="2.7" fill="#0000ff" />
<line x1="1398.5" y1="51.9" x2="1398.5" y2="61.1" stroke="#ff0000" stroke-width="1" />
<rect x="1397" y="54.5" width="3" height="3.7" fill="#ff0000" />
<line x1="1404.5" y1="50" x2="1404.5" y2="58.1" stroke="#ff0000" stroke-width="1" />
<rect x="1403" y="52.7" width="3" height="3" fill="#ff0000" />
<line x1="1410.5" y1="51.7" x2="1410.5" y2="57.2" stroke="#ff0000" stroke-width="1" />
<rect x="1409" y="52.7" width="3" height="3.6" fill="#ff0000" />
<line x1="1416.5" y1="50.2" x2="1416.5" y2="56" stroke="#ff0000" stroke-width="1" />
<rect x="1415" y="51.3" width="3" height="2.9" fill="#ff0000" />
<line x1="1422.5" y1="50.4" x2="1422.5" y2="55.8" stroke="#0000ff" stroke-width="1" />
<rect x="1421" y="51.3" width="3" height="2.6" fill="#0000ff" />
<line x1="1428.5" y1="51.7" x2="1428.5" y2="59.4" stroke="#ff0000" stroke-width="1" />
<rect x="1427" y="53.5" width="3" height="3.5" fill="#ff0000" />
<line x1="1434.5" y1="48" x2="1434.5" y2="55.7" stroke="#ff0000" stroke-width="1" />
<rect x="1433" y="50.8" width="3" height="2.7" fill="#ff0000" />
<line x1="1440.5" y1="48.3" x2="1440.5" y2="55.5" stroke="#0000ff" stroke-width="1" />
<rect x="1439" y="50.8" width="3" height="3.9" fill="#0000ff" />
<line x1="1446.5" y1="52.2" x2="1446.5" y2="59.2" stroke="#ff0000" stroke-width="1" />
<rect x="1445" y="53.9" width="3" height="2.4" fill="#ff0000" />
<line x1="1452.5" y1="52.4" x2="1452.5" y2="60.2" stroke="#0000ff" stroke-width="1" />
<rect x="1451" y="53.9" width="3" height="4.2" fill="#0000ff" />
<line x1="1458.5" y1="53.4" x2="1458.5" y2="62" stroke="#ff0000" stroke-width="1" />
<rect x="1457" y="56.4" width="3" height="2.8" fill="#ff0000" />
<line x1="1464.5" y1="50.9" x2="1464.5" y2="58.9" stroke="#ff0000" stroke-width="1" />
<rect x="1463" y="53.6" width="3" height="2.7" fill="#ff0000" />
<line x1="1470.5" y1="52.2" x2="1470.5" y2="57.3" stroke="#ff0000" stroke-width="1" />
<rect x="1469" y="53.4" width="3" height="2.8" fill="#ff0000" />
<line x1="1476.5" y1="50.3" x2="1476.5" y2="56.4" stroke="#ff0000" stroke-width="1" />
<rect x="1475" y="51.5" width="3" height="4.3" fill="#ff0000" />
<line x1="1482.5" y1="48.7" x2="1482.5" y2="53.9" stroke="#ff0000" stroke-width="1" />
<rect x="1481" y="50.3" width="3" height="2.3" fill="#ff0000" />
<line x1="1488.5" y1="45.8" x2="1488.5" y2="51.8" stroke="#ff0000" stroke-width="1" />
<rect x="1487" y="47.5" width="3" height="2.8" fill="#ff0000" />
<line x1="1494.5" y1="43.8" x2="1494.5" y2="50.9" stroke="#ff0000" stroke-width="1" />
<rect x="1493" y="45.1" width="3" height="4" fill="#ff0000" />
<line x1="1500.5" y1="42.8" x2="1500.5" y2="49.2" stroke="#ff0000" stroke-width="1" />
<rect x="1499" y="44.2" width="3" height="4.4" fill="#ff0000" />
<line x1="1506.5" y1="42.5" x2="1506.5" y2="50.8" stroke="#0000ff" stroke-width="1" />
<rect x="1505" y="44.2" width="3" height="5.6" fill="#0000ff" />
<line x1="1512.5" y1="47.2" x2="1512.5" y2="51.9" stroke="#ff0000" stroke-width="1" />
<rect x="1511" y="48.4" width="3" height="2.6" fill="#ff0000" />
<line x1="1518.5" y1="41.8" x2="1518.5" y2="49.6" stroke="#0000ff" stroke-width="1" />
<rect x="1517" y="44.4" width="3" height="4.5" fill="#0000ff" />
<line x1="1524.5" y1="46.3" x2="1524.5" y2="52.8" stroke="#ff0000" stroke-width="1" />
<rect x="1523" y="48.1" width="3" height="4" fill="#ff0000" />
<line x1="1530.5" y1="43.1" x2="1530.5" y2="50.8" stroke="#ff0000" stroke-width="1" />
<rect x="1529" y="45.9" width="3" height="3" fill="#ff0000" />
<line x1="1536.5" y1="42.1" x2="1536.5" y2="48.5" stroke="#0000ff" stroke-width="1" />
<rect x="1535" y="42.7" width="3" height="3.6" fill="#0000ff" />
<line x1="1542.5" y1="44.1" x2="1542.5" y2="54.3" stroke="#0000ff" stroke-width="1" />
<rect x="1541" y="46.3" width="3" height="6.6" fill="#0000ff" />
<line x1="1548.5" y1="52.4" x2="1548.5" y2="56.7" stroke="#0000ff" stroke-width="1" />
<rect x="1547" y="52.9" width="3" height="3.1" fill="#0000ff" />
<line x1="1554.5" y1="51.3" x2="1554.5" y2="57.9" stroke="#0000ff" stroke-width="1" />
<rect x="1553" y="53.7" width="3" height="3.1" fill="#0000ff" />
<line x1="1560.5" y1="54.8" x2="1560.5" y2="64" stroke="#0000ff" stroke-width="1" />
<rect x="1559" y="56.9" width="3" height="5" fill="#0000ff" />
<line x1="1566.5" y1="58.5" x2="1566.5" y2="66" stroke="#ff0000" stroke-width="1" />
<rect x="1565" y="60.5" width="3" height="4.3" fill="#ff0000" />
<line x1="1572.5" y1="57" x2="1572.5" y2="64.9" stroke="#ff0000" stroke-width="1" />
<rect x="1571" y="59.8" width="3" height="3.7" fill="#ff0000" />
<line x1="1578.5" y1="58.2" x2="1578.5" y2="64" stroke="#ff0000" stroke-width="1" />
<rect x="1577" y="59.1" width="3" height="3.4" fill="#ff0000" />
<line x1="1584.5" y1="54.8" x2="1584.5" y2="61.9" stroke="#0000ff" stroke-width="1" />
<rect x="1583" y="57.4" width="3" height="3.4" fill="#0000ff" />
<line x1="1590.5" y1="56.9" x2="1590.5" y2="63.7" stroke="#0000ff" stroke-width="1" />
<rect x="1589" y="57.9" width="3" height="4" fill="#0000ff" />
<line x1="1596.5" y1="59.3" x2="1596.5" y2="65.8" stroke="#ff0000" stroke-width="1" />
<rect x="1595" y="61.3" width="3" height="3.4" fill="#ff0000" />
<line x1="1602.5" y1="58.4" x2="1602.5" y2="65.2" stroke="#ff0000" stroke-width="1" />
<rect x="1601" y="60.9" width="3" height="2.9" fill="#ff0000" />
<line x1="1608.5" y1="57.8" x2="1608.5" y2="63.9" stroke="#ff0000" stroke-width="1" />
<rect x="1607" y="58.9" width="3" height="3.5" fill="#ff0000" />
<line x1="1614.5" y1="38.8" x2="1614.5" y2="59.5" stroke="#ff0000" stroke-width="1" />
<rect x="1613" y="41.2" width="3" height="17.7" fill="#ff0000" />
<line x1="1620.5" y1="38.6" x2="1620.5" y2="44.6" stroke="#ff0000" stroke-width="1" />
<rect x="1619" y="41.1" width="3" height="2.8" fill="#ff0000" />
<line x1="1626.5" y1="36.9" x2="1626.5" y2="42.6" stroke="#0000ff" stroke-width="1" />
<rect x="1625" y="38" width="3" height="3.8" fill="#0000ff" />
<line x1="1632.5" y1="38.4" x2="1632.5" y2="43.7" stroke="#0000ff" stroke-width="1" />
<rect x="1631" y="39.5" width="3" height="3.6" fill="#0000ff" />
<line x1="1638.5" y1="40.6" x2="1638.5" y2="53.9" stroke="#0000ff" stroke-width="1" />
<rect x="1637" y="43.1" width="3" height="9.9" fill="#0000ff" />
<line x1="1644.5" y1="51.2" x2="1644.5" y2="67.5" stroke="#0000ff" stroke-width="1" />
<rect x="1643" y="53" width="3" height="13.6" fill="#0000ff" />
<line x1="1650.5" y1="65.2" x2="1650.5" y2="98.8" stroke="#0000ff" stroke-width="1" />
<rect x="1649" y="66.6" width="3" height="30.5" fill="#0000ff" />
<line x1="1656.5" y1="93.4" x2="1656.5" y2="98.5" stroke="#0000ff" stroke-width="1" />
<rect x="1655" y="95.2" width="3" height="2.2" fill="#0000ff" />
<line x1="1662.5" y1="94.3" x2="1662.5" y2="101.6" stroke="#0000ff" stroke-width="1" />
<rect x="1661" y="96.5" width="3" height="3.1" fill="#0000ff" />
<line x1="1668.5" y1="96.3" x2="1668.5" y2="102" stroke="#0000ff" stroke-width="1" />
<rect x="1667" y="98.9" width="3" height="2.4" fill="#0000ff" />
<line x1="1674.5" y1="97.8" x2="1674.5" y2="103.9" stroke="#ff0000" stroke-width="1" />
<rect x="1673" y="98.5" width="3" height="2.8" fill="#ff0000" />
<line x1="1680.5" y1="93.6" x2="1680.5" y2="101.3" stroke="#0000ff" stroke-width="1" />
<rect x="1679" y="95.7" width="3" height="4.3" fill="#0000ff" />
<line x1="1686.5" y1="96.4" x2="1686.5" y2="103.8" stroke="#0000ff" stroke-width="1" />
<rect x="1685" y="97.5" width="3" height="3.8" fill="#0000ff" />
<line x1="1692.5" y1="99.5" x2="1692.5" y2="104.8" stroke="#ff0000" stroke-width="1" />
<rect x="1691" y="100.8" width="3" height="2.1" fill="#ff0000" />
<line x1="1698.5" y1="98.1" x2="1698.5" y2="118" stroke="#0000ff" stroke-width="1" />
<rect x="1697" y="100.8" width="3" height="14.3" fill="#0000ff" />
<line x1="1704.5" y1="112.4" x2="1704.5" y2="121.7" stroke="#0000ff" stroke-width="1" />
<rect x="1703" y="115.2" width="3" height="4.3" fill="#0000ff" />
<line x1="1710.5" y1="108.3" x2="1710.5" y2="122.3" stroke="#ff0000" stroke-width="1" />
<rect x="1709" y="109.2" width="3" height="10.2" fill="#ff0000" />
<line x1="1716.5" y1="106.6" x2="1716.5" y2="111.8" stroke="#ff0000" stroke-width="1" />
<rect x="1715" y="108" width="3" height="3.1" fill="#ff0000" />
<line x1="1722.5" y1="102.5" x2="1722.5" y2="109.3" stroke="#0000ff" stroke-width="1" />
<rect x="1721" y="104" width="3" height="4.1" fill="#0000ff" />
<line x1="1728.5" y1="105.6" x2="1728.5" y2="124.3" stroke="#0000ff" stroke-width="1" />
<rect x="1727" y="108.1" width="3" height="15.3" fill="#0000ff" />
<line x1="1734.5" y1="121.3" x2="1734.5" y2="133.5" stroke="#0000ff" stroke-width="1" />
<rect x="1733" y="123.4" width="3" height="9.5" fill="#0000ff" />
<line x1="1740.5" y1="131.6" x2="1740.5" y2="140" stroke="#0000ff" stroke-width="1" />
<rect x="1739" y="132.9" width="3" height="4.5" fill="#0000ff" />
<line x1="1746.5" y1="130.9" x2="1746.5" y2="137.9" stroke="#ff0000" stroke-width="1" />
<rect x="1745" y="131.8" width="3" height="5.5" fill="#ff0000" />
<line x1="1752.5" y1="127.6" x2="1752.5" y2="135.1" stroke="#ff0000" stroke-width="1" />
<rect x="1751" y="130" width="3" height="2.7" fill="#ff0000" />
<line x1="1758.5" y1="128.7" x2="1758.5" y2="141.2" stroke="#0000ff" stroke-width="1" />
<rect x="1757" y="130" width="3" height="9" fill="#0000ff" />
<line x1="1764.5" y1="137.6" x2="1764.5" y2="142.4" stroke="#0000ff" stroke-width="1" />
<rect x="1763" y="139" width="3" height="2.6" fill="#0000ff" />
<line x1="1770.5" y1="140.6" x2="1770.5" y2="160.3" stroke="#0000ff" stroke-width="1" />
<rect x="1769" y="141.7" width="3" height="17.6" fill="#0000ff" />
<line x1="1776.5" y1="155.5" x2="1776.5" y2="161.6" stroke="#ff0000" stroke-width="1" />
<rect x="1775" y="158.2" width="3" height="2.2" fill="#ff0000" />
<line x1="1782.5" y1="155.4" x2="1782.5" y2="162.5" stroke="#0000ff" stroke-width="1" />
<rect x="1781" y="155.9" width="3" height="3.8" fill="#0000ff" />
<line x1="1788.5" y1="152.5" x2="1788.5" y2="162.5" stroke="#ff0000" stroke-width="1" />
<rect x="1787" y="154.3" width="3" height="5.5" fill="#ff0000" />
<line x1="1794.5" y1="153.8" x2="1794.5" y2="158.6" stroke="#0000ff" stroke-width="1" />
<rect x="1793" y="154.3" width="3" height="3.4" fill="#0000ff" />
<line x1="1800.5" y1="155.1" x2="1800.5" y2="169.8" stroke="#0000ff" stroke-width="1" />
<rect x="1799" y="157.8" width="3" height="9.5" fill="#0000ff" />
<line x1="1806.5" y1="165.8" x2="1806.5" y2="173" stroke="#0000ff" stroke-width="1" />
<rect x="1805" y="167.2" width="3" height="5" fill="#0000ff" />
<line x1="1812.5" y1="170.8" x2="1812.5" y2="177.3" stroke="#0000ff" stroke-width="1" />
<rect x="1811" y="172.2" width="3" height="3.6" fill="#0000ff" />
<line x1="1818.5" y1="173.6" x2="1818.5" y2="180" stroke="#0000ff" stroke-width="1" />
<rect x="1817" y="175.8" width="3" height="3.1" fill="#0000ff" />
<line x1="1824.5" y1="175.9" x2="1824.5" y2="183.1" stroke="#ff0000" stroke-width="1" />
<rect x="1823" y="177.4" width="3" height="3.2" fill="#ff0000" />
<line x1="1830.5" y1="175.4" x2="1830.5" y2="180.1" stroke="#ff0000" stroke-width="1" />
<rect x="1829" y="176.2" width="3" height="2.6" fill="#ff0000" />
<line x1="1836.5" y1="173.8" x2="1836.5" y2="184.2" stroke="#0000ff" stroke-width="1" />
<rect x="1835" y="176.2" width="3" height="6.6" fill="#0000ff" />
<line x1="1842.5" y1="175.5" x2="1842.5" y2="183.5" stroke="#ff0000" stroke-width="1" />
<rect x="1841" y="176.7" width="3" height="6.1" fill="#ff0000" />
<line x1="1848.5" y1="172.1" x2="1848.5" y2="179.5" stroke="#ff0000" stroke-width="1" />
<rect x="1847" y="173.6" width="3" height="3.1" fill="#ff0000" />
<line x1="1854.5" y1="172.2" x2="1854.5" y2="176.8" stroke="#0000ff" stroke-width="1" />
<rect x="1853" y="173.1" width="3" height="2.5" fill="#0000ff" />
<line x1="1860.5" y1="172.8" x2="1860.5" y2="180.5" stroke="#0000ff" stroke-width="1" />
<rect x="1859" y="175.6" width="3" height="3.8" fill="#0000ff" />
<line x1="1866.5" y1="173.6" x2="1866.5" y2="181.4" stroke="#ff0000" stroke-width="1" />
<rect x="1865" y="175.3" width="3" height="4.2" fill="#ff0000" />
<line x1="1872.5" y1="171.8" x2="1872.5" y2="177.8" stroke="#0000ff" stroke-width="1" />
<rect x="1871" y="174.2" width="3" height="3" fill="#0000ff" />
<line x1="1878.5" y1="173.7" x2="1878.5" y2="181.6" stroke="#ff0000" stroke-width="1" />
<rect x="1877" y="176.1" width="3" height="3.7" fill="#ff0000" />
<line x1="1884.5" y1="174.5" x2="1884.5" y2="180.4" stroke="#ff0000" stroke-width="1" />
<rect x="1883" y="175.3" width="3" height="3.3" fill="#ff0000" />
<line x1="1890.5" y1="174" x2="1890.5" y2="183.3" stroke="#0000ff" stroke-width="1" />
<rect x="1889" y="175.3" width="3" height="7.4" fill="#0000ff" />
<line x1="1896.5" y1="179.5" x2="1896.5" y2="184.5" stroke="#ff0000" stroke-width="1" />
<rect x="1895" y="180.1" width="3" height="2.5" fill="#ff0000" />
<line x1="1902.5" y1="175.5" x2="1902.5" y2="181.9" stroke="#ff0000" stroke-width="1" />
<rect x="1901" y="177.4" width="3" height="2.7" fill="#ff0000" />
<line x1="1908.5" y1="174.7" x2="1908.5" y2="181.2" stroke="#ff0000" stroke-width="1" />
<rect x="1907" y="176.7" width="3" height="2.3" fill="#ff0000" />
<line x1="1914.5" y1="174.2" x2="1914.5" y2="180" stroke="#ff0000" stroke-width="1" />
<rect x="1913" y="176.2" width="3" height="3.3" fill="#ff0000" />
<line x1="1920.5" y1="171.1" x2="1920.5" y2="177.6" stroke="#ff0000" stroke-width="1" />
<rect x="1919" y="173.6" width="3" height="2.5" fill="#ff0000" />
<line x1="1926.5" y1="172.1" x2="1926.5" y2="179.1" stroke="#0000ff" stroke-width="1" />
<rect x="1925" y="173.6" width="3" height="2.9" fill="#0000ff" />
<line x1="1932.5" y1="175.8" x2="1932.5" y2="184.6" stroke="#0000ff" stroke-width="1" />
<rect x="1931" y="176.5" width="3" height="6.4" fill="#0000ff" />
<line x1="1938.5" y1="181.4" x2="1938.5" y2="190.5" stroke="#0000ff" stroke-width="1" />
<rect x="1937" y="182.9" width="3" height="6.5" fill="#0000ff" />
<line x1="1944.5" y1="188.7" x2="1944.5" y2="198.5" stroke="#0000ff" stroke-width="1" />
<rect x="1943" y="189.4" width="3" height="7.8" fill="#0000ff" />
<line x1="1950.5" y1="188.7" x2="1950.5" y2="199.9" stroke="#ff0000" stroke-width="1" />
<rect x="1949" y="191.3" width="3" height="5.9" fill="#ff0000" />
<line x1="1956.5" y1="186.2" x2="1956.5" y2="192.7" stroke="#ff0000" stroke-width="1" />
<rect x="1955" y="187.3" width="3" height="4" fill="#ff0000" />
<line x1="1962.5" y1="182.9" x2="1962.5" y2="189.7" stroke="#ff0000" stroke-width="1" />
<rect x="1961" y="184" width="3" height="3.3" fill="#ff0000" />
<line x1="1968.5" y1="182.9" x2="1968.5" y2="187.5" stroke="#0000ff" stroke-width="1" />
<rect x="1967" y="184" width="3" height="2.8" fill="#0000ff" />
<line x1="1974.5" y1="182.1" x2="1974.5" y2="190.6" stroke="#ff0000" stroke-width="1" />
<rect x="1973" y="184.6" width="3" height="4.4" fill="#ff0000" />
<line x1="1980.5" y1="179" x2="1980.5" y2="187" stroke="#0000ff" stroke-width="1" />
<rect x="1979" y="181.3" width="3" height="3.9" fill="#0000ff" />
<line x1="1986.5" y1="181.8" x2="1986.5" y2="188.4" stroke="#0000ff" stroke-width="1" />
<rect x="1985" y="182.9" width="3" height="4" fill="#0000ff" />
<line x1="1992.5" y1="182.7" x2="1992.5" y2="189.9" stroke="#ff0000" stroke-width="1" />
<rect x="1991" y="185.2" width="3" height="2.9" fill="#ff0000" />
<line x1="1998.5" y1="182.5" x2="1998.5" y2="188.5" stroke="#0000ff" stroke-width="1" />
<rect x="1997" y="183.2" width="3" height="3.9" fill="#0000ff" />
<line x1="2004.5" y1="184.1" x2="2004.5" y2="192.4" stroke="#0000ff" stroke-width="1" />
<rect x="2003" y="186.3" width="3" height="3.2" fill="#0000ff" />
<line x1="2010.5" y1="186.3" x2="2010.5" y2="193.8" stroke="#0000ff" stroke-width="1" />
<rect x="2009" y="188.6" width="3" height="3.4" fill="#0000ff" />
<line x1="2016.5" y1="185.7" x2="2016.5" y2="193.9" stroke="#ff0000" stroke-width="1" />
<rect x="2015" y="187.7" width="3" height="4.3" fill="#ff0000" />
<line x1="2022.5" y1="182.7" x2="2022.5" y2="190.1" stroke="#ff0000" stroke-width="1" />
<rect x="2021" y="184.2" width="3" height="3.5" fill="#ff0000" />
<line x1="2028.5" y1="168.7" x2="2028.5" y2="186.5" stroke="#ff0000" stroke-width="1" />
<rect x="2027" y="171.5" width="3" height="12.7" fill="#ff0000" />
<line x1="2034.5" y1="169.2" x2="2034.5" y2="180.3" stroke="#0000ff" stroke-width="1" />
<rect x="2033" y="171.5" width="3" height="6.9" fill="#0000ff" />
<line x1="2040.5" y1="175" x2="2040.5" y2="180.5" stroke="#ff0000" stroke-width="1" />
<rect x="2039" y="175.6" width="3" height="2.8" fill="#ff0000" />
<line x1="2046.5" y1="170" x2="2046.5" y2="176.8" stroke="#0000ff" stroke-width="1" />
<rect x="2045" y="172.4" width="3" height="3.8" fill="#0000ff" />
<line x1="2052.5" y1="173.3" x2="2052.5" y2="180.2" stroke="#0000ff" stroke-width="1" />
<rect x="2051" y="174.8" width="3" height="2.7" fill="#0000ff" />
<line x1="2058.5" y1="175.9" x2="2058.5" y2="186.2" stroke="#0000ff" stroke-width="1" />
<rect x="2057" y="177.5" width="3" height="8.1" fill="#0000ff" />
<line x1="2064.5" y1="181.9" x2="2064.5" y2="186.7" stroke="#ff0000" stroke-width="1" />
<rect x="2063" y="182.9" width="3" height="2.7" fill="#ff0000" />
<line x1="2070.5" y1="181.6" x2="2070.5" y2="185.2" stroke="#ff0000" stroke-width="1" />
<rect x="2069" y="182.4" width="3" height="2.1" fill="#ff0000" />
<line x1="2076.5" y1="176.7" x2="2076.5" y2="184.7" stroke="#ff0000" stroke-width="1" />
<rect x="2075" y="179.7" width="3" height="2.7" fill="#ff0000" />
<line x1="2082.5" y1="176.3" x2="2082.5" y2="182.1" stroke="#ff0000" stroke-width="1" />
<rect x="2081" y="177.1" width="3" height="2.5" fill="#ff0000" />
<line x1="2088.5" y1="173.9" x2="2088.5" y2="178.9" stroke="#ff0000" stroke-width="1" />
<rect x="2087" y="174.6" width="3" height="2.6" fill="#ff0000" />
<line x1="2094.5" y1="171.2" x2="2094.5" y2="177.9" stroke="#0000ff" stroke-width="1" />
<rect x="2093" y="173.8" width="3" height="2.8" fill="#0000ff" />
<line x1="2100.5" y1="171.7" x2="2100.5" y2="181.2" stroke="#0000ff" stroke-width="1" />
<rect x="2099" y="174.4" width="3" height="3.8" fill="#0000ff" />
<line x1="2106.5" y1="175.9" x2="2106.5" y2="182.1" stroke="#ff0000" stroke-width="1" />
<rect x="2105" y="177.7" width="3" height="2.5" fill="#ff0000" />
<line x1="2112.5" y1="176.7" x2="2112.5" y2="186.3" stroke="#0000ff" stroke-width="1" />
<rect x="2111" y="177.7" width="3" height="6.6" fill="#0000ff" />
<line x1="2118.5" y1="177.1" x2="2118.5" y2="186" stroke="#ff0000" stroke-width="1" />
<rect x="2117" y="178.1" width="3" height="6.3" fill="#ff0000" />
<line x1="2124.5" y1="174.2" x2="2124.5" y2="180.1" stroke="#0000ff" stroke-width="1" />
<rect x="2123" y="175.6" width="3" height="3.4" fill="#0000ff" />
<line x1="2130.5" y1="166.6" x2="2130.5" y2="180.2" stroke="#ff0000" stroke-width="1" />
<rect x="2129" y="168.1" width="3" height="11" fill="#ff0000" />
<line x1="2136.5" y1="161.7" x2="2136.5" y2="169.3" stroke="#ff0000" stroke-width="1" />
<rect x="2135" y="162.7" width="3" height="5.3" fill="#ff0000" />
<line x1="2142.5" y1="153.9" x2="2142.5" y2="164.8" stroke="#ff0000" stroke-width="1" />
<rect x="2141" y="156" width="3" height="6.8" fill="#ff0000" />
<line x1="2148.5" y1="153.8" x2="2148.5" y2="162.6" stroke="#0000ff" stroke-width="1" />
<rect x="2147" y="156" width="3" height="5.8" fill="#0000ff" />
<line x1="2154.5" y1="158.4" x2="2154.5" y2="165.9" stroke="#ff0000" stroke-width="1" />
<rect x="2153" y="160.8" width="3" height="3.3" fill="#ff0000" />
<line x1="2160.5" y1="150.1" x2="2160.5" y2="162.9" stroke="#ff0000" stroke-width="1" />
<rect x="2159" y="151.8" width="3" height="9" fill="#ff0000" />
<line x1="2166.5" y1="150.2" x2="2166.5" y2="159.8" stroke="#0000ff" stroke-width="1" />
<rect x="2165" y="151.8" width="3" height="7" fill="#0000ff" />
<line x1="2172.5" y1="153.1" x2="2172.5" y2="161.2" stroke="#ff0000" stroke-width="1" />
<rect x="2171" y="154.8" width="3" height="4" fill="#ff0000" />
<line x1="2178.5" y1="151.9" x2="2178.5" y2="159.1" stroke="#ff0000" stroke-width="1" />
<rect x="2177" y="153.9" width="3" height="3.3" fill="#ff0000" />
<polyline points="1105.2,37.4 1119.5,38.1 1132.5,38.1 1139,41.3 1149.4,44.6 1157.2,46.5 1165,40 1170.2,43.3 1175.4,37.4 1183.2,35.5 1188.4,43.3 1201.4,46.5 1217,48.5 1224.8,52.4 1235.2,54.3 1245.6,52.4 1269.1,52.4 1282.1,54.3 1295.1,59.5 1301.6,55.6 1314.6,56.3 1327.6,51.7 1338,45.9 1347.1,45.2 1360.1,45.9 1370.5,49.1 1386.1,51.7 1396.5,56.9 1409.5,62.8 1418.6,60.2 1435,58.2 1438.1,60.7 1445.9,62.5 1456.3,60.7 1461.5,55.5 1462.8,43.8 1466.7,39.9 1474.5,41.2 1481,45.1 1487.5,52.9 1492.7,62 1496.6,75 1499.2,88 1501.8,97.1 1510.9,99.7 1518.7,101.5 1526.5,98.4 1542.1,102.3 1546,109.9 1547.3,113 1552.5,118.2 1560.3,107.8 1573.3,108.6 1581.1,126 1588.9,135.1 1599.3,131.2 1612.4,141.6 1620.2,159.8 1633.2,158.5 1639.7,154.6 1651.4,170.2 1667,178 1677.4,175.4 1685.2,180.6 1695.6,175.4 1711.2,178 1732,176.7 1739.8,182.7 1755.4,179.3 1770,174.1 1780.7,183.2 1791.1,192.3 1795,196.2 1804.1,191 1811.9,183.7 1819.7,187.1 1827.5,182.7 1840.5,187.1 1856.1,191.5 1863.9,189.7 1871.7,182.7 1876.9,172.3 1882.1,174.1 1892.5,175.4 1902.9,178 1908.1,185.8 1918.5,181.9 1928.9,175.4 1941.9,174.9 1952.3,175.4 1960.1,179.3 1967.9,176.7 1974.4,179.3 1980.9,165 1991.3,155.9 2001.7,160.3 2010.8,153.3 2017.3,157.2 2027.7,155.9" fill="none" stroke="#008000" stroke-width="3" />
<rect x="1103" y="283.7" width="3" height="2.3" fill="#008c00" />
<rect x="1109" y="284.4" width="3" height="1.6" fill="#008c00" />
<rect x="1115" y="285" width="3" height="1" fill="#008c00" />
<rect x="1121" y="284.4" width="3" height="1.6" fill="#008c00" />
<rect x="1127" y="284.4" width="3" height="1.6" fill="#008c00" />
<rect x="1133" y="284.4" width="3" height="1.6" fill="#008c00" />
<rect x="1139" y="284.4" width="3" height="1.6" fill="#008c00" />
<rect x="1145" y="285" width="3" height="1" fill="#008c00" />
<rect x="1151" y="285" width="3" height="1" fill="#008c00" />
<rect x="1157" y="285" width="3" height="1" fill="#008c00" />
<rect x="1163" y="285" width="3" height="1" fill="#008c00" />
<rect x="1169" y="285" width="3" height="1" fill="#008c00" />
<rect x="1175" y="285" width="3" height="1" fill="#008c00" />
<rect x="1181" y="285" width="3" height="1" fill="#008c00" />
<rect x="1187" y="285" width="3" height="1" fill="#008c00" />
<rect x="1193" y="285" width="3" height="1" fill="#008c00" />
<rect x="1199" y="274" width="3" height="12" fill="#008c00" />
<rect x="1205" y="280.5" width="3" height="5.5" fill="#008c00" />
<rect x="1211" y="277.9" width="3" height="8.1" fill="#008c00" />
<rect x="1217" y="282.6" width="3" height="3.4" fill="#008c00" />
<rect x="1223" y="282.6" width="3" height="3.4" fill="#008c00" />
<rect x="1229" y="282.6" width="3" height="3.4" fill="#008c00" />
<rect x="1235" y="282.6" width="3" height="3.4" fill="#008c00" />
<rect x="1241" y="283.7" width="3" height="2.3" fill="#008c00" />
<rect x="1247" y="284.4" width="3" height="1.6" fill="#008c00" />
<rect x="1253" y="283.7" width="3" height="2.3" fill="#008c00" />
<rect x="1259" y="285" width="3" height="1" fill="#008c00" />
<rect x="1265" y="284.4" width="3" height="1.6" fill="#008c00" />
<rect x="1271" y="284.4" width="3" height="1.6" fill="#008c00" />
<rect x="1277" y="284.4" width="3" height="1.6" fill="#008c00" />
<rect x="1283" y="283.7" width="3" height="2.3" fill="#008c00" />
<rect x="1289" y="281.8" width="3" height="4.2" fill="#008c00" />
<rect x="1295" y="283.7" width="3" height="2.3" fill="#008c00" />
<rect x="1301" y="284.4" width="3" height="1.6" fill="#008c00" />
<rect x="1307" y="281.8" width="3" height="4.2" fill="#008c00" />
<rect x="1313" y="284.4" width="3" height="1.6" fill="#008c00" />
<rect x="1319" y="283.7" width="3" height="2.3" fill="#008c00" />
<rect x="1325" y="279.8" width="3" height="6.2" fill="#008c00" />
<rect x="1331" y="279.8" width="3" height="6.2" fill="#008c00" />
<rect x="1337" y="281.8" width="3" height="4.2" fill="#008c00" />
<rect x="1343" y="280.8" width="3" height="5.2" fill="#008c00" />
<rect x="1349" y="284.4" width="3" height="1.6" fill="#008c00" />
<rect x="1355" y="282.6" width="3" height="3.4" fill="#008c00" />
<rect x="1361" y="282.6" width="3" height="3.4" fill="#008c00" />
<rect x="1367" y="285" width="3" height="1" fill="#008c00" />
<rect x="1373" y="282.6" width="3" height="3.4" fill="#008c00" />
<rect x="1379" y="284.4" width="3" height="1.6" fill="#008c00" />
<rect x="1385" y="284.4" width="3" height="1.6" fill="#008c00" />
<rect x="1391" y="283.7" width="3" height="2.3" fill="#008c00" />
<rect x="1397" y="284.4" width="3" height="1.6" fill="#008c00" />
<rect x="1403" y="285" width="3" height="1" fill="#008c00" />
<rect x="1409" y="285" width="3" height="1" fill="#008c00" />
<rect x="1415" y="284.4" width="3" height="1.6" fill="#008c00" />
<rect x="1421" y="285" width="3" height="1" fill="#008c00" />
<rect x="1427" y="285" width="3" height="1" fill="#008c00" />
<rect x="1433" y="285" width="3" height="1" fill="#008c00" />
<rect x="1439" y="285" width="3" height="1" fill="#008c00" />
<rect x="1445" y="284.4" width="3" height="1.6" fill="#008c00" />
<rect x="1451" y="283.7" width="3" height="2.3" fill="#008c00" />
<rect x="1457" y="285" width="3" height="1" fill="#008c00" />
<rect x="1463" y="283.7" width="3" height="2.3" fill="#008c00" />
<rect x="1469" y="285" width="3" height="1" fill="#008c00" />
<rect x="1475" y="285" width="3" height="1" fill="#008c00" />
<rect x="1481" y="285" width="3" height="1" fill="#008c00" />
<rect x="1487" y="284.4" width="3" height="1.6" fill="#008c00" />
<rect x="1493" y="284.4" width="3" height="1.6" fill="#008c00" />
<rect x="1499" y="284.4" width="3" height="1.6" fill="#008c00" />
<rect x="1505" y="284.4" width="3" height="1.6" fill="#008c00" />
<rect x="1511" y="284.4" width="3" height="1.6" fill="#008c00" />
<rect x="1517" y="284.4" width="3" height="1.6" fill="#008c00" />
<rect x="1523" y="285" width="3" height="1" fill="#008c00" />
<rect x="1529" y="285" width="3" height="1" fill="#008c00" />
<rect x="1535" y="285" width="3" height="1" fill="#008c00" />
<rect x="1541" y="284.4" width="3" height="1.6" fill="#008c00" />
<rect x="1547" y="284.4" width="3" height="1.6" fill="#008c00" />
<rect x="1553" y="284.4" width="3" height="1.6" fill="#008c00" />
<rect x="1559" y="284.4" width="3" height="1.6" fill="#008c00" />
<rect x="1565" y="285" width="3" height="1" fill="#008c00" />
<rect x="1571" y="285" width="3" height="1" fill="#008c00" />
<rect x="1577" y="285" width="3" height="1" fill="#008c00" />
<rect x="1583" y="285" width="3" height="1" fill="#008c00" />
<rect x="1589" y="285" width="3" height="1" fill="#008c00" />
<rect x="1595" y="285" width="3" height="1" fill="#008c00" />
<rect x="1601" y="285" width="3" height="1" fill="#008c00" />
<rect x="1607" y="285" width="3" height="1" fill="#008c00" />
<rect x="1613" y="272.7" width="3" height="13.3" fill="#008c00" />
<rect x="1619" y="280.5" width="3" height="5.5" fill="#008c00" />
<rect x="1625" y="282.6" width="3" height="3.4" fill="#008c00" />
<rect x="1631" y="280.5" width="3" height="5.5" fill="#008c00" />
<rect x="1637" y="274.8" width="3" height="11.2" fill="#008c00" />
<rect x="1643" y="274.8" width="3" height="11.2" fill="#008c00" />
<rect x="1649" y="229.8" width="3" height="56.2" fill="#008c00" />
<rect x="1655" y="278.7" width="3" height="7.3" fill="#008c00" />
<rect x="1661" y="281.8" width="3" height="4.2" fill="#008c00" />
<rect x="1667" y="279.8" width="3" height="6.2" fill="#008c00" />
<rect x="1673" y="283.7" width="3" height="2.3" fill="#008c00" />
<rect x="1679" y="284.4" width="3" height="1.6" fill="#008c00" />
<rect x="1685" y="284.4" width="3" height="1.6" fill="#008c00" />
<rect x="1691" y="284.4" width="3" height="1.6" fill="#008c00" />
<rect x="1697" y="275.9" width="3" height="10.1" fill="#008c00" />
<rect x="1703" y="274" width="3" height="12" fill="#008c00" />
<rect x="1709" y="277.7" width="3" height="8.3" fill="#008c00" />
<rect x="1715" y="280.8" width="3" height="5.2" fill="#008c00" />
<rect x="1721" y="282.6" width="3" height="3.4" fill="#008c00" />
<rect x="1727" y="279.8" width="3" height="6.2" fill="#008c00" />
<rect x="1733" y="270.7" width="3" height="15.3" fill="#008c00" />
<rect x="1739" y="278.7" width="3" height="7.3" fill="#008c00" />
<rect x="1745" y="278.7" width="3" height="7.3" fill="#008c00" />
<rect x="1751" y="280.8" width="3" height="5.2" fill="#008c00" />
<rect x="1757" y="270.7" width="3" height="15.3" fill="#008c00" />
<rect x="1763" y="284.4" width="3" height="1.6" fill="#008c00" />
<rect x="1769" y="275.9" width="3" height="10.1" fill="#008c00" />
<rect x="1775" y="282.6" width="3" height="3.4" fill="#008c00" />
<rect x="1781" y="280.8" width="3" height="5.2" fill="#008c00" />
<rect x="1787" y="283.7" width="3" height="2.3" fill="#008c00" />
<rect x="1793" y="280.8" width="3" height="5.2" fill="#008c00" />
<rect x="1799" y="280.8" width="3" height="5.2" fill="#008c00" />
<rect x="1805" y="281.8" width="3" height="4.2" fill="#008c00" />
<rect x="1811" y="279.8" width="3" height="6.2" fill="#008c00" />
<rect x="1817" y="283.7" width="3" height="2.3" fill="#008c00" />
<rect x="1823" y="283.7" width="3" height="2.3" fill="#008c00" />
<rect x="1829" y="283.7" width="3" height="2.3" fill="#008c00" />
<rect x="1835" y="282.6" width="3" height="3.4" fill="#008c00" />
<rect x="1841" y="285" width="3" height="1" fill="#008c00" />
<rect x="1847" y="283.7" width="3" height="2.3" fill="#008c00" />
<rect x="1853" y="284.4" width="3" height="1.6" fill="#008c00" />
<rect x="1859" y="285" width="3" height="1" fill="#008c00" />
<rect x="1865" y="285" width="3" height="1" fill="#008c00" />
<rect x="1871" y="285" width="3" height="1" fill="#008c00" />
<rect x="1877" y="284.4" width="3" height="1.6" fill="#008c00" />
<rect x="1883" y="284.4" width="3" height="1.6" fill="#008c00" />
<rect x="1889" y="283.7" width="3" height="2.3" fill="#008c00" />
<rect x="1895" y="284.4" width="3" height="1.6" fill="#008c00" />
<rect x="1901" y="285" width="3" height="1" fill="#008c00" />
<rect x="1907" y="285" width="3" height="1" fill="#008c00" />
<rect x="1913" y="284.4" width="3" height="1.6" fill="#008c00" />
<rect x="1919" y="283.7" width="3" height="2.3" fill="#008c00" />
<rect x="1925" y="283.7" width="3" height="2.3" fill="#008c00" />
<rect x="1931" y="283.7" width="3" height="2.3" fill="#008c00" />
<rect x="1937" y="283.7" width="3" height="2.3" fill="#008c00" />
<rect x="1943" y="281.8" width="3" height="4.2" fill="#008c00" />
<rect x="1949" y="283.7" width="3" height="2.3" fill="#008c00" />
<rect x="1955" y="284.4" width="3" height="1.6" fill="#008c00" />
<rect x="1961" y="285" width="3" height="1" fill="#008c00" />
<rect x="1967" y="285" width="3" height="1" fill="#008c00" />
<rect x="1973" y="285" width="3" height="1" fill="#008c00" />
<rect x="1979" y="285" width="3" height="1" fill="#008c00" />
<rect x="1985" y="285" width="3" height="1" fill="#008c00" />
<rect x="1991" y="285" width="3" height="1" fill="#008c00" />
<rect x="1997" y="285" width="3" height="1" fill="#008c00" />
<rect x="2003" y="285" width="3" height="1" fill="#008c00" />
<rect x="2009" y="285" width="3" height="1" fill="#008c00" />
<rect x="2015" y="285" width="3" height="1" fill="#008c00" />
<rect x="2021" y="285" width="3" height="1" fill="#008c00" />
<rect x="2027" y="261.8" width="3" height="24.2" fill="#008c00" />
<rect x="2033" y="279.8" width="3" height="6.2" fill="#008c00" />
<rect x="2039" y="275.9" width="3" height="10.1" fill="#008c00" />
<rect x="2045" y="280.8" width="3" height="5.2" fill="#008c00" />
<rect x="2051" y="280.8" width="3" height="5.2" fill="#008c00" />
<rect x="2057" y="274.8" width="3" height="11.2" fill="#008c00" />
<rect x="2063" y="271.7" width="3" height="14.3" fill="#008c00" />
<rect x="2069" y="279.8" width="3" height="6.2" fill="#008c00" />
<rect x="2075" y="280.8" width="3" height="5.2" fill="#008c00" />
<rect x="2081" y="282.6" width="3" height="3.4" fill="#008c00" />
<rect x="2087" y="283.7" width="3" height="2.3" fill="#008c00" />
<rect x="2093" y="285" width="3" height="1" fill="#008c00" />
<rect x="2099" y="283.7" width="3" height="2.3" fill="#008c00" />
<rect x="2105" y="282.6" width="3" height="3.4" fill="#008c00" />
<rect x="2111" y="276.9" width="3" height="9.1" fill="#008c00" />
<rect x="2117" y="283.7" width="3" height="2.3" fill="#008c00" />
<rect x="2123" y="282.6" width="3" height="3.4" fill="#008c00" />
<rect x="2129" y="276.9" width="3" height="9.1" fill="#008c00" />
<rect x="2135" y="278.7" width="3" height="7.3" fill="#008c00" />
<rect x="2141" y="273.8" width="3" height="12.2" fill="#008c00" />
<rect x="2147" y="269.9" width="3" height="16.1" fill="#008c00" />
<rect x="2153" y="281.8" width="3" height="4.2" fill="#008c00" />
<rect x="2159" y="277.7" width="3" height="8.3" fill="#008c00" />
<rect x="2165" y="281.8" width="3" height="4.2" fill="#008c00" />
<rect x="2171" y="277.7" width="3" height="8.3" fill="#008c00" />
<rect x="2177" y="284.4" width="3" height="1.6" fill="#008c00" />
<rect x="2183" y="284.4" width="3" height="1.6" fill="#008c00" />
<line x1="1102" y1="286.5" x2="2187" y2="286.5" stroke="#000" stroke-width="1" />
<line x1="1104" y1="334.5" x2="2181" y2="334.5" stroke="#808080" stroke-width="1" />
<line x1="1116.5" y1="334.5" x2="1116.5" y2="333.5" stroke="#ff0000" stroke-width="1" />
<line x1="1122.5" y1="334.5" x2="1122.5" y2="332.7" stroke="#ff0000" stroke-width="1" />
<line x1="1128.5" y1="334.5" x2="1128.5" y2="331.9" stroke="#ff0000" stroke-width="1" />
<line x1="1134.5" y1="334.5" x2="1134.5" y2="331.4" stroke="#ff0000" stroke-width="1" />
<line x1="1140.5" y1="334.5" x2="1140.5" y2="330.1" stroke="#ff0000" stroke-width="1" />
<line x1="1146.5" y1="334.5" x2="1146.5" y2="329.3" stroke="#ff0000" stroke-width="1" />
<line x1="1152.5" y1="334.5" x2="1152.5" y2="330.1" stroke="#ff0000" stroke-width="1" />
<line x1="1158.5" y1="334.5" x2="1158.5" y2="330.9" stroke="#ff0000" stroke-width="1" />
<line x1="1164.5" y1="334.5" x2="1164.5" y2="331.4" stroke="#ff0000" stroke-width="1" />
<line x1="1170.5" y1="334.5" x2="1170.5" y2="331.9" stroke="#ff0000" stroke-width="1" />
<line x1="1176.5" y1="334.5" x2="1176.5" y2="331.9" stroke="#ff0000" stroke-width="1" />
<line x1="1182.5" y1="334.5" x2="1182.5" y2="331.9" stroke="#ff0000" stroke-width="1" />
<line x1="1188.5" y1="334.5" x2="1188.5" y2="332.7" stroke="#ff0000" stroke-width="1" />
<line x1="1194.5" y1="334.5" x2="1194.5" y2="333.5" stroke="#ff0000" stroke-width="1" />
<line x1="1212.5" y1="334.5" x2="1212.5" y2="336.6" stroke="#ff0000" stroke-width="1" />
<line x1="1218.5" y1="334.5" x2="1218.5" y2="337.4" stroke="#ff0000" stroke-width="1" />
<line x1="1224.5" y1="334.5" x2="1224.5" y2="337.4" stroke="#ff0000" stroke-width="1" />
<line x1="1230.5" y1="334.5" x2="1230.5" y2="336.6" stroke="#ff0000" stroke-width="1" />
<line x1="1236.5" y1="334.5" x2="1236.5" y2="336.1" stroke="#ff0000" stroke-width="1" />
<line x1="1242.5" y1="334.5" x2="1242.5" y2="336.1" stroke="#ff0000" stroke-width="1" />
<line x1="1248.5" y1="334.5" x2="1248.5" y2="336.1" stroke="#ff0000" stroke-width="1" />
<line x1="1254.5" y1="334.5" x2="1254.5" y2="335.5" stroke="#ff0000" stroke-width="1" />
<line x1="1260.5" y1="334.5" x2="1260.5" y2="335.5" stroke="#ff0000" stroke-width="1" />
<line x1="1266.5" y1="334.5" x2="1266.5" y2="335.5" stroke="#ff0000" stroke-width="1" />
<line x1="1488.5" y1="334.5" x2="1488.5" y2="333.5" stroke="#ff0000" stroke-width="1" />
<line x1="1494.5" y1="334.5" x2="1494.5" y2="332.7" stroke="#ff0000" stroke-width="1" />
<line x1="1500.5" y1="334.5" x2="1500.5" y2="332.2" stroke="#ff0000" stroke-width="1" />
<line x1="1506.5" y1="334.5" x2="1506.5" y2="332.2" stroke="#ff0000" stroke-width="1" />
<line x1="1512.5" y1="334.5" x2="1512.5" y2="332.7" stroke="#ff0000" stroke-width="1" />
<line x1="1518.5" y1="334.5" x2="1518.5" y2="333.5" stroke="#ff0000" stroke-width="1" />
<line x1="1524.5" y1="334.5" x2="1524.5" y2="333.5" stroke="#ff0000" stroke-width="1" />
<line x1="1530.5" y1="334.5" x2="1530.5" y2="332.9" stroke="#ff0000" stroke-width="1" />
<line x1="1560.5" y1="334.5" x2="1560.5" y2="336.1" stroke="#ff0000" stroke-width="1" />
<line x1="1566.5" y1="334.5" x2="1566.5" y2="336.6" stroke="#ff0000" stroke-width="1" />
<line x1="1572.5" y1="334.5" x2="1572.5" y2="336.1" stroke="#ff0000" stroke-width="1" />
<line x1="1614.5" y1="334.5" x2="1614.5" y2="333.5" stroke="#ff0000" stroke-width="1" />
<line x1="1620.5" y1="334.5" x2="1620.5" y2="332.2" stroke="#ff0000" stroke-width="1" />
<line x1="1626.5" y1="334.5" x2="1626.5" y2="331.4" stroke="#ff0000" stroke-width="1" />
<line x1="1632.5" y1="334.5" x2="1632.5" y2="332.2" stroke="#ff0000" stroke-width="1" />
<line x1="1638.5" y1="334.5" x2="1638.5" y2="333.2" stroke="#ff0000" stroke-width="1" />
<line x1="1650.5" y1="334.5" x2="1650.5" y2="337.9" stroke="#ff0000" stroke-width="1" />
<line x1="1656.5" y1="334.5" x2="1656.5" y2="340.5" stroke="#ff0000" stroke-width="1" />
<line x1="1662.5" y1="334.5" x2="1662.5" y2="343.6" stroke="#ff0000" stroke-width="1" />
<line x1="1668.5" y1="334.5" x2="1668.5" y2="343.1" stroke="#ff0000" stroke-width="1" />
<line x1="1674.5" y1="334.5" x2="1674.5" y2="343.6" stroke="#ff0000" stroke-width="1" />
<line x1="1680.5" y1="334.5" x2="1680.5" y2="342.6" stroke="#ff0000" stroke-width="1" />
<line x1="1686.5" y1="334.5" x2="1686.5" y2="341.3" stroke="#ff0000" stroke-width="1" />
<line x1="1692.5" y1="334.5" x2="1692.5" y2="340.7" stroke="#ff0000" stroke-width="1" />
<line x1="1698.5" y1="334.5" x2="1698.5" y2="340.5" stroke="#ff0000" stroke-width="1" />
<line x1="1704.5" y1="334.5" x2="1704.5" y2="340.5" stroke="#ff0000" stroke-width="1" />
<line x1="1710.5" y1="334.5" x2="1710.5" y2="338.7" stroke="#ff0000" stroke-width="1" />
<line x1="1716.5" y1="334.5" x2="1716.5" y2="337.9" stroke="#ff0000" stroke-width="1" />
<line x1="1722.5" y1="334.5" x2="1722.5" y2="337.1" stroke="#ff0000" stroke-width="1" />
<line x1="1728.5" y1="334.5" x2="1728.5" y2="337.1" stroke="#ff0000" stroke-width="1" />
<line x1="1734.5" y1="334.5" x2="1734.5" y2="337.1" stroke="#ff0000" stroke-width="1" />
<line x1="1740.5" y1="334.5" x2="1740.5" y2="337.9" stroke="#ff0000" stroke-width="1" />
<line x1="1746.5" y1="334.5" x2="1746.5" y2="337.1" stroke="#ff0000" stroke-width="1" />
<line x1="1752.5" y1="334.5" x2="1752.5" y2="336.6" stroke="#ff0000" stroke-width="1" />
<line x1="1758.5" y1="334.5" x2="1758.5" y2="336.6" stroke="#ff0000" stroke-width="1" />
<line x1="1764.5" y1="334.5" x2="1764.5" y2="337.1" stroke="#ff0000" stroke-width="1" />
<line x1="1770.5" y1="334.5" x2="1770.5" y2="338.7" stroke="#ff0000" stroke-width="1" />
<line x1="1776.5" y1="334.5" x2="1776.5" y2="337.9" stroke="#ff0000" stroke-width="1" />
<line x1="1782.5" y1="334.5" x2="1782.5" y2="338.7" stroke="#ff0000" stroke-width="1" />
<line x1="1788.5" y1="334.5" x2="1788.5" y2="337.1" stroke="#ff0000" stroke-width="1" />
<line x1="1794.5" y1="334.5" x2="1794.5" y2="336.6" stroke="#ff0000" stroke-width="1" />
<line x1="1800.5" y1="334.5" x2="1800.5" y2="336.6" stroke="#ff0000" stroke-width="1" />
<line x1="1806.5" y1="334.5" x2="1806.5" y2="336.6" stroke="#ff0000" stroke-width="1" />
<line x1="1812.5" y1="334.5" x2="1812.5" y2="336.6" stroke="#ff0000" stroke-width="1" />
<line x1="1818.5" y1="334.5" x2="1818.5" y2="336.6" stroke="#ff0000" stroke-width="1" />
<line x1="1824.5" y1="334.5" x2="1824.5" y2="335.5" stroke="#ff0000" stroke-width="1" />
<line x1="1848.5" y1="334.5" x2="1848.5" y2="333.5" stroke="#ff0000" stroke-width="1" />
<line x1="1854.5" y1="334.5" x2="1854.5" y2="333.2" stroke="#ff0000" stroke-width="1" />
<line x1="1860.5" y1="334.5" x2="1860.5" y2="332.7" stroke="#ff0000" stroke-width="1" />
<line x1="1866.5" y1="334.5" x2="1866.5" y2="332.2" stroke="#ff0000" stroke-width="1" />
<line x1="1872.5" y1="334.5" x2="1872.5" y2="331.4" stroke="#ff0000" stroke-width="1" />
<line x1="1878.5" y1="334.5" x2="1878.5" y2="330.9" stroke="#ff0000" stroke-width="1" />
<line x1="1884.5" y1="334.5" x2="1884.5" y2="330.1" stroke="#ff0000" stroke-width="1" />
<line x1="1890.5" y1="334.5" x2="1890.5" y2="330.9" stroke="#ff0000" stroke-width="1" />
<line x1="1896.5" y1="334.5" x2="1896.5" y2="330.9" stroke="#ff0000" stroke-width="1" />
<line x1="1902.5" y1="334.5" x2="1902.5" y2="330.9" stroke="#ff0000" stroke-width="1" />
<line x1="1908.5" y1="334.5" x2="1908.5" y2="330.1" stroke="#ff0000" stroke-width="1" />
<line x1="1914.5" y1="334.5" x2="1914.5" y2="330.1" stroke="#ff0000" stroke-width="1" />
<line x1="1920.5" y1="334.5" x2="1920.5" y2="328.8" stroke="#ff0000" stroke-width="1" />
<line x1="1926.5" y1="334.5" x2="1926.5" y2="329.6" stroke="#ff0000" stroke-width="1" />
<line x1="1932.5" y1="334.5" x2="1932.5" y2="330.9" stroke="#ff0000" stroke-width="1" />
<line x1="1938.5" y1="334.5" x2="1938.5" y2="332.2" stroke="#ff0000" stroke-width="1" />
<line x1="1968.5" y1="334.5" x2="1968.5" y2="333.5" stroke="#ff0000" stroke-width="1" />
<line x1="1974.5" y1="334.5" x2="1974.5" y2="332.9" stroke="#ff0000" stroke-width="1" />
<line x1="1980.5" y1="334.5" x2="1980.5" y2="332.7" stroke="#ff0000" stroke-width="1" />
<line x1="1986.5" y1="334.5" x2="1986.5" y2="332.7" stroke="#ff0000" stroke-width="1" />
<line x1="1992.5" y1="334.5" x2="1992.5" y2="332.7" stroke="#ff0000" stroke-width="1" />
<line x1="1998.5" y1="334.5" x2="1998.5" y2="333.2" stroke="#ff0000" stroke-width="1" />
<line x1="2022.5" y1="334.5" x2="2022.5" y2="333.2" stroke="#ff0000" stroke-width="1" />
<line x1="2028.5" y1="334.5" x2="2028.5" y2="330.9" stroke="#ff0000" stroke-width="1" />
<line x1="2034.5" y1="334.5" x2="2034.5" y2="329.6" stroke="#ff0000" stroke-width="1" />
<line x1="2040.5" y1="334.5" x2="2040.5" y2="329.6" stroke="#ff0000" stroke-width="1" />
<line x1="2046.5" y1="334.5" x2="2046.5" y2="330.9" stroke="#ff0000" stroke-width="1" />
<line x1="2052.5" y1="334.5" x2="2052.5" y2="331.4" stroke="#ff0000" stroke-width="1" />
<line x1="2058.5" y1="334.5" x2="2058.5" y2="333.2" stroke="#ff0000" stroke-width="1" />
<line x1="2136.5" y1="334.5" x2="2136.5" y2="332.9" stroke="#ff0000" stroke-width="1" />
<line x1="2142.5" y1="334.5" x2="2142.5" y2="331.9" stroke="#ff0000" stroke-width="1" />
<line x1="2148.5" y1="334.5" x2="2148.5" y2="331.4" stroke="#ff0000" stroke-width="1" />
<line x1="2154.5" y1="334.5" x2="2154.5" y2="330.9" stroke="#ff0000" stroke-width="1" />
<line x1="2160.5" y1="334.5" x2="2160.5" y2="330.9" stroke="#ff0000" stroke-width="1" />
<line x1="2166.5" y1="334.5" x2="2166.5" y2="331.4" stroke="#ff0000" stroke-width="1" />
<line x1="2172.5" y1="334.5" x2="2172.5" y2="332.2" stroke="#ff0000" stroke-width="1" />
<line x1="2178.5" y1="334.5" x2="2178.5" y2="332.2" stroke="#ff0000" stroke-width="1" />
<polyline points="1103.9,343.1 1126,337.9 1152,331.4 1172.8,327.5 1191,326.2 1204,328.8 1211.8,334 1224.8,335.3 1245.6,337.1 1271.7,337.1 1292.5,338.7 1308.1,339.7 1323.7,338.7 1339.3,337.1 1354.9,338.7 1370.5,340.5 1386.1,342.3 1412.1,342.3 1438.1,341.8 1464.1,341.3 1477.1,339.7 1490.1,336.6 1505.7,334.5 1529.1,334 1542.1,335.3 1557.7,337.9 1575.9,339.7 1594.1,339.7 1609.8,337.9 1620.2,335.3 1630.6,333.5 1643.6,334.5 1648.8,339.2 1659.2,347 1672.2,353.5 1687.8,356.9 1703.4,362.1 1724.2,360 1739.8,364.7 1755.4,365.7 1770,366.5 1778.1,371.2 1798.9,371.7 1817.1,374.3 1830.1,372.5 1854.3,367.3 1882.1,361.3 1908.1,356.1 1923.7,350.9 1939.3,350.9 1951,352.7 1973.1,348.3 1991.3,345.7 2012.1,344.9 2030.3,339.2 2051.1,335.3 2069.3,336.6 2090.2,334 2105.8,333.5 2116.2,334.5 2129.2,331.4 2142.2,327.5 2160.4,324.1 2178.6,323.1" fill="none" stroke="#ffff00" stroke-width="1" />
<polyline points="1103.9,345.2 1126,341.8 1152,337.1 1172.8,332.7 1191,329.3 1204,329.3 1217,331.4 1235.2,334 1256,335.3 1276.9,337.1 1308.1,337.9 1354.9,337.9 1378.3,339.7 1396.5,341.3 1438.1,341.3 1471.9,341.3 1490.1,339.2 1505.7,337.1 1526.5,335.3 1552.5,335.3 1568.1,337.1 1594.1,339.2 1615,338.7 1630.6,336.1 1646.2,334.5 1659.2,339.2 1672.2,344.9 1687.8,350.1 1708.6,356.1 1729.4,358.2 1750.2,362.1 1770,365.2 1788.5,368.3 1809.3,370.4 1830.1,372.2 1840.5,372.2 1854.3,370.4 1882.1,365.7 1908.1,361.3 1934.1,354.8 1951,353.5 1975.7,350.9 1999.1,348.3 2022.5,346.2 2038.1,342.3 2056.3,339.7 2079.8,337.9 2100.6,336.1 2116.2,335.3 2129.2,334 2142.2,331.4 2160.4,328.8 2178.6,326.2" fill="none" stroke="#0000ff" stroke-width="1" />
<line x1="1104" y1="423.5" x2="2179" y2="423.5" stroke="#0000ff" stroke-width="1" />
<line x1="1104" y1="459.5" x2="2179" y2="459.5" stroke="#ff0000" stroke-width="1" />
<polyline points="1103.9,442.9 1110.4,435.9 1122.1,433.8 1131.2,424.7 1141.6,418.2 1152,415.6 1165,416.1 1178,414.3 1193.6,413 1200.1,418.2 1205.3,428.6 1211.8,444.2 1218.3,455.1 1224.8,458.5 1235.2,454.6 1250.8,453.3 1271.7,454.1 1279.5,450.7 1289.9,442.1 1297.7,445.5 1308.1,454.6 1319.8,453.3 1327.6,442.9 1335.4,436.4 1343.2,440.3 1351,450.7 1360.1,459.8 1373.1,464.2 1386.1,465.5 1401.7,462.4 1417.3,458.5 1429,453.3 1438.1,451.5 1445.9,455.9 1453.7,459.3 1464.1,454.1 1474.5,448.1 1482.3,439 1490.1,427.3 1500.5,421.6 1510.9,424.7 1521.3,429.9 1531.7,431.7 1539.5,435.1 1547.3,445.5 1555.1,455.9 1561.6,463.7 1570.7,463.7 1581.1,460.3 1588.9,459.3 1596.7,461.9 1607.2,461.1 1613.7,453.3 1620.2,440.3 1628,428.1 1634.5,428.6 1641,436.4 1647.5,446.8 1654,453.3 1661.8,455.9 1672.2,457.7 1685.2,458.5 1695.6,460.3 1703.4,463.7 1711.2,463.7 1721.6,460.3 1729.4,462.4 1737.2,465 1745,465 1752.8,461.9 1761.9,461.1 1770,463.7 1778.1,466.3 1791.1,465 1801.5,467.1 1811.9,468.9 1822.3,468.1 1835.3,466.3 1845.7,463.2 1856.1,459.3 1871.7,459.3 1882.1,455.9 1895.1,454.6 1908.1,450.7 1918.5,439 1926.3,434.3 1932.8,439 1939.3,449.4 1944.5,456.7 1952.3,460.3 1958.8,458.5 1965.3,453.3 1973.1,448.1 1983.5,442.9 1991.3,440.8 1999.1,442.9 2009.5,449.4 2017.3,446.8 2023.8,437.7 2031.6,430.7 2040.7,432.5 2051.1,437.2 2058.9,442.9 2066.7,448.9 2074.6,449.4 2085,445.5 2095.4,441.1 2105.8,437.7 2113.6,438.5 2121.4,436.4 2129.2,431.2 2137,424.7 2143.5,419.5 2150,420.3 2157.8,425.5 2165.6,427.3 2177.3,427.3" fill="none" stroke="#ff0000" stroke-width="1" />
<polyline points="1103.9,433.3 1110.4,437.7 1116.9,435.1 1123.4,426 1128.6,418.2 1133.8,419.5 1140.3,415.6 1152,415.1 1163.7,416.9 1175.4,413 1183.2,412.2 1193.6,412.2 1197.5,420.8 1202.7,436.4 1206.6,446.8 1211.8,454.6 1218.3,459.8 1224.8,456.7 1230,453.3 1245.6,453.3 1253.4,454.1 1271.7,454.1 1279.5,444.2 1284.7,438.5 1289.9,442.9 1296.4,453.3 1302.9,457.2 1308.1,459.3 1314.6,448.1 1321.1,450.7 1326.3,435.1 1332.2,429.4 1338,442.9 1344.5,450.7 1352.3,459.3 1360.1,462.4 1373.1,465 1386.1,466.3 1399.1,461.1 1409.5,459.8 1417.3,457.2 1429,449.4 1435.5,452 1440.7,457.2 1446.4,464.5 1451.1,457.2 1457.6,454.1 1464.1,453.3 1471.9,446.8 1479.7,437.7 1488.3,420.3 1495.3,422.9 1503.1,423.4 1513.5,427.3 1518.7,433.8 1529.1,430.7 1536.9,438.5 1542.1,445.5 1548.6,458.5 1555.1,462.4 1560.9,466.3 1568.1,463.2 1573.3,460.3 1578.5,460.3 1584.3,457.2 1590.2,461.1 1596.7,463.2 1603.3,461.9 1608.5,460.3 1613.7,440.3 1620.2,429.9 1626.7,424.7 1633.2,431.2 1639.7,441.6 1644.9,453.3 1648.8,454.6 1656.6,455.4 1664.4,456.7 1669.6,458.5 1677.4,457.7 1685.2,459.3 1693,459.3 1698.2,465 1703.4,466.3 1711.2,462.4 1721.6,460.3 1729.4,465 1735.9,466.3 1741.1,466.3 1750.2,460.3 1755.4,459.8 1763.2,461.9 1770,466.3 1775.5,468.1 1788.5,463.2 1796.3,464.5 1806.7,468.9 1817.1,468.9 1824.9,466.3 1835.3,466.3 1843.1,461.9 1854.3,458.5 1871.7,459.3 1879.5,454.6 1884.7,451.5 1891.2,456.7 1897.7,453.3 1904.2,448.9 1908.1,448.1 1919.8,428.6 1926.3,439 1932.8,449.4 1939.3,457.2 1944.5,463.7 1951,460.3 1957.5,455.9 1962.7,447.3 1967.9,448.1 1975.7,442.9 1984.8,440.3 1993.9,444.7 2001.7,447.3 2009.5,452 2016,439 2022.5,428.1 2027.7,428.1 2034.2,432.5 2040.7,437.2 2047.2,437.2 2053.7,439 2058.9,448.1 2065.4,450.7 2072,449.4 2079.8,444.7 2090.2,439 2098,436.4 2105.8,436.4 2112.3,439.8 2118.8,433.3 2125.3,433.8 2130.5,424.7 2135.7,417.7 2142.2,415.6 2147.4,424.7 2154.7,429.1 2160.4,426 2165.6,428.1 2177.3,428.1" fill="none" stroke="#0000ff" stroke-width="1" />
<rect x="1102" y="0" width="1" height="485" fill="#707070" />
<rect x="1103" y="0" width="1" height="485" fill="#000" />
<line x1="1102.5" y1="485" x2="1102.5" y2="515" stroke="#404040" stroke-width="1" />
<line x1="1100" y1="0" x2="1100" y2="26" stroke="#a0a0a0" stroke-width="2" />
<line x1="1102" y1="484.5" x2="2240" y2="484.5" stroke="#000" stroke-width="1" />
<line x1="2187.5" y1="0" x2="2187.5" y2="515" stroke="#000" stroke-width="1" />
<line x1="1122.5" y1="485" x2="1122.5" y2="493" stroke="#000" stroke-width="1" />
<text x="1121.5" y="503.1" textLength="30" lengthAdjust="spacingAndGlyphs" class="n" fill="#000" xml:space="preserve">04/03</text>
<line x1="1272.5" y1="485" x2="1272.5" y2="488" stroke="#000" stroke-width="1" />
<text x="1271.5" y="503.1" textLength="30" lengthAdjust="spacingAndGlyphs" class="n" fill="#000" xml:space="preserve">12:00</text>
<line x1="1440.5" y1="485" x2="1440.5" y2="488" stroke="#000" stroke-width="1" />
<text x="1439.5" y="503.1" textLength="30" lengthAdjust="spacingAndGlyphs" class="n" fill="#000" xml:space="preserve">20:00</text>
<line x1="1536.5" y1="485" x2="1536.5" y2="493" stroke="#000" stroke-width="1" />
<text x="1535.5" y="503.1" textLength="30" lengthAdjust="spacingAndGlyphs" class="n" fill="#000" xml:space="preserve">04/04</text>
<line x1="1686.5" y1="485" x2="1686.5" y2="488" stroke="#000" stroke-width="1" />
<text x="1685.5" y="503.1" textLength="30" lengthAdjust="spacingAndGlyphs" class="n" fill="#000" xml:space="preserve">12:00</text>
<line x1="1854.5" y1="485" x2="1854.5" y2="488" stroke="#000" stroke-width="1" />
<text x="1853.5" y="503.1" textLength="30" lengthAdjust="spacingAndGlyphs" class="n" fill="#000" xml:space="preserve">20:00</text>
<line x1="1950.5" y1="485" x2="1950.5" y2="493" stroke="#000" stroke-width="1" />
<text x="1949.5" y="503.1" textLength="30" lengthAdjust="spacingAndGlyphs" class="n" fill="#000" xml:space="preserve">04/05</text>
<line x1="2100.5" y1="485" x2="2100.5" y2="488" stroke="#000" stroke-width="1" />
<text x="2099.5" y="503.1" textLength="30" lengthAdjust="spacingAndGlyphs" class="n" fill="#000" xml:space="preserve">12:00</text>
<line x1="2188" y1="17.5" x2="2193" y2="17.5" stroke="#000" stroke-width="1" />
<text x="2196" y="21.7" textLength="36" lengthAdjust="spacingAndGlyphs" class="n" fill="#000" xml:space="preserve">10,125</text>
<line x1="2188" y1="55.5" x2="2193" y2="55.5" stroke="#000" stroke-width="1" />
<text x="2196" y="59.7" textLength="36" lengthAdjust="spacingAndGlyphs" class="n" fill="#000" xml:space="preserve">10,035</text>
<line x1="2188" y1="92.5" x2="2193" y2="92.5" stroke="#000" stroke-width="1" />
<text x="2196" y="96.7" textLength="30" lengthAdjust="spacingAndGlyphs" class="n" fill="#000" xml:space="preserve">9,945</text>
<line x1="2188" y1="130.5" x2="2193" y2="130.5" stroke="#000" stroke-width="1" />
<text x="2196" y="134.7" textLength="30" lengthAdjust="spacingAndGlyphs" class="n" fill="#000" xml:space="preserve">9,855</text>
<line x1="2188" y1="167.5" x2="2193" y2="167.5" stroke="#000" stroke-width="1" />
<text x="2196" y="171.7" textLength="30" lengthAdjust="spacingAndGlyphs" class="n" fill="#000" xml:space="preserve">9,765</text>
<line x1="2188" y1="229.5" x2="2193" y2="229.5" stroke="#000" stroke-width="1" />
<text x="2196" y="233.7" textLength="36" lengthAdjust="spacingAndGlyphs" class="n" fill="#000" xml:space="preserve">140.00</text>
<line x1="2188" y1="266.5" x2="2193" y2="266.5" stroke="#000" stroke-width="1" />
<text x="2196" y="270.7" textLength="30" lengthAdjust="spacingAndGlyphs" class="n" fill="#000" xml:space="preserve">50.00</text>
<line x1="2188" y1="320.5" x2="2193" y2="320.5" stroke="#000" stroke-width="1" />
<text x="2196" y="324.7" textLength="30" lengthAdjust="spacingAndGlyphs" class="n" fill="#000" xml:space="preserve">20.00</text>
<line x1="2188" y1="360.5" x2="2193" y2="360.5" stroke="#000" stroke-width="1" />
<text x="2196" y="364.7" textLength="36" lengthAdjust="spacingAndGlyphs" class="n" fill="#000" xml:space="preserve">-35.00</text>
<line x1="2188" y1="410.5" x2="2193" y2="410.5" stroke="#000" stroke-width="1" />
<text x="2196" y="414.7" textLength="36" lengthAdjust="spacingAndGlyphs" class="n" fill="#000" xml:space="preserve">100.00</text>
<line x1="2188" y1="447.5" x2="2193" y2="447.5" stroke="#000" stroke-width="1" />
<text x="2196" y="451.7" textLength="30" lengthAdjust="spacingAndGlyphs" class="n" fill="#000" xml:space="preserve">40.00</text>
<rect x="2190.5" y="287.5" width="46" height="13" fill="#fff" stroke="#000" stroke-width="1"/>
<text x="2193" y="297.6" textLength="36" lengthAdjust="spacingAndGlyphs" class="n" fill="#000" xml:space="preserve">× 1000</text>
<line x1="2467.5" y1="8" x2="2467.5" y2="494" stroke="#c0c0c0" stroke-width="1" stroke-dasharray="3 3"/>
<line x1="2683.5" y1="8" x2="2683.5" y2="494" stroke="#c0c0c0" stroke-width="1" stroke-dasharray="3 3"/>
<line x1="2899.5" y1="8" x2="2899.5" y2="494" stroke="#c0c0c0" stroke-width="1" stroke-dasharray="3 3"/>
<line x1="3115.5" y1="8" x2="3115.5" y2="494" stroke="#c0c0c0" stroke-width="1" stroke-dasharray="3 3"/>
<line x1="2246" y1="27.5" x2="3243" y2="27.5" stroke="#c0c0c0" stroke-width="1" stroke-dasharray="3 3"/>
<line x1="2246" y1="76.5" x2="3243" y2="76.5" stroke="#c0c0c0" stroke-width="1" stroke-dasharray="3 3"/>
<line x1="2246" y1="125.5" x2="3243" y2="125.5" stroke="#c0c0c0" stroke-width="1" stroke-dasharray="3 3"/>
<line x1="2246" y1="175.5" x2="3243" y2="175.5" stroke="#c0c0c0" stroke-width="1" stroke-dasharray="3 3"/>
<line x1="2246" y1="239.5" x2="3243" y2="239.5" stroke="#c0c0c0" stroke-width="1" stroke-dasharray="3 3"/>
<line x1="2246" y1="277.5" x2="3243" y2="277.5" stroke="#c0c0c0" stroke-width="1" stroke-dasharray="3 3"/>
<line x1="2246" y1="330.5" x2="3243" y2="330.5" stroke="#c0c0c0" stroke-width="1" stroke-dasharray="3 3"/>
<line x1="2246" y1="367.5" x2="3243" y2="367.5" stroke="#c0c0c0" stroke-width="1" stroke-dasharray="3 3"/>
<line x1="2246" y1="421.5" x2="3243" y2="421.5" stroke="#c0c0c0" stroke-width="1" stroke-dasharray="3 3"/>
<line x1="2246" y1="460.5" x2="3243" y2="460.5" stroke="#c0c0c0" stroke-width="1" stroke-dasharray="3 3"/>
<text x="2249" y="20.9" textLength="24" lengthAdjust="spacingAndGlyphs" class="w" fill="#000">日経</text>
<text x="2273" y="20.9" textLength="102" lengthAdjust="spacingAndGlyphs" class="n" fill="#000" xml:space="preserve">225mini 12/06( 30</text>
<text x="2375" y="20.9" textLength="12" lengthAdjust="spacingAndGlyphs" class="w" fill="#000">分</text>
<text x="2387" y="20.9" textLength="162" lengthAdjust="spacingAndGlyphs" class="n" fill="#000" xml:space="preserve">, 2012/03/28 - 2012/04/05 )</text>
<text x="2568" y="20.9" textLength="48" lengthAdjust="spacingAndGlyphs" class="w" fill="#000">移動平均</text>
<text x="2616" y="20.9" textLength="78" lengthAdjust="spacingAndGlyphs" class="n" fill="#000" xml:space="preserve">( Close, 40 )</text>
<text x="2715" y="20.9" textLength="48" lengthAdjust="spacingAndGlyphs" class="w" fill="#000">移動平均</text>
<text x="2763" y="20.9" textLength="84" lengthAdjust="spacingAndGlyphs" class="n" fill="#000" xml:space="preserve">( Close, 150 )</text>
<text x="2866" y="20.9" textLength="48" lengthAdjust="spacingAndGlyphs" class="w" fill="#000">移動平均</text>
<text x="2914" y="20.9" textLength="78" lengthAdjust="spacingAndGlyphs" class="n" fill="#000" xml:space="preserve">( Close, 10 )</text>
<text x="3012" y="20.9" textLength="48" lengthAdjust="spacingAndGlyphs" class="w" fill="#000">移動平均</text>
<text x="3060" y="20.9" textLength="78" lengthAdjust="spacingAndGlyphs" class="n" fill="#000" xml:space="preserve">( Close, 20 )</text>
<text x="2249" y="34.9" textLength="60" lengthAdjust="spacingAndGlyphs" class="w" fill="#000">一目均衡表</text>
<text x="2309" y="34.9" textLength="78" lengthAdjust="spacingAndGlyphs" class="n" fill="#000" xml:space="preserve">( 9, 26, 52 )</text>
<text x="2406" y="34.9" textLength="48" lengthAdjust="spacingAndGlyphs" class="w" fill="#000">移動平均</text>
<text x="2454" y="34.9" textLength="72" lengthAdjust="spacingAndGlyphs" class="n" fill="#000" xml:space="preserve">( Close, 5 )</text>
<text x="2547" y="34.9" textLength="48" lengthAdjust="spacingAndGlyphs" class="w" fill="#000">移動平均</text>
<text x="2595" y="34.9" textLength="78" lengthAdjust="spacingAndGlyphs" class="n" fill="#000" xml:space="preserve">( Close, 75 )</text>
<text x="2692" y="34.9" textLength="48" lengthAdjust="spacingAndGlyphs" class="w" fill="#000">移動平均</text>
<text x="2740" y="34.9" textLength="78" lengthAdjust="spacingAndGlyphs" class="n" fill="#000" xml:space="preserve">( Close, 25 )</text>
<text x="2839" y="34.9" textLength="48" lengthAdjust="spacingAndGlyphs" class="w" fill="#000">移動平均</text>
<text x="2887" y="34.9" textLength="78" lengthAdjust="spacingAndGlyphs" class="n" fill="#000" xml:space="preserve">( Close, 75 )</text>
<text x="2249" y="234.6" textLength="36" lengthAdjust="spacingAndGlyphs" class="w" fill="#000">出来高</text>
<text x="2249" y="324.1" textLength="102" lengthAdjust="spacingAndGlyphs" class="n" fill="#000" xml:space="preserve">MACD( 12, 26, 9 )</text>
<text x="2249" y="415.6" textLength="156" lengthAdjust="spacingAndGlyphs" class="w" fill="#000">スロー・ストキャスティクス</text>
<text x="2405" y="415.6" textLength="102" lengthAdjust="spacingAndGlyphs" class="n" fill="#000" xml:space="preserve">( 14, 3, 80, 20 )</text>
<line x1="2401.5" y1="59" x2="2401.5" y2="72" stroke="#0000ff" stroke-width="1" />
<line x1="2407.5" y1="58.7" x2="2407.5" y2="72.5" stroke="#0000ff" stroke-width="1" />
<line x1="2413.5" y1="58.3" x2="2413.5" y2="73" stroke="#0000ff" stroke-width="1" />
<line x1="2419.5" y1="58" x2="2419.5" y2="73.5" stroke="#0000ff" stroke-width="1" />
<line x1="2425.5" y1="57.7" x2="2425.5" y2="74" stroke="#0000ff" stroke-width="1" />
<line x1="2431.5" y1="57.3" x2="2431.5" y2="74.5" stroke="#0000ff" stroke-width="1" />
<line x1="2437.5" y1="57" x2="2437.5" y2="73.4" stroke="#0000ff" stroke-width="1" />
<line x1="2443.5" y1="56.7" x2="2443.5" y2="71.9" stroke="#0000ff" stroke-width="1" />
<line x1="2449.5" y1="56.5" x2="2449.5" y2="70.6" stroke="#0000ff" stroke-width="1" />
<line x1="2455.5" y1="57" x2="2455.5" y2="70" stroke="#0000ff" stroke-width="1" />
<line x1="2461.5" y1="57.4" x2="2461.5" y2="69.4" stroke="#0000ff" stroke-width="1" />
<line x1="2467.5" y1="57.9" x2="2467.5" y2="68.8" stroke="#0000ff" stroke-width="1" />
<line x1="2473.5" y1="58.3" x2="2473.5" y2="68.2" stroke="#0000ff" stroke-width="1" />
<line x1="2479.5" y1="58.8" x2="2479.5" y2="67.6" stroke="#0000ff" stroke-width="1" />
<line x1="2485.5" y1="59.2" x2="2485.5" y2="67" stroke="#0000ff" stroke-width="1" />
<line x1="2491.5" y1="59.7" x2="2491.5" y2="66.4" stroke="#0000ff" stroke-width="1" />
<line x1="2497.5" y1="60.1" x2="2497.5" y2="65.8" stroke="#0000ff" stroke-width="1" />
<line x1="2503.5" y1="60.7" x2="2503.5" y2="65.3" stroke="#0000ff" stroke-width="1" />
<line x1="2509.5" y1="61.3" x2="2509.5" y2="65" stroke="#0000ff" stroke-width="1" />
<line x1="2515.5" y1="61.9" x2="2515.5" y2="64.7" stroke="#0000ff" stroke-width="1" />
<line x1="2521.5" y1="62.5" x2="2521.5" y2="64.4" stroke="#0000ff" stroke-width="1" />
<polyline points="2401.2,59 2448.1,56.4 2500.1,60.3 2526.1,62.9" fill="none" stroke="#ff0000" stroke-width="1" />
<polyline points="2401.2,72 2432.5,74.6 2448.1,70.7 2474.1,68.1 2500.1,65.5 2526.1,64.2" fill="none" stroke="#00ffff" stroke-width="1" />
<line x1="2545.5" y1="64.5" x2="2545.5" y2="66.8" stroke="#ff0000" stroke-width="1" />
<line x1="2551.5" y1="63.3" x2="2551.5" y2="66.8" stroke="#ff0000" stroke-width="1" />
<line x1="2557.5" y1="62.1" x2="2557.5" y2="66.8" stroke="#ff0000" stroke-width="1" />
<line x1="2563.5" y1="60.9" x2="2563.5" y2="66.8" stroke="#ff0000" stroke-width="1" />
<line x1="2569.5" y1="59.7" x2="2569.5" y2="66.8" stroke="#ff0000" stroke-width="1" />
<line x1="2575.5" y1="58.8" x2="2575.5" y2="66.8" stroke="#ff0000" stroke-width="1" />
<line x1="2581.5" y1="58.3" x2="2581.5" y2="66.8" stroke="#ff0000" stroke-width="1" />
<line x1="2587.5" y1="57.8" x2="2587.5" y2="66.8" stroke="#ff0000" stroke-width="1" />
<line x1="2593.5" y1="57.3" x2="2593.5" y2="66.8" stroke="#ff0000" stroke-width="1" />
<line x1="2599.5" y1="56.8" x2="2599.5" y2="66.8" stroke="#ff0000" stroke-width="1" />
<line x1="2605.5" y1="56.5" x2="2605.5" y2="66.8" stroke="#ff0000" stroke-width="1" />
<line x1="2611.5" y1="57.1" x2="2611.5" y2="66.8" stroke="#ff0000" stroke-width="1" />
<line x1="2617.5" y1="57.8" x2="2617.5" y2="66.8" stroke="#ff0000" stroke-width="1" />
<line x1="2623.5" y1="58.4" x2="2623.5" y2="66.8" stroke="#ff0000" stroke-width="1" />
<line x1="2629.5" y1="59" x2="2629.5" y2="66.8" stroke="#ff0000" stroke-width="1" />
<line x1="2635.5" y1="59" x2="2635.5" y2="66.8" stroke="#ff0000" stroke-width="1" />
<line x1="2641.5" y1="59" x2="2641.5" y2="66.8" stroke="#ff0000" stroke-width="1" />
<line x1="2647.5" y1="59" x2="2647.5" y2="66.8" stroke="#ff0000" stroke-width="1" />
<line x1="2653.5" y1="59" x2="2653.5" y2="66.8" stroke="#ff0000" stroke-width="1" />
<polyline points="2544.3,64.7 2572.9,59 2604.1,56.4 2630.1,59 2656.1,59" fill="none" stroke="#00ffff" stroke-width="1" />
<polyline points="2544.3,66.8 2656.1,66.8" fill="none" stroke="#ff0000" stroke-width="1" />
<line x1="2659.5" y1="47.3" x2="2659.5" y2="53.8" stroke="#ff0000" stroke-width="1" />
<line x1="2665.5" y1="44.9" x2="2665.5" y2="53.8" stroke="#ff0000" stroke-width="1" />
<line x1="2671.5" y1="43.1" x2="2671.5" y2="53.8" stroke="#ff0000" stroke-width="1" />
<line x1="2677.5" y1="42.2" x2="2677.5" y2="53.8" stroke="#ff0000" stroke-width="1" />
<line x1="2683.5" y1="41.3" x2="2683.5" y2="53.8" stroke="#ff0000" stroke-width="1" />
<line x1="2689.5" y1="40.4" x2="2689.5" y2="53.8" stroke="#ff0000" stroke-width="1" />
<line x1="2695.5" y1="39.5" x2="2695.5" y2="53.8" stroke="#ff0000" stroke-width="1" />
<line x1="2701.5" y1="39.7" x2="2701.5" y2="53.8" stroke="#ff0000" stroke-width="1" />
<line x1="2707.5" y1="39.9" x2="2707.5" y2="53.8" stroke="#ff0000" stroke-width="1" />
<line x1="2713.5" y1="40.1" x2="2713.5" y2="53.8" stroke="#ff0000" stroke-width="1" />
<line x1="2719.5" y1="40.2" x2="2719.5" y2="53.8" stroke="#ff0000" stroke-width="1" />
<line x1="2725.5" y1="41.5" x2="2725.5" y2="53.8" stroke="#ff0000" stroke-width="1" />
<line x1="2731.5" y1="43.1" x2="2731.5" y2="53.8" stroke="#ff0000" stroke-width="1" />
<line x1="2737.5" y1="44.7" x2="2737.5" y2="53.8" stroke="#ff0000" stroke-width="1" />
<line x1="2743.5" y1="46.3" x2="2743.5" y2="53.8" stroke="#ff0000" stroke-width="1" />
<line x1="2749.5" y1="48.7" x2="2749.5" y2="53.8" stroke="#ff0000" stroke-width="1" />
<line x1="2755.5" y1="52.1" x2="2755.5" y2="53.8" stroke="#ff0000" stroke-width="1" />
<polyline points="2656.1,48.6 2669.1,43.4 2695.1,39.5 2721.1,40.3 2747.2,47.3 2757.6,53.3" fill="none" stroke="#00ffff" stroke-width="1" />
<polyline points="2656.1,53.8 2757.6,53.8" fill="none" stroke="#ff0000" stroke-width="1" />
<line x1="2767.5" y1="53.1" x2="2767.5" y2="54.3" stroke="#0000ff" stroke-width="1" />
<line x1="2773.5" y1="53" x2="2773.5" y2="54.5" stroke="#0000ff" stroke-width="1" />
<line x1="2779.5" y1="52.9" x2="2779.5" y2="54.8" stroke="#0000ff" stroke-width="1" />
<line x1="2785.5" y1="52.8" x2="2785.5" y2="55.1" stroke="#0000ff" stroke-width="1" />
<line x1="2791.5" y1="52.8" x2="2791.5" y2="56.4" stroke="#0000ff" stroke-width="1" />
<line x1="2797.5" y1="52.7" x2="2797.5" y2="57.9" stroke="#0000ff" stroke-width="1" />
<line x1="2803.5" y1="52.6" x2="2803.5" y2="59.4" stroke="#0000ff" stroke-width="1" />
<line x1="2809.5" y1="53.1" x2="2809.5" y2="60.9" stroke="#0000ff" stroke-width="1" />
<line x1="2815.5" y1="53.8" x2="2815.5" y2="61.6" stroke="#0000ff" stroke-width="1" />
<line x1="2821.5" y1="53.8" x2="2821.5" y2="61.6" stroke="#0000ff" stroke-width="1" />
<line x1="2827.5" y1="53.8" x2="2827.5" y2="61.6" stroke="#0000ff" stroke-width="1" />
<line x1="2833.5" y1="53.8" x2="2833.5" y2="61.6" stroke="#0000ff" stroke-width="1" />
<line x1="2839.5" y1="53.8" x2="2839.5" y2="61.5" stroke="#0000ff" stroke-width="1" />
<line x1="2845.5" y1="53.8" x2="2845.5" y2="60.9" stroke="#0000ff" stroke-width="1" />
<line x1="2851.5" y1="53.8" x2="2851.5" y2="60.3" stroke="#0000ff" stroke-width="1" />
<line x1="2857.5" y1="53.8" x2="2857.5" y2="59.7" stroke="#0000ff" stroke-width="1" />
<line x1="2863.5" y1="53.8" x2="2863.5" y2="59.1" stroke="#0000ff" stroke-width="1" />
<line x1="2869.5" y1="53.8" x2="2869.5" y2="60.6" stroke="#0000ff" stroke-width="1" />
<line x1="2875.5" y1="53.8" x2="2875.5" y2="62.3" stroke="#0000ff" stroke-width="1" />
<line x1="2881.5" y1="53.8" x2="2881.5" y2="64.1" stroke="#0000ff" stroke-width="1" />
<line x1="2887.5" y1="53.8" x2="2887.5" y2="63.5" stroke="#0000ff" stroke-width="1" />
<line x1="2893.5" y1="53.8" x2="2893.5" y2="62.8" stroke="#0000ff" stroke-width="1" />
<line x1="2899.5" y1="53.8" x2="2899.5" y2="62" stroke="#0000ff" stroke-width="1" />
<line x1="2905.5" y1="53.8" x2="2905.5" y2="62" stroke="#0000ff" stroke-width="1" />
<line x1="2911.5" y1="53.8" x2="2911.5" y2="62.8" stroke="#0000ff" stroke-width="1" />
<line x1="2917.5" y1="53.8" x2="2917.5" y2="63.7" stroke="#0000ff" stroke-width="1" />
<line x1="2923.5" y1="53.8" x2="2923.5" y2="65.4" stroke="#0000ff" stroke-width="1" />
<line x1="2929.5" y1="53.8" x2="2929.5" y2="68.1" stroke="#0000ff" stroke-width="1" />
<line x1="2935.5" y1="53.8" x2="2935.5" y2="67.9" stroke="#0000ff" stroke-width="1" />
<line x1="2941.5" y1="53.8" x2="2941.5" y2="67.6" stroke="#0000ff" stroke-width="1" />
<line x1="2947.5" y1="53.8" x2="2947.5" y2="67.4" stroke="#0000ff" stroke-width="1" />
<line x1="2953.5" y1="53.8" x2="2953.5" y2="67.1" stroke="#0000ff" stroke-width="1" />
<line x1="2959.5" y1="53.8" x2="2959.5" y2="66.8" stroke="#0000ff" stroke-width="1" />
<line x1="2965.5" y1="53.8" x2="2965.5" y2="68.2" stroke="#0000ff" stroke-width="1" />
<line x1="2971.5" y1="53.8" x2="2971.5" y2="69.7" stroke="#0000ff" stroke-width="1" />
<line x1="2977.5" y1="54.5" x2="2977.5" y2="71.2" stroke="#0000ff" stroke-width="1" />
<line x1="2983.5" y1="56.7" x2="2983.5" y2="72.7" stroke="#0000ff" stroke-width="1" />
<line x1="2989.5" y1="58.1" x2="2989.5" y2="74" stroke="#0000ff" stroke-width="1" />
<line x1="2995.5" y1="58.7" x2="2995.5" y2="75.2" stroke="#0000ff" stroke-width="1" />
<line x1="3001.5" y1="59.3" x2="3001.5" y2="75.9" stroke="#0000ff" stroke-width="1" />
<line x1="3007.5" y1="59.9" x2="3007.5" y2="75.9" stroke="#0000ff" stroke-width="1" />
<line x1="3013.5" y1="60.7" x2="3013.5" y2="75.9" stroke="#0000ff" stroke-width="1" />
<line x1="3019.5" y1="62.4" x2="3019.5" y2="75.9" stroke="#0000ff" stroke-width="1" />
<line x1="3025.5" y1="64" x2="3025.5" y2="76.1" stroke="#0000ff" stroke-width="1" />
<line x1="3031.5" y1="65.7" x2="3031.5" y2="76.4" stroke="#0000ff" stroke-width="1" />
<line x1="3037.5" y1="67.1" x2="3037.5" y2="76.7" stroke="#0000ff" stroke-width="1" />
<line x1="3043.5" y1="68" x2="3043.5" y2="76.8" stroke="#0000ff" stroke-width="1" />
<line x1="3049.5" y1="68.9" x2="3049.5" y2="76.9" stroke="#0000ff" stroke-width="1" />
<line x1="3055.5" y1="69.8" x2="3055.5" y2="77" stroke="#0000ff" stroke-width="1" />
<line x1="3061.5" y1="70.7" x2="3061.5" y2="77.2" stroke="#0000ff" stroke-width="1" />
<line x1="3067.5" y1="70.7" x2="3067.5" y2="77.3" stroke="#0000ff" stroke-width="1" />
<line x1="3073.5" y1="70.7" x2="3073.5" y2="77.3" stroke="#0000ff" stroke-width="1" />
<line x1="3079.5" y1="70.7" x2="3079.5" y2="77.4" stroke="#0000ff" stroke-width="1" />
<line x1="3085.5" y1="70.7" x2="3085.5" y2="77.5" stroke="#0000ff" stroke-width="1" />
<line x1="3091.5" y1="70.7" x2="3091.5" y2="77.6" stroke="#0000ff" stroke-width="1" />
<line x1="3097.5" y1="70.7" x2="3097.5" y2="77.7" stroke="#0000ff" stroke-width="1" />
<line x1="3103.5" y1="74.7" x2="3103.5" y2="82" stroke="#0000ff" stroke-width="1" />
<line x1="3109.5" y1="91.2" x2="3109.5" y2="99" stroke="#0000ff" stroke-width="1" />
<line x1="3115.5" y1="91.5" x2="3115.5" y2="99.7" stroke="#0000ff" stroke-width="1" />
<line x1="3121.5" y1="91.5" x2="3121.5" y2="100.1" stroke="#0000ff" stroke-width="1" />
<line x1="3127.5" y1="91.5" x2="3127.5" y2="100.5" stroke="#0000ff" stroke-width="1" />
<line x1="3133.5" y1="92.8" x2="3133.5" y2="101.5" stroke="#0000ff" stroke-width="1" />
<line x1="3139.5" y1="95.4" x2="3139.5" y2="102.7" stroke="#0000ff" stroke-width="1" />
<line x1="3145.5" y1="96.1" x2="3145.5" y2="105.2" stroke="#0000ff" stroke-width="1" />
<line x1="3151.5" y1="101.7" x2="3151.5" y2="108.8" stroke="#0000ff" stroke-width="1" />
<line x1="3157.5" y1="102.9" x2="3157.5" y2="113" stroke="#0000ff" stroke-width="1" />
<line x1="3163.5" y1="103.1" x2="3163.5" y2="118.1" stroke="#0000ff" stroke-width="1" />
<line x1="3169.5" y1="104.4" x2="3169.5" y2="123" stroke="#0000ff" stroke-width="1" />
<line x1="3175.5" y1="109.8" x2="3175.5" y2="127.9" stroke="#0000ff" stroke-width="1" />
<line x1="3181.5" y1="115" x2="3181.5" y2="131" stroke="#0000ff" stroke-width="1" />
<line x1="3187.5" y1="116" x2="3187.5" y2="134" stroke="#0000ff" stroke-width="1" />
<line x1="3193.5" y1="119.4" x2="3193.5" y2="137" stroke="#0000ff" stroke-width="1" />
<line x1="3199.5" y1="121.5" x2="3199.5" y2="141.3" stroke="#0000ff" stroke-width="1" />
<line x1="3205.5" y1="123" x2="3205.5" y2="145.3" stroke="#0000ff" stroke-width="1" />
<line x1="3211.5" y1="123" x2="3211.5" y2="146.3" stroke="#0000ff" stroke-width="1" />
<line x1="3217.5" y1="123" x2="3217.5" y2="147.3" stroke="#0000ff" stroke-width="1" />
<line x1="3223.5" y1="123" x2="3223.5" y2="147.9" stroke="#0000ff" stroke-width="1" />
<line x1="3229.5" y1="123" x2="3229.5" y2="148.2" stroke="#0000ff" stroke-width="1" />
<line x1="3235.5" y1="123" x2="3235.5" y2="148.5" stroke="#0000ff" stroke-width="1" />
<line x1="3241.5" y1="123" x2="3241.5" y2="151.2" stroke="#0000ff" stroke-width="1" />
<polyline points="2757.6,53.8 2786.2,55.1 2812.2,61.6 2838.2,61.6 2864.2,59 2882.1,64.2 2902.9,61.6 2921.1,64.2 2928.9,68.1 2949.7,67.3 2960.1,66.8 2986.1,73.3 2999.1,75.9 3022.5,75.9 3038.1,76.7 3064.1,77.2 3101.8,77.7 3105.7,87.6 3109.6,99.3 3129.1,100.6 3142.1,103.2 3155.1,111 3165.5,119.9 3175.9,128.2 3194.1,137.3 3204.6,145.1 3220.2,147.7 3235.8,148.5 3242.3,151.6" fill="none" stroke="#00ffff" stroke-width="1" />
<polyline points="2757.6,53.3 2807,52.5 2812.2,53.8 2864.2,53.8 2975.7,53.8 2986.1,57.7 3012.1,60.3 3035.5,66.8 3061.5,70.7 3100.5,70.7 3104.4,75.9 3109.6,91.5 3131.7,91.5 3136.9,95.4 3144.7,95.4 3152.5,102.7 3168.1,103.2 3181.1,114.9 3188.9,116.2 3194.1,119.9 3204.6,123 3242.3,123" fill="none" stroke="#ff0000" stroke-width="1" />
<polyline points="2838.2,59 2910,61.6 2960.1,65.5 3012.1,70.7 3064.1,77.2 3116.1,82.4 3168.1,88.1 3234.5,95.4" fill="none" stroke="#ffff00" stroke-width="1" />
<polyline points="2250.4,61.6 2526.1,59 2760.2,56.4 2804,59 2882.1,62.9 2960.1,66.8 3012.1,75.9 3064.1,89.7 3116.1,103.2 3168.1,118.8 3194.1,124.3 3220.2,130.8 3241,134.7" fill="none" stroke="#800080" stroke-width="1" />
<polyline points="2245.2,59 2318,69.4 2396,68.1 2474.1,59 2552.1,48.6 2630.1,48.6 2708.1,53.8 2786.2,62.9 2856,68.1 2934.1,74.6 2954.9,81.1 2986.1,87.6 3038.1,104.5 3082.3,119.9 3090.1,120.4 3116.1,134.7 3142.1,147.7 3168.1,159.4 3194.1,167.2 3207.2,170.3 3234.5,171.1" fill="none" stroke="#40e0d0" stroke-width="1" />
<polyline points="2245.2,65.5 2318,72 2396,68.1 2474.1,56.4 2552.1,44.7 2604.1,44.7 2682.1,53.8 2760.2,61.6 2778,66.8 2856,72 2934.1,78.5 2954.9,81.1 2986.1,90.2 3012.1,100.6 3045.9,119.9 3064.1,123 3090.1,143.8 3116.1,162 3142.1,172.4 3168.1,177.6 3194.1,179.7 3220.2,178.9 3234.5,178.1" fill="none" stroke="#006400" stroke-width="1" />
<polyline points="2245.2,72 2292,74.6 2344,72 2422.1,62.9 2500.1,51.2 2552.1,42.1 2591.1,43.4 2656.1,56.4 2708.1,59 2760.2,64.2 2778,68.1 2856,74.6 2934.1,79.8 2954.9,82.4 2986.1,95.4 3012.1,107.1 3035.5,119.9 3051.1,130.8 3077.1,149 3103.1,165.9 3129.1,175 3155.1,180.2 3181.1,181.5 3207.2,180.2 3234.5,177.1" fill="none" stroke="#ff8040" stroke-width="1" />
<polyline points="2245.5,82.4 2251.5,82.4 2257.5,82.4 2263.5,82.5 2269.5,82.5 2275.5,82.6 2281.5,82.7 2287.5,82.5 2293.5,81.4 2299.5,80.4 2305.5,77.7 2311.5,75.6 2317.5,73.1 2323.5,70.8 2329.5,68.5 2335.5,66.5 2341.5,64.6 2347.5,63.1 2353.5,62.2 2359.5,61.7 2365.5,62.8 2371.5,62.9 2377.5,62.4 2383.5,62 2389.5,61.7 2395.5,61 2401.5,59.7 2407.5,58.1 2413.5,57.3 2419.5,55.8 2425.5,54.3 2431.5,53.4 2437.5,53.5 2443.5,53.3 2449.5,53 2455.5,52.9 2461.5,53.4 2467.5,53.6 2473.5,53.6 2479.5,53.4 2485.5,53 2491.5,52.1 2497.5,51 2503.5,49.8 2509.5,47.8 2515.5,45.5 2521.5,43 2527.5,41.2 2533.5,39.2 2539.5,37.7 2545.5,36.8 2551.5,36.2 2557.5,35.8 2563.5,36.3 2569.5,37 2575.5,38.5 2581.5,40.7 2587.5,43.2 2593.5,45.1 2599.5,47.7 2605.5,51.4 2611.5,54.8 2617.5,57.9 2623.5,60.2 2629.5,62.8 2635.5,65.2 2641.5,67.1 2647.5,68.4 2653.5,70.2 2659.5,71.5 2665.5,71.9 2671.5,71.7 2677.5,71.8 2683.5,71.5 2689.5,70.6 2695.5,69.4 2701.5,67.8 2707.5,65.9 2713.5,64.4 2719.5,62.7 2725.5,61.6 2731.5,61.4 2737.5,61.3 2743.5,61.4 2749.5,62.2 2755.5,63.1 2761.5,64.3 2767.5,65.9 2773.5,67.5 2779.5,68.8 2785.5,68.9 2791.5,69.2 2797.5,69.7 2803.5,70.3 2809.5,71.2 2815.5,72.4 2821.5,73.7 2827.5,75 2833.5,75.9 2839.5,76.7 2845.5,78 2851.5,79.3 2857.5,80.4 2863.5,81.2 2869.5,81.7 2875.5,81.4 2881.5,80.9 2887.5,80.2 2893.5,79.7 2899.5,79.9 2905.5,80.1 2911.5,80.4 2917.5,80.7 2923.5,81.1 2929.5,81.5 2935.5,82.4 2941.5,82.1 2947.5,82.6 2953.5,84.2 2959.5,87.5 2965.5,91.1 2971.5,94.2 2977.5,97.6 2983.5,102.3 2989.5,106.9 2995.5,111.9 3001.5,119.2 3007.5,125.5 3013.5,131.4 3019.5,134.8 3025.5,139.2 3031.5,143.8 3037.5,148.8 3043.5,153.3 3049.5,158 3055.5,162.5 3061.5,165.8 3067.5,169.3 3073.5,172.2 3079.5,175 3085.5,176.7 3091.5,178.1 3097.5,179.1 3103.5,179.4 3109.5,180.8 3115.5,182 3121.5,182.8 3127.5,183.4 3133.5,184.1 3139.5,185 3145.5,185.8 3151.5,186.1 3157.5,185.6 3163.5,185.1 3169.5,184.3 3175.5,183.1 3181.5,182.4 3187.5,181.7 3193.5,180.9 3199.5,180.3 3205.5,178.6 3211.5,176.7 3217.5,175.8 3223.5,174.5 3229.5,172.2 3235.5,170.3" fill="none" stroke="#ff0000" stroke-width="1" />
<polyline points="2245.5,82.4 2251.5,82.4 2257.5,82.4 2263.5,82.5 2269.5,82.6 2275.5,82.7 2281.5,82.9 2287.5,82.6 2293.5,80.2 2299.5,78.2 2305.5,72.7 2311.5,68.4 2317.5,63.7 2323.5,61.3 2329.5,58.8 2335.5,60.3 2341.5,60.8 2347.5,62.5 2353.5,63 2359.5,64.6 2365.5,65.3 2371.5,64.9 2377.5,62.3 2383.5,61 2389.5,58.9 2395.5,56.7 2401.5,54.4 2407.5,53.9 2413.5,53.6 2419.5,52.7 2425.5,52 2431.5,52.5 2437.5,53.2 2443.5,52.9 2449.5,53.3 2455.5,53.7 2461.5,54.3 2467.5,54.1 2473.5,54.2 2479.5,53.5 2485.5,52.3 2491.5,49.9 2497.5,47.9 2503.5,45.4 2509.5,42.1 2515.5,38.7 2521.5,36.1 2527.5,34.5 2533.5,33 2539.5,33.3 2545.5,34.9 2551.5,36.3 2557.5,37 2563.5,39.5 2569.5,40.6 2575.5,42.1 2581.5,45.2 2587.5,49.4 2593.5,50.7 2599.5,54.9 2605.5,60.6 2611.5,64.5 2617.5,66.4 2623.5,69.7 2629.5,70.7 2635.5,69.7 2641.5,69.7 2647.5,70.5 2653.5,70.7 2659.5,72.3 2665.5,74.1 2671.5,73.6 2677.5,73.1 2683.5,72.3 2689.5,68.9 2695.5,64.8 2701.5,61.9 2707.5,58.8 2713.5,56.4 2719.5,56.4 2725.5,58.4 2731.5,61 2737.5,63.8 2743.5,66.4 2749.5,68 2755.5,67.9 2761.5,67.6 2767.5,67.9 2773.5,68.6 2779.5,69.7 2785.5,69.9 2791.5,70.7 2797.5,71.5 2803.5,72 2809.5,72.8 2815.5,74.8 2821.5,76.7 2827.5,78.5 2833.5,79.8 2839.5,80.7 2845.5,81.2 2851.5,82 2857.5,82.3 2863.5,82.5 2869.5,82.7 2875.5,81.7 2881.5,79.7 2887.5,78.2 2893.5,76.9 2899.5,77.1 2905.5,78.6 2911.5,81.1 2917.5,83.2 2923.5,85.3 2929.5,85.9 2935.5,86.2 2941.5,83.1 2947.5,82.1 2953.5,83.1 2959.5,89.1 2965.5,95.9 2971.5,105.3 2977.5,113.1 2983.5,121.5 2989.5,124.7 2995.5,127.9 3001.5,133.2 3007.5,137.9 3013.5,141.3 3019.5,144.9 3025.5,150.6 3031.5,154.4 3037.5,159.7 3043.5,165.3 3049.5,171 3055.5,174.4 3061.5,177.3 3067.5,179 3073.5,179.2 3079.5,179 3085.5,179 3091.5,178.9 3097.5,179.1 3103.5,179.6 3109.5,182.6 3115.5,184.9 3121.5,186.6 3127.5,187.7 3133.5,188.5 3139.5,187.4 3145.5,186.6 3151.5,185.6 3157.5,183.4 3163.5,181.6 3169.5,181.1 3175.5,179.5 3181.5,179.2 3187.5,179.9 3193.5,180.2 3199.5,179.4 3205.5,177.7 3211.5,174.1 3217.5,171.6 3223.5,168.8 3229.5,164.9 3235.5,162.9" fill="none" stroke="#00ff00" stroke-width="1" />
<polyline points="2245.2,82.4 2279,82.4 2292,75.9 2302.4,68.1 2318,66.8 2364.8,66.8 2375.2,61.6 2396,59 2416.9,52.5 2461.1,52.5 2474.1,55.1 2489.7,51.2 2505.3,44.7 2526.1,39.5 2552.1,37.7 2572.9,39.5 2591.1,48.6 2604.1,59 2617.1,62.9 2645.7,65.5 2656.1,73.3 2666.5,75.9 2682.1,69.4 2697.7,65.5 2721.1,62.9 2734.1,66.8 2760.2,68.1 2786.2,70.7 2812.2,74.6 2838.2,75.1 2864.2,79.8 2890.2,78.5 2910,78.5 2921.1,82.4 2939.3,81.1 2953.6,82.4 2960.1,90.2 2986.1,103.2 3001.7,113.6 3006.9,119.9 3009.5,123 3014.7,132.9 3025.1,139.9 3035.5,145.1 3045.9,152.9 3056.3,162 3064.1,163.3 3074.5,167.2 3090.1,175 3100.5,179.7 3116.1,184.1 3142.1,184.1 3157.7,181.5 3168.1,179.7 3204.6,179.7 3212.4,175 3220.2,171.1 3234.5,169.3" fill="none" stroke="#ff0000" stroke-width="3" />
<polyline points="2250.4,66.8 2396,66.8 2427.3,65.5 2448.1,61.6 2474.1,60.3 2500.1,55.1 2515.7,46 2526.1,43.4 2565.1,42.9 2583.3,44.7 2604.1,51.2 2630.1,52.5 2656.1,53.8 2682.1,54.3 2695.1,57.7 2708.1,59 2734.1,66.8 2786.2,68.1 2838.2,68.1 2869.4,74.6 2910,75.1 2934.1,74.6 2949.7,75.1 2953.6,85 2958.8,99.3 2975.7,99.3 2983.5,102.7 2995.2,102.7 3001.7,109.7 3017.3,110.5 3027.7,117.5 3038.1,119.9 3051.1,126.1 3097.9,126.1 3105.7,130.8 3116.1,154.2 3131.7,155.5 3147.3,158.1 3157.7,165.9 3168.1,171.1 3183.7,175 3194.1,178.9 3209.8,178.9 3220.2,173.7 3234.5,172.4" fill="none" stroke="#0000ff" stroke-width="3" />
<line x1="2257.5" y1="81.6" x2="2257.5" y2="89" stroke="#ff0000" stroke-width="1" />
<rect x="2256" y="82.8" width="3" height="4" fill="#ff0000" />
<line x1="2263.5" y1="78.7" x2="2263.5" y2="86.1" stroke="#0000ff" stroke-width="1" />
<rect x="2262" y="79.7" width="3" height="4.3" fill="#0000ff" />
<line x1="2269.5" y1="80.3" x2="2269.5" y2="88.3" stroke="#ff0000" stroke-width="1" />
<rect x="2268" y="83.3" width="3" height="3.3" fill="#ff0000" />
<line x1="2275.5" y1="80.8" x2="2275.5" y2="88.5" stroke="#ff0000" stroke-width="1" />
<rect x="2274" y="82.9" width="3" height="4.4" fill="#ff0000" />
<line x1="2281.5" y1="82" x2="2281.5" y2="87.8" stroke="#ff0000" stroke-width="1" />
<rect x="2280" y="82.6" width="3" height="3.2" fill="#ff0000" />
<line x1="2287.5" y1="79.3" x2="2287.5" y2="87.8" stroke="#ff0000" stroke-width="1" />
<rect x="2286" y="81.9" width="3" height="3.1" fill="#ff0000" />
<line x1="2293.5" y1="68.8" x2="2293.5" y2="82.7" stroke="#ff0000" stroke-width="1" />
<rect x="2292" y="71" width="3" height="10.9" fill="#ff0000" />
<line x1="2299.5" y1="65.6" x2="2299.5" y2="72.3" stroke="#0000ff" stroke-width="1" />
<rect x="2298" y="66.8" width="3" height="4.5" fill="#0000ff" />
<line x1="2305.5" y1="54.5" x2="2305.5" y2="72.1" stroke="#ff0000" stroke-width="1" />
<rect x="2304" y="56.9" width="3" height="14.4" fill="#ff0000" />
<line x1="2311.5" y1="55.8" x2="2311.5" y2="62.2" stroke="#0000ff" stroke-width="1" />
<rect x="2310" y="56.9" width="3" height="4.2" fill="#0000ff" />
<line x1="2317.5" y1="54.3" x2="2317.5" y2="62.3" stroke="#ff0000" stroke-width="1" />
<rect x="2316" y="56.1" width="3" height="4.9" fill="#ff0000" />
<line x1="2323.5" y1="55.2" x2="2323.5" y2="59.5" stroke="#0000ff" stroke-width="1" />
<rect x="2322" y="56.1" width="3" height="2.6" fill="#0000ff" />
<line x1="2329.5" y1="52.2" x2="2329.5" y2="60.7" stroke="#0000ff" stroke-width="1" />
<rect x="2328" y="54.6" width="3" height="4.2" fill="#0000ff" />
<line x1="2335.5" y1="57.9" x2="2335.5" y2="62.4" stroke="#0000ff" stroke-width="1" />
<rect x="2334" y="58.8" width="3" height="2.8" fill="#0000ff" />
<line x1="2341.5" y1="60.3" x2="2341.5" y2="64.7" stroke="#0000ff" stroke-width="1" />
<rect x="2340" y="61.5" width="3" height="2.1" fill="#0000ff" />
<line x1="2347.5" y1="59.8" x2="2347.5" y2="66.7" stroke="#0000ff" stroke-width="1" />
<rect x="2346" y="61.4" width="3" height="3.6" fill="#0000ff" />
<line x1="2353.5" y1="59.4" x2="2353.5" y2="67.5" stroke="#ff0000" stroke-width="1" />
<rect x="2352" y="61.3" width="3" height="3.8" fill="#ff0000" />
<line x1="2359.5" y1="60.6" x2="2359.5" y2="69.1" stroke="#0000ff" stroke-width="1" />
<rect x="2358" y="61.3" width="3" height="6.1" fill="#0000ff" />
<line x1="2365.5" y1="65.2" x2="2365.5" y2="72.6" stroke="#ff0000" stroke-width="1" />
<rect x="2364" y="65.9" width="3" height="4" fill="#ff0000" />
<line x1="2371.5" y1="59.2" x2="2371.5" y2="67.6" stroke="#ff0000" stroke-width="1" />
<rect x="2370" y="61.1" width="3" height="4.9" fill="#ff0000" />
<line x1="2377.5" y1="49.3" x2="2377.5" y2="63.3" stroke="#ff0000" stroke-width="1" />
<rect x="2376" y="52" width="3" height="9.1" fill="#ff0000" />
<line x1="2383.5" y1="48.9" x2="2383.5" y2="54.8" stroke="#0000ff" stroke-width="1" />
<rect x="2382" y="51" width="3" height="3.2" fill="#0000ff" />
<line x1="2389.5" y1="50.5" x2="2389.5" y2="58" stroke="#0000ff" stroke-width="1" />
<rect x="2388" y="52.9" width="3" height="3.5" fill="#0000ff" />
<line x1="2395.5" y1="53.7" x2="2395.5" y2="60.8" stroke="#ff0000" stroke-width="1" />
<rect x="2394" y="54.9" width="3" height="3.3" fill="#ff0000" />
<line x1="2401.5" y1="52.1" x2="2401.5" y2="57.3" stroke="#ff0000" stroke-width="1" />
<rect x="2400" y="52.6" width="3" height="3.2" fill="#ff0000" />
<line x1="2407.5" y1="50.3" x2="2407.5" y2="54.8" stroke="#ff0000" stroke-width="1" />
<rect x="2406" y="51.1" width="3" height="2.8" fill="#ff0000" />
<line x1="2413.5" y1="49" x2="2413.5" y2="55.7" stroke="#0000ff" stroke-width="1" />
<rect x="2412" y="51.1" width="3" height="3.4" fill="#0000ff" />
<line x1="2419.5" y1="50.8" x2="2419.5" y2="60.2" stroke="#ff0000" stroke-width="1" />
<rect x="2418" y="53.7" width="3" height="3.9" fill="#ff0000" />
<line x1="2425.5" y1="48.8" x2="2425.5" y2="58.3" stroke="#ff0000" stroke-width="1" />
<rect x="2424" y="51.6" width="3" height="4" fill="#ff0000" />
<line x1="2431.5" y1="49.6" x2="2431.5" y2="55.9" stroke="#0000ff" stroke-width="1" />
<rect x="2430" y="51.6" width="3" height="2.5" fill="#0000ff" />
<line x1="2437.5" y1="49.1" x2="2437.5" y2="56" stroke="#0000ff" stroke-width="1" />
<rect x="2436" y="51.4" width="3" height="3.6" fill="#0000ff" />
<line x1="2443.5" y1="50.1" x2="2443.5" y2="56.9" stroke="#ff0000" stroke-width="1" />
<rect x="2442" y="51.2" width="3" height="3.7" fill="#ff0000" />
<line x1="2449.5" y1="50.2" x2="2449.5" y2="56.3" stroke="#0000ff" stroke-width="1" />
<rect x="2448" y="51.2" width="3" height="4.1" fill="#0000ff" />
<line x1="2455.5" y1="50.3" x2="2455.5" y2="57.8" stroke="#0000ff" stroke-width="1" />
<rect x="2454" y="53.1" width="3" height="2.2" fill="#0000ff" />
<line x1="2461.5" y1="49.9" x2="2461.5" y2="57.1" stroke="#0000ff" stroke-width="1" />
<rect x="2460" y="52.1" width="3" height="4.5" fill="#0000ff" />
<line x1="2467.5" y1="52.4" x2="2467.5" y2="59.4" stroke="#ff0000" stroke-width="1" />
<rect x="2466" y="54" width="3" height="2.6" fill="#ff0000" />
<line x1="2473.5" y1="51.3" x2="2473.5" y2="54.8" stroke="#0000ff" stroke-width="1" />
<rect x="2472" y="51.9" width="3" height="2.3" fill="#0000ff" />
<line x1="2479.5" y1="51.4" x2="2479.5" y2="57.2" stroke="#ff0000" stroke-width="1" />
<rect x="2478" y="52.5" width="3" height="4" fill="#ff0000" />
<line x1="2485.5" y1="44.6" x2="2485.5" y2="54.8" stroke="#ff0000" stroke-width="1" />
<rect x="2484" y="47.1" width="3" height="5.4" fill="#ff0000" />
<line x1="2491.5" y1="43.6" x2="2491.5" y2="53" stroke="#ff0000" stroke-width="1" />
<rect x="2490" y="46" width="3" height="4.4" fill="#ff0000" />
<line x1="2497.5" y1="40" x2="2497.5" y2="48.6" stroke="#ff0000" stroke-width="1" />
<rect x="2496" y="40.6" width="3" height="5.4" fill="#ff0000" />
<line x1="2503.5" y1="37.5" x2="2503.5" y2="42.5" stroke="#0000ff" stroke-width="1" />
<rect x="2502" y="38.3" width="3" height="2.8" fill="#0000ff" />
<line x1="2509.5" y1="33" x2="2509.5" y2="42.8" stroke="#ff0000" stroke-width="1" />
<rect x="2508" y="34.7" width="3" height="6.5" fill="#ff0000" />
<line x1="2515.5" y1="28.9" x2="2515.5" y2="35.7" stroke="#ff0000" stroke-width="1" />
<rect x="2514" y="29.6" width="3" height="5.1" fill="#ff0000" />
<line x1="2521.5" y1="26.8" x2="2521.5" y2="31.4" stroke="#0000ff" stroke-width="1" />
<rect x="2520" y="28.3" width="3" height="2.3" fill="#0000ff" />
<line x1="2527.5" y1="28.7" x2="2527.5" y2="36.9" stroke="#0000ff" stroke-width="1" />
<rect x="2526" y="30.6" width="3" height="4.7" fill="#0000ff" />
<line x1="2533.5" y1="33" x2="2533.5" y2="36.8" stroke="#ff0000" stroke-width="1" />
<rect x="2532" y="33.5" width="3" height="2.6" fill="#ff0000" />
<line x1="2539.5" y1="32.1" x2="2539.5" y2="37.6" stroke="#0000ff" stroke-width="1" />
<rect x="2538" y="33.5" width="3" height="2.9" fill="#0000ff" />
<line x1="2545.5" y1="33" x2="2545.5" y2="39.2" stroke="#0000ff" stroke-width="1" />
<rect x="2544" y="33.5" width="3" height="4.1" fill="#0000ff" />
<line x1="2551.5" y1="33.3" x2="2551.5" y2="39.4" stroke="#0000ff" stroke-width="1" />
<rect x="2550" y="35.6" width="3" height="2.7" fill="#0000ff" />
<line x1="2557.5" y1="33.6" x2="2557.5" y2="40.3" stroke="#ff0000" stroke-width="1" />
<rect x="2556" y="36.5" width="3" height="2.4" fill="#ff0000" />
<line x1="2563.5" y1="33.6" x2="2563.5" y2="46.8" stroke="#0000ff" stroke-width="1" />
<rect x="2562" y="36.5" width="3" height="8.1" fill="#0000ff" />
<line x1="2569.5" y1="41.1" x2="2569.5" y2="47" stroke="#ff0000" stroke-width="1" />
<rect x="2568" y="43.6" width="3" height="2.8" fill="#ff0000" />
<line x1="2575.5" y1="39.4" x2="2575.5" y2="47.6" stroke="#0000ff" stroke-width="1" />
<rect x="2574" y="41.2" width="3" height="4" fill="#0000ff" />
<line x1="2581.5" y1="42.5" x2="2581.5" y2="54.2" stroke="#0000ff" stroke-width="1" />
<rect x="2580" y="45.2" width="3" height="8.3" fill="#0000ff" />
<line x1="2587.5" y1="52.5" x2="2587.5" y2="60.4" stroke="#0000ff" stroke-width="1" />
<rect x="2586" y="53.5" width="3" height="5.9" fill="#0000ff" />
<line x1="2593.5" y1="52.4" x2="2593.5" y2="61.9" stroke="#ff0000" stroke-width="1" />
<rect x="2592" y="54" width="3" height="5.4" fill="#ff0000" />
<line x1="2599.5" y1="51.6" x2="2599.5" y2="65.1" stroke="#0000ff" stroke-width="1" />
<rect x="2598" y="54" width="3" height="8.4" fill="#0000ff" />
<line x1="2605.5" y1="61.3" x2="2605.5" y2="77.2" stroke="#0000ff" stroke-width="1" />
<rect x="2604" y="62.4" width="3" height="12.6" fill="#0000ff" />
<line x1="2611.5" y1="73.1" x2="2611.5" y2="80.2" stroke="#ff0000" stroke-width="1" />
<rect x="2610" y="74.7" width="3" height="4" fill="#ff0000" />
<line x1="2617.5" y1="64.5" x2="2617.5" y2="75.6" stroke="#ff0000" stroke-width="1" />
<rect x="2616" y="66.9" width="3" height="7.7" fill="#ff0000" />
<line x1="2623.5" y1="65.5" x2="2623.5" y2="69.9" stroke="#0000ff" stroke-width="1" />
<rect x="2622" y="66.4" width="3" height="2.1" fill="#0000ff" />
<line x1="2629.5" y1="66.5" x2="2629.5" y2="72.9" stroke="#ff0000" stroke-width="1" />
<rect x="2628" y="68.1" width="3" height="2.4" fill="#ff0000" />
<line x1="2635.5" y1="64.1" x2="2635.5" y2="71" stroke="#0000ff" stroke-width="1" />
<rect x="2634" y="65.9" width="3" height="2.3" fill="#0000ff" />
<line x1="2641.5" y1="66.3" x2="2641.5" y2="75.2" stroke="#0000ff" stroke-width="1" />
<rect x="2640" y="68.2" width="3" height="6.2" fill="#0000ff" />
<line x1="2647.5" y1="70.5" x2="2647.5" y2="79.6" stroke="#ff0000" stroke-width="1" />
<rect x="2646" y="73.3" width="3" height="4.5" fill="#ff0000" />
<line x1="2653.5" y1="68.4" x2="2653.5" y2="75.8" stroke="#ff0000" stroke-width="1" />
<rect x="2652" y="70.3" width="3" height="2.9" fill="#ff0000" />
<line x1="2659.5" y1="68.6" x2="2659.5" y2="79.3" stroke="#0000ff" stroke-width="1" />
<rect x="2658" y="70.3" width="3" height="7.1" fill="#0000ff" />
<line x1="2665.5" y1="72.7" x2="2665.5" y2="79.1" stroke="#0000ff" stroke-width="1" />
<rect x="2664" y="74.5" width="3" height="3.4" fill="#0000ff" />
<line x1="2671.5" y1="68.1" x2="2671.5" y2="79" stroke="#ff0000" stroke-width="1" />
<rect x="2670" y="70.9" width="3" height="7" fill="#ff0000" />
<line x1="2677.5" y1="66" x2="2677.5" y2="72.6" stroke="#ff0000" stroke-width="1" />
<rect x="2676" y="68.6" width="3" height="2.8" fill="#ff0000" />
<line x1="2683.5" y1="65.1" x2="2683.5" y2="74.6" stroke="#ff0000" stroke-width="1" />
<rect x="2682" y="67.8" width="3" height="4.3" fill="#ff0000" />
<line x1="2689.5" y1="56.4" x2="2689.5" y2="70.3" stroke="#ff0000" stroke-width="1" />
<rect x="2688" y="58" width="3" height="9.8" fill="#ff0000" />
<line x1="2695.5" y1="54.3" x2="2695.5" y2="63.3" stroke="#ff0000" stroke-width="1" />
<rect x="2694" y="56.9" width="3" height="3.5" fill="#ff0000" />
<line x1="2701.5" y1="55.4" x2="2701.5" y2="59.6" stroke="#ff0000" stroke-width="1" />
<rect x="2700" y="56" width="3" height="2.3" fill="#ff0000" />
<line x1="2707.5" y1="51.5" x2="2707.5" y2="58.8" stroke="#ff0000" stroke-width="1" />
<rect x="2706" y="54" width="3" height="2.7" fill="#ff0000" />
<line x1="2713.5" y1="50.2" x2="2713.5" y2="57.7" stroke="#0000ff" stroke-width="1" />
<rect x="2712" y="51.5" width="3" height="4.1" fill="#0000ff" />
<line x1="2719.5" y1="54.4" x2="2719.5" y2="59.1" stroke="#0000ff" stroke-width="1" />
<rect x="2718" y="55.6" width="3" height="2.7" fill="#0000ff" />
<line x1="2725.5" y1="55.6" x2="2725.5" y2="69.1" stroke="#0000ff" stroke-width="1" />
<rect x="2724" y="58.3" width="3" height="10.2" fill="#0000ff" />
<line x1="2731.5" y1="66.4" x2="2731.5" y2="71.4" stroke="#0000ff" stroke-width="1" />
<rect x="2730" y="67.9" width="3" height="2.2" fill="#0000ff" />
<line x1="2737.5" y1="67.6" x2="2737.5" y2="73.9" stroke="#ff0000" stroke-width="1" />
<rect x="2736" y="69.4" width="3" height="3.1" fill="#ff0000" />
<line x1="2743.5" y1="66.7" x2="2743.5" y2="70.5" stroke="#ff0000" stroke-width="1" />
<rect x="2742" y="67.3" width="3" height="2.6" fill="#ff0000" />
<line x1="2749.5" y1="64.9" x2="2749.5" y2="72" stroke="#ff0000" stroke-width="1" />
<rect x="2748" y="67" width="3" height="3.8" fill="#ff0000" />
<line x1="2755.5" y1="64.6" x2="2755.5" y2="69.7" stroke="#0000ff" stroke-width="1" />
<rect x="2754" y="66.2" width="3" height="2.2" fill="#0000ff" />
<line x1="2761.5" y1="64.8" x2="2761.5" y2="72.3" stroke="#ff0000" stroke-width="1" />
<rect x="2760" y="67.1" width="3" height="4.4" fill="#ff0000" />
<line x1="2767.5" y1="63" x2="2767.5" y2="69.7" stroke="#0000ff" stroke-width="1" />
<rect x="2766" y="64.4" width="3" height="4" fill="#0000ff" />
<line x1="2773.5" y1="67.1" x2="2773.5" y2="73.3" stroke="#0000ff" stroke-width="1" />
<rect x="2772" y="68.4" width="3" height="2.9" fill="#0000ff" />
<line x1="2779.5" y1="67.3" x2="2779.5" y2="73.3" stroke="#0000ff" stroke-width="1" />
<rect x="2778" y="67.9" width="3" height="3.5" fill="#0000ff" />
<line x1="2785.5" y1="67.2" x2="2785.5" y2="74.1" stroke="#ff0000" stroke-width="1" />
<rect x="2784" y="68.5" width="3" height="2.9" fill="#ff0000" />
<line x1="2791.5" y1="66.3" x2="2791.5" y2="74.9" stroke="#0000ff" stroke-width="1" />
<rect x="2790" y="68.5" width="3" height="4.9" fill="#0000ff" />
<line x1="2797.5" y1="71" x2="2797.5" y2="76.6" stroke="#ff0000" stroke-width="1" />
<rect x="2796" y="72.2" width="3" height="3.6" fill="#ff0000" />
<line x1="2803.5" y1="70" x2="2803.5" y2="77" stroke="#0000ff" stroke-width="1" />
<rect x="2802" y="72.1" width="3" height="2.5" fill="#0000ff" />
<line x1="2809.5" y1="73.4" x2="2809.5" y2="79.3" stroke="#ff0000" stroke-width="1" />
<rect x="2808" y="74.3" width="3" height="3.6" fill="#ff0000" />
<line x1="2815.5" y1="71.4" x2="2815.5" y2="80.5" stroke="#0000ff" stroke-width="1" />
<rect x="2814" y="74.3" width="3" height="4.9" fill="#0000ff" />
<line x1="2821.5" y1="77.8" x2="2821.5" y2="84.8" stroke="#0000ff" stroke-width="1" />
<rect x="2820" y="79.2" width="3" height="2.7" fill="#0000ff" />
<line x1="2827.5" y1="80.6" x2="2827.5" y2="86.9" stroke="#ff0000" stroke-width="1" />
<rect x="2826" y="81.3" width="3" height="3.7" fill="#ff0000" />
<line x1="2833.5" y1="75.2" x2="2833.5" y2="83.8" stroke="#0000ff" stroke-width="1" />
<rect x="2832" y="77.6" width="3" height="4.3" fill="#0000ff" />
<line x1="2839.5" y1="77.9" x2="2839.5" y2="85.6" stroke="#ff0000" stroke-width="1" />
<rect x="2838" y="80" width="3" height="3.6" fill="#ff0000" />
<line x1="2845.5" y1="75.1" x2="2845.5" y2="83.9" stroke="#0000ff" stroke-width="1" />
<rect x="2844" y="78" width="3" height="3.9" fill="#0000ff" />
<line x1="2851.5" y1="79.5" x2="2851.5" y2="87.6" stroke="#0000ff" stroke-width="1" />
<rect x="2850" y="81.8" width="3" height="4.3" fill="#0000ff" />
<line x1="2857.5" y1="82.2" x2="2857.5" y2="90.3" stroke="#ff0000" stroke-width="1" />
<rect x="2856" y="84.7" width="3" height="2.9" fill="#ff0000" />
<line x1="2863.5" y1="81.5" x2="2863.5" y2="89.7" stroke="#ff0000" stroke-width="1" />
<rect x="2862" y="83.7" width="3" height="4.3" fill="#ff0000" />
<line x1="2869.5" y1="78.3" x2="2869.5" y2="86.5" stroke="#ff0000" stroke-width="1" />
<rect x="2868" y="80.4" width="3" height="3.4" fill="#ff0000" />
<line x1="2875.5" y1="74.8" x2="2875.5" y2="82.7" stroke="#ff0000" stroke-width="1" />
<rect x="2874" y="75.8" width="3" height="4.6" fill="#ff0000" />
<line x1="2881.5" y1="73.1" x2="2881.5" y2="77.3" stroke="#0000ff" stroke-width="1" />
<rect x="2880" y="74" width="3" height="2.5" fill="#0000ff" />
<line x1="2887.5" y1="75" x2="2887.5" y2="82.6" stroke="#ff0000" stroke-width="1" />
<rect x="2886" y="76.1" width="3" height="4.1" fill="#ff0000" />
<line x1="2893.5" y1="72.6" x2="2893.5" y2="79.4" stroke="#ff0000" stroke-width="1" />
<rect x="2892" y="74.5" width="3" height="2.5" fill="#ff0000" />
<line x1="2899.5" y1="72.2" x2="2899.5" y2="83.7" stroke="#0000ff" stroke-width="1" />
<rect x="2898" y="74.5" width="3" height="7.9" fill="#0000ff" />
<line x1="2905.5" y1="79.5" x2="2905.5" y2="84.3" stroke="#0000ff" stroke-width="1" />
<rect x="2904" y="80" width="3" height="3.3" fill="#0000ff" />
<line x1="2911.5" y1="81.1" x2="2911.5" y2="88.1" stroke="#0000ff" stroke-width="1" />
<rect x="2910" y="83.3" width="3" height="3.9" fill="#0000ff" />
<line x1="2917.5" y1="83.4" x2="2917.5" y2="91.5" stroke="#ff0000" stroke-width="1" />
<rect x="2916" y="85.5" width="3" height="4.5" fill="#ff0000" />
<line x1="2923.5" y1="80.9" x2="2923.5" y2="89.1" stroke="#0000ff" stroke-width="1" />
<rect x="2922" y="83.4" width="3" height="3.8" fill="#0000ff" />
<line x1="2929.5" y1="84.6" x2="2929.5" y2="89.9" stroke="#ff0000" stroke-width="1" />
<rect x="2928" y="86.2" width="3" height="2.2" fill="#ff0000" />
<line x1="2935.5" y1="81.5" x2="2935.5" y2="88.2" stroke="#ff0000" stroke-width="1" />
<rect x="2934" y="84.3" width="3" height="2.9" fill="#ff0000" />
<line x1="2941.5" y1="69.7" x2="2941.5" y2="85.2" stroke="#ff0000" stroke-width="1" />
<rect x="2940" y="71" width="3" height="13.2" fill="#ff0000" />
<line x1="2947.5" y1="68.2" x2="2947.5" y2="81.3" stroke="#0000ff" stroke-width="1" />
<rect x="2946" y="71" width="3" height="8.4" fill="#0000ff" />
<line x1="2953.5" y1="77.6" x2="2953.5" y2="90.8" stroke="#0000ff" stroke-width="1" />
<rect x="2952" y="79.4" width="3" height="10.4" fill="#0000ff" />
<line x1="2959.5" y1="87" x2="2959.5" y2="118.9" stroke="#0000ff" stroke-width="1" />
<rect x="2958" y="89.9" width="3" height="26.1" fill="#0000ff" />
<line x1="2965.5" y1="113.5" x2="2965.5" y2="120.5" stroke="#0000ff" stroke-width="1" />
<rect x="2964" y="115.9" width="3" height="2.8" fill="#0000ff" />
<line x1="2971.5" y1="115.2" x2="2971.5" y2="123.2" stroke="#ff0000" stroke-width="1" />
<rect x="2970" y="117.8" width="3" height="3" fill="#ff0000" />
<line x1="2977.5" y1="114.8" x2="2977.5" y2="122" stroke="#0000ff" stroke-width="1" />
<rect x="2976" y="117.8" width="3" height="2.8" fill="#0000ff" />
<line x1="2983.5" y1="118.1" x2="2983.5" y2="136.9" stroke="#0000ff" stroke-width="1" />
<rect x="2982" y="120.6" width="3" height="13.5" fill="#0000ff" />
<line x1="2989.5" y1="132" x2="2989.5" y2="138.9" stroke="#ff0000" stroke-width="1" />
<rect x="2988" y="133.3" width="3" height="4.2" fill="#ff0000" />
<line x1="2995.5" y1="131.6" x2="2995.5" y2="136.6" stroke="#0000ff" stroke-width="1" />
<rect x="2994" y="132.9" width="3" height="2.3" fill="#0000ff" />
<line x1="3001.5" y1="134.2" x2="3001.5" y2="146.7" stroke="#0000ff" stroke-width="1" />
<rect x="3000" y="135.2" width="3" height="9.4" fill="#0000ff" />
<line x1="3007.5" y1="140.8" x2="3007.5" y2="148.3" stroke="#ff0000" stroke-width="1" />
<rect x="3006" y="143.3" width="3" height="2.1" fill="#ff0000" />
<line x1="3013.5" y1="141" x2="3013.5" y2="150" stroke="#0000ff" stroke-width="1" />
<rect x="3012" y="143.3" width="3" height="6" fill="#0000ff" />
<line x1="3019.5" y1="144.9" x2="3019.5" y2="151.3" stroke="#0000ff" stroke-width="1" />
<rect x="3018" y="147" width="3" height="2.4" fill="#0000ff" />
<line x1="3025.5" y1="147.3" x2="3025.5" y2="166.5" stroke="#0000ff" stroke-width="1" />
<rect x="3024" y="149.4" width="3" height="14.7" fill="#0000ff" />
<line x1="3031.5" y1="161.3" x2="3031.5" y2="166.7" stroke="#0000ff" stroke-width="1" />
<rect x="3030" y="162.3" width="3" height="3.5" fill="#0000ff" />
<line x1="3037.5" y1="163.2" x2="3037.5" y2="173.5" stroke="#0000ff" stroke-width="1" />
<rect x="3036" y="165.8" width="3" height="5.6" fill="#0000ff" />
<line x1="3043.5" y1="168.9" x2="3043.5" y2="181.1" stroke="#0000ff" stroke-width="1" />
<rect x="3042" y="171.4" width="3" height="8.2" fill="#0000ff" />
<line x1="3049.5" y1="175.1" x2="3049.5" y2="183.7" stroke="#ff0000" stroke-width="1" />
<rect x="3048" y="177.9" width="3" height="3.1" fill="#ff0000" />
<line x1="3055.5" y1="174.9" x2="3055.5" y2="181.4" stroke="#0000ff" stroke-width="1" />
<rect x="3054" y="176.6" width="3" height="2" fill="#0000ff" />
<line x1="3061.5" y1="175.4" x2="3061.5" y2="181.1" stroke="#0000ff" stroke-width="1" />
<rect x="3060" y="176" width="3" height="4.1" fill="#0000ff" />
<line x1="3067.5" y1="178.5" x2="3067.5" y2="185.8" stroke="#ff0000" stroke-width="1" />
<rect x="3066" y="179.8" width="3" height="3.1" fill="#ff0000" />
<line x1="3073.5" y1="174.7" x2="3073.5" y2="182.8" stroke="#ff0000" stroke-width="1" />
<rect x="3072" y="177.4" width="3" height="3.2" fill="#ff0000" />
<line x1="3079.5" y1="174.8" x2="3079.5" y2="182.4" stroke="#0000ff" stroke-width="1" />
<rect x="3078" y="176.7" width="3" height="2.7" fill="#0000ff" />
<line x1="3085.5" y1="176" x2="3085.5" y2="183" stroke="#ff0000" stroke-width="1" />
<rect x="3084" y="179" width="3" height="3.1" fill="#ff0000" />
<line x1="3091.5" y1="174.1" x2="3091.5" y2="182.1" stroke="#0000ff" stroke-width="1" />
<rect x="3090" y="175.2" width="3" height="3.9" fill="#0000ff" />
<line x1="3097.5" y1="175.7" x2="3097.5" y2="183.7" stroke="#0000ff" stroke-width="1" />
<rect x="3096" y="178.6" width="3" height="2.3" fill="#0000ff" />
<line x1="3103.5" y1="176.9" x2="3103.5" y2="183.4" stroke="#0000ff" stroke-width="1" />
<rect x="3102" y="179.4" width="3" height="2.1" fill="#0000ff" />
<line x1="3109.5" y1="180.7" x2="3109.5" y2="195.5" stroke="#0000ff" stroke-width="1" />
<rect x="3108" y="181.4" width="3" height="12.3" fill="#0000ff" />
<line x1="3115.5" y1="192" x2="3115.5" y2="198.1" stroke="#ff0000" stroke-width="1" />
<rect x="3114" y="192.9" width="3" height="3.8" fill="#ff0000" />
<line x1="3121.5" y1="184.9" x2="3121.5" y2="195.9" stroke="#ff0000" stroke-width="1" />
<rect x="3120" y="186.5" width="3" height="6.4" fill="#ff0000" />
<line x1="3127.5" y1="182.8" x2="3127.5" y2="187.7" stroke="#0000ff" stroke-width="1" />
<rect x="3126" y="184.9" width="3" height="2" fill="#0000ff" />
<line x1="3133.5" y1="183.8" x2="3133.5" y2="192.7" stroke="#ff0000" stroke-width="1" />
<rect x="3132" y="186.6" width="3" height="3.3" fill="#ff0000" />
<line x1="3139.5" y1="185.8" x2="3139.5" y2="191.3" stroke="#0000ff" stroke-width="1" />
<rect x="3138" y="186.5" width="3" height="2.4" fill="#0000ff" />
<line x1="3145.5" y1="186.3" x2="3145.5" y2="193.4" stroke="#ff0000" stroke-width="1" />
<rect x="3144" y="187.9" width="3" height="3.9" fill="#ff0000" />
<line x1="3151.5" y1="180.8" x2="3151.5" y2="189.7" stroke="#ff0000" stroke-width="1" />
<rect x="3150" y="182.3" width="3" height="5.6" fill="#ff0000" />
<line x1="3157.5" y1="172.3" x2="3157.5" y2="182.9" stroke="#ff0000" stroke-width="1" />
<rect x="3156" y="174.4" width="3" height="7.8" fill="#ff0000" />
<line x1="3163.5" y1="170.5" x2="3163.5" y2="178.9" stroke="#0000ff" stroke-width="1" />
<rect x="3162" y="172.7" width="3" height="3.5" fill="#0000ff" />
<line x1="3169.5" y1="173.2" x2="3169.5" y2="187" stroke="#0000ff" stroke-width="1" />
<rect x="3168" y="176.1" width="3" height="8.6" fill="#0000ff" />
<line x1="3175.5" y1="177.6" x2="3175.5" y2="186.1" stroke="#ff0000" stroke-width="1" />
<rect x="3174" y="179.5" width="3" height="5.2" fill="#ff0000" />
<line x1="3181.5" y1="175.9" x2="3181.5" y2="182.1" stroke="#0000ff" stroke-width="1" />
<rect x="3180" y="178.6" width="3" height="2.1" fill="#0000ff" />
<line x1="3187.5" y1="175.9" x2="3187.5" y2="182" stroke="#ff0000" stroke-width="1" />
<rect x="3186" y="176.6" width="3" height="4.1" fill="#ff0000" />
<line x1="3193.5" y1="171.3" x2="3193.5" y2="179.7" stroke="#0000ff" stroke-width="1" />
<rect x="3192" y="172.8" width="3" height="4.1" fill="#0000ff" />
<line x1="3199.5" y1="175.5" x2="3199.5" y2="183.4" stroke="#0000ff" stroke-width="1" />
<rect x="3198" y="176.9" width="3" height="3.7" fill="#0000ff" />
<line x1="3205.5" y1="169.6" x2="3205.5" y2="181.3" stroke="#ff0000" stroke-width="1" />
<rect x="3204" y="172.4" width="3" height="8.1" fill="#ff0000" />
<line x1="3211.5" y1="158.5" x2="3211.5" y2="173.8" stroke="#ff0000" stroke-width="1" />
<rect x="3210" y="160.7" width="3" height="11.7" fill="#ff0000" />
<line x1="3217.5" y1="160" x2="3217.5" y2="165.9" stroke="#0000ff" stroke-width="1" />
<rect x="3216" y="160.7" width="3" height="3.9" fill="#0000ff" />
<line x1="3223.5" y1="159.8" x2="3223.5" y2="167.3" stroke="#ff0000" stroke-width="1" />
<rect x="3222" y="162.7" width="3" height="3.7" fill="#ff0000" />
<line x1="3229.5" y1="156.8" x2="3229.5" y2="165.9" stroke="#0000ff" stroke-width="1" />
<rect x="3228" y="159.5" width="3" height="3.5" fill="#0000ff" />
<polyline points="2245.2,53.8 2250.4,48.6 2260.8,53.3 2273.8,51.2 2292,51.2 2305,55.1 2318,51.2 2331,44.7 2344,39.5 2354.4,33 2362.2,29.1 2372.6,30.4 2380.4,35.6 2390.8,37.7 2406.4,38.7 2413,47.3 2419.5,42.1 2427.3,50.7 2433.8,56.4 2445.5,60.3 2453.3,70.7 2463.7,72 2474.1,69.4 2487.1,72 2500.1,69.4 2513.1,77.2 2520.9,73.3 2528.7,66.8 2539.1,56.4 2549.5,55.1 2557.3,52.5 2566.4,50.7 2571.6,61.6 2578.1,69.4 2588.5,68.1 2601.5,68.1 2609.3,70.7 2622.3,72 2632.7,65.5 2640.5,70.7 2650.9,73.3 2661.3,78.5 2669.1,81.1 2682.1,79.8 2692.5,81.1 2701.6,85.5 2710.7,82.4 2721.1,80.3 2728.9,75.9 2736.7,77.2 2743.3,74.6 2749.8,78.5 2760.2,85 2773.2,87.1 2783.6,86.3 2788.8,79.8 2792.7,65.5 2796.6,73.3 2801.8,87.6 2807,105.8 2809.6,119.9 2811.8,116.5 2819.6,119.1 2827.4,119.1 2832.6,130.8 2840.4,125.6 2850.8,143.8 2856,142.5 2869.1,150.3 2876.9,163.3 2882.1,162 2892.5,175 2900.3,177.1 2905.5,180.2 2912,176.3 2918.5,180.2 2928.9,178.1 2936.7,180.7 2947.1,176.3 2960.1,193.2 2967.9,188 2978.3,184.1 2988.7,188.5 2999.1,182.8 3009.5,176.3 3014.7,177.1 3021.2,186.7 3027.7,182.8 3035.5,177.1 3048.5,177.1 3053.7,172.4 3061.5,162 3066.7,164.6 3075.8,162 3084.9,161.2" fill="none" stroke="#008000" stroke-width="3" />
<rect x="2244" y="294.1" width="3" height="2.9" fill="#008c00" />
<rect x="2250" y="295.2" width="3" height="1.8" fill="#008c00" />
<rect x="2256" y="296" width="3" height="1" fill="#008c00" />
<rect x="2262" y="296" width="3" height="1" fill="#008c00" />
<rect x="2268" y="296" width="3" height="1" fill="#008c00" />
<rect x="2292" y="277.8" width="3" height="19.2" fill="#008c00" />
<rect x="2298" y="279.8" width="3" height="17.2" fill="#008c00" />
<rect x="2304" y="275.9" width="3" height="21.1" fill="#008c00" />
<rect x="2310" y="284.8" width="3" height="12.2" fill="#008c00" />
<rect x="2316" y="289.7" width="3" height="7.3" fill="#008c00" />
<rect x="2322" y="292.8" width="3" height="4.2" fill="#008c00" />
<rect x="2328" y="294.9" width="3" height="2.1" fill="#008c00" />
<rect x="2334" y="289.7" width="3" height="7.3" fill="#008c00" />
<rect x="2340" y="287.9" width="3" height="9.1" fill="#008c00" />
<rect x="2346" y="293.9" width="3" height="3.1" fill="#008c00" />
<rect x="2352" y="289.7" width="3" height="7.3" fill="#008c00" />
<rect x="2358" y="286.9" width="3" height="10.1" fill="#008c00" />
<rect x="2364" y="288.7" width="3" height="8.3" fill="#008c00" />
<rect x="2370" y="294.9" width="3" height="2.1" fill="#008c00" />
<rect x="2376" y="291.8" width="3" height="5.2" fill="#008c00" />
<rect x="2382" y="292.8" width="3" height="4.2" fill="#008c00" />
<rect x="2388" y="293.9" width="3" height="3.1" fill="#008c00" />
<rect x="2394" y="296" width="3" height="1" fill="#008c00" />
<rect x="2400" y="293.9" width="3" height="3.1" fill="#008c00" />
<rect x="2406" y="292.8" width="3" height="4.2" fill="#008c00" />
<rect x="2412" y="294.9" width="3" height="2.1" fill="#008c00" />
<rect x="2418" y="294.9" width="3" height="2.1" fill="#008c00" />
<rect x="2424" y="294.9" width="3" height="2.1" fill="#008c00" />
<rect x="2430" y="296" width="3" height="1" fill="#008c00" />
<rect x="2436" y="296" width="3" height="1" fill="#008c00" />
<rect x="2448" y="294.9" width="3" height="2.1" fill="#008c00" />
<rect x="2454" y="294.9" width="3" height="2.1" fill="#008c00" />
<rect x="2460" y="294.9" width="3" height="2.1" fill="#008c00" />
<rect x="2466" y="296" width="3" height="1" fill="#008c00" />
<rect x="2472" y="296" width="3" height="1" fill="#008c00" />
<rect x="2478" y="296" width="3" height="1" fill="#008c00" />
<rect x="2484" y="296" width="3" height="1" fill="#008c00" />
<rect x="2490" y="296" width="3" height="1" fill="#008c00" />
<rect x="2496" y="296" width="3" height="1" fill="#008c00" />
<rect x="2508" y="273.9" width="3" height="23.1" fill="#008c00" />
<rect x="2514" y="287.9" width="3" height="9.1" fill="#008c00" />
<rect x="2520" y="290.8" width="3" height="6.2" fill="#008c00" />
<rect x="2526" y="288.7" width="3" height="8.3" fill="#008c00" />
<rect x="2532" y="290.8" width="3" height="6.2" fill="#008c00" />
<rect x="2538" y="292.8" width="3" height="4.2" fill="#008c00" />
<rect x="2544" y="294.9" width="3" height="2.1" fill="#008c00" />
<rect x="2550" y="284.8" width="3" height="12.2" fill="#008c00" />
<rect x="2556" y="289.7" width="3" height="7.3" fill="#008c00" />
<rect x="2562" y="290.8" width="3" height="6.2" fill="#008c00" />
<rect x="2568" y="291.8" width="3" height="5.2" fill="#008c00" />
<rect x="2574" y="284.8" width="3" height="12.2" fill="#008c00" />
<rect x="2580" y="287.9" width="3" height="9.1" fill="#008c00" />
<rect x="2586" y="294.9" width="3" height="2.1" fill="#008c00" />
<rect x="2592" y="289.7" width="3" height="7.3" fill="#008c00" />
<rect x="2598" y="292.8" width="3" height="4.2" fill="#008c00" />
<rect x="2604" y="283" width="3" height="14" fill="#008c00" />
<rect x="2610" y="293.9" width="3" height="3.1" fill="#008c00" />
<rect x="2616" y="294.9" width="3" height="2.1" fill="#008c00" />
<rect x="2622" y="293.9" width="3" height="3.1" fill="#008c00" />
<rect x="2628" y="294.9" width="3" height="2.1" fill="#008c00" />
<rect x="2634" y="296" width="3" height="1" fill="#008c00" />
<rect x="2640" y="294.9" width="3" height="2.1" fill="#008c00" />
<rect x="2646" y="294.9" width="3" height="2.1" fill="#008c00" />
<rect x="2652" y="296" width="3" height="1" fill="#008c00" />
<rect x="2658" y="293.9" width="3" height="3.1" fill="#008c00" />
<rect x="2664" y="292.8" width="3" height="4.2" fill="#008c00" />
<rect x="2670" y="291.8" width="3" height="5.2" fill="#008c00" />
<rect x="2676" y="294.9" width="3" height="2.1" fill="#008c00" />
<rect x="2682" y="294.9" width="3" height="2.1" fill="#008c00" />
<rect x="2688" y="294.9" width="3" height="2.1" fill="#008c00" />
<rect x="2694" y="296" width="3" height="1" fill="#008c00" />
<rect x="2724" y="280.9" width="3" height="16.1" fill="#008c00" />
<rect x="2730" y="285.8" width="3" height="11.2" fill="#008c00" />
<rect x="2736" y="290.8" width="3" height="6.2" fill="#008c00" />
<rect x="2742" y="291.8" width="3" height="5.2" fill="#008c00" />
<rect x="2748" y="292.8" width="3" height="4.2" fill="#008c00" />
<rect x="2754" y="294.9" width="3" height="2.1" fill="#008c00" />
<rect x="2760" y="294.9" width="3" height="2.1" fill="#008c00" />
<rect x="2766" y="290.8" width="3" height="6.2" fill="#008c00" />
<rect x="2772" y="292.8" width="3" height="4.2" fill="#008c00" />
<rect x="2778" y="291.8" width="3" height="5.2" fill="#008c00" />
<rect x="2784" y="288.7" width="3" height="8.3" fill="#008c00" />
<rect x="2790" y="286.9" width="3" height="10.1" fill="#008c00" />
<rect x="2796" y="291.8" width="3" height="5.2" fill="#008c00" />
<rect x="2802" y="294.9" width="3" height="2.1" fill="#008c00" />
<rect x="2808" y="290.8" width="3" height="6.2" fill="#008c00" />
<rect x="2814" y="292.8" width="3" height="4.2" fill="#008c00" />
<rect x="2820" y="294.9" width="3" height="2.1" fill="#008c00" />
<rect x="2826" y="292.8" width="3" height="4.2" fill="#008c00" />
<rect x="2832" y="296" width="3" height="1" fill="#008c00" />
<rect x="2838" y="296" width="3" height="1" fill="#008c00" />
<rect x="2844" y="296" width="3" height="1" fill="#008c00" />
<rect x="2850" y="294.9" width="3" height="2.1" fill="#008c00" />
<rect x="2856" y="293.9" width="3" height="3.1" fill="#008c00" />
<rect x="2862" y="296" width="3" height="1" fill="#008c00" />
<rect x="2868" y="296" width="3" height="1" fill="#008c00" />
<rect x="2874" y="294.9" width="3" height="2.1" fill="#008c00" />
<rect x="2880" y="293.9" width="3" height="3.1" fill="#008c00" />
<rect x="2886" y="296" width="3" height="1" fill="#008c00" />
<rect x="2892" y="296" width="3" height="1" fill="#008c00" />
<rect x="2898" y="296" width="3" height="1" fill="#008c00" />
<rect x="2904" y="294.9" width="3" height="2.1" fill="#008c00" />
<rect x="2910" y="294.9" width="3" height="2.1" fill="#008c00" />
<rect x="2940" y="279.8" width="3" height="17.2" fill="#008c00" />
<rect x="2946" y="288.7" width="3" height="8.3" fill="#008c00" />
<rect x="2952" y="277" width="3" height="20" fill="#008c00" />
<rect x="2958" y="240" width="3" height="57" fill="#008c00" />
<rect x="2964" y="287.9" width="3" height="9.1" fill="#008c00" />
<rect x="2970" y="293.9" width="3" height="3.1" fill="#008c00" />
<rect x="2976" y="293.9" width="3" height="3.1" fill="#008c00" />
<rect x="2982" y="275.9" width="3" height="21.1" fill="#008c00" />
<rect x="2988" y="284.8" width="3" height="12.2" fill="#008c00" />
<rect x="2994" y="287.9" width="3" height="9.1" fill="#008c00" />
<rect x="3000" y="277" width="3" height="20" fill="#008c00" />
<rect x="3006" y="285.8" width="3" height="11.2" fill="#008c00" />
<rect x="3012" y="283.7" width="3" height="13.3" fill="#008c00" />
<rect x="3018" y="294.9" width="3" height="2.1" fill="#008c00" />
<rect x="3024" y="284.8" width="3" height="12.2" fill="#008c00" />
<rect x="3030" y="290.8" width="3" height="6.2" fill="#008c00" />
<rect x="3036" y="287.9" width="3" height="9.1" fill="#008c00" />
<rect x="3042" y="287.9" width="3" height="9.1" fill="#008c00" />
<rect x="3048" y="291.8" width="3" height="5.2" fill="#008c00" />
<rect x="3054" y="291.8" width="3" height="5.2" fill="#008c00" />
<rect x="3060" y="293.9" width="3" height="3.1" fill="#008c00" />
<rect x="3066" y="296" width="3" height="1" fill="#008c00" />
<rect x="3072" y="296" width="3" height="1" fill="#008c00" />
<rect x="3078" y="294.9" width="3" height="2.1" fill="#008c00" />
<rect x="3084" y="293.9" width="3" height="3.1" fill="#008c00" />
<rect x="3090" y="296" width="3" height="1" fill="#008c00" />
<rect x="3096" y="292.8" width="3" height="4.2" fill="#008c00" />
<rect x="3102" y="292.8" width="3" height="4.2" fill="#008c00" />
<rect x="3108" y="290.8" width="3" height="6.2" fill="#008c00" />
<rect x="3114" y="293.9" width="3" height="3.1" fill="#008c00" />
<rect x="3120" y="294.9" width="3" height="2.1" fill="#008c00" />
<rect x="3126" y="296" width="3" height="1" fill="#008c00" />
<rect x="3138" y="296" width="3" height="1" fill="#008c00" />
<rect x="3144" y="296" width="3" height="1" fill="#008c00" />
<rect x="3156" y="270" width="3" height="27" fill="#008c00" />
<rect x="3162" y="283" width="3" height="14" fill="#008c00" />
<rect x="3168" y="281.9" width="3" height="15.1" fill="#008c00" />
<rect x="3174" y="278.8" width="3" height="18.2" fill="#008c00" />
<rect x="3180" y="288.7" width="3" height="8.3" fill="#008c00" />
<rect x="3186" y="293.9" width="3" height="3.1" fill="#008c00" />
<rect x="3192" y="290.8" width="3" height="6.2" fill="#008c00" />
<rect x="3198" y="285.8" width="3" height="11.2" fill="#008c00" />
<rect x="3204" y="285.8" width="3" height="11.2" fill="#008c00" />
<rect x="3210" y="278.8" width="3" height="18.2" fill="#008c00" />
<rect x="3216" y="277.8" width="3" height="19.2" fill="#008c00" />
<rect x="3222" y="284.8" width="3" height="12.2" fill="#008c00" />
<rect x="3228" y="289.7" width="3" height="7.3" fill="#008c00" />
<rect x="3234" y="296" width="3" height="1" fill="#008c00" />
<line x1="2244" y1="297.5" x2="3238" y2="297.5" stroke="#000" stroke-width="1" />
<line x1="2246" y1="344.5" x2="3238" y2="344.5" stroke="#808080" stroke-width="1" />
<line x1="2293.5" y1="344.5" x2="2293.5" y2="343.2" stroke="#ff0000" stroke-width="1" />
<line x1="2299.5" y1="344.5" x2="2299.5" y2="341.4" stroke="#ff0000" stroke-width="1" />
<line x1="2305.5" y1="344.5" x2="2305.5" y2="339.3" stroke="#ff0000" stroke-width="1" />
<line x1="2311.5" y1="344.5" x2="2311.5" y2="338" stroke="#ff0000" stroke-width="1" />
<line x1="2317.5" y1="344.5" x2="2317.5" y2="338" stroke="#ff0000" stroke-width="1" />
<line x1="2323.5" y1="344.5" x2="2323.5" y2="339.3" stroke="#ff0000" stroke-width="1" />
<line x1="2329.5" y1="344.5" x2="2329.5" y2="339.3" stroke="#ff0000" stroke-width="1" />
<line x1="2335.5" y1="344.5" x2="2335.5" y2="340.1" stroke="#ff0000" stroke-width="1" />
<line x1="2341.5" y1="344.5" x2="2341.5" y2="340.9" stroke="#ff0000" stroke-width="1" />
<line x1="2347.5" y1="344.5" x2="2347.5" y2="340.9" stroke="#ff0000" stroke-width="1" />
<line x1="2509.5" y1="344.5" x2="2509.5" y2="343.2" stroke="#ff0000" stroke-width="1" />
<line x1="2515.5" y1="344.5" x2="2515.5" y2="342.2" stroke="#ff0000" stroke-width="1" />
<line x1="2521.5" y1="344.5" x2="2521.5" y2="341.9" stroke="#ff0000" stroke-width="1" />
<line x1="2527.5" y1="344.5" x2="2527.5" y2="342.2" stroke="#ff0000" stroke-width="1" />
<line x1="2533.5" y1="344.5" x2="2533.5" y2="343.2" stroke="#ff0000" stroke-width="1" />
<line x1="2563.5" y1="344.5" x2="2563.5" y2="346.1" stroke="#ff0000" stroke-width="1" />
<line x1="2569.5" y1="344.5" x2="2569.5" y2="346.6" stroke="#ff0000" stroke-width="1" />
<line x1="2575.5" y1="344.5" x2="2575.5" y2="347.4" stroke="#ff0000" stroke-width="1" />
<line x1="2581.5" y1="344.5" x2="2581.5" y2="347.9" stroke="#ff0000" stroke-width="1" />
<line x1="2587.5" y1="344.5" x2="2587.5" y2="349.2" stroke="#ff0000" stroke-width="1" />
<line x1="2593.5" y1="344.5" x2="2593.5" y2="348.4" stroke="#ff0000" stroke-width="1" />
<line x1="2599.5" y1="344.5" x2="2599.5" y2="349.2" stroke="#ff0000" stroke-width="1" />
<line x1="2605.5" y1="344.5" x2="2605.5" y2="350.5" stroke="#ff0000" stroke-width="1" />
<line x1="2611.5" y1="344.5" x2="2611.5" y2="351" stroke="#ff0000" stroke-width="1" />
<line x1="2617.5" y1="344.5" x2="2617.5" y2="350" stroke="#ff0000" stroke-width="1" />
<line x1="2623.5" y1="344.5" x2="2623.5" y2="350" stroke="#ff0000" stroke-width="1" />
<line x1="2629.5" y1="344.5" x2="2629.5" y2="349.2" stroke="#ff0000" stroke-width="1" />
<line x1="2635.5" y1="344.5" x2="2635.5" y2="348.4" stroke="#ff0000" stroke-width="1" />
<line x1="2641.5" y1="344.5" x2="2641.5" y2="347.4" stroke="#ff0000" stroke-width="1" />
<line x1="2647.5" y1="344.5" x2="2647.5" y2="346.6" stroke="#ff0000" stroke-width="1" />
<line x1="2653.5" y1="344.5" x2="2653.5" y2="346.1" stroke="#ff0000" stroke-width="1" />
<line x1="2659.5" y1="344.5" x2="2659.5" y2="345.5" stroke="#ff0000" stroke-width="1" />
<line x1="2665.5" y1="344.5" x2="2665.5" y2="345.3" stroke="#ff0000" stroke-width="1" />
<line x1="2689.5" y1="344.5" x2="2689.5" y2="341.9" stroke="#ff0000" stroke-width="1" />
<line x1="2695.5" y1="344.5" x2="2695.5" y2="340.9" stroke="#ff0000" stroke-width="1" />
<line x1="2701.5" y1="344.5" x2="2701.5" y2="340.9" stroke="#ff0000" stroke-width="1" />
<line x1="2707.5" y1="344.5" x2="2707.5" y2="340.6" stroke="#ff0000" stroke-width="1" />
<line x1="2713.5" y1="344.5" x2="2713.5" y2="340.1" stroke="#ff0000" stroke-width="1" />
<line x1="2719.5" y1="344.5" x2="2719.5" y2="340.1" stroke="#ff0000" stroke-width="1" />
<line x1="2725.5" y1="344.5" x2="2725.5" y2="341.9" stroke="#ff0000" stroke-width="1" />
<line x1="2959.5" y1="344.5" x2="2959.5" y2="346.6" stroke="#ff0000" stroke-width="1" />
<line x1="2965.5" y1="344.5" x2="2965.5" y2="349.2" stroke="#ff0000" stroke-width="1" />
<line x1="2971.5" y1="344.5" x2="2971.5" y2="350.5" stroke="#ff0000" stroke-width="1" />
<line x1="2977.5" y1="344.5" x2="2977.5" y2="351" stroke="#ff0000" stroke-width="1" />
<line x1="2983.5" y1="344.5" x2="2983.5" y2="351.3" stroke="#ff0000" stroke-width="1" />
<line x1="2989.5" y1="344.5" x2="2989.5" y2="351.8" stroke="#ff0000" stroke-width="1" />
<line x1="2995.5" y1="344.5" x2="2995.5" y2="351.8" stroke="#ff0000" stroke-width="1" />
<line x1="3001.5" y1="344.5" x2="3001.5" y2="352.6" stroke="#ff0000" stroke-width="1" />
<line x1="3007.5" y1="344.5" x2="3007.5" y2="351.8" stroke="#ff0000" stroke-width="1" />
<line x1="3013.5" y1="344.5" x2="3013.5" y2="351.3" stroke="#ff0000" stroke-width="1" />
<line x1="3019.5" y1="344.5" x2="3019.5" y2="351" stroke="#ff0000" stroke-width="1" />
<line x1="3025.5" y1="344.5" x2="3025.5" y2="350.5" stroke="#ff0000" stroke-width="1" />
<line x1="3031.5" y1="344.5" x2="3031.5" y2="351.3" stroke="#ff0000" stroke-width="1" />
<line x1="3037.5" y1="344.5" x2="3037.5" y2="351.8" stroke="#ff0000" stroke-width="1" />
<line x1="3043.5" y1="344.5" x2="3043.5" y2="351.8" stroke="#ff0000" stroke-width="1" />
<line x1="3049.5" y1="344.5" x2="3049.5" y2="350.5" stroke="#ff0000" stroke-width="1" />
<line x1="3055.5" y1="344.5" x2="3055.5" y2="349.7" stroke="#ff0000" stroke-width="1" />
<line x1="3061.5" y1="344.5" x2="3061.5" y2="348.4" stroke="#ff0000" stroke-width="1" />
<line x1="3067.5" y1="344.5" x2="3067.5" y2="347.1" stroke="#ff0000" stroke-width="1" />
<line x1="3073.5" y1="344.5" x2="3073.5" y2="345.8" stroke="#ff0000" stroke-width="1" />
<line x1="3097.5" y1="344.5" x2="3097.5" y2="342.2" stroke="#ff0000" stroke-width="1" />
<line x1="3103.5" y1="344.5" x2="3103.5" y2="342.2" stroke="#ff0000" stroke-width="1" />
<line x1="3109.5" y1="344.5" x2="3109.5" y2="343.2" stroke="#ff0000" stroke-width="1" />
<line x1="3115.5" y1="344.5" x2="3115.5" y2="343.2" stroke="#ff0000" stroke-width="1" />
<line x1="3121.5" y1="344.5" x2="3121.5" y2="341.9" stroke="#ff0000" stroke-width="1" />
<line x1="3127.5" y1="344.5" x2="3127.5" y2="340.9" stroke="#ff0000" stroke-width="1" />
<line x1="3133.5" y1="344.5" x2="3133.5" y2="340.9" stroke="#ff0000" stroke-width="1" />
<line x1="3139.5" y1="344.5" x2="3139.5" y2="340.9" stroke="#ff0000" stroke-width="1" />
<line x1="3145.5" y1="344.5" x2="3145.5" y2="340.1" stroke="#ff0000" stroke-width="1" />
<line x1="3151.5" y1="344.5" x2="3151.5" y2="340.1" stroke="#ff0000" stroke-width="1" />
<line x1="3157.5" y1="344.5" x2="3157.5" y2="339.3" stroke="#ff0000" stroke-width="1" />
<line x1="3163.5" y1="344.5" x2="3163.5" y2="338.3" stroke="#ff0000" stroke-width="1" />
<line x1="3169.5" y1="344.5" x2="3169.5" y2="338.8" stroke="#ff0000" stroke-width="1" />
<line x1="3175.5" y1="344.5" x2="3175.5" y2="338.8" stroke="#ff0000" stroke-width="1" />
<line x1="3181.5" y1="344.5" x2="3181.5" y2="338.8" stroke="#ff0000" stroke-width="1" />
<line x1="3187.5" y1="344.5" x2="3187.5" y2="339.3" stroke="#ff0000" stroke-width="1" />
<line x1="3193.5" y1="344.5" x2="3193.5" y2="339.3" stroke="#ff0000" stroke-width="1" />
<line x1="3199.5" y1="344.5" x2="3199.5" y2="339.3" stroke="#ff0000" stroke-width="1" />
<line x1="3205.5" y1="344.5" x2="3205.5" y2="338.8" stroke="#ff0000" stroke-width="1" />
<line x1="3211.5" y1="344.5" x2="3211.5" y2="337" stroke="#ff0000" stroke-width="1" />
<line x1="3217.5" y1="344.5" x2="3217.5" y2="337" stroke="#ff0000" stroke-width="1" />
<line x1="3223.5" y1="344.5" x2="3223.5" y2="338" stroke="#ff0000" stroke-width="1" />
<line x1="3229.5" y1="344.5" x2="3229.5" y2="338" stroke="#ff0000" stroke-width="1" />
<line x1="3235.5" y1="344.5" x2="3235.5" y2="338" stroke="#ff0000" stroke-width="1" />
<polyline points="2245.2,358.5 2266,357.7 2286.8,355.9 2297.2,352 2307.6,347.6 2318,343.7 2333.6,341.6 2349.2,341.1 2370,341.6 2385.6,339.5 2406.4,336.9 2427.3,336.4 2448.1,336.9 2466.3,338.5 2489.7,337.7 2505.3,334.6 2520.9,331.7 2533.9,332.5 2552.1,334.3 2570.3,338.5 2585.9,342.9 2598.9,346.8 2609.3,350.7 2622.3,354.1 2635.3,355.9 2656.1,356.4 2669.1,356.7 2682.1,354.6 2695.1,349.4 2708.1,346.8 2721.1,344.2 2734.1,346.8 2749.8,347.6 2770.6,348.9 2786.2,348.1 2801.8,349.4 2822.6,351.5 2838.2,352 2859,352.8 2874.6,350.7 2890.2,348.9 2900.6,348.4 2910,349.4 2928.9,351.5 2947.1,348.1 2954.9,349.4 2965.3,357.2 2986.1,366.3 3012.1,374.1 3038.1,381.9 3056.3,386.3 3069.3,384.5 3090.1,380.6 3105.7,378 3126.5,375.4 3142.1,371.5 3162.9,363.7 3183.7,359.8 3202,354.6 3209.8,350.7 3225.4,346.3 3234.5,342.9" fill="none" stroke="#ffff00" stroke-width="1" />
<polyline points="2245.2,355.4 2266,357.2 2286.8,357.2 2305,354.1 2323.2,349.4 2338.8,346.3 2354.4,343.7 2375.2,342.9 2396,341.1 2411.7,338.5 2432.5,337.2 2463.7,337.7 2489.7,338 2510.5,335.9 2526.1,333.8 2541.7,333.3 2554.7,333.8 2578.1,336.4 2596.3,340.3 2614.5,346.3 2630.1,350.7 2645.7,353.3 2666.5,355.4 2682.1,355.1 2697.7,352.5 2713.3,349.9 2723.7,347.6 2749.8,347.6 2775.8,348.1 2801.8,348.9 2827.8,350.7 2853.8,352 2874.6,351.5 2890.2,350.2 2910,349.9 2934.1,349.9 2949.7,348.9 2960.1,350.7 2986.1,358.5 3012.1,367.1 3038.1,375.4 3064.1,381.9 3090.1,382.4 3116.1,380.1 3142.1,375.4 3168.1,368.9 3194.1,362.4 3215,355.9 3234.5,349.9" fill="none" stroke="#0000ff" stroke-width="1" />
<line x1="2246" y1="433.5" x2="3236" y2="433.5" stroke="#0000ff" stroke-width="1" />
<line x1="2246" y1="469.5" x2="3236" y2="469.5" stroke="#ff0000" stroke-width="1" />
<polyline points="2245.2,476.7 2266,475.9 2276.4,473.3 2286.8,472.8 2299.8,461.1 2308.9,446.8 2318,437.2 2329.7,434.6 2338.8,438.5 2349.2,439.5 2359.6,444.2 2370,446.3 2380.4,442.9 2393.4,439 2403.8,433.3 2414.3,432.5 2422.1,435.1 2435.1,433 2445.5,433 2455.9,441.6 2463.7,452 2472.8,449.4 2481.9,441.6 2492.3,436.4 2502.7,429.1 2513.1,428.1 2523.5,426 2531.3,428.6 2539.1,433.8 2549.5,439 2557.3,442.1 2565.1,450.7 2572.9,458.5 2580.7,465 2589.8,473.3 2598.9,476.7 2611.9,477.5 2622.3,475.4 2635.3,474.9 2645.7,474.1 2656.1,472.3 2666.5,472.8 2676.9,468.9 2686,453.3 2693.8,437.7 2702.9,429.9 2710.7,427.3 2719.8,424.7 2727.6,433.8 2736.7,448.1 2749.8,454.1 2760.2,458.5 2770.6,465 2779.7,468.9 2791.4,466.3 2801.8,469.7 2814.8,474.1 2822.6,475.4 2833,472.8 2843.4,469.7 2853.8,472.8 2861.6,474.6 2870.7,470.2 2878.5,458.5 2886.3,448.9 2894.1,445.5 2901.9,449.4 2910,458.5 2918.5,466.3 2928.9,470.2 2936.7,470.2 2944.5,461.1 2952.3,453.3 2960.1,458.5 2967.9,466.3 2980.9,469.7 2991.3,472.3 3001.7,475.9 3017.3,477.5 3032.9,478.5 3048.5,478.5 3064.1,477.2 3079.7,475.9 3092.7,474.9 3103.1,473.6 3113.5,475.4 3122.6,472.3 3130.4,464.5 3139.5,461.1 3149.9,458.5 3160.3,450.7 3168.1,449.4 3178.5,455.4 3188.9,451.2 3198,448.1 3207.2,442.9 3215,436.4 3222.8,435.1 3234.5,436.4" fill="none" stroke="#ff0000" stroke-width="1" />
<polyline points="2245.2,475.9 2263.4,475.9 2269.9,470.2 2279,474.1 2288.1,470.7 2294.6,461.1 2305,439 2311.5,437.2 2316.7,433.3 2329.7,435.1 2336.2,439 2347.9,440.3 2354.4,444.2 2371.3,446.3 2377.8,438.5 2384.3,441.1 2390.8,439.5 2396,435.1 2401.2,428.6 2406.4,432.5 2411.7,435.1 2419.5,437.7 2427.3,433.3 2437.7,432 2444.2,433.3 2453.3,446.8 2461.6,457.7 2467.6,448.1 2474.1,441.6 2479.3,442.1 2485.8,435.9 2491,431.2 2497.5,428.6 2510.5,428.1 2517,424.7 2522.2,426 2528.7,432.5 2539.1,437.7 2546.9,441.1 2556,444.7 2563.8,459.3 2570.3,459.3 2576.8,468.9 2587.2,475.9 2596.3,475.9 2604.1,477.2 2611.9,477.2 2618.4,473.6 2624.9,474.6 2635.3,475.4 2644.4,473.6 2652.2,471 2658.7,472.8 2665.2,475.4 2671.7,468.1 2678.2,462.4 2684.7,442.9 2689.9,432.5 2695.1,429.9 2702.9,429.1 2708.1,425.5 2714.6,424.2 2719.3,422.9 2725,439 2731.5,450.7 2739.3,452.8 2749.8,455.9 2757.6,459.8 2765.4,462.4 2773.2,471.5 2779.7,468.1 2786.2,463.7 2792.7,467.6 2799.2,470.7 2812.2,474.1 2820,476.2 2827.8,471.5 2838.2,469.4 2844.7,470.2 2851.2,475.4 2861.6,474.1 2869.4,467.6 2875.9,450.7 2882.4,444.7 2887.6,447.6 2893.3,443.7 2900.6,452 2905.8,462.4 2910,466.3 2915.9,468.1 2925,473.3 2935.4,471.5 2940.6,450.7 2947.1,447.6 2953.6,462.4 2962.7,466.3 2973.1,467.6 2983.5,473.6 2988.7,471.5 2999.1,477.2 3012.1,477.2 3025.1,479.3 3031.6,477.5 3038.1,479.3 3048.5,478.8 3061.5,476.7 3077.1,475.4 3087.5,475.9 3097.9,469.7 3109.6,478.5 3116.1,474.6 3121.3,468.9 3127.8,458.5 3133,458.5 3139.5,463.2 3151.2,453.3 3162.9,446.3 3169.4,455.4 3174.6,456.4 3183.7,450.7 3191.5,446.8 3199.3,448.1 3205.9,439 3211.1,431.7 3216.3,436.4 3222.8,437.2 3234.5,435.1" fill="none" stroke="#0000ff" stroke-width="1" />
<rect x="2244" y="8" width="1" height="487" fill="#707070" />
<rect x="2245" y="8" width="1" height="487" fill="#000" />
<line x1="2244" y1="494.5" x2="3306" y2="494.5" stroke="#000" stroke-width="1" />
<line x1="3243.5" y1="8" x2="3243.5" y2="525" stroke="#000" stroke-width="1" />
<line x1="2245.5" y1="495" x2="2245.5" y2="504" stroke="#000" stroke-width="1" />
<text x="2244.5" y="513.1" textLength="30" lengthAdjust="spacingAndGlyphs" class="n" fill="#000" xml:space="preserve">03/29</text>
<line x1="2467.5" y1="495" x2="2467.5" y2="504" stroke="#000" stroke-width="1" />
<text x="2466.5" y="513.1" textLength="30" lengthAdjust="spacingAndGlyphs" class="n" fill="#000" xml:space="preserve">03/31</text>
<line x1="2683.5" y1="495" x2="2683.5" y2="504" stroke="#000" stroke-width="1" />
<text x="2682.5" y="513.1" textLength="30" lengthAdjust="spacingAndGlyphs" class="n" fill="#000" xml:space="preserve">04/03</text>
<line x1="2899.5" y1="495" x2="2899.5" y2="504" stroke="#000" stroke-width="1" />
<text x="2898.5" y="513.1" textLength="30" lengthAdjust="spacingAndGlyphs" class="n" fill="#000" xml:space="preserve">04/04</text>
<line x1="3115.5" y1="495" x2="3115.5" y2="504" stroke="#000" stroke-width="1" />
<text x="3114.5" y="513.1" textLength="30" lengthAdjust="spacingAndGlyphs" class="n" fill="#000" xml:space="preserve">04/05</text>
<line x1="3244" y1="27.5" x2="3249" y2="27.5" stroke="#000" stroke-width="1" />
<text x="3252" y="31.7" textLength="36" lengthAdjust="spacingAndGlyphs" class="n" fill="#000" xml:space="preserve">10,200</text>
<line x1="3244" y1="76.5" x2="3249" y2="76.5" stroke="#000" stroke-width="1" />
<text x="3252" y="80.7" textLength="36" lengthAdjust="spacingAndGlyphs" class="n" fill="#000" xml:space="preserve">10,050</text>
<line x1="3244" y1="125.5" x2="3249" y2="125.5" stroke="#000" stroke-width="1" />
<text x="3252" y="129.7" textLength="30" lengthAdjust="spacingAndGlyphs" class="n" fill="#000" xml:space="preserve">9,900</text>
<line x1="3244" y1="175.5" x2="3249" y2="175.5" stroke="#000" stroke-width="1" />
<text x="3252" y="179.7" textLength="30" lengthAdjust="spacingAndGlyphs" class="n" fill="#000" xml:space="preserve">9,750</text>
<line x1="3244" y1="239.5" x2="3249" y2="239.5" stroke="#000" stroke-width="1" />
<text x="3252" y="243.7" textLength="36" lengthAdjust="spacingAndGlyphs" class="n" fill="#000" xml:space="preserve">160.00</text>
<line x1="3244" y1="277.5" x2="3249" y2="277.5" stroke="#000" stroke-width="1" />
<text x="3252" y="281.7" textLength="30" lengthAdjust="spacingAndGlyphs" class="n" fill="#000" xml:space="preserve">55.00</text>
<line x1="3244" y1="330.5" x2="3249" y2="330.5" stroke="#000" stroke-width="1" />
<text x="3252" y="334.7" textLength="30" lengthAdjust="spacingAndGlyphs" class="n" fill="#000" xml:space="preserve">25.00</text>
<line x1="3244" y1="367.5" x2="3249" y2="367.5" stroke="#000" stroke-width="1" />
<text x="3252" y="371.7" textLength="36" lengthAdjust="spacingAndGlyphs" class="n" fill="#000" xml:space="preserve">-40.00</text>
<line x1="3244" y1="421.5" x2="3249" y2="421.5" stroke="#000" stroke-width="1" />
<text x="3252" y="425.7" textLength="36" lengthAdjust="spacingAndGlyphs" class="n" fill="#000" xml:space="preserve">100.00</text>
<line x1="3244" y1="460.5" x2="3249" y2="460.5" stroke="#000" stroke-width="1" />
<text x="3252" y="464.7" textLength="30" lengthAdjust="spacingAndGlyphs" class="n" fill="#000" xml:space="preserve">35.00</text>
<rect x="3246.5" y="295.5" width="45" height="13" fill="#fff" stroke="#000" stroke-width="1"/>
<text x="3249" y="305.6" textLength="36" lengthAdjust="spacingAndGlyphs" class="n" fill="#000" xml:space="preserve">× 1000</text>
<rect x="3291.5" y="11.5" width="13" height="12" fill="#f0f0f0" stroke="#a0a0a0" stroke-width="1"/>
<path d="M3294 15 h8 l-4 5 z" fill="#606060"/>
<rect x="3291.5" y="223.5" width="13" height="12" fill="#f0f0f0" stroke="#a0a0a0" stroke-width="1"/>
<path d="M3294 227 h8 l-4 5 z" fill="#606060"/>
<rect x="3291.5" y="315" width="13" height="12" fill="#f0f0f0" stroke="#a0a0a0" stroke-width="1"/>
<path d="M3294 318.5 h8 l-4 5 z" fill="#606060"/>
<rect x="3291.5" y="405.5" width="13" height="12" fill="#f0f0f0" stroke="#a0a0a0" stroke-width="1"/>
<path d="M3294 409 h8 l-4 5 z" fill="#606060"/>
<line x1="3358.5" y1="21" x2="3358.5" y2="506" stroke="#c0c0c0" stroke-width="1" stroke-dasharray="3 3"/>
<line x1="3430.5" y1="21" x2="3430.5" y2="506" stroke="#c0c0c0" stroke-width="1" stroke-dasharray="3 3"/>
<line x1="3478.5" y1="21" x2="3478.5" y2="506" stroke="#c0c0c0" stroke-width="1" stroke-dasharray="3 3"/>
<line x1="3550.5" y1="21" x2="3550.5" y2="506" stroke="#c0c0c0" stroke-width="1" stroke-dasharray="3 3"/>
<line x1="3598.5" y1="21" x2="3598.5" y2="506" stroke="#c0c0c0" stroke-width="1" stroke-dasharray="3 3"/>
<line x1="3670.5" y1="21" x2="3670.5" y2="506" stroke="#c0c0c0" stroke-width="1" stroke-dasharray="3 3"/>
<line x1="3718.5" y1="21" x2="3718.5" y2="506" stroke="#c0c0c0" stroke-width="1" stroke-dasharray="3 3"/>
<line x1="3790.5" y1="21" x2="3790.5" y2="506" stroke="#c0c0c0" stroke-width="1" stroke-dasharray="3 3"/>
<line x1="3838.5" y1="21" x2="3838.5" y2="506" stroke="#c0c0c0" stroke-width="1" stroke-dasharray="3 3"/>
<line x1="3910.5" y1="21" x2="3910.5" y2="506" stroke="#c0c0c0" stroke-width="1" stroke-dasharray="3 3"/>
<line x1="3958.5" y1="21" x2="3958.5" y2="506" stroke="#c0c0c0" stroke-width="1" stroke-dasharray="3 3"/>
<line x1="4030.5" y1="21" x2="4030.5" y2="506" stroke="#c0c0c0" stroke-width="1" stroke-dasharray="3 3"/>
<line x1="3310" y1="39.5" x2="4039" y2="39.5" stroke="#c0c0c0" stroke-width="1" stroke-dasharray="3 3"/>
<line x1="3310" y1="88.5" x2="4039" y2="88.5" stroke="#c0c0c0" stroke-width="1" stroke-dasharray="3 3"/>
<line x1="3310" y1="137.5" x2="4039" y2="137.5" stroke="#c0c0c0" stroke-width="1" stroke-dasharray="3 3"/>
<line x1="3310" y1="186.5" x2="4039" y2="186.5" stroke="#c0c0c0" stroke-width="1" stroke-dasharray="3 3"/>
<line x1="3310" y1="251.5" x2="4039" y2="251.5" stroke="#c0c0c0" stroke-width="1" stroke-dasharray="3 3"/>
<line x1="3310" y1="288.5" x2="4039" y2="288.5" stroke="#c0c0c0" stroke-width="1" stroke-dasharray="3 3"/>
<line x1="3310" y1="342.5" x2="4039" y2="342.5" stroke="#c0c0c0" stroke-width="1" stroke-dasharray="3 3"/>
<line x1="3310" y1="378.5" x2="4039" y2="378.5" stroke="#c0c0c0" stroke-width="1" stroke-dasharray="3 3"/>
<line x1="3310" y1="433.5" x2="4039" y2="433.5" stroke="#c0c0c0" stroke-width="1" stroke-dasharray="3 3"/>
<line x1="3310" y1="469.5" x2="4039" y2="469.5" stroke="#c0c0c0" stroke-width="1" stroke-dasharray="3 3"/>
<text x="3314" y="33.1" textLength="24" lengthAdjust="spacingAndGlyphs" class="w" fill="#000">日経</text>
<text x="3338" y="33.1" textLength="102" lengthAdjust="spacingAndGlyphs" class="n" fill="#000" xml:space="preserve">225mini 12/06( 60</text>
<text x="3440" y="33.1" textLength="12" lengthAdjust="spacingAndGlyphs" class="w" fill="#000">分</text>
<text x="3452" y="33.1" textLength="162" lengthAdjust="spacingAndGlyphs" class="n" fill="#000" xml:space="preserve">, 2012/03/28 - 2012/04/05 )</text>
<text x="3634" y="33.1" textLength="48" lengthAdjust="spacingAndGlyphs" class="w" fill="#000">移動平均</text>
<text x="3682" y="33.1" textLength="78" lengthAdjust="spacingAndGlyphs" class="n" fill="#000" xml:space="preserve">( Close, 40 )</text>
<text x="3780" y="33.1" textLength="48" lengthAdjust="spacingAndGlyphs" class="w" fill="#000">移動平均</text>
<text x="3828" y="33.1" textLength="84" lengthAdjust="spacingAndGlyphs" class="n" fill="#000" xml:space="preserve">( Close, 150 )</text>
<text x="3314" y="47.6" textLength="48" lengthAdjust="spacingAndGlyphs" class="w" fill="#000">移動平均</text>
<text x="3362" y="47.6" textLength="78" lengthAdjust="spacingAndGlyphs" class="n" fill="#000" xml:space="preserve">( Close, 10 )</text>
<text x="3460" y="47.6" textLength="48" lengthAdjust="spacingAndGlyphs" class="w" fill="#000">移動平均</text>
<text x="3508" y="47.6" textLength="78" lengthAdjust="spacingAndGlyphs" class="n" fill="#000" xml:space="preserve">( Close, 20 )</text>
<text x="3605" y="47.6" textLength="60" lengthAdjust="spacingAndGlyphs" class="w" fill="#000">一目均衡表</text>
<text x="3665" y="47.6" textLength="78" lengthAdjust="spacingAndGlyphs" class="n" fill="#000" xml:space="preserve">( 9, 26, 52 )</text>
<text x="3764" y="47.6" textLength="48" lengthAdjust="spacingAndGlyphs" class="w" fill="#000">移動平均</text>
<text x="3812" y="47.6" textLength="72" lengthAdjust="spacingAndGlyphs" class="n" fill="#000" xml:space="preserve">( Close, 5 )</text>
<text x="3905" y="47.6" textLength="48" lengthAdjust="spacingAndGlyphs" class="w" fill="#000">移動平均</text>
<text x="3953" y="47.6" textLength="78" lengthAdjust="spacingAndGlyphs" class="n" fill="#000" xml:space="preserve">( Close, 75 )</text>
<text x="3314" y="246.1" textLength="36" lengthAdjust="spacingAndGlyphs" class="w" fill="#000">出来高</text>
<text x="3314" y="336.6" textLength="102" lengthAdjust="spacingAndGlyphs" class="n" fill="#000" xml:space="preserve">MACD( 12, 26, 9 )</text>
<text x="3314" y="428.1" textLength="156" lengthAdjust="spacingAndGlyphs" class="w" fill="#000">スロー・ストキャスティクス</text>
<text x="3470" y="428.1" textLength="102" lengthAdjust="spacingAndGlyphs" class="n" fill="#000" xml:space="preserve">( 14, 3, 80, 20 )</text>
<line x1="3772.5" y1="63.7" x2="3772.5" y2="69" stroke="#ff0000" stroke-width="1" />
<line x1="3778.5" y1="62.9" x2="3778.5" y2="69" stroke="#ff0000" stroke-width="1" />
<line x1="3784.5" y1="62" x2="3784.5" y2="69" stroke="#ff0000" stroke-width="1" />
<line x1="3790.5" y1="60.6" x2="3790.5" y2="69" stroke="#ff0000" stroke-width="1" />
<line x1="3796.5" y1="58.9" x2="3796.5" y2="69" stroke="#ff0000" stroke-width="1" />
<line x1="3802.5" y1="57.8" x2="3802.5" y2="69" stroke="#ff0000" stroke-width="1" />
<line x1="3808.5" y1="57.4" x2="3808.5" y2="69" stroke="#ff0000" stroke-width="1" />
<line x1="3814.5" y1="57.6" x2="3814.5" y2="69" stroke="#ff0000" stroke-width="1" />
<line x1="3820.5" y1="59.3" x2="3820.5" y2="69" stroke="#ff0000" stroke-width="1" />
<line x1="3826.5" y1="61.2" x2="3826.5" y2="69" stroke="#ff0000" stroke-width="1" />
<line x1="3832.5" y1="63.7" x2="3832.5" y2="69" stroke="#ff0000" stroke-width="1" />
<line x1="3838.5" y1="65.5" x2="3838.5" y2="69" stroke="#ff0000" stroke-width="1" />
<line x1="3844.5" y1="66.2" x2="3844.5" y2="69" stroke="#ff0000" stroke-width="1" />
<polyline points="3772,63.8 3786.3,61.7 3799.3,58.1 3812.4,57 3825.4,60.7 3835.8,65.1 3846.2,66.4 3851.4,69" fill="none" stroke="#00ffff" stroke-width="1" />
<polyline points="3772,69 3851.4,69" fill="none" stroke="#ff0000" stroke-width="1" />
<line x1="3856.5" y1="69" x2="3856.5" y2="70.5" stroke="#0000ff" stroke-width="1" />
<line x1="3862.5" y1="69" x2="3862.5" y2="71.1" stroke="#0000ff" stroke-width="1" />
<line x1="3868.5" y1="69" x2="3868.5" y2="71" stroke="#0000ff" stroke-width="1" />
<line x1="3874.5" y1="69" x2="3874.5" y2="70.9" stroke="#0000ff" stroke-width="1" />
<line x1="3880.5" y1="69" x2="3880.5" y2="70.9" stroke="#0000ff" stroke-width="1" />
<line x1="3886.5" y1="69" x2="3886.5" y2="70.8" stroke="#0000ff" stroke-width="1" />
<line x1="3892.5" y1="69" x2="3892.5" y2="70.7" stroke="#0000ff" stroke-width="1" />
<line x1="3898.5" y1="69" x2="3898.5" y2="70.7" stroke="#0000ff" stroke-width="1" />
<line x1="3904.5" y1="69" x2="3904.5" y2="70.6" stroke="#0000ff" stroke-width="1" />
<line x1="3910.5" y1="69" x2="3910.5" y2="70.5" stroke="#0000ff" stroke-width="1" />
<line x1="3916.5" y1="69" x2="3916.5" y2="70.5" stroke="#0000ff" stroke-width="1" />
<line x1="3922.5" y1="69" x2="3922.5" y2="70.4" stroke="#0000ff" stroke-width="1" />
<line x1="3928.5" y1="69" x2="3928.5" y2="70.4" stroke="#0000ff" stroke-width="1" />
<line x1="3934.5" y1="69" x2="3934.5" y2="71.8" stroke="#0000ff" stroke-width="1" />
<line x1="3940.5" y1="69" x2="3940.5" y2="76.3" stroke="#0000ff" stroke-width="1" />
<line x1="3946.5" y1="69" x2="3946.5" y2="77.8" stroke="#0000ff" stroke-width="1" />
<line x1="3952.5" y1="67.9" x2="3952.5" y2="79.2" stroke="#0000ff" stroke-width="1" />
<line x1="3958.5" y1="68" x2="3958.5" y2="80.7" stroke="#0000ff" stroke-width="1" />
<line x1="3964.5" y1="68.3" x2="3964.5" y2="82.2" stroke="#0000ff" stroke-width="1" />
<line x1="3970.5" y1="68.6" x2="3970.5" y2="84" stroke="#0000ff" stroke-width="1" />
<line x1="3976.5" y1="68.9" x2="3976.5" y2="85.5" stroke="#0000ff" stroke-width="1" />
<line x1="3982.5" y1="69.8" x2="3982.5" y2="86.5" stroke="#0000ff" stroke-width="1" />
<line x1="3988.5" y1="70.3" x2="3988.5" y2="87.2" stroke="#0000ff" stroke-width="1" />
<line x1="3994.5" y1="70.3" x2="3994.5" y2="87.1" stroke="#0000ff" stroke-width="1" />
<line x1="4000.5" y1="70.3" x2="4000.5" y2="86.9" stroke="#0000ff" stroke-width="1" />
<line x1="4006.5" y1="70.3" x2="4006.5" y2="86.8" stroke="#0000ff" stroke-width="1" />
<line x1="4012.5" y1="72.4" x2="4012.5" y2="88.7" stroke="#0000ff" stroke-width="1" />
<line x1="4018.5" y1="91.1" x2="4018.5" y2="106.7" stroke="#0000ff" stroke-width="1" />
<line x1="4024.5" y1="91.6" x2="4024.5" y2="107.5" stroke="#0000ff" stroke-width="1" />
<line x1="4030.5" y1="93.1" x2="4030.5" y2="108.9" stroke="#0000ff" stroke-width="1" />
<line x1="4036.5" y1="94.8" x2="4036.5" y2="111.9" stroke="#0000ff" stroke-width="1" />
<polyline points="3849.3,69 3859.7,71.1 3932.5,70.3 3940.3,76.3 3953.3,79.4 3963.7,82 3974.1,85.1 3987.1,87.2 4011.8,86.7 4018.3,106.7 4028.7,108 4039.1,113.2" fill="none" stroke="#00ffff" stroke-width="1" />
<polyline points="3849.3,69 3948.1,69 3953.3,67.7 3979.3,69 3984.5,70.3 4011.8,70.3 4018.3,91.1 4028.7,91.9 4031.3,93.7 4037.8,95 4039.1,97.1" fill="none" stroke="#ff0000" stroke-width="1" />
<polyline points="3753.8,70.3 3794.1,71.6 3833.2,75.5 3867,79.4 3896.1,84.1 3935.1,91.1 3974.1,98.9 4023.5,112.7" fill="none" stroke="#800080" stroke-width="1" />
<polyline points="3544.5,72.1 3586.1,75.5 3625.1,73.7 3664.1,70.3 3716.1,70.3 3768.1,70.3 3794.1,72.9 3820.2,76.8 3846.2,80.7 3867,84.6 3896.1,93.7 3935.1,110.6 3974.1,128.8 3987.1,135.6 4010.5,144.7 4023.5,150.7" fill="none" stroke="#40e0d0" stroke-width="1" />
<polyline points="3454.7,64.3 3476.9,71.6 3497.7,78.1 3521.1,78.9 3547.1,79.4 3573.1,78.1 3599.1,74.7 3625.1,70.3 3651.1,65.1 3677.1,63.8 3703.1,65.1 3729.1,67.7 3755.1,69 3781.1,71.6 3807.2,78.1 3833.2,82 3859.2,85.9 3864.9,85.9 3883.1,92.4 3909.1,108 3937.7,129.9 3948.1,135.6 3974.1,153.8 4000.1,170.7 4023.5,181.9" fill="none" stroke="#006400" stroke-width="1" />
<polyline points="3424.8,60.7 3445.6,65.1 3466.4,72.9 3487.3,78.1 3508.1,80.7 3534.1,79.4 3560.1,76.8 3586.1,72.9 3612.1,69 3638.1,63.8 3664.1,62.5 3690.1,63.8 3716.1,67.7 3742.1,69 3768.1,71.6 3794.1,78.1 3820.2,82 3846.2,85.9 3867,88.5 3883.1,97.6 3909.1,115.8 3927.3,129.9 3937.7,138.2 3958.5,157.7 3979.3,172 4000.1,185 4023.5,188.1" fill="none" stroke="#ff8040" stroke-width="1" />
<polyline points="3352,50.8 3365,63.8 3375.4,70.3 3388.4,70.3 3404,65.1 3430,66.4 3445.6,74.2 3461.2,85.9 3476.9,92.4 3492.5,95 3505.5,91.1 3518.5,80.7 3534.1,76.8 3549.7,74.2 3573.1,69 3599.1,65.1 3617.3,58.6 3638.1,52.1 3664.1,54.7 3677.1,63.8 3690.1,72.9 3705.7,79.4 3716.1,82 3729.1,72.9 3742.1,69 3757.7,72.9 3775.9,78.1 3794.1,85.9 3820.2,89.8 3846.2,93.7 3867,95 3868.8,105.4 3877.9,118.4 3887,129.9 3896.1,140.8 3911.7,160.3 3927.3,179.8 3942.9,191.5 3958.5,194.1 3974.1,196.7 3994.9,191.5 4010.5,186.3 4023.5,175.9" fill="none" stroke="#ff0000" stroke-width="1" />
<polyline points="3363.7,53.4 3388.4,63.8 3424.8,65.1 3445.6,70.3 3461.2,76.8 3482.1,87.2 3497.7,92.4 3515.9,87.2 3534.1,79.4 3560.1,74.2 3586.1,69 3612.1,61.2 3632.9,56 3664.1,56 3679.7,63.8 3695.3,72.9 3716.1,78.1 3742.1,75.5 3768.1,76.8 3794.1,82 3820.2,88.5 3846.2,92.4 3867,95 3877.9,108 3901.3,129.9 3909.1,134.3 3922.1,159 3935.1,169.4 3953.3,185 3968.9,194.1 3987.1,195.4 4005.3,192.8 4023.5,186.3" fill="none" stroke="#00ff00" stroke-width="1" />
<polyline points="3622.5,54.7 3635.5,53.4 3648.5,52.1 3664.1,54.7 3674.5,61.2 3684.9,66.4 3697.9,69 3705.7,75.5 3716.1,78.1 3726.5,69 3736.9,76.8 3755.1,78.1 3768.1,75.5 3786.3,76.8 3794.1,84.6 3820.2,85.9 3825.4,91.1 3859.2,91.1 3867,97.6 3870.1,111.9 3885.7,115.8 3893.5,121 3906.5,129.9 3909.1,129.1 3916.9,139.5 3922.1,160.3 3932.5,162.9 3942.9,172 3953.3,183.7 3963.7,186.3 3971.5,195.4 3987.1,195.4 4005.3,189.7 4023.5,183.7" fill="none" stroke="#ff0000" stroke-width="3" />
<polyline points="3616,74.2 3622.5,69 3638.1,67.7 3651.1,65.1 3658.9,61.7 3674.5,63.8 3684.9,65.1 3775.9,65.1 3788.9,69 3799.3,74.2 3807.2,78.1 3820.2,79.4 3833.2,82 3859.2,82 3864.4,85.9 3868.3,105.4 3885.7,106.2 3893.5,117.1 3905.2,121 3914.3,129.9 3927.3,137.7 3945.5,138.2 3953.3,142.9 4010.5,142.9 4018.3,147.3 4024.8,165.5" fill="none" stroke="#0000ff" stroke-width="3" />
<line x1="3310.5" y1="44.4" x2="3310.5" y2="50.5" stroke="#ff0000" stroke-width="1" />
<rect x="3309" y="45.3" width="3" height="4.2" fill="#ff0000" />
<line x1="3316.5" y1="42.4" x2="3316.5" y2="46.1" stroke="#ff0000" stroke-width="1" />
<rect x="3315" y="42.9" width="3" height="2.3" fill="#ff0000" />
<line x1="3322.5" y1="36.4" x2="3322.5" y2="44.6" stroke="#0000ff" stroke-width="1" />
<rect x="3321" y="38.7" width="3" height="4.5" fill="#0000ff" />
<line x1="3328.5" y1="40.2" x2="3328.5" y2="45.9" stroke="#0000ff" stroke-width="1" />
<rect x="3327" y="41.5" width="3" height="3.7" fill="#0000ff" />
<line x1="3334.5" y1="43.2" x2="3334.5" y2="49.4" stroke="#0000ff" stroke-width="1" />
<rect x="3333" y="45.3" width="3" height="3.4" fill="#0000ff" />
<line x1="3340.5" y1="45.3" x2="3340.5" y2="51.2" stroke="#ff0000" stroke-width="1" />
<rect x="3339" y="48.2" width="3" height="2.2" fill="#ff0000" />
<line x1="3346.5" y1="45.2" x2="3346.5" y2="52.1" stroke="#0000ff" stroke-width="1" />
<rect x="3345" y="48.2" width="3" height="3.3" fill="#0000ff" />
<line x1="3352.5" y1="49.8" x2="3352.5" y2="61.9" stroke="#0000ff" stroke-width="1" />
<rect x="3351" y="51.5" width="3" height="7.6" fill="#0000ff" />
<line x1="3358.5" y1="58" x2="3358.5" y2="73" stroke="#0000ff" stroke-width="1" />
<rect x="3357" y="59.1" width="3" height="12.7" fill="#0000ff" />
<line x1="3364.5" y1="68.9" x2="3364.5" y2="76.7" stroke="#ff0000" stroke-width="1" />
<rect x="3363" y="71.5" width="3" height="3.7" fill="#ff0000" />
<line x1="3370.5" y1="66.6" x2="3370.5" y2="74.8" stroke="#0000ff" stroke-width="1" />
<rect x="3369" y="68.9" width="3" height="3.8" fill="#0000ff" />
<line x1="3376.5" y1="70.5" x2="3376.5" y2="78.6" stroke="#ff0000" stroke-width="1" />
<rect x="3375" y="72.6" width="3" height="4.1" fill="#ff0000" />
<line x1="3382.5" y1="60.6" x2="3382.5" y2="74.2" stroke="#ff0000" stroke-width="1" />
<rect x="3381" y="61.7" width="3" height="10.8" fill="#ff0000" />
<line x1="3388.5" y1="59.5" x2="3388.5" y2="76.4" stroke="#0000ff" stroke-width="1" />
<rect x="3387" y="61.7" width="3" height="13.3" fill="#0000ff" />
<line x1="3394.5" y1="66.1" x2="3394.5" y2="75.7" stroke="#ff0000" stroke-width="1" />
<rect x="3393" y="68.7" width="3" height="6.4" fill="#ff0000" />
<line x1="3400.5" y1="63" x2="3400.5" y2="69.2" stroke="#ff0000" stroke-width="1" />
<rect x="3399" y="64.1" width="3" height="4.6" fill="#ff0000" />
<line x1="3406.5" y1="62" x2="3406.5" y2="71.6" stroke="#0000ff" stroke-width="1" />
<rect x="3405" y="64.1" width="3" height="5.7" fill="#0000ff" />
<line x1="3412.5" y1="64.1" x2="3412.5" y2="70.7" stroke="#ff0000" stroke-width="1" />
<rect x="3411" y="65.5" width="3" height="4.2" fill="#ff0000" />
<line x1="3418.5" y1="61.3" x2="3418.5" y2="68.7" stroke="#ff0000" stroke-width="1" />
<rect x="3417" y="63.8" width="3" height="2.9" fill="#ff0000" />
<line x1="3424.5" y1="62.5" x2="3424.5" y2="68.2" stroke="#0000ff" stroke-width="1" />
<rect x="3423" y="63.1" width="3" height="3.1" fill="#0000ff" />
<line x1="3430.5" y1="65.2" x2="3430.5" y2="72.3" stroke="#0000ff" stroke-width="1" />
<rect x="3429" y="66.2" width="3" height="4" fill="#0000ff" />
<line x1="3436.5" y1="68.1" x2="3436.5" y2="83" stroke="#0000ff" stroke-width="1" />
<rect x="3435" y="70.2" width="3" height="11.5" fill="#0000ff" />
<line x1="3442.5" y1="80.5" x2="3442.5" y2="86.9" stroke="#0000ff" stroke-width="1" />
<rect x="3441" y="81.7" width="3" height="4.6" fill="#0000ff" />
<line x1="3448.5" y1="80.7" x2="3448.5" y2="87.4" stroke="#0000ff" stroke-width="1" />
<rect x="3447" y="82.7" width="3" height="3.7" fill="#0000ff" />
<line x1="3454.5" y1="84.6" x2="3454.5" y2="92.8" stroke="#ff0000" stroke-width="1" />
<rect x="3453" y="85.8" width="3" height="4.1" fill="#ff0000" />
<line x1="3460.5" y1="85.2" x2="3460.5" y2="96.1" stroke="#0000ff" stroke-width="1" />
<rect x="3459" y="85.8" width="3" height="8.5" fill="#0000ff" />
<line x1="3466.5" y1="92.3" x2="3466.5" y2="101.1" stroke="#0000ff" stroke-width="1" />
<rect x="3465" y="94.3" width="3" height="5" fill="#0000ff" />
<line x1="3472.5" y1="91.2" x2="3472.5" y2="100.5" stroke="#ff0000" stroke-width="1" />
<rect x="3471" y="92.4" width="3" height="6.9" fill="#ff0000" />
<line x1="3478.5" y1="88.5" x2="3478.5" y2="95.4" stroke="#0000ff" stroke-width="1" />
<rect x="3477" y="91.4" width="3" height="3.4" fill="#0000ff" />
<line x1="3484.5" y1="89" x2="3484.5" y2="96.2" stroke="#0000ff" stroke-width="1" />
<rect x="3483" y="91.1" width="3" height="4.4" fill="#0000ff" />
<line x1="3490.5" y1="89.7" x2="3490.5" y2="96.8" stroke="#0000ff" stroke-width="1" />
<rect x="3489" y="92.5" width="3" height="3.6" fill="#0000ff" />
<line x1="3496.5" y1="87.5" x2="3496.5" y2="97.3" stroke="#ff0000" stroke-width="1" />
<rect x="3495" y="90" width="3" height="6.2" fill="#ff0000" />
<line x1="3502.5" y1="78.7" x2="3502.5" y2="91.1" stroke="#ff0000" stroke-width="1" />
<rect x="3501" y="81.3" width="3" height="8.7" fill="#ff0000" />
<line x1="3508.5" y1="70.9" x2="3508.5" y2="82" stroke="#ff0000" stroke-width="1" />
<rect x="3507" y="72.8" width="3" height="8.5" fill="#ff0000" />
<line x1="3514.5" y1="71.3" x2="3514.5" y2="78" stroke="#ff0000" stroke-width="1" />
<rect x="3513" y="72.1" width="3" height="3" fill="#ff0000" />
<line x1="3520.5" y1="71" x2="3520.5" y2="80" stroke="#0000ff" stroke-width="1" />
<rect x="3519" y="72.1" width="3" height="5.9" fill="#0000ff" />
<line x1="3526.5" y1="73.3" x2="3526.5" y2="79.3" stroke="#ff0000" stroke-width="1" />
<rect x="3525" y="74.6" width="3" height="3.5" fill="#ff0000" />
<line x1="3532.5" y1="71.8" x2="3532.5" y2="81.1" stroke="#0000ff" stroke-width="1" />
<rect x="3531" y="74.6" width="3" height="5.8" fill="#0000ff" />
<line x1="3538.5" y1="76.1" x2="3538.5" y2="85.1" stroke="#ff0000" stroke-width="1" />
<rect x="3537" y="78.3" width="3" height="4.3" fill="#ff0000" />
<line x1="3544.5" y1="68.5" x2="3544.5" y2="80.7" stroke="#ff0000" stroke-width="1" />
<rect x="3543" y="71.4" width="3" height="6.9" fill="#ff0000" />
<line x1="3550.5" y1="70" x2="3550.5" y2="76.4" stroke="#ff0000" stroke-width="1" />
<rect x="3549" y="71" width="3" height="3.1" fill="#ff0000" />
<line x1="3556.5" y1="67" x2="3556.5" y2="72.3" stroke="#ff0000" stroke-width="1" />
<rect x="3555" y="67.5" width="3" height="3.5" fill="#ff0000" />
<line x1="3562.5" y1="64.4" x2="3562.5" y2="68.8" stroke="#ff0000" stroke-width="1" />
<rect x="3561" y="65.3" width="3" height="2.5" fill="#ff0000" />
<line x1="3568.5" y1="62.1" x2="3568.5" y2="67.6" stroke="#ff0000" stroke-width="1" />
<rect x="3567" y="63.6" width="3" height="2.3" fill="#ff0000" />
<line x1="3574.5" y1="62.2" x2="3574.5" y2="68.6" stroke="#ff0000" stroke-width="1" />
<rect x="3573" y="63" width="3" height="2.8" fill="#ff0000" />
<line x1="3580.5" y1="60.7" x2="3580.5" y2="67.9" stroke="#ff0000" stroke-width="1" />
<rect x="3579" y="62.9" width="3" height="3.7" fill="#ff0000" />
<line x1="3586.5" y1="61.6" x2="3586.5" y2="69.8" stroke="#0000ff" stroke-width="1" />
<rect x="3585" y="62.9" width="3" height="4.8" fill="#0000ff" />
<line x1="3592.5" y1="63.3" x2="3592.5" y2="70.2" stroke="#ff0000" stroke-width="1" />
<rect x="3591" y="63.8" width="3" height="3.9" fill="#ff0000" />
<line x1="3598.5" y1="60.7" x2="3598.5" y2="64.5" stroke="#ff0000" stroke-width="1" />
<rect x="3597" y="61.3" width="3" height="2.5" fill="#ff0000" />
<line x1="3604.5" y1="52.7" x2="3604.5" y2="64.1" stroke="#ff0000" stroke-width="1" />
<rect x="3603" y="55.3" width="3" height="6" fill="#ff0000" />
<line x1="3610.5" y1="50.8" x2="3610.5" y2="58.2" stroke="#ff0000" stroke-width="1" />
<rect x="3609" y="52.4" width="3" height="3" fill="#ff0000" />
<line x1="3616.5" y1="49.5" x2="3616.5" y2="55.8" stroke="#0000ff" stroke-width="1" />
<rect x="3615" y="50.6" width="3" height="4.1" fill="#0000ff" />
<line x1="3622.5" y1="43.7" x2="3622.5" y2="56.2" stroke="#ff0000" stroke-width="1" />
<rect x="3621" y="44.8" width="3" height="9.8" fill="#ff0000" />
<line x1="3628.5" y1="42.7" x2="3628.5" y2="49.9" stroke="#0000ff" stroke-width="1" />
<rect x="3627" y="44.8" width="3" height="4.1" fill="#0000ff" />
<line x1="3634.5" y1="44.5" x2="3634.5" y2="52" stroke="#ff0000" stroke-width="1" />
<rect x="3633" y="47.2" width="3" height="3.1" fill="#ff0000" />
<line x1="3640.5" y1="45" x2="3640.5" y2="60.6" stroke="#0000ff" stroke-width="1" />
<rect x="3639" y="47.2" width="3" height="10.7" fill="#0000ff" />
<line x1="3646.5" y1="56.5" x2="3646.5" y2="64" stroke="#0000ff" stroke-width="1" />
<rect x="3645" y="57.9" width="3" height="4.4" fill="#0000ff" />
<line x1="3652.5" y1="61.2" x2="3652.5" y2="67.5" stroke="#ff0000" stroke-width="1" />
<rect x="3651" y="62.2" width="3" height="2.7" fill="#ff0000" />
<line x1="3658.5" y1="60.1" x2="3658.5" y2="69.4" stroke="#0000ff" stroke-width="1" />
<rect x="3657" y="62.2" width="3" height="6.2" fill="#0000ff" />
<line x1="3664.5" y1="64.6" x2="3664.5" y2="69.3" stroke="#0000ff" stroke-width="1" />
<rect x="3663" y="66.2" width="3" height="2.6" fill="#0000ff" />
<line x1="3670.5" y1="65.9" x2="3670.5" y2="76.3" stroke="#0000ff" stroke-width="1" />
<rect x="3669" y="68.8" width="3" height="5.9" fill="#0000ff" />
<line x1="3676.5" y1="72.2" x2="3676.5" y2="85.4" stroke="#0000ff" stroke-width="1" />
<rect x="3675" y="74.7" width="3" height="9.5" fill="#0000ff" />
<line x1="3682.5" y1="80.2" x2="3682.5" y2="87.3" stroke="#ff0000" stroke-width="1" />
<rect x="3681" y="82.4" width="3" height="3.6" fill="#ff0000" />
<line x1="3688.5" y1="78.5" x2="3688.5" y2="85.7" stroke="#0000ff" stroke-width="1" />
<rect x="3687" y="79.8" width="3" height="4.2" fill="#0000ff" />
<line x1="3694.5" y1="78.5" x2="3694.5" y2="85.2" stroke="#ff0000" stroke-width="1" />
<rect x="3693" y="80.5" width="3" height="3.5" fill="#ff0000" />
<line x1="3700.5" y1="78.1" x2="3700.5" y2="90.1" stroke="#0000ff" stroke-width="1" />
<rect x="3699" y="80.5" width="3" height="8.2" fill="#0000ff" />
<line x1="3706.5" y1="79" x2="3706.5" y2="89.6" stroke="#ff0000" stroke-width="1" />
<rect x="3705" y="81.9" width="3" height="6.8" fill="#ff0000" />
<line x1="3712.5" y1="76.4" x2="3712.5" y2="84.8" stroke="#ff0000" stroke-width="1" />
<rect x="3711" y="78.1" width="3" height="3.8" fill="#ff0000" />
<line x1="3718.5" y1="66.5" x2="3718.5" y2="79" stroke="#ff0000" stroke-width="1" />
<rect x="3717" y="68" width="3" height="10.1" fill="#ff0000" />
<line x1="3724.5" y1="63.9" x2="3724.5" y2="71.3" stroke="#ff0000" stroke-width="1" />
<rect x="3723" y="65.7" width="3" height="4.2" fill="#ff0000" />
<line x1="3730.5" y1="64.8" x2="3730.5" y2="69.9" stroke="#ff0000" stroke-width="1" />
<rect x="3729" y="65.4" width="3" height="2.1" fill="#ff0000" />
<line x1="3736.5" y1="62.3" x2="3736.5" y2="70.9" stroke="#ff0000" stroke-width="1" />
<rect x="3735" y="64" width="3" height="4.1" fill="#ff0000" />
<line x1="3742.5" y1="62.9" x2="3742.5" y2="85.4" stroke="#0000ff" stroke-width="1" />
<rect x="3741" y="64" width="3" height="18.6" fill="#0000ff" />
<line x1="3748.5" y1="79.3" x2="3748.5" y2="83.2" stroke="#ff0000" stroke-width="1" />
<rect x="3747" y="79.9" width="3" height="2.8" fill="#ff0000" />
<line x1="3754.5" y1="75.8" x2="3754.5" y2="82.5" stroke="#ff0000" stroke-width="1" />
<rect x="3753" y="77.9" width="3" height="3.8" fill="#ff0000" />
<line x1="3760.5" y1="75.4" x2="3760.5" y2="87.3" stroke="#0000ff" stroke-width="1" />
<rect x="3759" y="77.9" width="3" height="7.4" fill="#0000ff" />
<line x1="3766.5" y1="79.6" x2="3766.5" y2="87.5" stroke="#ff0000" stroke-width="1" />
<rect x="3765" y="81.2" width="3" height="4.1" fill="#ff0000" />
<line x1="3772.5" y1="78.4" x2="3772.5" y2="87.3" stroke="#0000ff" stroke-width="1" />
<rect x="3771" y="81.2" width="3" height="4.1" fill="#0000ff" />
<line x1="3778.5" y1="82.2" x2="3778.5" y2="91.3" stroke="#ff0000" stroke-width="1" />
<rect x="3777" y="85.2" width="3" height="4.3" fill="#ff0000" />
<line x1="3784.5" y1="81.1" x2="3784.5" y2="88.2" stroke="#ff0000" stroke-width="1" />
<rect x="3783" y="83.9" width="3" height="3.3" fill="#ff0000" />
<line x1="3790.5" y1="82.7" x2="3790.5" y2="92.7" stroke="#0000ff" stroke-width="1" />
<rect x="3789" y="83.9" width="3" height="7.7" fill="#0000ff" />
<line x1="3796.5" y1="89.8" x2="3796.5" y2="96.6" stroke="#0000ff" stroke-width="1" />
<rect x="3795" y="91.6" width="3" height="4.3" fill="#0000ff" />
<line x1="3802.5" y1="89.1" x2="3802.5" y2="96.5" stroke="#ff0000" stroke-width="1" />
<rect x="3801" y="91.3" width="3" height="4.6" fill="#ff0000" />
<line x1="3808.5" y1="90.8" x2="3808.5" y2="99.2" stroke="#0000ff" stroke-width="1" />
<rect x="3807" y="91.3" width="3" height="5.6" fill="#0000ff" />
<line x1="3814.5" y1="93.2" x2="3814.5" y2="98" stroke="#ff0000" stroke-width="1" />
<rect x="3813" y="93.7" width="3" height="3.2" fill="#ff0000" />
<line x1="3820.5" y1="83.6" x2="3820.5" y2="95.3" stroke="#ff0000" stroke-width="1" />
<rect x="3819" y="85.5" width="3" height="8.2" fill="#ff0000" />
<line x1="3826.5" y1="84.2" x2="3826.5" y2="91.1" stroke="#0000ff" stroke-width="1" />
<rect x="3825" y="85.5" width="3" height="5" fill="#0000ff" />
<line x1="3832.5" y1="86.3" x2="3832.5" y2="93.7" stroke="#0000ff" stroke-width="1" />
<rect x="3831" y="88.1" width="3" height="3.6" fill="#0000ff" />
<line x1="3838.5" y1="91.1" x2="3838.5" y2="101" stroke="#0000ff" stroke-width="1" />
<rect x="3837" y="91.7" width="3" height="6.9" fill="#0000ff" />
<line x1="3844.5" y1="93.1" x2="3844.5" y2="100.9" stroke="#0000ff" stroke-width="1" />
<rect x="3843" y="96" width="3" height="3.6" fill="#0000ff" />
<line x1="3850.5" y1="96.4" x2="3850.5" y2="103.9" stroke="#ff0000" stroke-width="1" />
<rect x="3849" y="98.4" width="3" height="2.7" fill="#ff0000" />
<line x1="3856.5" y1="95" x2="3856.5" y2="103.3" stroke="#ff0000" stroke-width="1" />
<rect x="3855" y="98" width="3" height="3.5" fill="#ff0000" />
<line x1="3862.5" y1="91.6" x2="3862.5" y2="100.2" stroke="#ff0000" stroke-width="1" />
<rect x="3861" y="94.5" width="3" height="3.5" fill="#ff0000" />
<line x1="3868.5" y1="93.3" x2="3868.5" y2="126.3" stroke="#0000ff" stroke-width="1" />
<rect x="3867" y="94.5" width="3" height="31.3" fill="#0000ff" />
<line x1="3874.5" y1="121.4" x2="3874.5" y2="130.2" stroke="#0000ff" stroke-width="1" />
<rect x="3873" y="123.3" width="3" height="4.4" fill="#0000ff" />
<line x1="3880.5" y1="125.2" x2="3880.5" y2="147.4" stroke="#0000ff" stroke-width="1" />
<rect x="3879" y="127.8" width="3" height="17.4" fill="#0000ff" />
<line x1="3886.5" y1="143.5" x2="3886.5" y2="151.3" stroke="#0000ff" stroke-width="1" />
<rect x="3885" y="145.2" width="3" height="3.4" fill="#0000ff" />
<line x1="3892.5" y1="147.7" x2="3892.5" y2="158.1" stroke="#0000ff" stroke-width="1" />
<rect x="3891" y="148.5" width="3" height="6.8" fill="#0000ff" />
<line x1="3898.5" y1="152.6" x2="3898.5" y2="162.6" stroke="#0000ff" stroke-width="1" />
<rect x="3897" y="155.4" width="3" height="5.4" fill="#0000ff" />
<line x1="3904.5" y1="157.1" x2="3904.5" y2="162.5" stroke="#0000ff" stroke-width="1" />
<rect x="3903" y="158.5" width="3" height="3.3" fill="#0000ff" />
<line x1="3910.5" y1="161.1" x2="3910.5" y2="173" stroke="#0000ff" stroke-width="1" />
<rect x="3909" y="161.8" width="3" height="8.5" fill="#0000ff" />
<line x1="3916.5" y1="169.7" x2="3916.5" y2="188.8" stroke="#0000ff" stroke-width="1" />
<rect x="3915" y="170.3" width="3" height="17" fill="#0000ff" />
<line x1="3922.5" y1="185.2" x2="3922.5" y2="197.2" stroke="#0000ff" stroke-width="1" />
<rect x="3921" y="187.3" width="3" height="7.1" fill="#0000ff" />
<line x1="3928.5" y1="185.7" x2="3928.5" y2="195" stroke="#ff0000" stroke-width="1" />
<rect x="3927" y="188.5" width="3" height="5.9" fill="#ff0000" />
<line x1="3934.5" y1="183.3" x2="3934.5" y2="190.1" stroke="#0000ff" stroke-width="1" />
<rect x="3933" y="185.4" width="3" height="3.2" fill="#0000ff" />
<line x1="3940.5" y1="186.7" x2="3940.5" y2="195.6" stroke="#0000ff" stroke-width="1" />
<rect x="3939" y="188.6" width="3" height="6.5" fill="#0000ff" />
<line x1="3946.5" y1="193.9" x2="3946.5" y2="199.6" stroke="#ff0000" stroke-width="1" />
<rect x="3945" y="195.1" width="3" height="3.6" fill="#ff0000" />
<line x1="3952.5" y1="193.4" x2="3952.5" y2="204" stroke="#0000ff" stroke-width="1" />
<rect x="3951" y="195.1" width="3" height="6" fill="#0000ff" />
<line x1="3958.5" y1="195.6" x2="3958.5" y2="201.6" stroke="#ff0000" stroke-width="1" />
<rect x="3957" y="196.9" width="3" height="4.2" fill="#ff0000" />
<line x1="3964.5" y1="195.3" x2="3964.5" y2="201.2" stroke="#0000ff" stroke-width="1" />
<rect x="3963" y="196.9" width="3" height="2.7" fill="#0000ff" />
<line x1="3970.5" y1="194.7" x2="3970.5" y2="200.8" stroke="#ff0000" stroke-width="1" />
<rect x="3969" y="195.4" width="3" height="4.2" fill="#ff0000" />
<line x1="3976.5" y1="194.3" x2="3976.5" y2="201.1" stroke="#ff0000" stroke-width="1" />
<rect x="3975" y="195.1" width="3" height="3.9" fill="#ff0000" />
<line x1="3982.5" y1="186.3" x2="3982.5" y2="197.3" stroke="#ff0000" stroke-width="1" />
<rect x="3981" y="188.8" width="3" height="6.4" fill="#ff0000" />
<line x1="3988.5" y1="186.5" x2="3988.5" y2="195.7" stroke="#0000ff" stroke-width="1" />
<rect x="3987" y="188.8" width="3" height="5.5" fill="#0000ff" />
<line x1="3994.5" y1="189.9" x2="3994.5" y2="195.5" stroke="#ff0000" stroke-width="1" />
<rect x="3993" y="190.4" width="3" height="3.8" fill="#ff0000" />
<line x1="4000.5" y1="189.2" x2="4000.5" y2="195.3" stroke="#0000ff" stroke-width="1" />
<rect x="3999" y="190.4" width="3" height="3.4" fill="#0000ff" />
<line x1="4006.5" y1="173.8" x2="4006.5" y2="196.5" stroke="#ff0000" stroke-width="1" />
<rect x="4005" y="174.9" width="3" height="18.9" fill="#ff0000" />
<line x1="4012.5" y1="168.5" x2="4012.5" y2="175.9" stroke="#0000ff" stroke-width="1" />
<rect x="4011" y="171.4" width="3" height="3.7" fill="#0000ff" />
<line x1="4018.5" y1="173" x2="4018.5" y2="177.9" stroke="#ff0000" stroke-width="1" />
<rect x="4017" y="174.7" width="3" height="2.4" fill="#ff0000" />
<line x1="4024.5" y1="170.1" x2="4024.5" y2="177.6" stroke="#0000ff" stroke-width="1" />
<rect x="4023" y="171.9" width="3" height="2.8" fill="#0000ff" />
<polyline points="3466.4,52.9 3471.7,45.6 3476.9,44.3 3482.1,49.5 3489.9,50.8 3495.1,61.2 3505.5,63.3 3510.7,69 3518.5,74.2 3526.3,84.6 3534.1,83.3 3541.9,82 3549.7,87.7 3557.5,80.7 3565.3,72.9 3573.1,66.4 3586.1,65.1 3590,78.1 3592.6,83.3 3601.7,80.7 3612.1,82 3619.9,84.6 3630.3,85.9 3638.1,91.1 3648.5,91.1 3658.9,97.6 3670.6,85.9 3677.1,89.8 3684.9,96.3 3692.7,99.7 3705.7,98.1 3712.2,89.3 3716.1,110.6 3718.7,126.2 3726.5,129.9 3729.7,143.4 3737.5,148.6 3745.3,157.7 3753.1,162.9 3760.9,173.3 3766.1,187.6 3772.6,192.8 3784.3,190.2 3792.1,192.8 3802.5,199.3 3807.7,195.4 3814.2,200.6 3820.7,196.7 3825.9,195.4 3832.4,188.9 3838.4,194.1 3845.4,188.1 3850.6,189.7 3855.8,174.1 3862.3,175.1 3867.5,173.3 3874,173.3" fill="none" stroke="#008000" stroke-width="3" />
<rect x="3309" y="297.8" width="3" height="12.2" fill="#008c00" />
<rect x="3315" y="302.7" width="3" height="7.3" fill="#008c00" />
<rect x="3321" y="306.6" width="3" height="3.4" fill="#008c00" />
<rect x="3327" y="307.7" width="3" height="2.3" fill="#008c00" />
<rect x="3333" y="306.6" width="3" height="3.4" fill="#008c00" />
<rect x="3339" y="306.6" width="3" height="3.4" fill="#008c00" />
<rect x="3345" y="305.6" width="3" height="4.4" fill="#008c00" />
<rect x="3351" y="305.6" width="3" height="4.4" fill="#008c00" />
<rect x="3357" y="302.7" width="3" height="7.3" fill="#008c00" />
<rect x="3363" y="307.7" width="3" height="2.3" fill="#008c00" />
<rect x="3369" y="308.7" width="3" height="1.3" fill="#008c00" />
<rect x="3375" y="308.7" width="3" height="1.3" fill="#008c00" />
<rect x="3381" y="288.7" width="3" height="21.3" fill="#008c00" />
<rect x="3387" y="287.9" width="3" height="22.1" fill="#008c00" />
<rect x="3393" y="302.7" width="3" height="7.3" fill="#008c00" />
<rect x="3399" y="297.8" width="3" height="12.2" fill="#008c00" />
<rect x="3405" y="297.8" width="3" height="12.2" fill="#008c00" />
<rect x="3411" y="295.7" width="3" height="14.3" fill="#008c00" />
<rect x="3417" y="302.7" width="3" height="7.3" fill="#008c00" />
<rect x="3423" y="308.7" width="3" height="1.3" fill="#008c00" />
<rect x="3429" y="303.8" width="3" height="6.2" fill="#008c00" />
<rect x="3435" y="301.7" width="3" height="8.3" fill="#008c00" />
<rect x="3441" y="302.7" width="3" height="7.3" fill="#008c00" />
<rect x="3447" y="305.6" width="3" height="4.4" fill="#008c00" />
<rect x="3453" y="307.7" width="3" height="2.3" fill="#008c00" />
<rect x="3459" y="303.8" width="3" height="6.2" fill="#008c00" />
<rect x="3465" y="303.8" width="3" height="6.2" fill="#008c00" />
<rect x="3471" y="305.6" width="3" height="4.4" fill="#008c00" />
<rect x="3477" y="307.7" width="3" height="2.3" fill="#008c00" />
<rect x="3483" y="308.7" width="3" height="1.3" fill="#008c00" />
<rect x="3489" y="308.7" width="3" height="1.3" fill="#008c00" />
<rect x="3495" y="308.7" width="3" height="1.3" fill="#008c00" />
<rect x="3501" y="281.7" width="3" height="28.3" fill="#008c00" />
<rect x="3507" y="284.8" width="3" height="25.2" fill="#008c00" />
<rect x="3513" y="301.7" width="3" height="8.3" fill="#008c00" />
<rect x="3519" y="302.7" width="3" height="7.3" fill="#008c00" />
<rect x="3525" y="299.6" width="3" height="10.4" fill="#008c00" />
<rect x="3531" y="296.7" width="3" height="13.3" fill="#008c00" />
<rect x="3537" y="302.7" width="3" height="7.3" fill="#008c00" />
<rect x="3543" y="307.7" width="3" height="2.3" fill="#008c00" />
<rect x="3549" y="302.7" width="3" height="7.3" fill="#008c00" />
<rect x="3555" y="305.6" width="3" height="4.4" fill="#008c00" />
<rect x="3561" y="303.8" width="3" height="6.2" fill="#008c00" />
<rect x="3567" y="306.6" width="3" height="3.4" fill="#008c00" />
<rect x="3573" y="306.6" width="3" height="3.4" fill="#008c00" />
<rect x="3579" y="307.7" width="3" height="2.3" fill="#008c00" />
<rect x="3585" y="306.6" width="3" height="3.4" fill="#008c00" />
<rect x="3591" y="306.6" width="3" height="3.4" fill="#008c00" />
<rect x="3597" y="307.7" width="3" height="2.3" fill="#008c00" />
<rect x="3603" y="306.6" width="3" height="3.4" fill="#008c00" />
<rect x="3609" y="308.7" width="3" height="1.3" fill="#008c00" />
<rect x="3615" y="308.7" width="3" height="1.3" fill="#008c00" />
<rect x="3621" y="285.8" width="3" height="24.2" fill="#008c00" />
<rect x="3627" y="298.6" width="3" height="11.4" fill="#008c00" />
<rect x="3633" y="301.7" width="3" height="8.3" fill="#008c00" />
<rect x="3639" y="298.6" width="3" height="11.4" fill="#008c00" />
<rect x="3645" y="299.6" width="3" height="10.4" fill="#008c00" />
<rect x="3651" y="295.7" width="3" height="14.3" fill="#008c00" />
<rect x="3657" y="302.7" width="3" height="7.3" fill="#008c00" />
<rect x="3663" y="307.7" width="3" height="2.3" fill="#008c00" />
<rect x="3669" y="300.6" width="3" height="9.4" fill="#008c00" />
<rect x="3675" y="295.7" width="3" height="14.3" fill="#008c00" />
<rect x="3681" y="305.6" width="3" height="4.4" fill="#008c00" />
<rect x="3687" y="306.6" width="3" height="3.4" fill="#008c00" />
<rect x="3693" y="305.6" width="3" height="4.4" fill="#008c00" />
<rect x="3699" y="305.6" width="3" height="4.4" fill="#008c00" />
<rect x="3705" y="302.7" width="3" height="7.3" fill="#008c00" />
<rect x="3711" y="305.6" width="3" height="4.4" fill="#008c00" />
<rect x="3717" y="306.6" width="3" height="3.4" fill="#008c00" />
<rect x="3723" y="308.7" width="3" height="1.3" fill="#008c00" />
<rect x="3729" y="308.7" width="3" height="1.3" fill="#008c00" />
<rect x="3735" y="308.7" width="3" height="1.3" fill="#008c00" />
<rect x="3741" y="289.7" width="3" height="20.3" fill="#008c00" />
<rect x="3747" y="300.6" width="3" height="9.4" fill="#008c00" />
<rect x="3753" y="305.6" width="3" height="4.4" fill="#008c00" />
<rect x="3759" y="302.7" width="3" height="7.3" fill="#008c00" />
<rect x="3765" y="301.7" width="3" height="8.3" fill="#008c00" />
<rect x="3771" y="295.7" width="3" height="14.3" fill="#008c00" />
<rect x="3777" y="305.6" width="3" height="4.4" fill="#008c00" />
<rect x="3783" y="307.7" width="3" height="2.3" fill="#008c00" />
<rect x="3789" y="301.7" width="3" height="8.3" fill="#008c00" />
<rect x="3795" y="304.5" width="3" height="5.5" fill="#008c00" />
<rect x="3801" y="307.7" width="3" height="2.3" fill="#008c00" />
<rect x="3807" y="307.7" width="3" height="2.3" fill="#008c00" />
<rect x="3813" y="305.6" width="3" height="4.4" fill="#008c00" />
<rect x="3819" y="306.6" width="3" height="3.4" fill="#008c00" />
<rect x="3825" y="305.6" width="3" height="4.4" fill="#008c00" />
<rect x="3831" y="307.7" width="3" height="2.3" fill="#008c00" />
<rect x="3837" y="305.6" width="3" height="4.4" fill="#008c00" />
<rect x="3843" y="308.7" width="3" height="1.3" fill="#008c00" />
<rect x="3849" y="308.7" width="3" height="1.3" fill="#008c00" />
<rect x="3855" y="308.7" width="3" height="1.3" fill="#008c00" />
<rect x="3861" y="289.7" width="3" height="20.3" fill="#008c00" />
<rect x="3867" y="251" width="3" height="59" fill="#008c00" />
<rect x="3873" y="299.6" width="3" height="10.4" fill="#008c00" />
<rect x="3879" y="290.8" width="3" height="19.2" fill="#008c00" />
<rect x="3885" y="293.6" width="3" height="16.4" fill="#008c00" />
<rect x="3891" y="285.8" width="3" height="24.2" fill="#008c00" />
<rect x="3897" y="299.6" width="3" height="10.4" fill="#008c00" />
<rect x="3903" y="307.7" width="3" height="2.3" fill="#008c00" />
<rect x="3909" y="294.7" width="3" height="15.3" fill="#008c00" />
<rect x="3915" y="294.7" width="3" height="15.3" fill="#008c00" />
<rect x="3921" y="301.7" width="3" height="8.3" fill="#008c00" />
<rect x="3927" y="305.6" width="3" height="4.4" fill="#008c00" />
<rect x="3933" y="306.6" width="3" height="3.4" fill="#008c00" />
<rect x="3939" y="306.6" width="3" height="3.4" fill="#008c00" />
<rect x="3945" y="302.7" width="3" height="7.3" fill="#008c00" />
<rect x="3951" y="301.7" width="3" height="8.3" fill="#008c00" />
<rect x="3957" y="307.7" width="3" height="2.3" fill="#008c00" />
<rect x="3963" y="308.7" width="3" height="1.3" fill="#008c00" />
<rect x="3969" y="302.7" width="3" height="7.3" fill="#008c00" />
<rect x="3975" y="308.7" width="3" height="1.3" fill="#008c00" />
<rect x="3981" y="277.8" width="3" height="32.2" fill="#008c00" />
<rect x="3987" y="283.7" width="3" height="26.3" fill="#008c00" />
<rect x="3993" y="300.6" width="3" height="9.4" fill="#008c00" />
<rect x="3999" y="296.7" width="3" height="13.3" fill="#008c00" />
<rect x="4005" y="287.6" width="3" height="22.4" fill="#008c00" />
<rect x="4011" y="285.8" width="3" height="24.2" fill="#008c00" />
<rect x="4017" y="303.8" width="3" height="6.2" fill="#008c00" />
<rect x="4023" y="308.7" width="3" height="1.3" fill="#008c00" />
<line x1="3308" y1="310.5" x2="4019" y2="310.5" stroke="#000" stroke-width="1" />
<line x1="3310" y1="354.5" x2="4039" y2="354.5" stroke="#808080" stroke-width="1" />
<line x1="3436.5" y1="354.5" x2="3436.5" y2="356.1" stroke="#ff0000" stroke-width="1" />
<line x1="3442.5" y1="354.5" x2="3442.5" y2="356.6" stroke="#ff0000" stroke-width="1" />
<line x1="3448.5" y1="354.5" x2="3448.5" y2="357.1" stroke="#ff0000" stroke-width="1" />
<line x1="3454.5" y1="354.5" x2="3454.5" y2="357.9" stroke="#ff0000" stroke-width="1" />
<line x1="3460.5" y1="354.5" x2="3460.5" y2="358.4" stroke="#ff0000" stroke-width="1" />
<line x1="3466.5" y1="354.5" x2="3466.5" y2="359.2" stroke="#ff0000" stroke-width="1" />
<line x1="3472.5" y1="354.5" x2="3472.5" y2="359.2" stroke="#ff0000" stroke-width="1" />
<line x1="3478.5" y1="354.5" x2="3478.5" y2="358.7" stroke="#ff0000" stroke-width="1" />
<line x1="3484.5" y1="354.5" x2="3484.5" y2="357.9" stroke="#ff0000" stroke-width="1" />
<line x1="3490.5" y1="354.5" x2="3490.5" y2="357.1" stroke="#ff0000" stroke-width="1" />
<line x1="3496.5" y1="354.5" x2="3496.5" y2="356.1" stroke="#ff0000" stroke-width="1" />
<line x1="3508.5" y1="354.5" x2="3508.5" y2="354" stroke="#ff0000" stroke-width="1" />
<line x1="3514.5" y1="354.5" x2="3514.5" y2="353.2" stroke="#ff0000" stroke-width="1" />
<line x1="3520.5" y1="354.5" x2="3520.5" y2="352.7" stroke="#ff0000" stroke-width="1" />
<line x1="3526.5" y1="354.5" x2="3526.5" y2="351.4" stroke="#ff0000" stroke-width="1" />
<line x1="3532.5" y1="354.5" x2="3532.5" y2="352.7" stroke="#ff0000" stroke-width="1" />
<line x1="3538.5" y1="354.5" x2="3538.5" y2="352.7" stroke="#ff0000" stroke-width="1" />
<line x1="3544.5" y1="354.5" x2="3544.5" y2="352.7" stroke="#ff0000" stroke-width="1" />
<line x1="3550.5" y1="354.5" x2="3550.5" y2="351.4" stroke="#ff0000" stroke-width="1" />
<line x1="3556.5" y1="354.5" x2="3556.5" y2="351.4" stroke="#ff0000" stroke-width="1" />
<line x1="3562.5" y1="354.5" x2="3562.5" y2="350.9" stroke="#ff0000" stroke-width="1" />
<line x1="3568.5" y1="354.5" x2="3568.5" y2="350.9" stroke="#ff0000" stroke-width="1" />
<line x1="3574.5" y1="354.5" x2="3574.5" y2="351.4" stroke="#ff0000" stroke-width="1" />
<line x1="3580.5" y1="354.5" x2="3580.5" y2="351.4" stroke="#ff0000" stroke-width="1" />
<line x1="3586.5" y1="354.5" x2="3586.5" y2="351.4" stroke="#ff0000" stroke-width="1" />
<line x1="3592.5" y1="354.5" x2="3592.5" y2="351.4" stroke="#ff0000" stroke-width="1" />
<line x1="3598.5" y1="354.5" x2="3598.5" y2="352.2" stroke="#ff0000" stroke-width="1" />
<line x1="3604.5" y1="354.5" x2="3604.5" y2="352.2" stroke="#ff0000" stroke-width="1" />
<line x1="3610.5" y1="354.5" x2="3610.5" y2="352.2" stroke="#ff0000" stroke-width="1" />
<line x1="3616.5" y1="354.5" x2="3616.5" y2="352.2" stroke="#ff0000" stroke-width="1" />
<line x1="3622.5" y1="354.5" x2="3622.5" y2="351.4" stroke="#ff0000" stroke-width="1" />
<line x1="3628.5" y1="354.5" x2="3628.5" y2="351.4" stroke="#ff0000" stroke-width="1" />
<line x1="3634.5" y1="354.5" x2="3634.5" y2="352.7" stroke="#ff0000" stroke-width="1" />
<line x1="3640.5" y1="354.5" x2="3640.5" y2="354" stroke="#ff0000" stroke-width="1" />
<line x1="3658.5" y1="354.5" x2="3658.5" y2="356.1" stroke="#ff0000" stroke-width="1" />
<line x1="3664.5" y1="354.5" x2="3664.5" y2="356.6" stroke="#ff0000" stroke-width="1" />
<line x1="3670.5" y1="354.5" x2="3670.5" y2="357.9" stroke="#ff0000" stroke-width="1" />
<line x1="3676.5" y1="354.5" x2="3676.5" y2="359.7" stroke="#ff0000" stroke-width="1" />
<line x1="3682.5" y1="354.5" x2="3682.5" y2="359.7" stroke="#ff0000" stroke-width="1" />
<line x1="3688.5" y1="354.5" x2="3688.5" y2="359.7" stroke="#ff0000" stroke-width="1" />
<line x1="3694.5" y1="354.5" x2="3694.5" y2="359.2" stroke="#ff0000" stroke-width="1" />
<line x1="3700.5" y1="354.5" x2="3700.5" y2="359.2" stroke="#ff0000" stroke-width="1" />
<line x1="3706.5" y1="354.5" x2="3706.5" y2="357.9" stroke="#ff0000" stroke-width="1" />
<line x1="3712.5" y1="354.5" x2="3712.5" y2="357.9" stroke="#ff0000" stroke-width="1" />
<line x1="3718.5" y1="354.5" x2="3718.5" y2="356.6" stroke="#ff0000" stroke-width="1" />
<line x1="3730.5" y1="354.5" x2="3730.5" y2="354" stroke="#ff0000" stroke-width="1" />
<line x1="3736.5" y1="354.5" x2="3736.5" y2="353.2" stroke="#ff0000" stroke-width="1" />
<line x1="3868.5" y1="354.5" x2="3868.5" y2="356.6" stroke="#ff0000" stroke-width="1" />
<line x1="3874.5" y1="354.5" x2="3874.5" y2="358.7" stroke="#ff0000" stroke-width="1" />
<line x1="3880.5" y1="354.5" x2="3880.5" y2="360.5" stroke="#ff0000" stroke-width="1" />
<line x1="3886.5" y1="354.5" x2="3886.5" y2="361.8" stroke="#ff0000" stroke-width="1" />
<line x1="3892.5" y1="354.5" x2="3892.5" y2="362.6" stroke="#ff0000" stroke-width="1" />
<line x1="3898.5" y1="354.5" x2="3898.5" y2="363.6" stroke="#ff0000" stroke-width="1" />
<line x1="3904.5" y1="354.5" x2="3904.5" y2="363.1" stroke="#ff0000" stroke-width="1" />
<line x1="3910.5" y1="354.5" x2="3910.5" y2="363.6" stroke="#ff0000" stroke-width="1" />
<line x1="3916.5" y1="354.5" x2="3916.5" y2="364.4" stroke="#ff0000" stroke-width="1" />
<line x1="3922.5" y1="354.5" x2="3922.5" y2="364.9" stroke="#ff0000" stroke-width="1" />
<line x1="3928.5" y1="354.5" x2="3928.5" y2="363.6" stroke="#ff0000" stroke-width="1" />
<line x1="3934.5" y1="354.5" x2="3934.5" y2="362.6" stroke="#ff0000" stroke-width="1" />
<line x1="3940.5" y1="354.5" x2="3940.5" y2="361.3" stroke="#ff0000" stroke-width="1" />
<line x1="3946.5" y1="354.5" x2="3946.5" y2="359.7" stroke="#ff0000" stroke-width="1" />
<line x1="3952.5" y1="354.5" x2="3952.5" y2="358.7" stroke="#ff0000" stroke-width="1" />
<line x1="3958.5" y1="354.5" x2="3958.5" y2="357.4" stroke="#ff0000" stroke-width="1" />
<line x1="3964.5" y1="354.5" x2="3964.5" y2="355.8" stroke="#ff0000" stroke-width="1" />
<line x1="3982.5" y1="354.5" x2="3982.5" y2="352.7" stroke="#ff0000" stroke-width="1" />
<line x1="3988.5" y1="354.5" x2="3988.5" y2="351.9" stroke="#ff0000" stroke-width="1" />
<line x1="3994.5" y1="354.5" x2="3994.5" y2="350.1" stroke="#ff0000" stroke-width="1" />
<line x1="4000.5" y1="354.5" x2="4000.5" y2="349.6" stroke="#ff0000" stroke-width="1" />
<line x1="4006.5" y1="354.5" x2="4006.5" y2="347.5" stroke="#ff0000" stroke-width="1" />
<line x1="4012.5" y1="354.5" x2="4012.5" y2="346.2" stroke="#ff0000" stroke-width="1" />
<line x1="4018.5" y1="354.5" x2="4018.5" y2="346.2" stroke="#ff0000" stroke-width="1" />
<line x1="4024.5" y1="354.5" x2="4024.5" y2="346.2" stroke="#ff0000" stroke-width="1" />
<polyline points="3422.2,355.3 3435.2,356.6 3450.8,359.7 3466.4,363.9 3482.1,367 3497.7,367 3508.1,363.1 3523.7,358.7 3539.3,356.6 3554.9,352.7 3570.5,350.1 3591.3,348.3 3606.9,346.2 3622.5,343.1 3640.7,343.1 3653.7,345.7 3669.3,351.4 3682.3,356.6 3697.9,361.3 3713.5,361.3 3726.5,356.6 3739.5,356.1 3755.1,358.7 3775.9,359.7 3794.1,362.3 3817.6,363.1 3835.8,363.1 3861.8,362.6 3872.2,367 3887.8,376.1 3903.4,383.9 3916.4,390.4 3929.4,395.1 3950.2,396.9 3963.2,395.1 3970,394.3 3979.3,390.4 3994.9,385.2 4010.5,376.1 4023.5,370.9" fill="none" stroke="#ffff00" stroke-width="1" />
<polyline points="3310.4,354.5 3424.8,354.5 3445.6,356.6 3466.4,360.5 3482.1,363.6 3500.3,364.4 3518.5,361.8 3539.3,358.7 3560.1,356.1 3580.9,353.5 3601.7,350.9 3622.5,346.7 3640.7,344.9 3656.3,345.7 3671.9,348.3 3690.1,353.5 3705.7,356.6 3721.3,357.9 3742.1,356.6 3762.9,357.9 3783.7,358.7 3804.6,361.3 3825.4,363.1 3851.4,363.1 3872.2,363.6 3890.4,369.6 3908.6,376.9 3924.2,383.9 3939.8,389.6 3955.4,393 3970,393 3974.1,393 3989.7,391.7 4005.3,386.5 4023.5,379.5" fill="none" stroke="#0000ff" stroke-width="1" />
<line x1="3310" y1="445.5" x2="4019" y2="445.5" stroke="#0000ff" stroke-width="1" />
<line x1="3310" y1="481.5" x2="4019" y2="481.5" stroke="#ff0000" stroke-width="1" />
<polyline points="3400.1,476.7 3406.6,472 3414.4,471.2 3422.2,471.5 3430,473.3 3437.8,478.5 3445.6,482.4 3453.4,485 3461.2,487.6 3469.1,489.7 3482.1,490.2 3496.4,490.2 3502.9,483.7 3508.1,473.3 3514.6,462.9 3521.1,456.4 3528.9,454.3 3539.3,455.6 3549.7,453.8 3560.1,447.3 3570.5,443.9 3580.9,442.9 3590,444.7 3599.1,444.7 3609.5,441.3 3619.9,438.2 3627.7,437.7 3635.5,442.1 3643.3,452.5 3651.1,461.6 3660.2,472 3668,481.1 3675.8,486.3 3684.9,487.6 3695.3,487.6 3703.1,487.6 3712.2,485 3720,477.2 3729.1,465.5 3736.9,456.4 3744.7,456.4 3752.5,461.6 3762.9,468.1 3773.3,473.3 3783.7,476.7 3792.8,482.4 3802,483.7 3809.8,486.3 3817.6,485 3825.4,478.5 3833.2,475.4 3841,479.3 3848.8,483.7 3855.3,485 3861.8,479.8 3869.6,475.1 3874.8,474.6 3882.6,481.1 3890.4,485.5 3898.2,488.1 3908.6,488.9 3919,490.2 3929.4,490.7 3939.8,490.2 3950.2,490.2 3960.6,488.1 3970,487.6 3974.1,487.1 3984.5,479.8 3994.9,473.3 4000.1,470.7 4007.9,460.3 4015.7,451.2 4023.5,448.1" fill="none" stroke="#ff0000" stroke-width="1" />
<polyline points="3400.1,469.9 3409.2,471.2 3418.3,470.7 3424.8,474.1 3430,474.1 3435.2,481.9 3443,482.4 3448.2,486.3 3456,486.3 3466.4,491.5 3474.3,490.2 3493.8,490.2 3499,485 3502.9,473.3 3509.4,460.3 3514.6,455.1 3522.4,455.1 3526.3,453.3 3532.8,456.4 3539.3,456.4 3549.7,451.2 3556.2,444.7 3570.5,443.4 3580.9,442.1 3586.1,447.3 3590,444.7 3597.8,444.7 3606.9,439.5 3616,437.7 3622.5,435.6 3627.7,440.8 3635.5,448.1 3640.7,451.2 3645.9,462.9 3653.7,470.7 3662.8,481.1 3669.3,486.3 3674.5,488.1 3682.3,487.1 3688.8,488.1 3695.3,487.1 3700.5,488.1 3710.9,482.4 3718.7,469.4 3726.5,461.6 3736.2,448.1 3742.1,462.9 3752.5,466.8 3760.3,470.7 3766.8,471.5 3773.3,475.9 3783.7,479.3 3791.5,485 3796.7,483.7 3803.3,484.5 3809.2,489.4 3815,486.3 3820.2,475.9 3826.7,474.1 3833.2,476.7 3839.7,482.4 3846.2,485.5 3851.4,486.3 3856.6,483.7 3863.1,470.2 3868.3,473.3 3873.5,475.9 3880,482.4 3886.5,487.1 3895.6,487.6 3903.4,488.9 3913.8,489.7 3921.6,490.7 3929.4,490.7 3937.2,489.7 3946.3,490.7 3952.8,489.7 3958,487.1 3963.2,488.1 3970,487.1 3976.7,482.4 3981.9,475.9 3988.4,477.2 3994.9,469.4 4000.1,466.3 4006.6,450.7 4013.1,449.1 4023.5,447.3" fill="none" stroke="#0000ff" stroke-width="1" />
<rect x="3308" y="21" width="1" height="486" fill="#707070" />
<rect x="3309" y="21" width="1" height="486" fill="#000" />
<line x1="3308.5" y1="506" x2="3308.5" y2="537" stroke="#606060" stroke-width="1" />
<line x1="3308" y1="506.5" x2="4103" y2="506.5" stroke="#000" stroke-width="1" />
<line x1="4039.5" y1="21" x2="4039.5" y2="537" stroke="#000" stroke-width="1" />
<rect x="4104" y="0" width="1" height="537" fill="#707070" />
<line x1="3310.5" y1="507" x2="3310.5" y2="511" stroke="#000" stroke-width="1" />
<text x="3309.5" y="525.1" textLength="30" lengthAdjust="spacingAndGlyphs" class="n" fill="#000" xml:space="preserve">16:30</text>
<line x1="3358.5" y1="507" x2="3358.5" y2="515" stroke="#000" stroke-width="1" />
<text x="3357.5" y="525.1" textLength="30" lengthAdjust="spacingAndGlyphs" class="n" fill="#000" xml:space="preserve">03/29</text>
<line x1="3430.5" y1="507" x2="3430.5" y2="511" stroke="#000" stroke-width="1" />
<text x="3429.5" y="525.1" textLength="30" lengthAdjust="spacingAndGlyphs" class="n" fill="#000" xml:space="preserve">16:30</text>
<line x1="3478.5" y1="507" x2="3478.5" y2="515" stroke="#000" stroke-width="1" />
<text x="3477.5" y="525.1" textLength="30" lengthAdjust="spacingAndGlyphs" class="n" fill="#000" xml:space="preserve">03/30</text>
<line x1="3550.5" y1="507" x2="3550.5" y2="511" stroke="#000" stroke-width="1" />
<text x="3549.5" y="525.1" textLength="30" lengthAdjust="spacingAndGlyphs" class="n" fill="#000" xml:space="preserve">16:30</text>
<line x1="3598.5" y1="507" x2="3598.5" y2="515" stroke="#000" stroke-width="1" />
<text x="3597.5" y="525.1" textLength="30" lengthAdjust="spacingAndGlyphs" class="n" fill="#000" xml:space="preserve">03/31</text>
<line x1="3670.5" y1="507" x2="3670.5" y2="511" stroke="#000" stroke-width="1" />
<text x="3669.5" y="525.1" textLength="30" lengthAdjust="spacingAndGlyphs" class="n" fill="#000" xml:space="preserve">16:30</text>
<line x1="3718.5" y1="507" x2="3718.5" y2="515" stroke="#000" stroke-width="1" />
<text x="3717.5" y="525.1" textLength="30" lengthAdjust="spacingAndGlyphs" class="n" fill="#000" xml:space="preserve">04/03</text>
<line x1="3790.5" y1="507" x2="3790.5" y2="511" stroke="#000" stroke-width="1" />
<text x="3789.5" y="525.1" textLength="30" lengthAdjust="spacingAndGlyphs" class="n" fill="#000" xml:space="preserve">16:30</text>
<line x1="3838.5" y1="507" x2="3838.5" y2="515" stroke="#000" stroke-width="1" />
<text x="3837.5" y="525.1" textLength="30" lengthAdjust="spacingAndGlyphs" class="n" fill="#000" xml:space="preserve">04/04</text>
<line x1="3910.5" y1="507" x2="3910.5" y2="511" stroke="#000" stroke-width="1" />
<text x="3909.5" y="525.1" textLength="30" lengthAdjust="spacingAndGlyphs" class="n" fill="#000" xml:space="preserve">16:30</text>
<line x1="3958.5" y1="507" x2="3958.5" y2="515" stroke="#000" stroke-width="1" />
<text x="3957.5" y="525.1" textLength="30" lengthAdjust="spacingAndGlyphs" class="n" fill="#000" xml:space="preserve">04/05</text>
<line x1="4030.5" y1="507" x2="4030.5" y2="511" stroke="#000" stroke-width="1" />
<text x="4029.5" y="525.1" textLength="12" lengthAdjust="spacingAndGlyphs" class="n" fill="#000" xml:space="preserve">16</text>
<line x1="4040" y1="39.5" x2="4045" y2="39.5" stroke="#000" stroke-width="1" />
<text x="4048" y="43.7" textLength="36" lengthAdjust="spacingAndGlyphs" class="n" fill="#000" xml:space="preserve">10,200</text>
<line x1="4040" y1="88.5" x2="4045" y2="88.5" stroke="#000" stroke-width="1" />
<text x="4048" y="92.7" textLength="36" lengthAdjust="spacingAndGlyphs" class="n" fill="#000" xml:space="preserve">10,050</text>
<line x1="4040" y1="137.5" x2="4045" y2="137.5" stroke="#000" stroke-width="1" />
<text x="4048" y="141.7" textLength="30" lengthAdjust="spacingAndGlyphs" class="n" fill="#000" xml:space="preserve">9,900</text>
<line x1="4040" y1="186.5" x2="4045" y2="186.5" stroke="#000" stroke-width="1" />
<text x="4048" y="190.7" textLength="30" lengthAdjust="spacingAndGlyphs" class="n" fill="#000" xml:space="preserve">9,750</text>
<line x1="4040" y1="251.5" x2="4045" y2="251.5" stroke="#000" stroke-width="1" />
<text x="4048" y="255.7" textLength="36" lengthAdjust="spacingAndGlyphs" class="n" fill="#000" xml:space="preserve">215.00</text>
<line x1="4040" y1="288.5" x2="4045" y2="288.5" stroke="#000" stroke-width="1" />
<text x="4048" y="292.7" textLength="30" lengthAdjust="spacingAndGlyphs" class="n" fill="#000" xml:space="preserve">80.00</text>
<line x1="4040" y1="342.5" x2="4045" y2="342.5" stroke="#000" stroke-width="1" />
<text x="4048" y="346.7" textLength="30" lengthAdjust="spacingAndGlyphs" class="n" fill="#000" xml:space="preserve">25.00</text>
<line x1="4040" y1="378.5" x2="4045" y2="378.5" stroke="#000" stroke-width="1" />
<text x="4048" y="382.7" textLength="36" lengthAdjust="spacingAndGlyphs" class="n" fill="#000" xml:space="preserve">-50.00</text>
<line x1="4040" y1="433.5" x2="4045" y2="433.5" stroke="#000" stroke-width="1" />
<text x="4048" y="437.7" textLength="36" lengthAdjust="spacingAndGlyphs" class="n" fill="#000" xml:space="preserve">100.00</text>
<line x1="4040" y1="469.5" x2="4045" y2="469.5" stroke="#000" stroke-width="1" />
<text x="4048" y="473.7" textLength="30" lengthAdjust="spacingAndGlyphs" class="n" fill="#000" xml:space="preserve">40.00</text>
<rect x="4042.5" y="308.5" width="45" height="12" fill="#fff" stroke="#000" stroke-width="1"/>
<text x="4045" y="318.1" textLength="36" lengthAdjust="spacingAndGlyphs" class="n" fill="#000" xml:space="preserve">× 1000</text>
<rect x="4087.5" y="23.5" width="13" height="12" fill="#f0f0f0" stroke="#a0a0a0" stroke-width="1"/>
<path d="M4090 27 h8 l-4 5 z" fill="#606060"/>
<rect x="4087.5" y="235" width="13" height="12" fill="#f0f0f0" stroke="#a0a0a0" stroke-width="1"/>
<path d="M4090 238.5 h8 l-4 5 z" fill="#606060"/>
<rect x="4087.5" y="326.5" width="13" height="12" fill="#f0f0f0" stroke="#a0a0a0" stroke-width="1"/>
<path d="M4090 330 h8 l-4 5 z" fill="#606060"/>
<rect x="4087.5" y="417.5" width="13" height="12" fill="#f0f0f0" stroke="#a0a0a0" stroke-width="1"/>
<path d="M4090 421 h8 l-4 5 z" fill="#606060"/>
</svg>
</body></html>
